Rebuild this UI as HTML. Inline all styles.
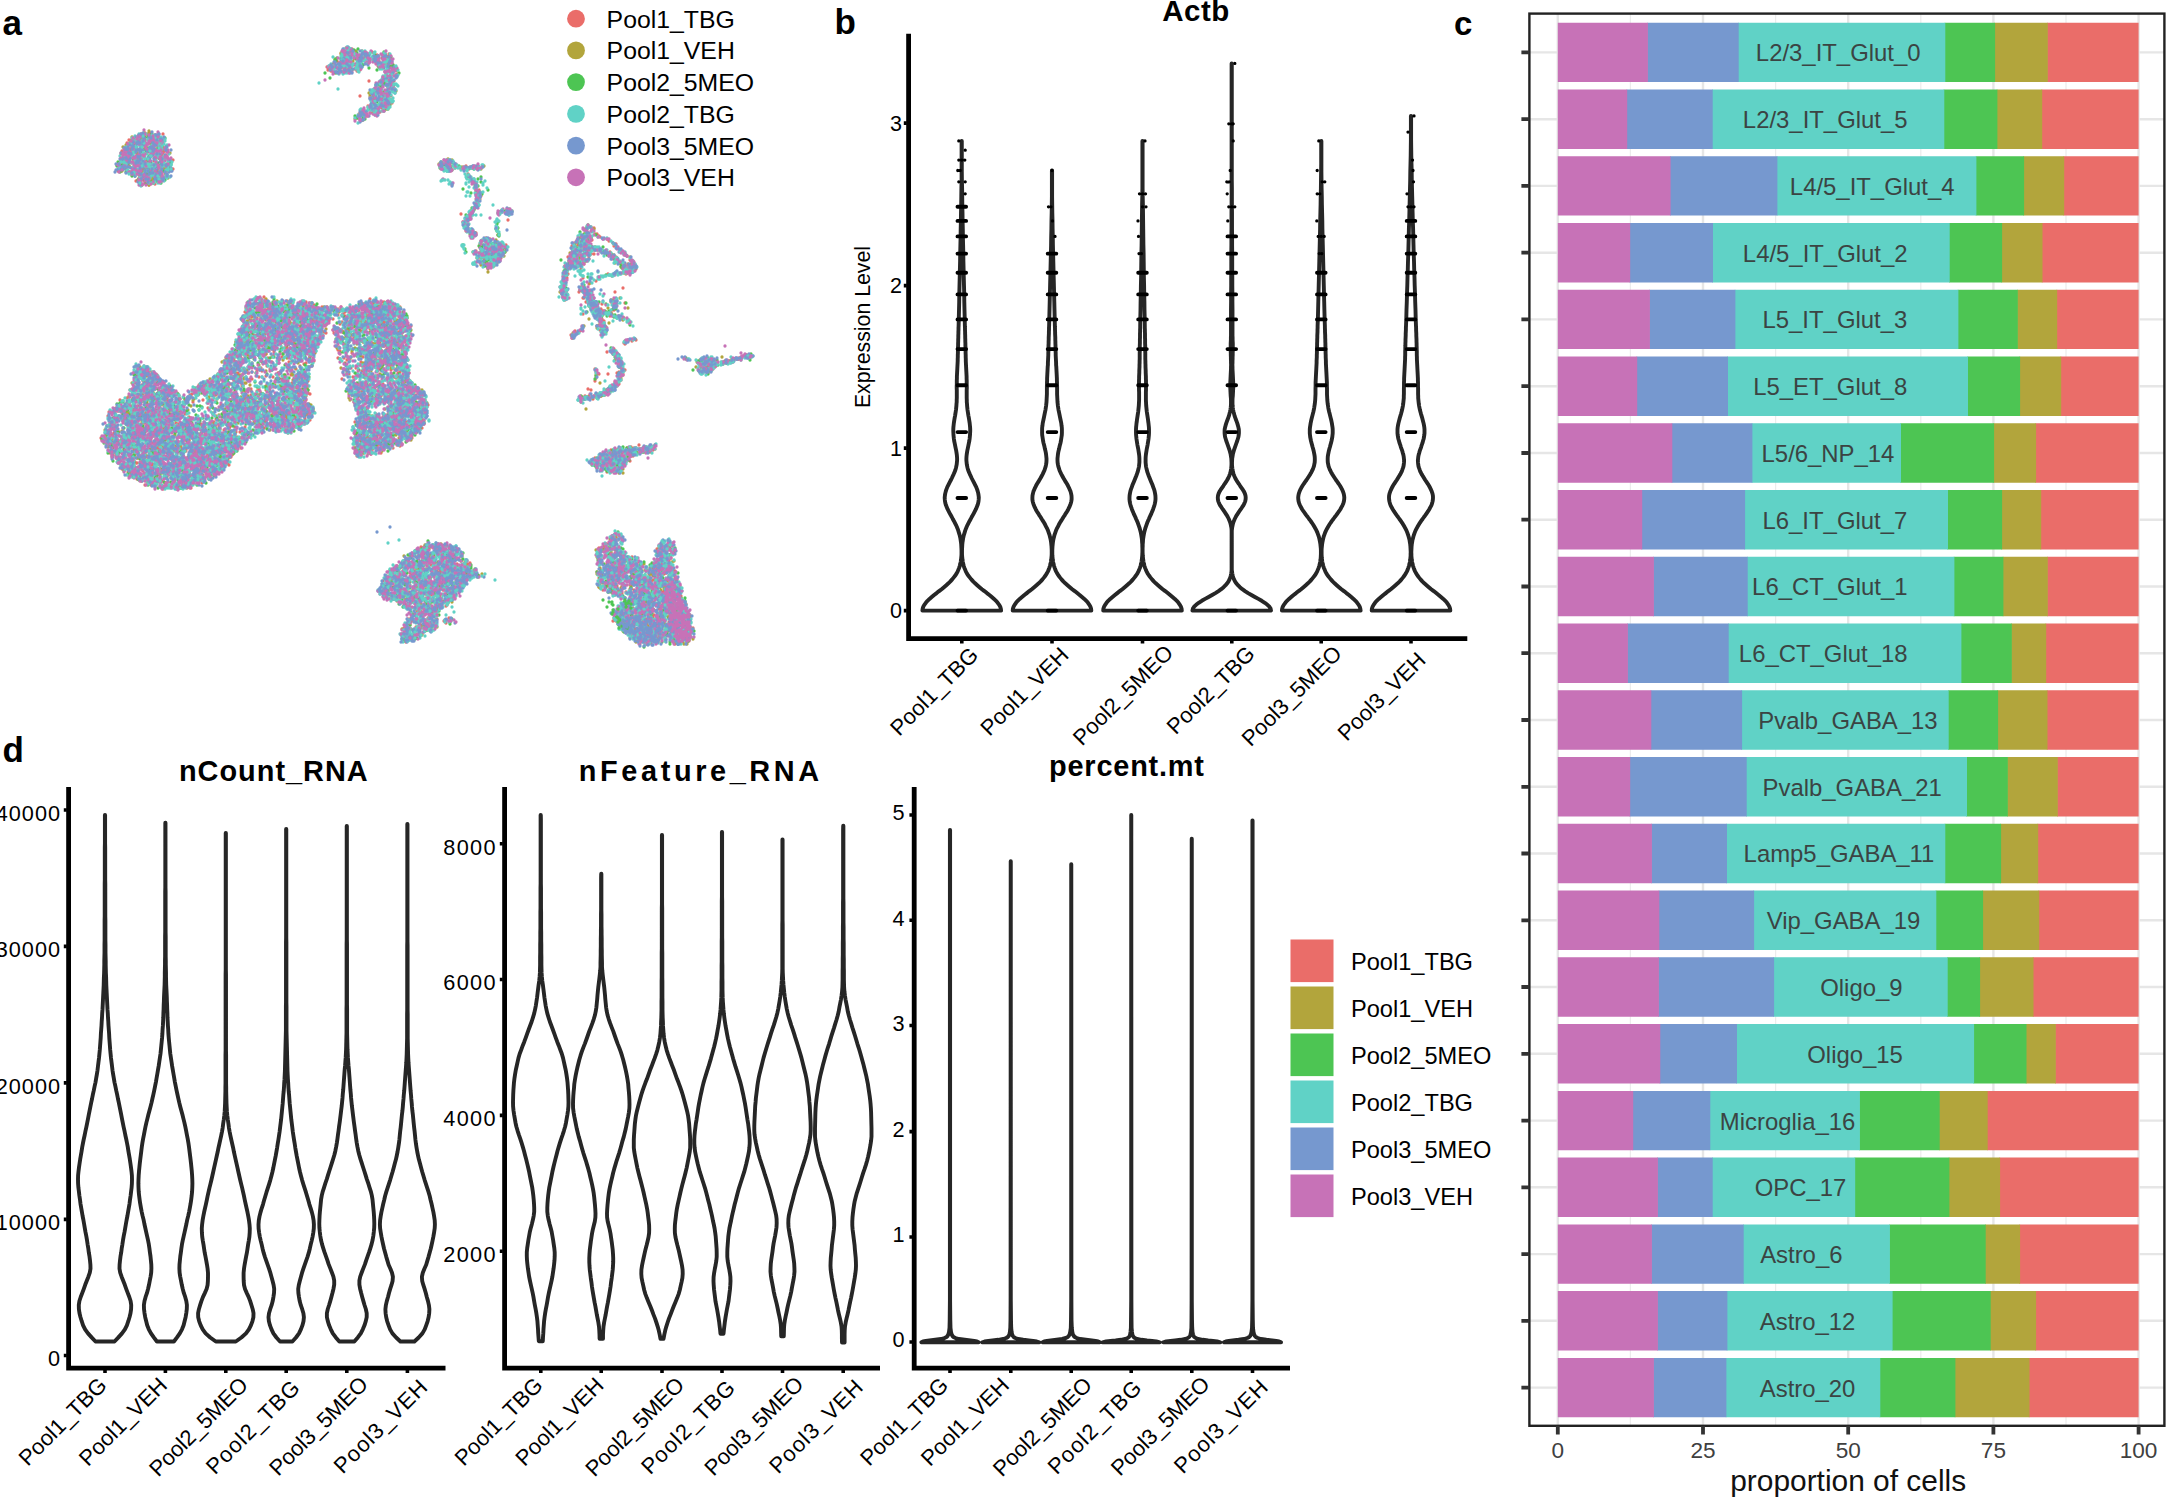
<!DOCTYPE html>
<html><head><meta charset="utf-8"><title>Figure</title>
<style>html,body{margin:0;padding:0;background:#fff}svg{display:block}text{font-family:"Liberation Sans",sans-serif}</style></head>
<body>
<svg width="2168" height="1498" viewBox="0 0 2168 1498">
<rect width="2168" height="1498" fill="#fff"/>
<g id="panel-a"><g fill="none" stroke-width="3.3" stroke-linecap="round">
<path d="M346 48h0m5 2h0m1-1h0m10 2h0m-21 3h0m3 0h0m1-2h0m6 1h0m0 3h0m5 1h0m3-1h0m6-4h0m3 5h0m4-5h0m2 1h0m2 4h0m1-2h0m1 1h0m7-2h0m1 2h0m2 1h0m1-1h0m0-2h0m-52 7h0m2 2h0m3-1h0m10 1h0m3-5h0m3 4h0m6-2h0m12 3h0m2-1h0m1-1h0m3-3h0m3 0h0m2 0h0m0 5h0m1-4h0m1-1h0m0 2h0m1 0h0m-63 7h0m1 1h0m5-4h0m8 4h0m7 0h0m0-3h0m3 4h0m0-3h0m4-1h0m23 1h0m1 1h0m1 1h0m1-1h0m1-1h0m0 0h0m6 1h0m2 0h0m3-2h0m-65 5h0m3 1h0m0 0h0m2 0h0m1 2h0m11-1h0m0 0h0m10-3h0m2 2h0m0 0h0m2-2h0m1 1h0m25 1h0m1 1h0m9-2h0m2 4h0m-28 7h0m14-3h0m0 1h0m7-3h0m2 4h0m2 1h0m2-6h0m-8 11h0m1 0h0m2-4h0m1 1h0m-16 7h0m3 3h0m1 0h0m0-2h0m1-1h0m3 2h0m4 0h0m2-4h0m-30 8h0m14 0h0m0-1h0m1 0h0m1-2h0m7 5h0m1-5h0m1 5h0m0-5h0m1 5h0m2-3h0m3 1h0m-20 3h0m1 2h0m0 0h0m1 0h0m1-2h0m6 5h0m3 1h0m1-3h0m0 1h0m1 0h0m0-3h0m6 0h0m1 3h0m-24 3h0m9 4h0m3-4h0m0 1h0m2 1h0m2 3h0m2-6h0m3 2h0m-30 7h0m4-2h0m1 4h0m3 0h0m3-3h0m3-1h0m7 0h0m-25 7h0m3-1h0m1-1h0m1 3h0m2 0h0m-221 14h0m1 0h0m1 0h0m2-1h0m3 1h0m2 0h0m0-1h0m5 2h0m8-1h0m-34 6h0m2 0h0m3-1h0m3 1h0m2-5h0m1 2h0m0 2h0m1-2h0m1 4h0m2 0h0m1-5h0m0 4h0m3-5h0m3 3h0m5 2h0m5-2h0m-34 5h0m5-2h0m3 2h0m1-1h0m10 3h0m0 2h0m3-4h0m11-1h0m2 4h0m-41 7h0m1-2h0m5-4h0m2 2h0m1 0h0m1 3h0m3 0h0m3-2h0m2 0h0m1-1h0m5-2h0m3 5h0m1-1h0m6 0h0m3 1h0m0-5h0m1 1h0m1-1h0m2 4h0m0-1h0m0 1h0m1 1h0m1-3h0m0 0h0m1 2h0m-44 3h0m3 0h0m0 3h0m2-4h0m1 4h0m4 0h0m6-3h0m1 5h0m1-5h0m5 1h0m5 3h0m0-1h0m1 0h0m0-1h0m4 2h0m3-2h0m1-1h0m1 3h0m3-3h0m1-2h0m3 2h0m-49 10h0m4-1h0m0 0h0m7-1h0m2-1h0m2 1h0m1-1h0m0 0h0m4 1h0m1-1h0m0 2h0m0-3h0m7 3h0m1-4h0m4 5h0m3 0h0m1-4h0m6-2h0m10 6h0m3-5h0m268 4h0m1 1h0m4 0h0m7-3h0m-335 9h0m1-5h0m0 4h0m2 1h0m0-3h0m5 1h0m3-3h0m13 3h0m1 1h0m1-1h0m5 2h0m1-6h0m1 4h0m2-4h0m4 2h0m0 4h0m1-1h0m2-3h0m3 3h0m1-2h0m2-1h0m2-2h0m2 1h0m3 3h0m267-3h0m5 4h0m1-2h0m1 2h0m0-1h0m3 0h0m0 2h0m5-6h0m0 2h0m0 1h0m5 0h0m6-2h0m3 3h0m3-2h0m5-1h0m-345 9h0m4-2h0m3 2h0m0-1h0m7-2h0m2 2h0m6-2h0m6 0h0m3-1h0m2 3h0m2-3h0m301 3h0m-332 7h0m0 0h0m2-1h0m1-2h0m4 2h0m2 3h0m8-3h0m1-2h0m1 1h0m1 1h0m1 0h0m1-1h0m5 1h0m310 0h0m0 3h0m1 0h0m-333 1h0m7 0h0m1 1h0m6-1h0m297 1h0m24 6h0m0-1h0m2 4h0m0 1h0m1-5h0m1 2h0m1 2h0m-3 7h0m0-1h0m0-2h0m1 2h0m1-1h0m1-3h0m-4 7h0m-5 9h0m0-2h0m1-1h0m0 1h0m2-2h0m23 5h0m2-1h0m6 1h0m0-1h0m1-2h0m2 2h0m3-1h0m-51 3h0m5 5h0m5-3h0m0 0h0m-8 6h0m1 1h0m1 2h0m3-5h0m40 0h0m-42 11h0m0-2h0m2-1h0m29 1h0m94-1h0m0-1h0m3 1h0m-124 4h0m6 1h0m0 2h0m0 0h0m22 0h0m83 2h0m1-1h0m4-5h0m2 2h0m3 4h0m6-3h0m2 2h0m1 1h0m-119 4h0m3-2h0m2 2h0m0-3h0m1 1h0m3 0h0m6 3h0m1 0h0m79 0h0m8-1h0m3 0h0m3 0h0m0-2h0m2 1h0m8-3h0m7 2h0m2 2h0m-129 6h0m0-3h0m10 4h0m7-3h0m0-1h0m1 1h0m1 0h0m1 3h0m0-4h0m6 1h0m66 1h0m6-1h0m1-2h0m4 6h0m4-3h0m3-1h0m2 2h0m1 2h0m5-1h0m16-2h0m2-2h0m-140 7h0m5-1h0m3 2h0m4 1h0m0-3h0m3 5h0m0-5h0m1 0h0m0 0h0m0 3h0m0-3h0m6 4h0m2-2h0m2 1h0m3-1h0m1-2h0m70 1h0m5 4h0m3-6h0m2 1h0m2 4h0m3-5h0m0 5h0m3-4h0m0 4h0m4-4h0m0 0h0m11 4h0m1-2h0m1 2h0m-134 4h0m1-1h0m1-1h0m0 0h0m0 1h0m4 0h0m0-1h0m1 4h0m0-2h0m1 0h0m2-1h0m0-1h0m1 3h0m2-3h0m3 4h0m1-3h0m3-2h0m3 4h0m1-1h0m67-1h0m2 0h0m1-2h0m13 0h0m1 5h0m0-5h0m3 4h0m1-3h0m0 3h0m23-4h0m4 2h0m11-1h0m3 4h0m-150 1h0m4 1h0m2 1h0m0-2h0m7 3h0m1 2h0m79-1h0m1-3h0m2 0h0m0 0h0m3 3h0m2-3h0m3 0h0m0 2h0m35-1h0m2 0h0m1-1h0m0 4h0m2 0h0m4-1h0m3 0h0m4 2h0m-147 1h0m0 1h0m78-1h0m1 2h0m0-3h0m13 4h0m1-3h0m43-1h0m3 2h0m2-1h0m0 3h0m1-2h0m0 1h0m1-3h0m0 1h0m1 2h0m4-1h0m-71 8h0m0-3h0m1 2h0m1 2h0m0-3h0m1-1h0m15 4h0m25-4h0m4 2h0m14-2h0m2-1h0m-65 11h0m1-4h0m0 3h0m25 1h0m7-3h0m-34 9h0m0-3h0m0 0h0m3 1h0m2 2h0m14-3h0m1 2h0m1-4h0m5 6h0m35-3h0m0 0h0m-359 9h0m299-3h0m1-1h0m0 0h0m1-2h0m1 4h0m1-1h0m12-2h0m6 1h0m2 3h0m1-3h0m1 1h0m26-2h0m-359 8h0m5-1h0m3 3h0m2-2h0m21 1h0m1 1h0m3 1h0m10 0h0m5-1h0m64-3h0m5 3h0m7 0h0m2 0h0m181-2h0m18-2h0m1 0h0m2 4h0m2-2h0m3 1h0m1 1h0m0-1h0m1 0h0m3 1h0m15 0h0m3 1h0m-368 5h0m13 0h0m2-1h0m0-1h0m1 0h0m3 1h0m1-1h0m2-3h0m1 5h0m4 0h0m7-5h0m1 2h0m1-2h0m0 5h0m5 1h0m2-2h0m2-4h0m0 0h0m3 5h0m5-4h0m4 2h0m1 2h0m2-4h0m7 3h0m1-2h0m2 3h0m1 0h0m5-1h0m11 0h0m8 0h0m18 0h0m1 0h0m2-1h0m5 3h0m5-4h0m2-1h0m4 2h0m3 2h0m2-2h0m8-2h0m1 1h0m1 4h0m5-1h0m0-1h0m2 0h0m189-4h0m2 5h0m0-4h0m1 4h0m1-1h0m0-4h0m2 3h0m1 2h0m5 1h0m1-5h0m12 4h0m0-4h0m11-1h0m-380 9h0m2 1h0m1 0h0m9-2h0m4 1h0m1 1h0m5-3h0m3 5h0m2-5h0m2 2h0m0 0h0m0-2h0m2 4h0m2-4h0m1-1h0m2 1h0m4 1h0m3 2h0m0 1h0m1-2h0m4 3h0m2-2h0m1-1h0m1 3h0m3-4h0m6-2h0m2 4h0m5-3h0m2 2h0m4 0h0m0 2h0m2-4h0m0 3h0m1-2h0m0 0h0m16 4h0m0-6h0m5 5h0m2-2h0m0 0h0m1-2h0m3 1h0m2 0h0m1 3h0m2-4h0m1 2h0m4-1h0m4 3h0m2 0h0m0-3h0m0 2h0m1 2h0m1-4h0m5 1h0m0 3h0m1-2h0m5-2h0m3 0h0m3 1h0m1-3h0m14 3h0m184 2h0m10-5h0m2 0h0m0 4h0m0 2h0m1-3h0m0 2h0m1-1h0m2 0h0m1 0h0m3-2h0m3 1h0m5 1h0m1-3h0m2 0h0m-370 6h0m5 3h0m2-4h0m1 2h0m2-1h0m6 0h0m1 2h0m1-2h0m1 4h0m3-1h0m0-1h0m3 0h0m1 0h0m1-1h0m4 2h0m4 1h0m0-4h0m1-1h0m2 5h0m3 0h0m2 0h0m1-5h0m1 2h0m8-1h0m2 1h0m3-1h0m2 2h0m1-2h0m0 2h0m1 0h0m2-3h0m3 3h0m2 1h0m1 2h0m3-4h0m1 1h0m1 3h0m1-5h0m5 3h0m1-1h0m0-1h0m7 2h0m12-3h0m0 3h0m7-1h0m1-2h0m2 1h0m3 1h0m4 0h0m0 3h0m2-5h0m3 0h0m1 3h0m1-4h0m10 4h0m4-1h0m2-1h0m3-2h0m2 3h0m1-3h0m1 2h0m6 4h0m1-4h0m1-1h0m0 1h0m1 3h0m2-1h0m0-2h0m2 1h0m0 1h0m1 0h0m1-1h0m0 0h0m188-3h0m1 1h0m5 1h0m1 2h0m0-4h0m8 1h0m12 3h0m-379 7h0m5-4h0m5 4h0m6-3h0m0 1h0m3 1h0m4 2h0m3-4h0m7-1h0m2 4h0m4 0h0m3-3h0m1 0h0m0 1h0m1 0h0m2 0h0m11 2h0m1-4h0m7-1h0m0 2h0m7-1h0m2 2h0m0-2h0m0 2h0m1-2h0m4 4h0m1 0h0m3-3h0m3-2h0m11 3h0m2-2h0m6 3h0m1-3h0m0 5h0m6-3h0m1 1h0m1-3h0m3 1h0m2 2h0m0 0h0m1 0h0m0 1h0m2-3h0m4 3h0m2-4h0m6 0h0m3 3h0m0 1h0m1-3h0m0 0h0m2 4h0m1-4h0m0-1h0m0 1h0m2-2h0m0 5h0m9-5h0m1 1h0m3 4h0m2 0h0m1-2h0m4-3h0m1 4h0m1 0h0m0 2h0m3-1h0m189-5h0m0 0h0m4 3h0m0 1h0m0-4h0m1 5h0m-364 6h0m6-3h0m0 0h0m2 2h0m11-2h0m2 0h0m3 0h0m1 0h0m2-1h0m0 1h0m3 3h0m3-3h0m2 1h0m9 1h0m3 0h0m3 0h0m1-2h0m1 2h0m0-2h0m4 3h0m1-2h0m0-1h0m8-1h0m0 2h0m3 1h0m1-4h0m0 6h0m10-5h0m2 3h0m2 1h0m2 1h0m7-3h0m9 1h0m1 1h0m1 0h0m4-3h0m1 0h0m1 3h0m7-4h0m3 0h0m1 3h0m3 0h0m2-3h0m4 1h0m10 3h0m1-3h0m1 0h0m1 3h0m9-1h0m2 0h0m3 1h0m2 0h0m1-1h0m1-1h0m1-1h0m1 2h0m172 0h0m5 0h0m2-1h0m18 0h0m2 2h0m0 0h0m1-4h0m-363 8h0m5-2h0m1-1h0m0 3h0m1-3h0m1 0h0m0 5h0m5-4h0m4 1h0m3-2h0m0 1h0m4 0h0m1 4h0m0-4h0m4 3h0m0-2h0m1 3h0m4 0h0m1-5h0m7 2h0m1 2h0m1-3h0m0 0h0m7-1h0m2 1h0m2 2h0m1-3h0m0 2h0m1 4h0m4-5h0m2 1h0m1 1h0m2 2h0m4-5h0m0 1h0m5 4h0m5-3h0m1 3h0m1-3h0m12-2h0m12 0h0m0 5h0m4-1h0m0-4h0m4 5h0m1-3h0m1-1h0m3 5h0m6 0h0m9-5h0m6 3h0m0 0h0m3 2h0m4-5h0m1 4h0m1-4h0m0 0h0m3 1h0m2-2h0m0 5h0m1 0h0m4 0h0m2 0h0m8-2h0m162-1h0m1 3h0m5-5h0m1 0h0m-342 10h0m0 0h0m0-1h0m2-2h0m2 1h0m3 1h0m1 2h0m1 1h0m1-3h0m0 1h0m0 1h0m1 1h0m4-1h0m0 0h0m7-4h0m5 4h0m4-3h0m0 3h0m2-4h0m0-1h0m12 2h0m1 1h0m0-2h0m5-1h0m3 3h0m3 1h0m1-1h0m6 1h0m1-3h0m3 2h0m2-2h0m0 1h0m2 0h0m1 0h0m3 2h0m1-3h0m0 3h0m3 1h0m1 0h0m1 0h0m28-1h0m0 0h0m1-1h0m13-2h0m4 2h0m6-2h0m2 4h0m5-2h0m3 1h0m4 2h0m2 0h0m0-4h0m0 3h0m3-2h0m3-2h0m8 0h0m2 3h0m3-2h0m0 1h0m4-1h0m215 2h0m1 1h0m7-3h0m4-1h0m-399 7h0m1-1h0m2 4h0m1-3h0m1 3h0m0-3h0m1 0h0m3 4h0m1-5h0m1 3h0m2-3h0m1 1h0m0 1h0m14-2h0m1 4h0m1-2h0m1 1h0m1-2h0m3 2h0m1 0h0m0-4h0m9 3h0m5-1h0m0 1h0m6 2h0m1 0h0m2-5h0m1 0h0m1 0h0m2 3h0m2 2h0m1-5h0m0 5h0m1-4h0m0 1h0m34 3h0m1-3h0m1 4h0m7-3h0m16 1h0m2-3h0m1 2h0m7-2h0m2 1h0m1 1h0m1-2h0m2 3h0m3-3h0m4 4h0m1-1h0m2-4h0m0 0h0m0 2h0m1 0h0m3 3h0m3 0h0m1-4h0m2 1h0m2-2h0m1 5h0m2-2h0m2 1h0m0 1h0m208-1h0m-383 7h0m3-3h0m1 1h0m2 0h0m1 1h0m2 2h0m1-6h0m1 2h0m0 1h0m1-2h0m6 3h0m5 2h0m6-4h0m3 2h0m1 1h0m2-2h0m6 3h0m2-5h0m14 1h0m7 0h0m1 1h0m12-1h0m1 0h0m3-1h0m3 0h0m37 1h0m6 1h0m5 3h0m2-6h0m4 1h0m0 0h0m7 1h0m2 0h0m2 0h0m1 3h0m2-2h0m3 2h0m3-2h0m1-3h0m5 6h0m0-5h0m10-1h0m202 1h0m5 0h0m1 1h0m5 3h0m0-2h0m129 1h0m-513 8h0m4-6h0m2 1h0m5-1h0m1 3h0m22-2h0m4 4h0m10-5h0m7 5h0m3-1h0m6-3h0m8 5h0m4-6h0m4 4h0m24-3h0m6 0h0m3 2h0m14 3h0m0-1h0m4 1h0m3 0h0m3-4h0m2 4h0m2-4h0m4 1h0m2 0h0m1 3h0m4-4h0m1-2h0m1 5h0m1-3h0m1 3h0m1-5h0m2 5h0m0-1h0m1 1h0m2-4h0m5 3h0m2-1h0m2 3h0m3-3h0m211-2h0m2 3h0m63-3h0m16 3h0m3-1h0m1 1h0m1 0h0m2-2h0m0 2h0m2-1h0m3 2h0m0 0h0m1-2h0m0 2h0m12-1h0m1 1h0m2 0h0m1-1h0m3-2h0m0 3h0m4-3h0m3-1h0m0 1h0m-596 10h0m3-1h0m1 1h0m79-3h0m7 2h0m1-2h0m0-3h0m2 2h0m1-2h0m0 4h0m4-3h0m0 0h0m10 3h0m1-4h0m9 5h0m6-2h0m3 3h0m5-3h0m3-3h0m18 6h0m4-3h0m4-2h0m5 3h0m3-1h0m33-3h0m6 5h0m5 0h0m6-2h0m0-1h0m3 0h0m1 0h0m2 2h0m2 0h0m1 0h0m3-3h0m5 5h0m1-6h0m2 5h0m8-3h0m1 0h0m2-1h0m9 0h0m0 3h0m1 2h0m1-5h0m0 4h0m2-2h0m189 3h0m23-5h0m4 2h0m0 1h0m1 2h0m80-2h0m2 0h0m1-1h0m0-2h0m4 0h0m2 2h0m2 1h0m2-1h0m1-2h0m9-1h0m-591 9h0m4 0h0m1 1h0m0 0h0m0 1h0m8-2h0m1-1h0m3 1h0m1 3h0m0 0h0m4 0h0m61-1h0m5-4h0m8 1h0m1-1h0m1 1h0m2 2h0m0 0h0m2-4h0m1 4h0m0 2h0m10-2h0m4-1h0m5-1h0m0-1h0m5 1h0m16 2h0m1 1h0m11-5h0m10 4h0m2-1h0m45-1h0m2 3h0m13-3h0m4 3h0m1-4h0m10 1h0m14-1h0m7 3h0m2-1h0m9 1h0m187-1h0m3 2h0m9 0h0m9-1h0m2-1h0m4 2h0m2-4h0m77-1h0m0 2h0m4-2h0m1 3h0m1 1h0m5-4h0m-576 10h0m3-2h0m3 4h0m2-5h0m0 5h0m1 0h0m2 0h0m1-1h0m2-1h0m62 0h0m6 2h0m3-4h0m2-1h0m1 5h0m5-3h0m9-1h0m5 2h0m6 0h0m2 0h0m7-2h0m7-1h0m7 1h0m6 1h0m3 1h0m3-1h0m1-1h0m5-2h0m6 4h0m0 1h0m2-2h0m2-3h0m1 1h0m6 4h0m34-1h0m11-2h0m4-2h0m6 1h0m3-1h0m3 2h0m7 3h0m1-2h0m10 0h0m7-1h0m2 1h0m9 0h0m1 3h0m2-3h0m0 0h0m187 3h0m1-3h0m24 2h0m0 0h0m1 0h0m2-5h0m-488 8h0m3 1h0m4 1h0m2 1h0m1 1h0m3-2h0m3-2h0m3 3h0m0-5h0m3 0h0m1 3h0m6-1h0m6 3h0m29-1h0m8 1h0m2-3h0m1 1h0m0 3h0m0-2h0m2 0h0m5 0h0m2-4h0m8 1h0m1 5h0m3-3h0m3-2h0m7 1h0m1-1h0m0 4h0m24 0h0m1-1h0m13 1h0m12-3h0m0 3h0m3-1h0m0 2h0m1 0h0m0-6h0m1 5h0m2-4h0m2 0h0m5 0h0m2-1h0m51 2h0m2 2h0m1 0h0m14 1h0m4-4h0m3 2h0m14-2h0m6 1h0m2 3h0m5 1h0m2-4h0m203 3h0m0-3h0m0-1h0m2 4h0m2-2h0m-489 6h0m4-2h0m2 1h0m2-2h0m12 3h0m0 1h0m1-4h0m1 1h0m0 3h0m1-2h0m9-1h0m1-1h0m1 4h0m6 2h0m0-2h0m7 2h0m19-4h0m2 4h0m2-5h0m1 0h0m3 2h0m5-2h0m3 2h0m2-2h0m4 1h0m1-1h0m4 4h0m1-4h0m8 5h0m3-4h0m10 2h0m6 0h0m0-2h0m6 2h0m2-3h0m0 1h0m16-2h0m6 1h0m3 2h0m0-2h0m1 0h0m3 4h0m2-4h0m7 4h0m2-3h0m2 4h0m1-4h0m3 0h0m3 1h0m40 1h0m4 1h0m1-5h0m2 1h0m3 0h0m3 1h0m1 2h0m4-3h0m3 0h0m3 1h0m10 3h0m3-3h0m2 2h0m10 1h0m2-4h0m8 3h0m1-3h0m4 2h0m0 3h0m3-5h0m4 1h0m3 3h0m166-3h0m3 1h0m15 0h0m0 2h0m2 0h0m2-2h0m1 0h0m3-3h0m-487 11h0m2-1h0m4 1h0m0-5h0m5 2h0m2-1h0m6-1h0m0 3h0m7 0h0m2 1h0m0 2h0m4-5h0m3 3h0m8-2h0m1 0h0m1 2h0m2-2h0m5 3h0m0-2h0m11 1h0m0-2h0m1 2h0m1-3h0m5 0h0m9-1h0m7 1h0m7 1h0m11 0h0m0-1h0m1 1h0m1 2h0m0-2h0m3 4h0m2-2h0m7 0h0m0-3h0m0 5h0m2-3h0m4-1h0m6-1h0m8 1h0m1 3h0m5-1h0m17-2h0m2 3h0m1-4h0m2 3h0m6-3h0m6 3h0m1-1h0m2-3h0m2 1h0m42 0h0m1 1h0m1 1h0m2-3h0m1 1h0m1 3h0m4-2h0m0 3h0m7 0h0m0-1h0m0-4h0m1 1h0m2 0h0m4 1h0m1 2h0m8-2h0m0 4h0m4-6h0m1 5h0m3-5h0m5 4h0m3-4h0m0 2h0m2 2h0m4-4h0m1 2h0m1 4h0m0-6h0m4 5h0m3-3h0m3 3h0m2-4h0m3 0h0m157 4h0m1 0h0m1 0h0m1 0h0m1 0h0m0-2h0m4 0h0m4 3h0m1-3h0m0 1h0m1-1h0m2-2h0m1 4h0m1-2h0m1 0h0m1 0h0m0-1h0m1-2h0m2 2h0m1 0h0m-485 5h0m14 4h0m4-2h0m9 1h0m4-3h0m4 3h0m4-3h0m1 0h0m4 5h0m4-4h0m6 2h0m4-1h0m6 1h0m1-3h0m8 2h0m10-2h0m5 3h0m2-3h0m6 2h0m13-3h0m0 6h0m1-1h0m3 0h0m2-2h0m1-2h0m2 3h0m0 2h0m2-5h0m2 3h0m1 0h0m0-1h0m2 2h0m1-5h0m1 4h0m4 1h0m2-1h0m2-3h0m1 2h0m5 2h0m1-5h0m10 3h0m1 2h0m4-3h0m1 3h0m2 1h0m1-1h0m3-4h0m6 1h0m7 2h0m3 1h0m1-2h0m4-1h0m1-1h0m0 5h0m48-3h0m3-1h0m1 3h0m5-4h0m3 3h0m4-2h0m2 3h0m0-3h0m7 0h0m1 1h0m3-1h0m1 1h0m3-2h0m2 2h0m0 1h0m6-3h0m1 5h0m4-4h0m2 4h0m1-2h0m1-1h0m2 2h0m1-2h0m1 0h0m2-2h0m6 4h0m1 0h0m1 0h0m0-1h0m7-3h0m2 5h0m-311 3h0m3 3h0m4-3h0m1 0h0m1 1h0m9 0h0m7-1h0m5 1h0m3-1h0m0 1h0m0-3h0m9 0h0m2 0h0m1 3h0m3-3h0m2 1h0m2-2h0m2 5h0m2-4h0m2 4h0m12 1h0m22-3h0m4-1h0m4 2h0m5-4h0m16 2h0m0 1h0m1-2h0m2 0h0m2 2h0m0 0h0m5 3h0m4-5h0m1 4h0m5-2h0m3-2h0m2 0h0m0 4h0m1-1h0m2 1h0m6-1h0m1-3h0m1 2h0m1-1h0m1 3h0m9-4h0m3-1h0m3 0h0m5 2h0m0-1h0m2 1h0m0 4h0m1-1h0m0-5h0m0 3h0m4-1h0m1 2h0m1 1h0m2 0h0m7-1h0m42-4h0m1 4h0m4-2h0m8 0h0m22-1h0m2 1h0m0 1h0m1-1h0m1 4h0m7-1h0m1 0h0m3-3h0m5 2h0m8-4h0m1 1h0m0 3h0m9-4h0m-320 11h0m1-4h0m9-1h0m1 0h0m3 1h0m1 2h0m0-2h0m0 5h0m1-2h0m1-4h0m0 4h0m5-2h0m3 0h0m1 3h0m2-3h0m3 4h0m2-3h0m0-2h0m3 2h0m2-2h0m2 1h0m3 1h0m0 2h0m1 0h0m9-1h0m2 0h0m0-2h0m8 1h0m4 1h0m2 1h0m0-4h0m2 2h0m2 3h0m4-3h0m31 2h0m8-4h0m0 5h0m1 0h0m7-4h0m1 2h0m0 1h0m8-1h0m5-1h0m1 0h0m0 1h0m2-3h0m1 0h0m0 1h0m0 0h0m1-2h0m2 6h0m2-3h0m2 1h0m7-3h0m3 0h0m2 3h0m3 0h0m0 2h0m1-3h0m0-1h0m2 2h0m1 1h0m2-4h0m1 2h0m3 2h0m1-4h0m0 3h0m3 1h0m2 0h0m5 0h0m1-3h0m2 4h0m1-4h0m4-1h0m2 0h0m2 4h0m2-2h0m1-1h0m3 4h0m1-4h0m0 1h0m2-2h0m46 0h0m3 3h0m20 2h0m1 0h0m4-3h0m4-1h0m0 3h0m2-1h0m1-3h0m0 0h0m4 0h0m1 0h0m0 3h0m1-3h0m2-1h0m6 1h0m3 3h0m0 1h0m2-4h0m2-1h0m2 2h0m3 2h0m0 1h0m2-1h0m-311 4h0m3 3h0m8-1h0m1-2h0m1-2h0m4 5h0m2-1h0m3-1h0m0-2h0m5 2h0m4 2h0m1 1h0m1 0h0m9 0h0m0-5h0m1 4h0m4-5h0m1 3h0m1-2h0m0 4h0m1 0h0m0-4h0m2 3h0m0 2h0m1-3h0m11 3h0m13-6h0m2 1h0m8 5h0m12-2h0m3 1h0m2-3h0m2 1h0m21-1h0m2 0h0m3-1h0m2 0h0m5 0h0m5 2h0m2-1h0m0 1h0m3 1h0m0-3h0m3 4h0m1-1h0m1 0h0m2-3h0m3 3h0m1-1h0m0 1h0m3-1h0m5 0h0m0 3h0m0-1h0m3-5h0m3 0h0m1 2h0m2 1h0m3 3h0m3-5h0m1 4h0m3-3h0m6 0h0m5 1h0m45 2h0m5 0h0m0-5h0m2 1h0m1 0h0m5 0h0m2 4h0m1-4h0m7-1h0m0 0h0m1 6h0m1 0h0m4-5h0m6 1h0m0 1h0m3 0h0m4 1h0m5-1h0m2-2h0m1 4h0m2 0h0m2-1h0m1 0h0m1-1h0m3-3h0m2 5h0m2-3h0m4 1h0m-311 8h0m1 0h0m2 0h0m0-2h0m1-1h0m8 3h0m6-2h0m2-2h0m1 0h0m1 4h0m3-2h0m5-2h0m0 5h0m1-1h0m4 0h0m3-2h0m5-2h0m1 2h0m0-2h0m1 3h0m4 2h0m2-3h0m2 2h0m0 1h0m1-1h0m9-2h0m2 1h0m2-3h0m4 0h0m0 3h0m0-3h0m1 0h0m0 5h0m1-2h0m1 0h0m0-2h0m1 4h0m15-5h0m2 1h0m10-1h0m0 2h0m2 0h0m1 2h0m3-2h0m11 1h0m2-2h0m3 2h0m10 0h0m15 0h0m4 1h0m5-3h0m7-1h0m5 4h0m5-4h0m2 5h0m2-5h0m5 3h0m9-4h0m55 3h0m3 3h0m1-3h0m0 3h0m0-5h0m1-1h0m4 0h0m2 5h0m1 0h0m1-2h0m4-2h0m3 0h0m3 1h0m4 1h0m2-2h0m0 2h0m1-1h0m5-1h0m3 2h0m1 2h0m3-2h0m2-3h0m5 5h0m1-1h0m4 0h0m3-2h0m4 2h0m2 1h0m2-4h0m-312 11h0m2-2h0m2-2h0m3 1h0m11 1h0m1 1h0m5 0h0m5-4h0m1 4h0m2-2h0m5 3h0m2-1h0m3-2h0m1 2h0m5-2h0m9 0h0m4-1h0m2 1h0m0-2h0m0 1h0m2 0h0m3 3h0m2-3h0m1 0h0m1 1h0m0 1h0m1-2h0m3 0h0m7 2h0m1-1h0m2 2h0m3 0h0m3-3h0m1 2h0m3-1h0m2 1h0m3-3h0m0 0h0m6 2h0m5 3h0m0-5h0m11 3h0m1-1h0m4 0h0m4 1h0m11-2h0m1 1h0m4-1h0m2 0h0m26 2h0m2-3h0m2 0h0m0 0h0m63 4h0m3-2h0m3 2h0m0 0h0m3-2h0m1-3h0m3 4h0m1-2h0m3 2h0m0-3h0m8 3h0m1-4h0m0 5h0m1-3h0m10 4h0m3-4h0m0 1h0m4-1h0m2 1h0m3 0h0m0-3h0m1 4h0m1-2h0m1 1h0m3 2h0m2-5h0m1 4h0m1-1h0m-313 6h0m1 1h0m0 1h0m2 0h0m0-2h0m1 0h0m1 0h0m2 2h0m4-1h0m3-1h0m7 1h0m1 0h0m1-4h0m5 6h0m5-1h0m3-5h0m1 5h0m3-4h0m3-1h0m2 6h0m0-1h0m2-1h0m2 0h0m1 0h0m4 2h0m1-2h0m3-4h0m1 1h0m5 3h0m1 1h0m0-2h0m8-2h0m0 0h0m11 4h0m4 0h0m1-3h0m5 2h0m3-1h0m6 1h0m0-3h0m3 1h0m4 0h0m3-2h0m4 3h0m3 1h0m2-4h0m0 1h0m2 1h0m2 3h0m1-1h0m2 2h0m1-1h0m0 1h0m2-5h0m2 2h0m1-1h0m0 2h0m1-2h0m5 0h0m114-1h0m1 0h0m1 5h0m2-3h0m2 1h0m3 0h0m0-4h0m1 2h0m3 0h0m1 0h0m0 1h0m2-3h0m3 2h0m1 3h0m1-3h0m0-2h0m0 0h0m4 2h0m9-1h0m10 3h0m1-3h0m0 4h0m0 0h0m3-3h0m2 2h0m1-1h0m3 0h0m1-1h0m1 1h0m0-2h0m-307 5h0m1 2h0m9 1h0m2 0h0m4 2h0m1-4h0m1 1h0m0-1h0m1 3h0m1-1h0m8-1h0m0 3h0m1-1h0m2 0h0m10-2h0m6 0h0m3 4h0m1-1h0m1-2h0m2 2h0m0-1h0m3-2h0m0 2h0m2-3h0m0 5h0m2-3h0m4-2h0m11 3h0m0 2h0m4-1h0m7 1h0m3-3h0m5 1h0m4-3h0m11 4h0m0 0h0m7-5h0m0 2h0m0 4h0m1-4h0m4 2h0m4-1h0m2-3h0m0 5h0m5-1h0m0-3h0m1 3h0m122-4h0m0 4h0m1-3h0m2 3h0m3-2h0m4 1h0m3 1h0m3 1h0m2-2h0m2 1h0m8-1h0m2-1h0m4 0h0m2 2h0m3 1h0m2-2h0m237 1h0m10 2h0m-538 3h0m1-3h0m6 3h0m1 2h0m1 0h0m4-2h0m0 0h0m10-1h0m0 1h0m2 1h0m9-2h0m3 2h0m0-1h0m4 0h0m1-2h0m1-1h0m1 5h0m1-1h0m1-3h0m2 0h0m4 0h0m1 0h0m2 4h0m1-5h0m1 1h0m0 2h0m1-1h0m1 0h0m0 2h0m4 0h0m4 1h0m4-3h0m2 3h0m2-3h0m0-1h0m0 3h0m5 1h0m0-1h0m4 1h0m1-2h0m2 2h0m1-3h0m1 3h0m10-5h0m1 4h0m0-4h0m1 4h0m1-1h0m0-1h0m0 1h0m2 1h0m2 0h0m3-3h0m1 2h0m0 1h0m1-4h0m0 4h0m2-4h0m2 5h0m0-2h0m7 2h0m1-3h0m7-1h0m114 0h0m8 3h0m0 1h0m1 1h0m2-4h0m2 1h0m0-1h0m2-1h0m1 2h0m2-1h0m8 4h0m12-5h0m218 2h0m2 1h0m3 1h0m2-3h0m2-1h0m0 2h0m2 0h0m0 2h0m5 0h0m2-1h0m1-3h0m1-1h0m1 2h0m2-1h0m6 4h0m3 0h0m5-4h0m1 0h0m2 0h0m2 2h0m1-1h0m1 0h0m-545 4h0m2 0h0m0 3h0m1-1h0m5-1h0m0 0h0m7 2h0m0 0h0m1 3h0m2-5h0m5 4h0m2-3h0m3 3h0m2-1h0m0 1h0m3-5h0m2 5h0m2-2h0m2 2h0m5-3h0m3 0h0m0 2h0m2-1h0m1-2h0m2 1h0m2 1h0m3-3h0m12 6h0m4-3h0m8 2h0m0-2h0m1 1h0m3-2h0m1 0h0m6 2h0m6-3h0m2 3h0m5-1h0m0-2h0m1 2h0m3-2h0m1 3h0m1-4h0m2 4h0m0 0h0m3 0h0m4 0h0m1 0h0m1-2h0m125 1h0m7-3h0m4 1h0m3 0h0m224 4h0m4 1h0m4-5h0m1 0h0m0 2h0m1 2h0m4-3h0m0 2h0m4-3h0m0 2h0m3 2h0m0 1h0m1-6h0m1 4h0m0 0h0m1-1h0m1 0h0m0-1h0m2 0h0m3-2h0m3 4h0m3-2h0m2 1h0m4-2h0m0-1h0m-517 10h0m15-1h0m1 1h0m1 0h0m5-3h0m3-1h0m6 6h0m1-2h0m3-4h0m1 3h0m0 2h0m4 1h0m0 0h0m2-3h0m2 1h0m5 1h0m1 1h0m4-4h0m7 1h0m0-1h0m10 3h0m1-3h0m2-1h0m3 3h0m4-2h0m6-1h0m4 2h0m1-1h0m1-1h0m5 4h0m2-1h0m1-1h0m2 1h0m4 0h0m1 1h0m0-5h0m0 2h0m362 1h0m2-2h0m0 1h0m4 2h0m4 1h0m3-4h0m0 5h0m0-5h0m3 3h0m0-1h0m1-1h0m2 3h0m1-2h0m1 1h0m0 1h0m1-4h0m6 1h0m2 2h0m3-1h0m1 2h0m2-2h0m4-1h0m-509 6h0m1 2h0m1 0h0m0 0h0m1-4h0m0 1h0m0 2h0m3 0h0m2 2h0m5-4h0m1 1h0m6-1h0m2 5h0m5 0h0m4-6h0m1 4h0m4-1h0m2 3h0m1-2h0m0-1h0m3 1h0m5-3h0m5 2h0m3 2h0m5-1h0m2 2h0m2-4h0m13 3h0m3-5h0m0 6h0m2-4h0m2 4h0m1-4h0m1 1h0m4-2h0m1 3h0m3-4h0m5 4h0m1 1h0m1-1h0m1 0h0m6-4h0m373 1h0m0 1h0m7 3h0m0-5h0m2 5h0m0-2h0m1-2h0m3 5h0m1-5h0m3 0h0m0 5h0m1-2h0m1 0h0m-493 3h0m2 0h0m2 1h0m4 4h0m0-2h0m1 0h0m2-2h0m8 4h0m2-6h0m0 4h0m1 0h0m2 1h0m3-2h0m2 1h0m10-2h0m6 1h0m0 0h0m1 1h0m10-2h0m4-1h0m0 3h0m1-2h0m5 0h0m1 1h0m3 3h0m1-1h0m0-4h0m5-1h0m2 1h0m6 2h0m395-2h0m4 0h0m-474 7h0m1 0h0m3 2h0m1 0h0m1-2h0m3-1h0m1 3h0m1 1h0m3-2h0m4 2h0m2-4h0m0 1h0m0 3h0m3 0h0m2-1h0m3 2h0m1-5h0m1 0h0m1 4h0m3-4h0m3 3h0m1-3h0m2 0h0m3 2h0m0-2h0m2 1h0m2 0h0m8 1h0m4-2h0m8 1h0m5-1h0m1-1h0m0 0h0m1 2h0m-66 6h0m6 0h0m5 0h0m5 2h0m0-2h0m1 3h0m1 1h0m0-2h0m3 0h0m7 0h0m1 0h0m3-1h0m1-2h0m1 2h0m4-1h0m3 1h0m1 2h0m3-3h0m1-1h0m0 2h0m0-2h0m0 4h0m6-4h0m5-1h0m414 53h0m0 1h0m1-3h0m5 3h0m-9 1h0m1 1h0m7-2h0m-200 11h0m0-1h0m3 0h0m7 0h0m5 0h0m2-3h0m4 4h0m2-2h0m5 1h0m150 1h0m5-2h0m3-2h0m0 3h0m0-3h0m3 0h0m1 2h0m3 3h0m3 0h0m40 0h0m3-4h0m2-1h0m7 2h0m0-1h0m4 0h0m-261 9h0m6-3h0m2-2h0m0 1h0m1 0h0m7 3h0m1 2h0m9 0h0m1-3h0m1 1h0m2-1h0m4 0h0m2-1h0m3 4h0m4 0h0m145-3h0m0-2h0m3 1h0m1-2h0m7 1h0m0 3h0m3-4h0m1 1h0m9 5h0m34-2h0m2-4h0m2 2h0m7 4h0m2-1h0m-257 7h0m1-5h0m17 1h0m3 1h0m6 2h0m0-4h0m2 4h0m0-1h0m4 1h0m2-3h0m0 3h0m1-1h0m2 2h0m9-5h0m137 2h0m2 2h0m1-3h0m10 2h0m2-3h0m5 5h0m4-5h0m8 4h0m2-3h0m24 4h0m1 0h0m5-2h0m0 0h0m3 0h0m2 0h0m1-3h0m2 3h0m1-4h0m0 3h0m-274 8h0m5-2h0m0 3h0m4-4h0m0-1h0m5 5h0m0-2h0m2-4h0m3 4h0m0 0h0m2-2h0m2 3h0m3 0h0m1-3h0m0-1h0m0 2h0m7 1h0m2 0h0m5 0h0m0-2h0m5 2h0m1 1h0m3-3h0m4 0h0m0 2h0m1-2h0m1-2h0m3 4h0m1-1h0m7 3h0m0-3h0m1-2h0m1-1h0m1 6h0m0-3h0m2 1h0m0-1h0m1-1h0m137 1h0m1-1h0m0 0h0m5 2h0m2-1h0m4-2h0m2 0h0m7 3h0m1-2h0m1-2h0m1 5h0m5-4h0m3 0h0m1 1h0m2 2h0m13 2h0m7-4h0m1 4h0m3-2h0m3-3h0m2 5h0m-280 6h0m1-3h0m1 2h0m1-2h0m1 1h0m4 1h0m4-1h0m1-4h0m1 5h0m1-3h0m1-1h0m8 3h0m2-2h0m1-2h0m1 2h0m0 4h0m1-1h0m1-3h0m4 1h0m0 2h0m2-2h0m5 0h0m3 1h0m0-1h0m2 1h0m1 1h0m1-4h0m0 4h0m1 0h0m0-3h0m1 2h0m0-1h0m3-1h0m3 0h0m1 0h0m1 3h0m1-4h0m3 3h0m0 1h0m1-1h0m1-1h0m3-1h0m1-1h0m1 1h0m5-1h0m3 3h0m1 2h0m1-2h0m3 0h0m2-1h0m122 2h0m3-3h0m7-2h0m0 3h0m1-2h0m0 0h0m4 2h0m0-2h0m2 0h0m1 4h0m1-4h0m1 0h0m17 2h0m11 0h0m5-2h0m2 1h0m2 2h0m1 0h0m3-3h0m0-1h0m2 4h0m1 0h0m2-3h0m1 5h0m2 0h0m4-6h0m2 1h0m1 3h0m0-3h0m0 2h0m2 1h0m-288 7h0m3-3h0m1 1h0m1 1h0m1 1h0m2-1h0m1 1h0m2-2h0m2-3h0m0 1h0m0 3h0m2-3h0m8-1h0m2 2h0m2 2h0m9 1h0m0 0h0m2-2h0m9 0h0m5-3h0m1 0h0m1 1h0m4 4h0m0-4h0m1-1h0m2 3h0m1 3h0m1-5h0m2 4h0m1-2h0m3 2h0m3-3h0m1 2h0m0-1h0m2-3h0m2 4h0m1-4h0m0 1h0m2 1h0m0-2h0m3 2h0m9 1h0m120 2h0m4-1h0m2 0h0m2 0h0m1 1h0m0-3h0m0-1h0m1 0h0m1 0h0m11 1h0m2 0h0m4 2h0m4 0h0m2-3h0m1-1h0m1 0h0m2 1h0m1 0h0m0-1h0m5 6h0m3-1h0m3-1h0m0-3h0m1 0h0m3 2h0m1-3h0m1 3h0m1 1h0m0-3h0m2 2h0m0 0h0m1-2h0m4 0h0m1 0h0m5 3h0m6-4h0m0 2h0m0 3h0m-292 3h0m3 2h0m0 0h0m3-2h0m3-2h0m8 4h0m1-2h0m8 3h0m7-2h0m2 2h0m0 0h0m1-5h0m7 6h0m1-3h0m3-2h0m2 4h0m1-1h0m9 1h0m1-3h0m5 0h0m3 2h0m2 1h0m1 0h0m3-4h0m143 3h0m0 1h0m0 1h0m6-3h0m2-1h0m2-1h0m5 1h0m1 3h0m2-3h0m2 1h0m12 3h0m3-4h0m0-2h0m9 3h0m4 1h0m2 1h0m1-2h0m2-2h0m4 0h0m0 1h0m3 1h0m1-2h0m2 4h0m1-3h0m1 2h0m2-2h0m1 0h0m1-2h0m1 5h0m1-2h0m1-1h0m2 4h0m1 0h0m2-5h0m-293 7h0m2 0h0m0 2h0m4-3h0m1 1h0m2 0h0m2-1h0m1 1h0m2 3h0m0 1h0m1-6h0m7 5h0m7 0h0m2-3h0m6 3h0m3-5h0m2 4h0m2 2h0m0 0h0m7-1h0m4-3h0m4 3h0m2-2h0m1 1h0m0 0h0m4 1h0m3-2h0m2 1h0m1-1h0m4 3h0m1-2h0m138-2h0m4 3h0m3-3h0m2-2h0m1 1h0m2 4h0m1-4h0m1-1h0m2 4h0m2-3h0m1 4h0m4-4h0m8 3h0m1 0h0m3 1h0m6-4h0m3 3h0m0 0h0m2-4h0m6 3h0m1 1h0m0 0h0m1 2h0m0-3h0m3-3h0m1 3h0m7 3h0m1-5h0m0 3h0m2-2h0m4 2h0m3 1h0m1-2h0m4-2h0m1 0h0m-296 11h0m2-1h0m4-1h0m2-1h0m0 2h0m4-4h0m1 0h0m1 4h0m1 0h0m4 0h0m3-2h0m0 1h0m3-3h0m4 5h0m3-2h0m3-1h0m0-1h0m3 1h0m7 1h0m2-3h0m0 3h0m0 0h0m3-3h0m0 1h0m3 3h0m8-2h0m1 1h0m1-1h0m1-1h0m0 3h0m0-5h0m2 5h0m0-4h0m2 3h0m160-4h0m1 3h0m1 1h0m1 0h0m3-3h0m4 1h0m4-1h0m5 3h0m5 1h0m2-5h0m4 0h0m12 2h0m0-1h0m1 2h0m0 3h0m3-5h0m1 0h0m1 2h0m1-2h0m2 1h0m1 3h0m0 0h0m1-3h0m1 0h0m0-2h0m0 1h0m5 5h0m0-1h0m0-1h0m1 0h0m7-3h0m2 4h0m-285 2h0m1 2h0m0 1h0m3-3h0m6 2h0m1-1h0m2-1h0m0 0h0m5-1h0m0 3h0m0 1h0m4-1h0m1 3h0m2-3h0m4-1h0m0 2h0m1-1h0m0-2h0m2 0h0m3 3h0m3 0h0m2 0h0m10-1h0m2 0h0m7-2h0m169 0h0m6 2h0m0 0h0m1 2h0m3-1h0m7-2h0m4 0h0m5-1h0m1 4h0m0-2h0m3 2h0m6-1h0m2-1h0m2-1h0m1 3h0m3-5h0m0 0h0m2 4h0m0-1h0m5-1h0m0 1h0m2-1h0m2 4h0m-275 2h0m1-1h0m4 0h0m7 0h0m8 1h0m4-1h0m7-1h0m0 5h0m1-1h0m3-3h0m3 0h0m4 2h0m1-1h0m177 2h0m1-1h0m2-1h0m4-2h0m2 5h0m0 0h0m10 0h0m1-1h0m3-2h0m0 1h0m3 2h0m0 0h0m5-4h0m3 2h0m0-1h0m1 2h0m2-2h0m3 2h0m1-3h0m4 3h0m1-1h0m0 2h0m2-3h0m1 0h0m3 3h0m0-3h0m2 3h0m8-4h0m-273 10h0m4-3h0m1 3h0m1-3h0m1 2h0m1-2h0m1 3h0m3-3h0m8 1h0m0 0h0m181 3h0m7-4h0m1 4h0m16-5h0m16 0h0m4 3h0m1-4h0m1 5h0m0 0h0m1-1h0m1-1h0m3-1h0m1 2h0m0-1h0m2 0h0m1-1h0m4 0h0m4-1h0m1 2h0m2 1h0m1-3h0m3-1h0m1 0h0m1 6h0m0-5h0m4 5h0m-282 4h0m3-1h0m2 2h0m3-1h0m2 1h0m4 0h0m4 1h0m2-3h0m8 1h0m1 0h0m7 2h0m5-3h0m164 3h0m1-3h0m1 0h0m1 3h0m4-4h0m0-2h0m12 1h0m3 1h0m0-1h0m2 2h0m2 2h0m0 1h0m3-2h0m0-4h0m4 4h0m4 0h0m1-2h0m0-1h0m2 2h0m1-3h0m3 4h0m2-3h0m4 1h0m1 2h0m6-2h0m2-2h0m3 3h0m2-1h0m0 0h0m1-1h0m10 3h0m0-4h0m0 3h0m-281 6h0m3 1h0m1-3h0m5 5h0m3-1h0m0-3h0m2 2h0m1 2h0m5 0h0m1-1h0m1-1h0m0-1h0m0-1h0m1 3h0m5-4h0m1 4h0m0-1h0m10-2h0m173 2h0m1-3h0m1 3h0m1 2h0m1-3h0m1-3h0m2 0h0m2 1h0m4 3h0m6-4h0m2 3h0m3-2h0m2 0h0m1 2h0m1-2h0m4 5h0m2-6h0m1 3h0m0 1h0m0 2h0m3-4h0m7-1h0m5 4h0m0-4h0m1 2h0m5 0h0m2-2h0m1 0h0m9 4h0m3 1h0m0-6h0m-286 7h0m0 0h0m2 1h0m1 2h0m3-1h0m1-1h0m3 2h0m6-2h0m3-1h0m1 0h0m8 2h0m190-1h0m9 1h0m3 1h0m1-2h0m1 2h0m0-2h0m1 1h0m6-2h0m2 2h0m5-2h0m11 0h0m4 2h0m3-2h0m0 3h0m0-3h0m3 3h0m0-1h0m0-3h0m2 6h0m2-5h0m2 1h0m1-1h0m1 4h0m2-1h0m3-1h0m2 0h0m1-3h0m1 6h0m0-6h0m0 4h0m1 1h0m4-4h0m-289 10h0m2-1h0m2-2h0m0-1h0m1 3h0m3 0h0m1 0h0m3 1h0m1-4h0m3 0h0m2 0h0m208 4h0m5-4h0m4 4h0m8-2h0m2 0h0m2 0h0m2 1h0m1 0h0m3 2h0m0-6h0m1 4h0m0-3h0m3 2h0m1 1h0m1-2h0m7 0h0m2 2h0m2 2h0m10 0h0m2-1h0m1-1h0m2 1h0m-285 2h0m1 0h0m1 2h0m231-1h0m1-1h0m1 0h0m2 0h0m0-1h0m5 5h0m1 0h0m4-1h0m24-1h0m0 2h0m4-2h0m8-1h0m2 0h0" stroke="#EA6D69"/>
<path d="M341 53h0m2 3h0m4-2h0m4-1h0m5-2h0m9 1h0m3 3h0m15-1h0m3 3h0m-51 2h0m6 0h0m5 2h0m1-2h0m6 2h0m1-3h0m2 1h0m2 2h0m1 0h0m5-1h0m0-2h0m4 0h0m11 4h0m10-2h0m1-3h0m-59 9h0m12 1h0m7-2h0m7 0h0m1 0h0m1 2h0m2-1h0m26-2h0m2 4h0m1-2h0m3 7h0m-8 3h0m2 3h0m-6 2h0m4 2h0m7-1h0m0 2h0m-23 9h0m1 0h0m11-5h0m2 4h0m13-1h0m-26 5h0m4 8h0m16-3h0m1-1h0m-22 8h0m13-2h0m4 3h0m2 0h0m-15 4h0m-10 7h0m-219 13h0m4 1h0m1-3h0m-17 6h0m24 2h0m5 1h0m-38 7h0m3-2h0m25-1h0m5-3h0m1 2h0m3-1h0m2 0h0m-37 6h0m19 1h0m1 0h0m6 2h0m11-1h0m1-3h0m2 3h0m-41 4h0m2 2h0m4-1h0m3-2h0m4 0h0m33 0h0m-49 8h0m40 4h0m278-1h0m3-1h0m6-4h0m4 1h0m-330 11h0m1-5h0m2 2h0m5-1h0m14 3h0m2-2h0m2 3h0m4-2h0m7-3h0m5-1h0m1 5h0m0-2h0m5 1h0m0 1h0m281-3h0m11 0h0m6 1h0m3-1h0m1 1h0m1 0h0m2-1h0m6 2h0m3-3h0m-355 6h0m6 4h0m5-1h0m2-3h0m8 4h0m1-3h0m0 3h0m1 0h0m6-2h0m3 1h0m309 2h0m-320 4h0m2-2h0m4 1h0m0 0h0m1 1h0m11-3h0m299-1h0m4 1h0m-322 7h0m327 2h0m2 12h0m-1 5h0m-5 6h0m2-2h0m36 3h0m-42 7h0m2-4h0m0 1h0m2-2h0m-5 6h0m0 2h0m-1 6h0m119 2h0m9 0h0m-123 4h0m113 1h0m11 0h0m-114 8h0m15-2h0m82 0h0m2 2h0m2-4h0m0 4h0m5-3h0m-107 8h0m13-3h0m3 1h0m1 2h0m1-1h0m77-2h0m6-1h0m4 1h0m10 3h0m22 0h0m-144 5h0m2 0h0m8 0h0m1 2h0m10-2h0m4 0h0m72 1h0m1 1h0m2-5h0m3 3h0m11-1h0m17 2h0m3 0h0m0 0h0m4 1h0m3 1h0m-133 3h0m23-2h0m70 0h0m2 4h0m2 0h0m1-4h0m1 1h0m0 1h0m37 3h0m0-1h0m13-3h0m3 4h0m-152 4h0m3-4h0m3 5h0m0-3h0m10 0h0m68 3h0m3 0h0m3-3h0m1-1h0m1 4h0m4-1h0m2 0h0m4-3h0m32 1h0m4-1h0m0 0h0m5 3h0m4-1h0m2 1h0m1 0h0m0-1h0m-143 8h0m78-3h0m55-2h0m3 0h0m0 6h0m4-4h0m2 0h0m0 0h0m1 2h0m3-1h0m0 0h0m-72 12h0m1 3h0m27-2h0m-29 4h0m3-1h0m0 4h0m2-1h0m17 0h0m3 1h0m-26 2h0m2 1h0m0 1h0m1 2h0m2-1h0m17-4h0m4 2h0m4 1h0m0 1h0m1 1h0m-329 5h0m4-2h0m9 4h0m2-2h0m13 0h0m22 2h0m61-1h0m14 0h0m2 1h0m175-6h0m1 0h0m46 3h0m2 0h0m7-2h0m-373 11h0m5-4h0m6-1h0m2 4h0m4-3h0m3 1h0m4-2h0m0 4h0m5-4h0m4 4h0m6-3h0m4 2h0m2 1h0m7-2h0m0 3h0m6 0h0m5-1h0m0-5h0m14 4h0m3 0h0m23 1h0m14-4h0m1 3h0m16-2h0m5-2h0m3 0h0m3 4h0m2 0h0m195-1h0m5 3h0m2-1h0m12 0h0m20 0h0m0 0h0m-369 5h0m2-3h0m6 3h0m6 1h0m13-3h0m4-1h0m8 4h0m5-1h0m3-3h0m1 3h0m6 2h0m15-6h0m6 3h0m3-2h0m2 2h0m11-2h0m1 4h0m5 0h0m16-4h0m10 2h0m0-1h0m10 2h0m0 2h0m8-1h0m198-3h0m1 3h0m13 0h0m-369 3h0m8 3h0m0-4h0m6 2h0m15 2h0m1-4h0m13 3h0m16 1h0m4-3h0m1 4h0m5-1h0m4 0h0m2-1h0m6 0h0m32-2h0m4 1h0m3-3h0m2 1h0m0 5h0m2-4h0m7 1h0m12 1h0m1 2h0m1-6h0m8 0h0m1 5h0m4-5h0m6 3h0m182 1h0m7-3h0m19 0h0m8 4h0m1-2h0m-377 3h0m1 3h0m0 2h0m9 0h0m10 0h0m1-2h0m2 0h0m2-1h0m4-1h0m0 5h0m14-5h0m2 2h0m1 0h0m17 1h0m14-4h0m2 4h0m28 2h0m0-4h0m2 2h0m3-2h0m1-1h0m6 1h0m1 3h0m17 0h0m2 0h0m4 0h0m5-4h0m7-1h0m0 3h0m182 2h0m15-1h0m2-4h0m2 6h0m3 0h0m3-4h0m-362 5h0m1 2h0m1-1h0m1 0h0m4 2h0m1-1h0m4 0h0m9 3h0m1-2h0m6-3h0m7 4h0m1-5h0m1 5h0m1-3h0m1 3h0m4-2h0m9 3h0m0-4h0m7 2h0m20-2h0m13 0h0m4 3h0m3-3h0m17 2h0m2-2h0m0 1h0m5 2h0m13-3h0m1 3h0m0-4h0m6 4h0m5-4h0m8 2h0m8 0h0m186-2h0m7-1h0m0 4h0m2 0h0m0 0h0m-362 3h0m1 0h0m3 5h0m6-2h0m15 1h0m2-3h0m10 4h0m0-1h0m5-4h0m8 5h0m7-4h0m1 3h0m9-4h0m28 4h0m4 0h0m3-1h0m6-2h0m5 2h0m2-3h0m10 4h0m4 1h0m5-2h0m5-3h0m3 0h0m15 2h0m1 0h0m1 2h0m2-1h0m167-1h0m1-3h0m-337 9h0m9 2h0m1-4h0m7 2h0m4 2h0m8 0h0m17-2h0m8 0h0m8-2h0m11 4h0m1-4h0m6 4h0m41 0h0m2-4h0m0 1h0m3-1h0m1 2h0m4-2h0m5 3h0m3 0h0m3-2h0m1 2h0m13 0h0m2-2h0m3 2h0m1 0h0m1-1h0m5-2h0m225 0h0m6-1h0m-398 8h0m5 0h0m3 0h0m3 2h0m5-2h0m2 0h0m4 3h0m8-3h0m14 3h0m4-2h0m9-3h0m5 4h0m38-1h0m8-3h0m10 3h0m17-2h0m5 2h0m3 0h0m9 1h0m-150 7h0m8-1h0m1-3h0m3 5h0m2-2h0m5 0h0m1 0h0m1 2h0m6-3h0m7 2h0m10-2h0m32-1h0m32-2h0m4 6h0m1-6h0m9 5h0m7 0h0m8 0h0m2 0h0m3 0h0m3-3h0m0-1h0m11 4h0m1-4h0m7 0h0m1 0h0m346 4h0m0 0h0m0 0h0m-528 6h0m2-1h0m2-3h0m1 2h0m1 1h0m6-1h0m0-2h0m2 4h0m4-2h0m1-2h0m1 2h0m1 2h0m2-2h0m38 0h0m4-2h0m11 5h0m11-4h0m41 0h0m13 4h0m21-4h0m5 0h0m1-1h0m3 3h0m6-4h0m1 5h0m1-4h0m214 2h0m2-3h0m2 3h0m0 1h0m67-3h0m11 4h0m3-2h0m13 2h0m9 1h0m0-6h0m2 5h0m2 0h0m1 0h0m3-1h0m4-2h0m4 0h0m-598 8h0m88 1h0m1-3h0m11 2h0m19-2h0m15 3h0m14 0h0m7 0h0m46 0h0m27-3h0m7 2h0m2-1h0m0-3h0m5 4h0m1-3h0m6 0h0m2 4h0m2 0h0m4 0h0m4-4h0m6 2h0m213-2h0m2 3h0m74 0h0m12-1h0m1 0h0m-575 7h0m2-1h0m2 1h0m0-3h0m11 4h0m7 1h0m74-2h0m1-4h0m4 3h0m5 3h0m3-1h0m4-4h0m9 3h0m10-2h0m13 2h0m2-2h0m9-1h0m2 4h0m0-1h0m1 2h0m5-1h0m50-5h0m10 6h0m6-6h0m2 3h0m5-1h0m9 3h0m1 1h0m11-1h0m204 1h0m1-1h0m23-1h0m2-1h0m88-1h0m-569 4h0m4 1h0m2 0h0m3 2h0m6-3h0m54 4h0m8-2h0m15 2h0m0-2h0m6 2h0m5-1h0m1 0h0m39-3h0m1 4h0m8 1h0m3 1h0m3-2h0m6 2h0m3-4h0m53-1h0m3 0h0m1 2h0m3-2h0m3 3h0m1-2h0m2 0h0m2-1h0m5 0h0m17 1h0m4 1h0m2-2h0m215 2h0m0-3h0m1 1h0m1 2h0m-489 5h0m13 0h0m59 2h0m3 0h0m9 1h0m2-3h0m9 2h0m1 2h0m1-3h0m14 2h0m2-3h0m1 0h0m4 2h0m16 2h0m2-1h0m7-1h0m5 1h0m4-3h0m8 4h0m14-6h0m2 5h0m57-2h0m4 2h0m2-2h0m18-1h0m14 0h0m2-1h0m6 4h0m189-3h0m16 2h0m2-2h0m-485 9h0m13-2h0m4-2h0m3 4h0m0 0h0m15-3h0m34 1h0m4 0h0m4-1h0m1 3h0m3 0h0m10 0h0m4-3h0m14 2h0m19 2h0m5-3h0m4 2h0m22-3h0m5-1h0m10 0h0m49-1h0m5 1h0m4 1h0m4-1h0m5 4h0m5-3h0m1 3h0m13 0h0m2 0h0m3-2h0m11-1h0m1 1h0m2-1h0m10 1h0m184 1h0m5-3h0m0 3h0m2-1h0m-484 6h0m6 2h0m3-1h0m5-3h0m4 2h0m7 3h0m0-5h0m3 0h0m6 2h0m1 2h0m3 0h0m2-3h0m0-1h0m25 5h0m5-5h0m10 3h0m3-3h0m4 1h0m7-1h0m0 5h0m3-6h0m3 2h0m5 3h0m1-5h0m0 3h0m6 1h0m7-1h0m11-1h0m10 4h0m10-2h0m6 1h0m8-3h0m3 3h0m7-3h0m1 2h0m1 1h0m44 0h0m0-4h0m12 2h0m3-1h0m6 1h0m2-2h0m9 2h0m5-1h0m1 2h0m3-1h0m8 3h0m1-5h0m16 2h0m0 3h0m167-2h0m10 1h0m5-2h0m4 0h0m0-2h0m-474 9h0m12-2h0m2 1h0m2-1h0m4 0h0m6-1h0m8 4h0m4-2h0m14 2h0m14-4h0m24-1h0m9 5h0m1-1h0m11 1h0m3-1h0m6-1h0m3 0h0m15 3h0m8 0h0m0-4h0m6 0h0m7 0h0m8-1h0m1 4h0m9-4h0m5 4h0m2 1h0m39-5h0m8 4h0m6-4h0m16 2h0m4-2h0m10 5h0m7-3h0m2 3h0m8-2h0m5 0h0m2 0h0m4-3h0m5 3h0m158-4h0m-458 7h0m4 3h0m0-3h0m0 2h0m3 2h0m0-3h0m2 1h0m10-1h0m1 3h0m3-3h0m16 4h0m0-6h0m2 2h0m1 1h0m19 2h0m3-4h0m34 3h0m5 0h0m2 1h0m1-4h0m0 3h0m9-2h0m8-1h0m8 2h0m4-2h0m22 5h0m12-2h0m8-2h0m2-2h0m0 6h0m51-1h0m5-2h0m0 1h0m23 0h0m10-2h0m4 4h0m8-6h0m1 4h0m178 0h0m-471 3h0m7-1h0m0 5h0m3-5h0m1 5h0m0-2h0m1-2h0m0 0h0m2 1h0m0 2h0m2-2h0m3 2h0m2-1h0m7 0h0m3 1h0m5-1h0m6 2h0m6-1h0m6-3h0m5 3h0m5-3h0m2 1h0m32 0h0m6 2h0m11-4h0m2 0h0m1 2h0m18-2h0m2 2h0m1 1h0m4-1h0m3 4h0m3-3h0m1 3h0m9-2h0m1-1h0m10 1h0m2 1h0m1 0h0m1-1h0m0 0h0m4-2h0m4-1h0m5 0h0m1 3h0m0-3h0m2 0h0m1-1h0m2 4h0m51-1h0m3-2h0m5 3h0m5 1h0m16-1h0m0 1h0m0 0h0m6-2h0m2 1h0m1 2h0m3 0h0m2-5h0m3 1h0m2 0h0m2 1h0m9-1h0m-305 7h0m2 2h0m12-4h0m5 1h0m2 4h0m2-2h0m6 0h0m2-2h0m21 3h0m47 0h0m16 1h0m7-1h0m3 1h0m16-1h0m5-5h0m1 6h0m2-3h0m1 3h0m3-5h0m9 1h0m2 1h0m0 3h0m1-3h0m0-1h0m5 2h0m5 2h0m0-4h0m75 2h0m6-2h0m1 3h0m5-5h0m0 4h0m0 2h0m5-4h0m3-1h0m4 2h0m3-2h0m4 0h0m2 2h0m3 2h0m1-1h0m3-3h0m9 3h0m2-1h0m1 1h0m8-1h0m1 1h0m-315 5h0m23-2h0m9 4h0m3 1h0m12-2h0m3-2h0m4 4h0m3-2h0m3-1h0m7 2h0m7 1h0m8-1h0m0 0h0m4 1h0m2-5h0m5 3h0m19-3h0m8 4h0m26-5h0m3 3h0m1-3h0m17 1h0m1 2h0m9 0h0m0-2h0m2 1h0m9 2h0m3 0h0m59-1h0m5 1h0m1-2h0m2 1h0m5-2h0m0 3h0m8 0h0m7-3h0m7 4h0m9 1h0m6-3h0m5-1h0m1 0h0m2-1h0m0 3h0m1-1h0m2 1h0m-315 3h0m1 5h0m4-5h0m0 4h0m12-3h0m6 4h0m4-6h0m2 3h0m1 2h0m11-5h0m5 1h0m8 4h0m1 0h0m4 1h0m2-4h0m2 4h0m2-6h0m5 3h0m31 1h0m0-1h0m4 0h0m3 0h0m1-2h0m6-1h0m8 5h0m0-2h0m7 1h0m15 0h0m20-3h0m7 0h0m82-1h0m7 2h0m10 2h0m17 2h0m5-5h0m0 1h0m2 3h0m-289 7h0m2-3h0m8 2h0m2 0h0m4 1h0m2-2h0m1-1h0m1-1h0m2 1h0m20-2h0m11 5h0m11-6h0m5 2h0m6 1h0m3 2h0m9 0h0m4-1h0m4-2h0m8 1h0m3 0h0m2-2h0m13 2h0m6 0h0m2 0h0m8-2h0m0 0h0m2 0h0m115 4h0m2-3h0m2 1h0m1-1h0m0 2h0m3 2h0m16-1h0m1-1h0m6-4h0m3 3h0m9-1h0m3 3h0m0-3h0m-303 8h0m0 2h0m3-3h0m3-2h0m2 5h0m25-2h0m16 0h0m0-2h0m5 2h0m8-3h0m4 0h0m1 0h0m1 4h0m3 0h0m15-3h0m4 0h0m9 2h0m4 0h0m0-4h0m2 0h0m0 0h0m3 4h0m0 1h0m6-3h0m1-2h0m4 5h0m6-5h0m4 1h0m2 4h0m116-4h0m4 5h0m3-4h0m4 3h0m1-3h0m4 2h0m16-2h0m2 2h0m266 0h0m-542 3h0m3 5h0m18-1h0m3 1h0m1-2h0m1-3h0m5 2h0m1 2h0m2-2h0m3-1h0m1 2h0m2 0h0m8 1h0m7-1h0m5-2h0m6-2h0m1 0h0m1 4h0m14-1h0m3 1h0m9 2h0m3-1h0m11-5h0m13 2h0m120-1h0m4 4h0m1-3h0m1-2h0m1 3h0m9 2h0m2-4h0m1-1h0m9 4h0m227 1h0m7-2h0m11-2h0m4 0h0m5 4h0m1 1h0m4-3h0m8-1h0m1 3h0m-534 4h0m6 2h0m15 0h0m5 0h0m2-1h0m1-3h0m0 3h0m1-1h0m11 2h0m0-4h0m4 5h0m8-1h0m14 0h0m5-1h0m5-4h0m5 4h0m5 2h0m0-5h0m5 2h0m10-1h0m2 0h0m0 0h0m1 3h0m2-4h0m1 2h0m3 2h0m6-4h0m124-1h0m4 3h0m2-3h0m238 3h0m3 0h0m3 3h0m16-2h0m2-1h0m1-2h0m5 2h0m-513 4h0m9 4h0m6-5h0m16 3h0m5-3h0m20 5h0m6-2h0m0 0h0m1-1h0m3 2h0m1-2h0m7 3h0m3-4h0m2 0h0m6 0h0m4 1h0m1-2h0m9 6h0m7-2h0m3-2h0m377 1h0m2-2h0m1 5h0m4-2h0m2-3h0m6-1h0m0 5h0m3 1h0m1-3h0m-495 3h0m1 3h0m1 3h0m7-3h0m5 1h0m4-2h0m5 2h0m19-4h0m5 4h0m10-3h0m10 3h0m1-1h0m16 0h0m4-2h0m4 1h0m3 0h0m378-2h0m1 1h0m9 4h0m8 0h0m1 0h0m3-1h0m-494 7h0m1-4h0m19 0h0m1 5h0m2-3h0m11-1h0m2 1h0m6-3h0m15 3h0m1 1h0m1-2h0m3 3h0m4-2h0m1-3h0m7 4h0m11 1h0m1-1h0m1-4h0m2 1h0m401 1h0m4 0h0m-466 9h0m0-1h0m9 2h0m5 0h0m17-3h0m0 1h0m9 0h0m-49 2h0m22 4h0m5-4h0m2 5h0m4-1h0m3-1h0m429 50h0m1 0h0m5-1h0m-9 4h0m1 3h0m6-3h0m-192 6h0m3 1h0m5 0h0m4 3h0m4-5h0m11 4h0m160 0h0m2-3h0m45 3h0m8-2h0m0 0h0m-243 6h0m5-3h0m5 6h0m9-1h0m3-1h0m0 0h0m1-2h0m1 2h0m148-3h0m8 1h0m7 1h0m9 0h0m54 0h0m-270 4h0m6 0h0m4-1h0m8 6h0m5-6h0m2 3h0m1-3h0m9 1h0m10 3h0m3 0h0m2 0h0m7 2h0m1-5h0m135 1h0m11-2h0m16 3h0m37 0h0m1-1h0m3-1h0m9 5h0m-272 2h0m1-1h0m8 1h0m6 1h0m7 1h0m4 1h0m7-3h0m4-1h0m18 4h0m0 1h0m8-3h0m1 1h0m135-2h0m12-1h0m2 2h0m2 2h0m3-3h0m0 3h0m1-2h0m1 0h0m1 1h0m3-4h0m18 3h0m12 1h0m1-1h0m6-2h0m1 1h0m3 1h0m5-2h0m-278 10h0m2-5h0m4 1h0m18 0h0m8 1h0m3 0h0m21 0h0m3-1h0m1 4h0m8-1h0m7-1h0m0 0h0m1-2h0m130 0h0m0 4h0m14-1h0m2-1h0m2 1h0m4-3h0m4 2h0m5 2h0m4-3h0m5 0h0m7 1h0m10-1h0m2 0h0m2 3h0m2 1h0m1-2h0m2 0h0m2 0h0m-271 6h0m1 1h0m6-3h0m9 3h0m5-3h0m12 3h0m0-2h0m19 2h0m3-3h0m30-1h0m115 0h0m5 2h0m0 0h0m0-2h0m11 5h0m2-3h0m6-1h0m0-1h0m9 4h0m1 0h0m4 0h0m15-4h0m2 0h0m5 3h0m12-1h0m1 2h0m-283 3h0m3 0h0m6 2h0m3-4h0m1 4h0m2-4h0m3 5h0m1-2h0m4 0h0m15-1h0m10 1h0m11 1h0m2 0h0m2-2h0m148 4h0m5-2h0m2 0h0m13-3h0m5 5h0m3-5h0m4 5h0m17-5h0m8 0h0m1 1h0m1 1h0m5 3h0m1 0h0m5-5h0m1 2h0m1-2h0m6 2h0m-294 4h0m2 2h0m5 2h0m7 0h0m0-3h0m17 3h0m4-3h0m3 3h0m6-1h0m0-4h0m5 2h0m0-1h0m7 1h0m0-2h0m2 2h0m1 1h0m1-1h0m11-2h0m146 2h0m1 1h0m15-2h0m6 2h0m10-1h0m12 2h0m2-2h0m15 0h0m1 3h0m2-4h0m1 2h0m5 2h0m2 1h0m0-6h0m-284 8h0m16-1h0m0 3h0m2-1h0m2 1h0m4-2h0m9 3h0m8-2h0m1-2h0m5 4h0m0-5h0m6 5h0m13 1h0m1-6h0m2 4h0m164-4h0m25 2h0m2-2h0m2 2h0m2 2h0m0 0h0m27 2h0m-281 2h0m8 1h0m8 2h0m16-4h0m1 5h0m1-3h0m8-3h0m4 4h0m4-2h0m1 4h0m4-4h0m0 3h0m173 0h0m0-4h0m5 4h0m2-2h0m1-2h0m0 4h0m7-2h0m4 1h0m2 1h0m4 1h0m15 0h0m9-3h0m3-1h0m4 1h0m0-2h0m-265 11h0m5-5h0m8 4h0m2-2h0m4 1h0m189 0h0m0 2h0m1-1h0m2-1h0m0 0h0m15-3h0m2-1h0m17 4h0m3-4h0m12 3h0m0 2h0m6 0h0m1-1h0m2-2h0m-63 8h0m4-2h0m13-1h0m0 3h0m1-1h0m1 0h0m1-2h0m5 3h0m0-1h0m1 2h0m1-3h0m21 4h0m1-4h0m5 3h0m0-2h0m4-2h0m-264 6h0m4 4h0m31-1h0m168 0h0m1-3h0m1 5h0m3-4h0m4 0h0m9-1h0m3 1h0m4 1h0m5 2h0m3-2h0m4 1h0m4 0h0m0 1h0m6-5h0m2 2h0m7 1h0m2-3h0m0 2h0m6 3h0m2-5h0m5 2h0m-281 10h0m13-1h0m1-1h0m1 1h0m3-3h0m2 2h0m3-1h0m5 3h0m183-6h0m3 4h0m1-3h0m0 4h0m4-5h0m1 5h0m5 0h0m13-2h0m1 2h0m5-3h0m4 1h0m8 0h0m0 1h0m1 1h0m5-2h0m1-3h0m10 1h0m1 4h0m1 0h0m5-3h0m-287 6h0m21-2h0m2 4h0m2-1h0m3-2h0m2-1h0m191 4h0m1-3h0m8 0h0m11 4h0m1-4h0m5 4h0m6-2h0m3-3h0m2 2h0m2-1h0m19 4h0m5-2h0m4-2h0m2 1h0m-283 10h0m13-4h0m208 0h0m5 3h0m0 0h0m26-5h0m2 2h0m2 0h0m8 2h0m2-3h0m4 2h0m5-3h0m0 3h0m1-1h0m8 4h0m-290 1h0m233 2h0m8-2h0m14 2h0m18 1h0m7-1h0m1 2h0m3-1h0m0 1h0m1-4h0" stroke="#B2A53C"/>
<path d="M343 50h0m7 1h0m4-1h0m4-1h0m-16 5h0m1 3h0m4-2h0m1-3h0m1 3h0m2-3h0m5 4h0m1-3h0m2 4h0m1-1h0m5-1h0m10 0h0m9-3h0m0 2h0m1 0h0m6 3h0m-56 3h0m1 1h0m1-3h0m4 0h0m1-1h0m5 2h0m1-2h0m8 1h0m13 0h0m1 2h0m4-1h0m17 1h0m-59 5h0m1 4h0m0-4h0m0 1h0m12 2h0m2-2h0m4 3h0m1-4h0m10-1h0m1 1h0m6 3h0m10-1h0m10-1h0m2 1h0m1 1h0m1-3h0m-68 8h0m8-3h0m3 3h0m1-1h0m9-1h0m2 0h0m4-1h0m25 0h0m11 0h0m3 5h0m5-5h0m1 0h0m2 3h0m-69 5h0m54 1h0m4-2h0m2 2h0m-14 6h0m1-1h0m1 1h0m3 1h0m1-2h0m2-2h0m1 2h0m2 2h0m3-1h0m4 0h0m-21 6h0m5-1h0m1 2h0m1-4h0m3 5h0m3-2h0m1 0h0m6-2h0m0-1h0m-20 9h0m0-3h0m2 5h0m1-6h0m4 0h0m3 0h0m-11 10h0m5-1h0m2 3h0m7-6h0m0 4h0m1 0h0m2-2h0m-25 9h0m6-1h0m8 2h0m2-5h0m4 2h0m0 2h0m2-4h0m4-1h0m-35 11h0m0 0h0m9 0h0m-7 2h0m6 0h0m0-1h0m1 1h0m1 1h0m-214 16h0m1-1h0m-19 5h0m4 1h0m3-1h0m3-2h0m2 1h0m3-1h0m2 2h0m1 1h0m5-2h0m2-1h0m2 2h0m5-1h0m-35 5h0m0 0h0m2 4h0m0-4h0m2 1h0m12 0h0m5-2h0m5-1h0m2 2h0m1-1h0m1 1h0m-32 8h0m3 0h0m0 2h0m2-5h0m0 0h0m3 2h0m5 2h0m5-1h0m2-3h0m6 3h0m1-2h0m3-1h0m-34 5h0m9 4h0m0 2h0m9-1h0m6 1h0m1-3h0m7 1h0m1-3h0m2 4h0m-41 4h0m6 0h0m0-2h0m2 3h0m3-2h0m0 2h0m1-1h0m18 0h0m1-2h0m1 2h0m1 1h0m7 0h0m4-3h0m5 4h0m3-4h0m0 2h0m1 2h0m270-2h0m1 2h0m10-2h0m1 1h0m-336 3h0m2 4h0m3 0h0m0-1h0m0-4h0m27 1h0m1 3h0m4 1h0m7-5h0m7 3h0m2 0h0m270-2h0m0 2h0m4-3h0m0 5h0m1 0h0m3 0h0m2-5h0m0 3h0m2 2h0m7-4h0m6 3h0m4-1h0m1 0h0m3-1h0m1 2h0m1-1h0m-355 4h0m6 0h0m4 0h0m2 4h0m13 1h0m1-3h0m2 3h0m1-5h0m3 3h0m1-3h0m3 2h0m4 1h0m0-2h0m2 3h0m1-5h0m-25 9h0m3-2h0m2 0h0m2 3h0m0 0h0m4 1h0m1 0h0m1 0h0m2 1h0m2-4h0m0-1h0m1 0h0m1 3h0m2-2h0m2 4h0m2-3h0m2 0h0m0-2h0m2-1h0m300 1h0m11 1h0m3-2h0m0 5h0m-339 3h0m4-1h0m329 0h0m0 1h0m3 1h0m-15 3h0m8 4h0m6-2h0m5 3h0m6-4h0m-10 9h0m-6 9h0m2 2h0m26 2h0m2-1h0m3 0h0m4-2h0m-43 6h0m5 0h0m-5 8h0m0-2h0m31 3h0m0-3h0m1 1h0m90 3h0m-124 1h0m6 5h0m26-2h0m1 2h0m0-4h0m1 1h0m89 1h0m0-2h0m-117 7h0m2-2h0m2 1h0m1 0h0m23 2h0m1 0h0m0 1h0m0-2h0m81-2h0m5 2h0m11 1h0m-18 4h0m1 4h0m0-5h0m5 4h0m1-2h0m1 3h0m2-3h0m1-3h0m2 0h0m0 1h0m22 5h0m-150 2h0m16 1h0m3 1h0m1-2h0m4 3h0m4-5h0m1 3h0m1-2h0m1 1h0m1 2h0m3-3h0m5 5h0m3-1h0m0 0h0m70-1h0m3 1h0m1-4h0m3 4h0m0-3h0m0-1h0m8 2h0m12 1h0m-138 2h0m1 3h0m14 1h0m8-1h0m7 2h0m5-4h0m2 2h0m0 1h0m1-1h0m2 0h0m68-1h0m0 0h0m4 0h0m7 0h0m2-2h0m17 2h0m8 3h0m11-3h0m4 4h0m-138 5h0m3-1h0m0 1h0m1-4h0m1 2h0m3-2h0m1 0h0m64 4h0m10-1h0m6-4h0m1 5h0m0-3h0m6-2h0m2 6h0m21-6h0m7 2h0m0 2h0m1 1h0m2-2h0m8-3h0m-145 7h0m0 0h0m2 1h0m0-1h0m2 4h0m1 0h0m1-4h0m4 1h0m78 4h0m0-3h0m1-3h0m12 1h0m1 2h0m1-1h0m37 0h0m1 3h0m-133 2h0m76 3h0m1-1h0m2 1h0m13 0h0m42-3h0m4-1h0m4 1h0m1 3h0m4-2h0m-47 8h0m18-2h0m-41 9h0m19 1h0m-22 5h0m0-3h0m4 1h0m14 2h0m1-1h0m3-2h0m0 0h0m1 3h0m1 1h0m1 0h0m-25 1h0m1 0h0m1 3h0m2-1h0m21 3h0m1-3h0m0-2h0m2 3h0m1-1h0m-343 8h0m10-4h0m15 4h0m1-3h0m19 3h0m272-3h0m2-1h0m22 2h0m1 2h0m2 0h0m2 0h0m5 0h0m-350 6h0m6 0h0m3-4h0m5 3h0m2-3h0m4 3h0m2 0h0m2-1h0m0-2h0m0 3h0m2-2h0m3 1h0m4 2h0m2 0h0m1-1h0m3-2h0m1 1h0m2 2h0m4 1h0m9-1h0m12-2h0m1-2h0m8 4h0m1 1h0m9-1h0m24-4h0m0 2h0m1-2h0m2 0h0m1 4h0m9-2h0m3 2h0m2-1h0m4-1h0m1 2h0m1 1h0m1-3h0m1-2h0m0-1h0m1 4h0m3 2h0m11-1h0m191 0h0m0-3h0m2 0h0m1 3h0m2-4h0m10 0h0m7 5h0m3 0h0m10-6h0m-376 6h0m6 4h0m3-1h0m0 0h0m3-2h0m2 3h0m12-1h0m1-2h0m4 0h0m2 2h0m3-3h0m3 1h0m1 5h0m3-2h0m4 1h0m6-2h0m0-1h0m15 3h0m16-4h0m7 0h0m10 1h0m0 1h0m13 2h0m1-5h0m1 2h0m2 1h0m3 1h0m0-3h0m5 1h0m5 2h0m1-3h0m3 5h0m0-4h0m8 1h0m5 0h0m2 2h0m3-2h0m0 3h0m3-1h0m181-2h0m8 2h0m1-4h0m4 2h0m3 2h0m2-3h0m2 2h0m2-2h0m6 4h0m-373 5h0m0-2h0m12 2h0m12 0h0m15 1h0m4-3h0m1 1h0m3 2h0m1-4h0m3-1h0m3 1h0m10 4h0m1-4h0m0 2h0m3 1h0m13-4h0m5-1h0m2 0h0m14 2h0m7 3h0m0-3h0m6-1h0m2 2h0m1-2h0m1 0h0m9 0h0m4 3h0m0 2h0m3-1h0m7-2h0m10-3h0m10 1h0m1 4h0m2-4h0m193 2h0m1-1h0m1-1h0m5 0h0m6 0h0m1 1h0m3 1h0m2-2h0m9 4h0m-373 6h0m0-2h0m0 3h0m2-1h0m1 0h0m11-2h0m13 2h0m4-1h0m14-3h0m2 4h0m0-1h0m2 2h0m6 0h0m1-5h0m8-1h0m2 4h0m3-1h0m0-2h0m1-1h0m12 2h0m9 0h0m9-1h0m0 4h0m1 0h0m1 0h0m6-1h0m3 1h0m4-3h0m2 0h0m7 0h0m2-1h0m1 3h0m2 1h0m4 0h0m0-2h0m8-1h0m4 2h0m4 0h0m1 1h0m1-2h0m191 2h0m33-1h0m-384 4h0m1 3h0m2-2h0m1-2h0m2 2h0m7 3h0m15-5h0m0 4h0m2-1h0m3-4h0m3 0h0m2 1h0m1-1h0m2 3h0m1 3h0m1-1h0m4-2h0m0 3h0m2-5h0m0-1h0m6 1h0m0 1h0m10 2h0m3 1h0m34 0h0m1-4h0m2-1h0m8 3h0m11 3h0m3-4h0m8 0h0m3-1h0m1 5h0m3-4h0m1-2h0m5 0h0m2 0h0m5 5h0m2 0h0m7-1h0m172-2h0m20 2h0m0-3h0m1 2h0m3 2h0m-366 3h0m1 0h0m2 4h0m6-4h0m1 1h0m2-3h0m3 3h0m0 0h0m4 3h0m2-1h0m1-3h0m10 2h0m5-3h0m4 2h0m1-3h0m8 4h0m3 1h0m1-4h0m3 0h0m3 2h0m15 3h0m3-1h0m18-4h0m7 5h0m1-6h0m2 2h0m8-1h0m2 0h0m7 2h0m1-1h0m8 2h0m4 0h0m5 2h0m1-4h0m1 3h0m2-2h0m2 2h0m2-4h0m3 3h0m5-1h0m12 2h0m0-4h0m164 4h0m1-2h0m-339 9h0m13-3h0m1 1h0m2-2h0m13-1h0m1 0h0m1 1h0m1 3h0m3-2h0m11 0h0m0 1h0m1-3h0m4 4h0m3 0h0m7 0h0m2-3h0m1 3h0m2 0h0m0-1h0m2-1h0m2 2h0m3-5h0m4 5h0m1 0h0m0-2h0m6-2h0m1-1h0m16 0h0m1 1h0m3 2h0m2 0h0m1 1h0m6-1h0m12-1h0m5-1h0m2 4h0m16 0h0m1-4h0m6 2h0m3 2h0m1 1h0m3-1h0m1-4h0m226 1h0m-390 9h0m2 1h0m8-4h0m1 0h0m4 3h0m2 0h0m3-4h0m4 3h0m10-1h0m1 0h0m11 1h0m6-4h0m10 2h0m1-2h0m2 4h0m1-3h0m2 1h0m0 1h0m0 3h0m10-4h0m1-1h0m31 5h0m8-2h0m4 0h0m1 1h0m5-2h0m2 1h0m11 1h0m5 0h0m3-4h0m3 5h0m3-4h0m0 2h0m3 0h0m2 2h0m2-1h0m2-2h0m4-2h0m0 0h0m208 2h0m1 1h0m-377 6h0m7-3h0m1 0h0m10 2h0m10 0h0m11 3h0m6-5h0m3 2h0m6-2h0m11 0h0m5 2h0m5 2h0m30-3h0m3-1h0m14 4h0m2 0h0m9-2h0m2 0h0m2 1h0m1 1h0m1-3h0m7 4h0m4-2h0m7-3h0m1 4h0m4-3h0m2 2h0m3-1h0m0 3h0m1-2h0m210-1h0m2-3h0m130 4h0m6-1h0m-524 8h0m1-3h0m3 2h0m1 0h0m16-3h0m1 0h0m0 0h0m5 1h0m4 4h0m2-5h0m2 4h0m8-4h0m30 3h0m5-4h0m5 2h0m30 0h0m26 4h0m1-6h0m2 4h0m6-3h0m1 2h0m2 1h0m2-4h0m1 5h0m5-1h0m1-2h0m3 0h0m1 0h0m0 4h0m1-5h0m3 1h0m0-1h0m3 4h0m1 0h0m1-1h0m4-2h0m1 0h0m0-1h0m210-1h0m1 0h0m3 2h0m67 0h0m12 2h0m3 0h0m1 2h0m5-5h0m1 0h0m3 4h0m2 0h0m4-2h0m9 1h0m8-2h0m16-1h0m0 2h0m-614 6h0m2 1h0m6 2h0m3-2h0m78-4h0m4 2h0m8 0h0m3-1h0m13 2h0m32-1h0m20 0h0m2 2h0m5-2h0m0 0h0m33-1h0m3 4h0m21-1h0m3-3h0m1 1h0m6 1h0m4-1h0m5 1h0m1-2h0m8 1h0m1 0h0m3 4h0m2-1h0m1-4h0m1 0h0m214 3h0m2 1h0m80-1h0m9-4h0m1 4h0m7-2h0m5-1h0m4-1h0m-590 9h0m6 0h0m10 2h0m2 0h0m69-3h0m1-1h0m2 3h0m5-3h0m7-1h0m28 5h0m5-4h0m8 3h0m5 2h0m14-2h0m5-1h0m0-2h0m43 3h0m8 0h0m2 1h0m2-4h0m5 4h0m0 0h0m5 1h0m12-5h0m2-1h0m1 5h0m2-1h0m8 0h0m0 0h0m2-3h0m3 4h0m4-3h0m216 2h0m3-1h0m0 1h0m1-3h0m70 0h0m6 1h0m2-1h0m1 2h0m6 2h0m3-3h0m-577 4h0m1 0h0m2 1h0m1 4h0m2-4h0m1 2h0m8 2h0m2 0h0m3-2h0m0 1h0m0 1h0m3-4h0m2 5h0m58-5h0m2 1h0m1 2h0m8 0h0m6-2h0m3 4h0m0-5h0m3 1h0m36 2h0m3 0h0m5-1h0m5 0h0m15 3h0m5-4h0m50-1h0m1 0h0m8 1h0m14-1h0m9 4h0m12 0h0m192-1h0m1-3h0m23 5h0m-472 2h0m1-1h0m0 4h0m3-3h0m0-1h0m1 0h0m5 1h0m3-1h0m10 4h0m33 0h0m8-2h0m14 2h0m0-3h0m0 2h0m2-3h0m1 0h0m9 4h0m18-4h0m2 5h0m8 0h0m8-3h0m4-3h0m5 5h0m4 0h0m1-5h0m1 2h0m0 4h0m1-3h0m8 2h0m9-4h0m51 1h0m10 0h0m0 1h0m6-1h0m0 1h0m4 2h0m3-1h0m19-3h0m3 0h0m5 4h0m3-5h0m1 5h0m4-1h0m-278 3h0m0-1h0m2 3h0m5-2h0m4 4h0m3-2h0m4-1h0m3 4h0m0-4h0m1 2h0m7-2h0m5 3h0m0-3h0m24-1h0m15-1h0m5 4h0m7-2h0m1 1h0m1-2h0m4 0h0m5 0h0m2 3h0m9-1h0m0-1h0m0 0h0m5 0h0m8-2h0m10 2h0m3 3h0m14 0h0m1-5h0m2 4h0m3 2h0m13-4h0m2 2h0m0 2h0m3-3h0m38 1h0m9-3h0m24 4h0m3-3h0m2 2h0m0-1h0m15 1h0m3 0h0m1 0h0m5 0h0m6 1h0m1-2h0m4 3h0m186 0h0m3-4h0m1-1h0m-470 11h0m7-1h0m3-1h0m0-4h0m0 6h0m6-1h0m2-4h0m0 4h0m1-1h0m1-3h0m3 1h0m4-1h0m1 3h0m0-2h0m2-1h0m4 2h0m5-2h0m2 5h0m4-1h0m18-5h0m9 2h0m12 1h0m1 0h0m1-1h0m2-1h0m7 3h0m15 1h0m3 1h0m3-4h0m8-1h0m9 3h0m1 0h0m22-4h0m8 1h0m49 1h0m7 0h0m0-2h0m1 2h0m0-2h0m1 3h0m9-1h0m2 1h0m3 2h0m1-3h0m12 2h0m2 2h0m0-6h0m5 5h0m4-3h0m2 3h0m4 0h0m3 0h0m13-3h0m2 0h0m158 1h0m2 3h0m4-2h0m10 1h0m1-3h0m5 0h0m3-1h0m2-1h0m-491 11h0m3-1h0m3-1h0m0-1h0m5 1h0m4-2h0m4 0h0m9 3h0m2-4h0m0 5h0m7-2h0m4 0h0m2 1h0m2 1h0m3-5h0m1 0h0m8 6h0m3-5h0m2 2h0m30-2h0m8 3h0m14-2h0m0-1h0m3 0h0m12 2h0m12 0h0m10 1h0m7-3h0m1-1h0m7 1h0m0 0h0m6-1h0m0 2h0m1 2h0m1 0h0m5 1h0m2-3h0m1-2h0m4 6h0m6 0h0m45-5h0m10 3h0m2-3h0m4 3h0m1-3h0m9 0h0m8-1h0m0 1h0m7 4h0m1-2h0m3 0h0m2 3h0m15-3h0m165 0h0m2-3h0m-468 10h0m6-2h0m2 1h0m2 0h0m1 2h0m2 0h0m4-2h0m4 1h0m2-3h0m4 2h0m1 2h0m3-2h0m4 0h0m1-2h0m4 4h0m2 0h0m12-3h0m0 1h0m3 2h0m1-1h0m1-1h0m13 3h0m2-6h0m8 1h0m2 4h0m1-4h0m2 1h0m11 1h0m6 2h0m8-3h0m6 3h0m3-4h0m1-1h0m5 5h0m3 0h0m1-2h0m3 0h0m0 1h0m15-1h0m2 3h0m3-5h0m7 3h0m2-1h0m2-1h0m0 2h0m0-2h0m6-1h0m12 4h0m2 0h0m6 1h0m2-5h0m4 2h0m1 1h0m47-1h0m1 2h0m6 0h0m23-3h0m8 2h0m9 0h0m2-2h0m9 0h0m2 2h0m2-3h0m2 4h0m-307 7h0m6-3h0m2 0h0m5 1h0m9 1h0m3 0h0m6-4h0m2 0h0m7 3h0m2-1h0m7 0h0m3 0h0m5 0h0m22 1h0m26 2h0m0-3h0m5-3h0m9 2h0m0 2h0m1 0h0m1 1h0m0 0h0m6-4h0m4 2h0m0-2h0m2 5h0m1-4h0m2 2h0m3 2h0m1-1h0m7-4h0m1-1h0m0 5h0m7 0h0m3-5h0m6 3h0m1 3h0m2-5h0m8 4h0m0 1h0m2-2h0m10 0h0m2-3h0m5 5h0m54-6h0m0 1h0m2 4h0m2-1h0m9 0h0m10 0h0m6-1h0m8-2h0m4 3h0m0-3h0m6 0h0m1 1h0m4 0h0m2 1h0m6 2h0m0-4h0m-313 10h0m1-4h0m0 2h0m2-2h0m0-1h0m2 2h0m4-1h0m2 0h0m3 2h0m1-1h0m11 0h0m1 0h0m1-2h0m10 1h0m2 4h0m2 0h0m3-2h0m8 2h0m6 1h0m2-4h0m2 1h0m4-2h0m6 2h0m4 2h0m0-3h0m2 3h0m9-3h0m0 2h0m3-3h0m9 0h0m5 0h0m3 3h0m8 0h0m15-2h0m21 4h0m10-2h0m3-1h0m3-2h0m10 0h0m7 4h0m3 0h0m68 0h0m1-2h0m3 3h0m9-1h0m0-2h0m3 3h0m2-3h0m8 1h0m5 1h0m0 0h0m13-1h0m1-2h0m6 2h0m-312 5h0m6 2h0m1-4h0m0 3h0m10 1h0m2-4h0m1 0h0m3 3h0m1-2h0m7 3h0m5-2h0m2 3h0m6-6h0m4 5h0m3-2h0m2-3h0m3 1h0m4 3h0m1-2h0m4 3h0m6-2h0m7 2h0m7-5h0m2 6h0m2-3h0m3-1h0m0-1h0m5 2h0m1 2h0m2-4h0m2 5h0m1-5h0m3 3h0m2 1h0m0-3h0m8-1h0m4 1h0m6 1h0m13-2h0m15 1h0m1 1h0m5 2h0m3-4h0m4 4h0m0-3h0m2 3h0m1-2h0m12 0h0m9-2h0m1 2h0m57-1h0m3 2h0m0-1h0m7-2h0m7 0h0m3 0h0m2 2h0m0 3h0m2-4h0m5-2h0m2 6h0m11-2h0m2 2h0m0-3h0m0-2h0m2 0h0m9 0h0m0 4h0m0 1h0m1-1h0m7-1h0m1 1h0m4-5h0m-317 10h0m1 2h0m10-3h0m17 2h0m0-4h0m8 1h0m2 1h0m7-1h0m6 3h0m6-2h0m2 0h0m9 1h0m13-1h0m3 2h0m0-3h0m2 2h0m4-3h0m4 3h0m6 1h0m6-4h0m4 0h0m1 1h0m11 1h0m2-1h0m14 2h0m3 2h0m5-5h0m14-1h0m19 1h0m2 2h0m6-1h0m63 0h0m0 2h0m4 0h0m4-3h0m20 5h0m2-6h0m9 3h0m1-1h0m2 3h0m6-2h0m3-2h0m4 4h0m3 1h0m1-3h0m1 0h0m0-1h0m-315 8h0m4-1h0m2 1h0m9 2h0m5-4h0m1 1h0m2 0h0m2 2h0m1-3h0m2 0h0m8 2h0m2-2h0m0 3h0m1-4h0m2 2h0m1 0h0m11-2h0m1 0h0m7 5h0m1-1h0m3-4h0m2 4h0m0-3h0m0 0h0m4 0h0m8 0h0m1 1h0m11-2h0m1 4h0m2-4h0m2 2h0m3-3h0m7 2h0m10-1h0m3 1h0m2 2h0m3-1h0m7 1h0m1 0h0m4-1h0m8 1h0m4-3h0m3-1h0m103 1h0m6 5h0m15-2h0m5 1h0m10-3h0m1-2h0m0 2h0m0-1h0m3 5h0m10-6h0m0 4h0m2-1h0m-304 5h0m3 3h0m1-2h0m2 1h0m0-4h0m2 4h0m4-4h0m3 1h0m3 3h0m9-1h0m3 1h0m2 2h0m0-6h0m6 6h0m5-2h0m9 0h0m7-4h0m5 4h0m2 1h0m3-1h0m0 1h0m7-2h0m7-3h0m0 0h0m8 3h0m9-2h0m2 1h0m0-1h0m3 1h0m1 3h0m1-3h0m8 2h0m2-3h0m0 3h0m1-3h0m1 1h0m1 3h0m3-2h0m2 3h0m3-5h0m7-1h0m7 1h0m108 2h0m4 1h0m1 0h0m6 0h0m0 0h0m7 0h0m0-4h0m2 0h0m2 4h0m4-3h0m1 1h0m3 4h0m1-1h0m3-3h0m0 2h0m1-1h0m0-2h0m5 0h0m1 1h0m11-1h0m1-1h0m239 6h0m-538 6h0m5-6h0m1 5h0m4-1h0m0-1h0m2 2h0m4-4h0m0 2h0m4-1h0m1-1h0m4-1h0m4 5h0m0-3h0m5-1h0m1 3h0m1 1h0m5-2h0m4 1h0m0 2h0m3-1h0m2-1h0m6 0h0m1 0h0m3 0h0m2 1h0m10-1h0m7-4h0m4 3h0m0 2h0m2 0h0m2-4h0m5 4h0m2 0h0m6 0h0m8-3h0m6-2h0m3 1h0m0 2h0m5 0h0m2 1h0m3-1h0m2 1h0m119-3h0m2 2h0m4-1h0m2 2h0m1-3h0m22-1h0m1 4h0m221 1h0m4-2h0m1 0h0m0 0h0m0 2h0m8 0h0m1-4h0m0-1h0m4 5h0m0-4h0m9 4h0m4-3h0m2 2h0m1 1h0m0-4h0m2 4h0m1-2h0m1 2h0m1-2h0m2 1h0m3-4h0m-535 7h0m6 1h0m5 0h0m2 2h0m0-2h0m2 1h0m1-1h0m0 2h0m15-1h0m3-1h0m6 0h0m1-2h0m9 6h0m5-3h0m2 1h0m6-3h0m2 2h0m11 2h0m3-3h0m1 3h0m0-1h0m3-2h0m16-2h0m3 4h0m1-2h0m4 1h0m2 3h0m6-6h0m1 0h0m125 1h0m1 0h0m237 4h0m7 0h0m5-3h0m1 0h0m0 1h0m2 2h0m2-5h0m2 2h0m2-1h0m3 3h0m7-1h0m4-3h0m-519 8h0m6-1h0m3 5h0m12-3h0m6-3h0m0 4h0m2 0h0m1 1h0m5-4h0m2 1h0m5 3h0m3 0h0m2-4h0m10 4h0m2-1h0m1-1h0m8 2h0m2-3h0m2 2h0m3-3h0m5 3h0m1 0h0m2-3h0m0 2h0m5-2h0m0 0h0m0 3h0m1 1h0m0 0h0m20-2h0m2 3h0m1-1h0m0-1h0m366-1h0m2 0h0m6 0h0m1 0h0m0 2h0m1 1h0m2-1h0m0 0h0m11-1h0m1-2h0m2 4h0m1-5h0m1 3h0m7-4h0m3 1h0m-495 11h0m1-2h0m4 1h0m5-4h0m2 3h0m2-4h0m2 5h0m5-3h0m1 2h0m2 1h0m5-1h0m11 2h0m1-6h0m7 5h0m10-5h0m9 3h0m1 1h0m2-2h0m1 4h0m0-2h0m1 0h0m1-2h0m3 3h0m1-4h0m1 5h0m3-1h0m2-5h0m1 0h0m1 5h0m373-5h0m2 0h0m1 0h0m1 2h0m1 1h0m8 1h0m1-3h0m0 1h0m1 4h0m1-4h0m5 1h0m2 2h0m1-2h0m2 1h0m4-1h0m-498 3h0m4 3h0m5 3h0m4-5h0m1 3h0m2-1h0m0 3h0m6 0h0m2-2h0m7 1h0m2-2h0m1 1h0m2 0h0m1-2h0m6 1h0m0 2h0m2-3h0m3 1h0m5-1h0m2 1h0m2 1h0m2-3h0m1 3h0m1 1h0m1-4h0m0-1h0m3 1h0m6 0h0m12 4h0m3-4h0m0 3h0m1-1h0m3 1h0m404-4h0m-480 8h0m1 1h0m15-1h0m1 4h0m4-3h0m5 2h0m7 0h0m1-5h0m6 3h0m1 1h0m3 0h0m1-4h0m5 2h0m4 2h0m0 0h0m1 0h0m1-4h0m4 4h0m8 2h0m3-4h0m1-1h0m-62 7h0m4-2h0m2 1h0m2 0h0m2 4h0m8-1h0m0 0h0m3-1h0m5-2h0m3 5h0m1-1h0m2 0h0m1 0h0m2 0h0m0-3h0m5-1h0m0 3h0m1-3h0m1 1h0m3-1h0m4 1h0m416 52h0m5-5h0m1 3h0m-191 6h0m183-2h0m2-2h0m-188 10h0m1 2h0m2-2h0m5-2h0m6 0h0m5 1h0m158 2h0m5-2h0m2 2h0m4-2h0m5 1h0m3 1h0m2 1h0m47-1h0m1-4h0m4 4h0m-267 7h0m7-4h0m2 0h0m2 3h0m2-2h0m0-1h0m1-2h0m2 4h0m3-3h0m0 2h0m6 3h0m2-5h0m1-1h0m2 3h0m5 1h0m3 1h0m1 0h0m2 1h0m5 0h0m1 0h0m8-2h0m137-3h0m9 4h0m1-5h0m5 5h0m2-1h0m0-1h0m4 2h0m2 0h0m34-2h0m0 1h0m2 0h0m2-2h0m8 4h0m4-6h0m1 3h0m-268 8h0m5-2h0m3 3h0m3 0h0m1-4h0m0 1h0m5-2h0m0 4h0m0-3h0m0 2h0m1-3h0m2 4h0m0-1h0m1 1h0m7 1h0m1-2h0m5-2h0m8 4h0m1-2h0m4 2h0m0-2h0m1-2h0m3 2h0m5 1h0m1-1h0m135 1h0m3 1h0m14-4h0m3 3h0m4-2h0m4 0h0m2-1h0m4 2h0m30-4h0m1 1h0m-263 10h0m5-3h0m3 0h0m3 0h0m1 1h0m1 2h0m2-2h0m1 0h0m8 0h0m3-3h0m11 1h0m8 4h0m10 0h0m14 0h0m1-1h0m0 1h0m133-2h0m4 2h0m0-1h0m2-4h0m3 1h0m3 0h0m8 3h0m3 1h0m3-2h0m10 1h0m4-3h0m6 3h0m2-2h0m2 1h0m4-2h0m9 1h0m-277 7h0m4 3h0m2-5h0m1 3h0m1-2h0m8 3h0m1 1h0m7-1h0m1-5h0m5 3h0m0-2h0m6 4h0m12-4h0m5 0h0m6 1h0m3 2h0m9-2h0m3 3h0m2 0h0m1-2h0m4-2h0m2 5h0m2-4h0m122 3h0m4-1h0m5-2h0m0-1h0m6 3h0m1 2h0m5 0h0m1-6h0m0 0h0m2 3h0m0-1h0m0 1h0m1 3h0m2-5h0m0 2h0m1 1h0m1-3h0m0 3h0m1 1h0m1-1h0m3 0h0m0-3h0m4 2h0m3 0h0m2 1h0m2 0h0m11 1h0m0-5h0m1 5h0m8 0h0m3-3h0m5 1h0m1 1h0m7 2h0m-293 5h0m1-2h0m6 0h0m2 1h0m0-1h0m4 2h0m7-4h0m8 2h0m3-2h0m0 4h0m2 0h0m3-1h0m3-2h0m3 3h0m4-3h0m0 2h0m7 2h0m1-2h0m1-2h0m1 3h0m4-2h0m6-1h0m3 2h0m0-3h0m7 3h0m0-2h0m8 1h0m1-2h0m2 3h0m3-4h0m3 4h0m0-2h0m122 3h0m1 0h0m4-2h0m9 1h0m1 1h0m2-2h0m0 0h0m1-2h0m4 0h0m2 1h0m6 2h0m1 0h0m1-2h0m1 0h0m1 3h0m2-3h0m3 0h0m1 0h0m5 0h0m9 0h0m1 1h0m2-1h0m4-1h0m1 3h0m1 1h0m11-3h0m-282 7h0m5 0h0m7-1h0m1 4h0m1-2h0m9-2h0m0 1h0m3 0h0m2 0h0m5 2h0m5-3h0m9 4h0m8 0h0m1-2h0m1 1h0m3 1h0m0-1h0m2-1h0m5 1h0m6-4h0m135 3h0m0-1h0m6-1h0m5 1h0m0-2h0m1 1h0m7-1h0m11-1h0m7 5h0m2-1h0m3 2h0m2-4h0m0 0h0m1 1h0m5-2h0m6 5h0m6-3h0m14-2h0m-293 5h0m1 1h0m1 3h0m2-3h0m1 0h0m1-1h0m4 3h0m7 2h0m10-2h0m11 1h0m2 0h0m0-3h0m1 5h0m1-1h0m4-2h0m1 2h0m1-5h0m1 3h0m0-1h0m4 3h0m8-4h0m4 3h0m5-1h0m2 0h0m1-1h0m5 0h0m145-1h0m0 1h0m4 2h0m2-1h0m1-2h0m1 3h0m1-3h0m2 2h0m13 3h0m1-3h0m10-1h0m2 1h0m2 0h0m2 0h0m7-2h0m11 3h0m8 0h0m1 2h0m2-1h0m1-3h0m-291 9h0m2-1h0m0-1h0m0-2h0m5 2h0m3 1h0m4 0h0m1 0h0m13 2h0m1-5h0m5 3h0m6-1h0m5-2h0m0-1h0m3 3h0m3 0h0m0-2h0m9 3h0m1-1h0m8 0h0m153-2h0m1 0h0m2 0h0m2 1h0m10 3h0m8-2h0m1 1h0m7-1h0m1 3h0m1-4h0m3 0h0m1 2h0m1-1h0m1-2h0m3 3h0m2 0h0m0-3h0m0-1h0m1 5h0m0 1h0m3 0h0m11-2h0m9 1h0m0-3h0m3-2h0m-286 8h0m4 1h0m5 0h0m2-3h0m3 2h0m2 0h0m7 2h0m2-2h0m0 3h0m8 0h0m6 0h0m2-2h0m3-1h0m9 2h0m1-1h0m2 1h0m3-1h0m171-3h0m1 5h0m3 0h0m3 0h0m2-2h0m0-2h0m1 1h0m11-1h0m2 0h0m1 2h0m1-1h0m0 0h0m1 2h0m14-2h0m3-1h0m2 4h0m1-1h0m5 0h0m7-3h0m2 3h0m2-3h0m0 3h0m-286 3h0m4 3h0m5 0h0m0-2h0m2 2h0m13 1h0m3-3h0m1 1h0m4 2h0m0 0h0m2 0h0m1 0h0m3 0h0m185 0h0m4 1h0m1-3h0m2 0h0m2-2h0m9 1h0m3 4h0m3-2h0m1 2h0m1-6h0m4 3h0m1 3h0m6-6h0m0 3h0m2 0h0m4-1h0m1 0h0m5 0h0m2-2h0m2 4h0m5-1h0m-269 6h0m0 2h0m20 0h0m1-3h0m4-1h0m1 1h0m2 0h0m0 4h0m177-3h0m1 0h0m1-2h0m9 3h0m1-3h0m3 5h0m1 0h0m11-2h0m7 0h0m1 2h0m1-2h0m1-3h0m10 0h0m2 4h0m11-4h0m0 0h0m2 3h0m1-2h0m6 2h0m-272 2h0m20 1h0m19 3h0m163-3h0m1 0h0m2 3h0m4-1h0m2-3h0m12 3h0m1-2h0m6 2h0m1-2h0m5 2h0m2 0h0m9-2h0m1 4h0m0-5h0m2 1h0m0 3h0m6-1h0m5-1h0m3 1h0m1 2h0m0-3h0m2 1h0m9 0h0m-279 7h0m15-4h0m0 4h0m3 0h0m3 1h0m0 0h0m0 1h0m3-3h0m16 0h0m0-2h0m168 2h0m1 1h0m12-2h0m6 1h0m19 0h0m1 0h0m1 0h0m7 2h0m8-2h0m4 3h0m0-5h0m6-1h0m2 0h0m0 0h0m3 1h0m0 2h0m-275 6h0m4-1h0m10 1h0m4-3h0m4 0h0m189 5h0m7-1h0m4 2h0m0 0h0m3 0h0m13-4h0m2 2h0m1-3h0m7 3h0m6 1h0m5-4h0m2 4h0m1 0h0m0-1h0m0 1h0m4-3h0m2 1h0m13 1h0m-292 3h0m0 1h0m0 4h0m2 0h0m6-2h0m1 1h0m2-4h0m4 4h0m215-4h0m1 3h0m15-3h0m6 3h0m2 2h0m1-2h0m8-3h0m3 1h0m7-1h0m0 2h0m1-1h0m4 1h0m0 2h0m3 0h0m1-5h0m3 4h0m1-2h0m2 0h0m-285 6h0m5-2h0m5 0h0m229 2h0m2 2h0m16-1h0m8 0h0m0 2h0m3-5h0m2 0h0m1 1h0m2 4h0m10-3h0m1-1h0m-45 7h0" stroke="#4DC553"/>
<path d="M344 49h0m4-1h0m1 0h0m2 2h0m11 1h0m-20 2h0m1-1h0m1 4h0m1 0h0m1 0h0m2-3h0m2 1h0m6 2h0m6 0h0m3-5h0m5 3h0m2 3h0m1-1h0m2-4h0m4 4h0m5-3h0m6 1h0m-45 4h0m4 5h0m8-2h0m5-2h0m0 2h0m1-4h0m1 3h0m0 1h0m1-1h0m2-1h0m6 1h0m2 1h0m2 1h0m9-3h0m1 2h0m2-2h0m2 4h0m-60 1h0m2 5h0m0-2h0m2-2h0m5-2h0m3 3h0m1 1h0m2-3h0m0 1h0m3 3h0m7 1h0m4-5h0m2 3h0m22-3h0m1 0h0m1 2h0m10 2h0m-65 1h0m8 5h0m4-3h0m0 0h0m2 0h0m0 2h0m2-1h0m0-1h0m3 0h0m0-2h0m36 2h0m3 0h0m0 0h0m2 1h0m0 2h0m1-2h0m2-1h0m0-2h0m1 1h0m1-1h0m2 1h0m-16 9h0m4-3h0m2 4h0m1-2h0m2 3h0m6-4h0m-78 6h0m58 3h0m3-5h0m9 5h0m0-2h0m4 1h0m0 0h0m5 1h0m-60 3h0m34 4h0m2-1h0m1-2h0m4 2h0m3-2h0m9-1h0m0-1h0m-21 10h0m1-5h0m1 5h0m3-2h0m8-2h0m1 1h0m0 2h0m1 2h0m1-3h0m1 0h0m1-3h0m1 6h0m1-5h0m1 1h0m2 3h0m-21 5h0m7 2h0m0-6h0m1 4h0m3-2h0m0 2h0m1-3h0m2 4h0m1-1h0m2-2h0m3 1h0m-32 8h0m8-3h0m3 0h0m1 3h0m4-1h0m5-3h0m3 2h0m0 0h0m1-2h0m2 2h0m1 1h0m1-2h0m-31 8h0m7-1h0m10 1h0m2-1h0m-22 4h0m5 1h0m-221 15h0m7 0h0m6 1h0m-20 3h0m3-2h0m3 4h0m0-3h0m1 1h0m3-2h0m2 3h0m4 0h0m1 0h0m0 1h0m3-2h0m1-2h0m0 0h0m6 5h0m0-4h0m2 4h0m0-4h0m1 2h0m3 0h0m-39 8h0m6-5h0m2-1h0m2 1h0m0 5h0m1-5h0m3 4h0m1-4h0m4 0h0m2 2h0m6-2h0m0-1h0m1 0h0m3 0h0m2 5h0m0-4h0m4 0h0m3 4h0m1-1h0m-32 3h0m14 1h0m2-2h0m0 5h0m1 1h0m1-4h0m6 2h0m2-1h0m1-1h0m-42 7h0m6-2h0m2 1h0m2-2h0m1 4h0m2-1h0m0-2h0m7 2h0m2 1h0m2-4h0m0 2h0m1 2h0m0 2h0m2-5h0m3 2h0m2 0h0m0-2h0m1 0h0m3 0h0m0 1h0m2 2h0m1-3h0m1 0h0m3 3h0m1 1h0m1 0h0m2-1h0m2-3h0m-44 8h0m0-2h0m1 0h0m5 3h0m3 0h0m1-3h0m0 5h0m1-6h0m0 2h0m2 3h0m1 0h0m2-1h0m2 1h0m0-1h0m4 2h0m3 0h0m3-1h0m3-1h0m0-3h0m7 2h0m5-1h0m0-1h0m3 5h0m1-3h0m268 2h0m1 1h0m3-2h0m2-3h0m0 0h0m1 0h0m2 4h0m0-4h0m4 1h0m3 4h0m-337 0h0m1 3h0m1 0h0m0 1h0m2 0h0m4 1h0m1 0h0m5-2h0m0-1h0m6 3h0m1-4h0m0 3h0m0 1h0m5-5h0m0 6h0m1-4h0m5-2h0m0 2h0m2 1h0m2 2h0m5-2h0m1-1h0m0 3h0m0-1h0m2-4h0m2 1h0m2 0h0m1 3h0m0-2h0m272 0h0m2 2h0m2 2h0m3-5h0m2 5h0m0-5h0m6 2h0m3 0h0m2-1h0m0 0h0m4 0h0m1 1h0m0 1h0m2 1h0m2-2h0m2 0h0m2-2h0m5 2h0m0-2h0m0 2h0m2 1h0m3-4h0m-355 7h0m7 4h0m2-4h0m0 2h0m3 2h0m3-2h0m8 2h0m3 0h0m1 0h0m5-5h0m0 3h0m6 1h0m4 2h0m277-6h0m18 3h0m6 3h0m-332 5h0m16-1h0m1-4h0m5 1h0m3 0h0m0 3h0m278-1h0m8 2h0m16-5h0m3 5h0m2-4h0m1 2h0m2 0h0m1 2h0m2 0h0m-337 3h0m1 1h0m8-3h0m300 1h0m3 0h0m22 4h0m0-5h0m3 2h0m0 1h0m6-1h0m-16 7h0m9 2h0m1 1h0m2-1h0m1-1h0m0-1h0m0 1h0m0 2h0m3-3h0m-17 4h0m4 0h0m9 3h0m0-2h0m-3 8h0m2 1h0m15-1h0m-21 6h0m1-3h0m27 4h0m2-2h0m4 2h0m4-1h0m0 0h0m-42 6h0m1-1h0m0 1h0m1-4h0m0 2h0m0 2h0m3-2h0m3 0h0m5 0h0m16 4h0m11-5h0m0 0h0m-42 9h0m0 0h0m29-1h0m1 0h0m1-2h0m2 1h0m-28 8h0m2 1h0m23-1h0m1-2h0m0 4h0m0-3h0m0-1h0m90-1h0m1 1h0m0 1h0m2-1h0m1 0h0m-124 5h0m5 0h0m1-1h0m0 4h0m1-1h0m25-2h0m79 4h0m2-2h0m5 1h0m1-4h0m12 6h0m-118 6h0m1-2h0m2 0h0m2-2h0m0 2h0m1 2h0m0-4h0m1 3h0m0-3h0m2 4h0m14 0h0m76-2h0m3-4h0m4 2h0m0 3h0m4-3h0m14 0h0m3-1h0m-145 7h0m1 0h0m1 4h0m0-4h0m16-2h0m7 1h0m0-1h0m5 3h0m1-1h0m1 3h0m0-2h0m3 0h0m2 0h0m0-1h0m0 1h0m2-3h0m79 6h0m0-5h0m1 1h0m2 2h0m0-3h0m3-1h0m2 3h0m1 2h0m4 1h0m24-2h0m-152 6h0m8-1h0m3 1h0m6 1h0m2-2h0m0-3h0m0 2h0m1 3h0m1 0h0m2-3h0m1 0h0m0-1h0m3 0h0m4 2h0m3 1h0m0 1h0m1-1h0m4-1h0m68-3h0m1 1h0m2 2h0m1-2h0m2 3h0m2 2h0m2-5h0m7-1h0m1 5h0m0-1h0m1-2h0m1-1h0m1-1h0m0 0h0m3 1h0m5 2h0m1-2h0m0 0h0m4 1h0m1-1h0m0 2h0m14-2h0m-144 6h0m10 0h0m0 3h0m8 1h0m0-3h0m1 3h0m0 0h0m1-5h0m6 1h0m70 4h0m1-4h0m3 0h0m0 1h0m1 3h0m4 1h0m3-1h0m1 0h0m7 1h0m11-5h0m11 1h0m2 1h0m3 3h0m10-3h0m3 3h0m-160 2h0m2 1h0m17 2h0m0-1h0m1 2h0m0-6h0m1 1h0m2 1h0m69 0h0m9 3h0m1 0h0m3 1h0m3-1h0m1-4h0m1 0h0m5-1h0m32 1h0m11 5h0m2-2h0m2-1h0m-71 3h0m1 5h0m2 0h0m1-4h0m0-1h0m2 2h0m4 0h0m4 2h0m2 0h0m2-4h0m16 5h0m18 0h0m2 1h0m5-1h0m0 0h0m0 1h0m5-4h0m0-2h0m0 3h0m1-2h0m1 2h0m1-2h0m1 4h0m1-3h0m0-1h0m4-1h0m-74 9h0m0 0h0m0-1h0m17-1h0m3 2h0m5-2h0m2 5h0m0-2h0m2 1h0m0-4h0m6 5h0m1-2h0m1 2h0m1-3h0m2 0h0m0 0h0m0 1h0m2-1h0m1 0h0m3-1h0m2 0h0m1 1h0m0-1h0m1 1h0m0-2h0m5-1h0m1 0h0m1 1h0m3-1h0m-62 9h0m2 1h0m1-4h0m2 6h0m17-1h0m1-2h0m8 1h0m2-3h0m-33 11h0m2-2h0m0-1h0m2-3h0m2 5h0m15-1h0m1-3h0m-21 8h0m2 1h0m0-3h0m1 2h0m0-1h0m0 3h0m0 1h0m1-3h0m2 1h0m15-3h0m3 2h0m4-1h0m0 2h0m1-1h0m0 2h0m9-2h0m-346 5h0m1 4h0m1-6h0m3 3h0m1 2h0m1-3h0m4 3h0m2 0h0m0 0h0m1 0h0m1 0h0m5-5h0m2 5h0m6-1h0m7 1h0m2-3h0m2 2h0m1-1h0m6 3h0m66-1h0m10-4h0m15 3h0m172-3h0m1 2h0m1-2h0m22 1h0m4 1h0m1 2h0m1-2h0m1 1h0m3 1h0m14-1h0m1 1h0m1 0h0m-367 5h0m2 1h0m3-1h0m0-3h0m1 2h0m2-3h0m0 2h0m4 0h0m1 0h0m0 2h0m2-3h0m4 1h0m0 2h0m1-1h0m1-1h0m3 0h0m4 4h0m2 0h0m14-3h0m2 1h0m1-4h0m2 6h0m1-1h0m0-1h0m5 1h0m4 0h0m1-3h0m0 3h0m6-1h0m19 2h0m16 0h0m0-1h0m0 0h0m3-3h0m5 2h0m0 2h0m1-2h0m0-1h0m4 1h0m5-3h0m1 5h0m2-1h0m2 0h0m7-4h0m2-1h0m5 3h0m2-1h0m1 1h0m5 1h0m0-3h0m5 2h0m2 2h0m1 0h0m185-1h0m5-3h0m4 4h0m1-3h0m1-2h0m0 3h0m0 3h0m1-6h0m1 4h0m0 2h0m14-4h0m3 0h0m1 0h0m1-1h0m3-1h0m-374 7h0m4 1h0m1 0h0m2 1h0m1 2h0m8-1h0m0 1h0m2 0h0m1-2h0m3 1h0m9-3h0m2 4h0m2-4h0m1 4h0m0-3h0m2-2h0m0 0h0m3 0h0m6 1h0m7-1h0m0 6h0m0-4h0m1 0h0m2 2h0m1 0h0m1 0h0m1-2h0m0 3h0m2 0h0m1-2h0m2 0h0m2-3h0m1 1h0m2-1h0m4 4h0m4-2h0m5 0h0m1 0h0m0 3h0m4 0h0m1 0h0m1-2h0m2-1h0m0-1h0m3 1h0m2 0h0m3-1h0m3 1h0m2 0h0m1 3h0m1-3h0m0 0h0m1 0h0m0 1h0m1-1h0m1 3h0m1 1h0m3-2h0m1 1h0m6-5h0m6 0h0m1 3h0m7 2h0m0-1h0m3 0h0m2 0h0m3 0h0m2-1h0m4 1h0m1-3h0m0 2h0m1 2h0m1-2h0m0-1h0m3 3h0m0 1h0m180-1h0m2-3h0m9-2h0m0 3h0m1 2h0m2-3h0m0 1h0m1 3h0m1 0h0m0-1h0m1 1h0m1-5h0m2 2h0m4 2h0m2-1h0m1 2h0m1-2h0m2-3h0m-368 7h0m2-1h0m2 0h0m1 2h0m7-3h0m0 3h0m8 1h0m9 0h0m5 1h0m1-3h0m7-2h0m0 3h0m12 1h0m1-2h0m0 2h0m0 2h0m2-2h0m1-2h0m4 1h0m7-2h0m1 0h0m0-1h0m2 3h0m0 1h0m5 1h0m3 0h0m4-4h0m1 1h0m3 1h0m8 0h0m11-1h0m2 0h0m3 3h0m0 1h0m2-5h0m1 3h0m5-3h0m1 4h0m0-1h0m7 0h0m0 1h0m5-2h0m5-1h0m1 2h0m5 1h0m1-1h0m1-3h0m1 2h0m1 1h0m1-4h0m3 2h0m4-1h0m3 5h0m195-4h0m2 1h0m0-1h0m0 2h0m0-3h0m1 4h0m1-5h0m0 1h0m1-1h0m11 6h0m3-4h0m1 1h0m1-1h0m2 2h0m4 0h0m5 1h0m-384 2h0m0 4h0m1 1h0m0-1h0m4-4h0m3 3h0m8 0h0m0 0h0m5 2h0m1 0h0m0-1h0m2-4h0m4 1h0m3 3h0m1 0h0m1 1h0m0-4h0m1 1h0m6 1h0m0-2h0m1-2h0m1 1h0m1 4h0m4-1h0m2-3h0m2 1h0m0 0h0m14-1h0m2 5h0m4-3h0m0 3h0m4-3h0m4 1h0m1-3h0m19 1h0m3 2h0m4-1h0m1 2h0m1-5h0m2 0h0m3 2h0m2 0h0m1 4h0m8-1h0m0-1h0m1 1h0m0 0h0m3 0h0m1 0h0m1 1h0m2-4h0m2 0h0m2-1h0m10 1h0m0-1h0m3 2h0m4 1h0m3-2h0m0 2h0m0-4h0m1 2h0m2 0h0m195-2h0m1 5h0m1 0h0m2-2h0m0 2h0m24-4h0m3 1h0m1-1h0m2 4h0m-393 7h0m1-2h0m1-4h0m0 5h0m5-2h0m2 0h0m2 0h0m1 0h0m3-1h0m1 3h0m6 1h0m1-3h0m5-1h0m2-1h0m4 4h0m7-1h0m0 1h0m3-1h0m3 1h0m0-3h0m4-1h0m3 2h0m0 1h0m2 1h0m1-1h0m2-2h0m4-1h0m1 3h0m1-2h0m1 4h0m0-2h0m1-1h0m6-1h0m1 4h0m2-6h0m0 4h0m1-3h0m2 4h0m16-3h0m1-1h0m0 5h0m1 0h0m2-2h0m2-1h0m2-2h0m2 0h0m2 4h0m9-2h0m1-2h0m0 3h0m10-4h0m3 0h0m1 1h0m11 1h0m2 2h0m3-1h0m9 2h0m5-2h0m1-1h0m3 2h0m2-2h0m2 1h0m0-2h0m0 3h0m1-2h0m169 4h0m4-6h0m20 0h0m0 3h0m-365 4h0m3 3h0m1 1h0m3-2h0m0 1h0m1-3h0m1 5h0m12-3h0m3 0h0m0 1h0m5-4h0m2 0h0m0 5h0m6 0h0m0-4h0m4 5h0m3-5h0m0 1h0m1 0h0m0 4h0m1-1h0m2 1h0m3-6h0m0 4h0m2-3h0m2 4h0m4-2h0m6 0h0m1 2h0m7-1h0m0-2h0m3 1h0m0 3h0m22-6h0m1 6h0m10-4h0m1 1h0m7 3h0m1-1h0m1-2h0m1 1h0m2-3h0m4 4h0m6 0h0m0 1h0m1-6h0m0 3h0m1 2h0m0-2h0m3-2h0m1 1h0m2 0h0m4 0h0m5 2h0m1 0h0m4-2h0m3-1h0m1 1h0m1 2h0m9-1h0m0 2h0m2-4h0m166 0h0m0 1h0m60 3h0m-398 2h0m3 2h0m1 1h0m3 0h0m3 1h0m8-1h0m1-2h0m1 4h0m1-5h0m2 2h0m2 3h0m0-4h0m10-1h0m1 5h0m0-6h0m1 4h0m0-2h0m2 0h0m5 2h0m5 1h0m9-4h0m4 3h0m3-1h0m1-2h0m0 4h0m0 0h0m1-1h0m2-2h0m0 1h0m5 0h0m3 2h0m3 0h0m23-3h0m2 0h0m0-1h0m5-1h0m0 0h0m1 0h0m7 5h0m0-1h0m5-1h0m1 3h0m2-6h0m3 1h0m5 3h0m5-2h0m3 2h0m0-1h0m0-1h0m3-1h0m2 2h0m2-2h0m2 0h0m8 4h0m7 0h0m1-4h0m1 0h0m3 4h0m0-3h0m3 0h0m214 1h0m9-2h0m1-1h0m-397 7h0m5 2h0m0 2h0m1-4h0m2 3h0m2-2h0m2 0h0m1-2h0m4 5h0m1-2h0m1-2h0m5 4h0m4 0h0m1-4h0m0 1h0m2 4h0m7-4h0m1 0h0m2 2h0m3-3h0m1 4h0m10-1h0m2-2h0m1 2h0m1 1h0m6-5h0m2 1h0m0 4h0m1-1h0m1 0h0m6-3h0m0 2h0m1-2h0m3 5h0m0-3h0m29 3h0m2-2h0m1-2h0m2 2h0m10-2h0m2 1h0m3 0h0m1 1h0m1-4h0m0 2h0m4-1h0m1 0h0m2 1h0m1-1h0m2 1h0m2 4h0m1-2h0m0-2h0m1 4h0m0-6h0m8 5h0m1 0h0m0 0h0m1 0h0m1 1h0m0-1h0m1-5h0m3 2h0m1 2h0m1 2h0m8-1h0m1-1h0m1 1h0m-178 2h0m1 3h0m1-1h0m1 1h0m0-3h0m5 2h0m2-1h0m5 2h0m3-3h0m5 0h0m6 0h0m1 3h0m33 0h0m2-2h0m2-2h0m0 3h0m7 1h0m2-3h0m2 1h0m3 0h0m2 2h0m33-1h0m1-2h0m12-1h0m2 2h0m1-1h0m5-1h0m0 4h0m1-2h0m0 2h0m3 1h0m5 1h0m2-3h0m1 2h0m1-3h0m2 3h0m1 0h0m1-3h0m0 1h0m3 0h0m1 1h0m10 1h0m0 1h0m4-5h0m211-1h0m3 6h0m1-1h0m0-3h0m0 1h0m2 2h0m0-1h0m92 2h0m20 0h0m16-1h0m4 0h0m1 1h0m0 0h0m1-1h0m-529 6h0m0 0h0m5-4h0m0 5h0m3-5h0m1-1h0m0 1h0m5 0h0m1 2h0m3 1h0m3-1h0m1-1h0m1 2h0m20-1h0m3 2h0m3-5h0m11 1h0m11 1h0m0 3h0m9-4h0m6 4h0m0-2h0m4-3h0m36 4h0m9-2h0m7-1h0m0 2h0m4-3h0m0 1h0m1 3h0m3 1h0m0-4h0m7-1h0m1 4h0m2-4h0m5 5h0m2-1h0m1 1h0m1-2h0m2 1h0m5 0h0m2 0h0m0-3h0m3 4h0m1-3h0m213 2h0m2-2h0m67 0h0m16 1h0m0 1h0m3-1h0m1-1h0m1 0h0m1 4h0m1-4h0m1 3h0m0-5h0m11 5h0m8 1h0m1-2h0m1 0h0m4-2h0m4 1h0m5-3h0m2 0h0m1 1h0m2-1h0m-615 7h0m1 5h0m5-1h0m6-1h0m2 2h0m75-3h0m2 1h0m1 1h0m1-2h0m0 2h0m5-1h0m1 0h0m1-3h0m5 3h0m3 1h0m5-3h0m2 0h0m1-2h0m8 5h0m5-5h0m2 1h0m7 1h0m2 0h0m2-2h0m4 5h0m2 0h0m5 0h0m12 1h0m1-1h0m4 0h0m2-1h0m5-4h0m45 5h0m2-3h0m1 0h0m2 0h0m4 2h0m5 0h0m2-3h0m1 0h0m0 1h0m13 3h0m12-2h0m1 0h0m2-2h0m3 0h0m0 4h0m4-2h0m211-1h0m1 3h0m2-4h0m74 4h0m3-5h0m0 3h0m2 3h0m1-2h0m0-4h0m0 6h0m2-5h0m3-1h0m0 6h0m1-4h0m1 2h0m2-2h0m0 1h0m1 1h0m1-3h0m0 0h0m2 1h0m1-1h0m5-1h0m0 1h0m5 0h0m-592 8h0m1 0h0m1-2h0m0 3h0m1 0h0m1-3h0m3 2h0m0 0h0m3-2h0m4 0h0m4 3h0m66-3h0m4 4h0m1-3h0m1 0h0m1-1h0m5 2h0m11-1h0m2-2h0m11 4h0m15 2h0m19-4h0m8 0h0m4 1h0m0-1h0m3 1h0m0 1h0m1 0h0m2 2h0m1-1h0m36-4h0m1 5h0m7-4h0m5 3h0m7-3h0m18 0h0m5 3h0m11-5h0m3 1h0m3 2h0m1-2h0m0 1h0m2 1h0m188-2h0m24 4h0m0-1h0m2 0h0m0-2h0m79-1h0m7-1h0m4 1h0m0-1h0m-577 12h0m0-1h0m0-2h0m1 2h0m7-5h0m1 0h0m0 4h0m3 1h0m1 0h0m1 0h0m1 1h0m4-4h0m1 0h0m0 1h0m0-2h0m1 1h0m0 2h0m2 0h0m0-3h0m1 2h0m0 2h0m54-2h0m2-2h0m0 5h0m4-6h0m0 5h0m0-3h0m0 1h0m1-1h0m3 1h0m3 0h0m5 0h0m3 0h0m2-1h0m6-1h0m4 3h0m9 2h0m27-5h0m3 2h0m0 1h0m1-1h0m10-2h0m0-1h0m1 1h0m1 3h0m1-4h0m3 5h0m1-4h0m1 0h0m2 1h0m1 0h0m49 1h0m4 1h0m0 1h0m5-3h0m1 4h0m0-4h0m2 2h0m0 2h0m3-3h0m4-2h0m1 3h0m2-3h0m6 1h0m7-1h0m2 5h0m3-4h0m1 4h0m2-2h0m9-3h0m0 3h0m210-1h0m2-3h0m86 0h0m-573 8h0m1 3h0m4-4h0m4 4h0m5-4h0m0-1h0m0 0h0m1 4h0m1 1h0m1 0h0m1-2h0m0 1h0m2-3h0m0-1h0m0 0h0m1 1h0m1 3h0m4-2h0m2 1h0m0-3h0m3 5h0m0-4h0m4 4h0m1-2h0m4 2h0m27-2h0m5 3h0m0-5h0m2 1h0m2 3h0m7-4h0m0 5h0m3-2h0m3-1h0m4 0h0m1 2h0m12-5h0m3 0h0m13 5h0m6-2h0m2 3h0m1-6h0m4 3h0m1 2h0m2 1h0m6-5h0m1 4h0m4-2h0m0-1h0m1-1h0m1 2h0m0 1h0m1-2h0m1 3h0m3-1h0m1-1h0m4 3h0m1-2h0m1-3h0m3 0h0m2 1h0m1-2h0m1 3h0m2-2h0m1-1h0m0 3h0m3 2h0m39 1h0m3-4h0m1-2h0m3 5h0m5 0h0m3-4h0m2 4h0m2-4h0m3 3h0m1-1h0m1 1h0m1-1h0m5-3h0m3 1h0m1 4h0m3 0h0m4 1h0m6-5h0m4 4h0m4 1h0m6 0h0m1-4h0m1-1h0m1 1h0m0 1h0m199 2h0m3-2h0m3 2h0m-487 4h0m2 2h0m1 1h0m5-5h0m3 0h0m0 2h0m5 0h0m1-3h0m4 3h0m0 2h0m9 0h0m1-4h0m0 4h0m1-4h0m1-1h0m2 0h0m0 2h0m8 1h0m1 3h0m20-5h0m4 2h0m3-3h0m4 1h0m1 4h0m0-2h0m2 2h0m1 0h0m1 1h0m2-4h0m3 1h0m4 1h0m0 2h0m2-3h0m1 1h0m7-2h0m0 4h0m3-4h0m5 0h0m20 3h0m2-5h0m9 3h0m14 1h0m5-1h0m1-2h0m1 4h0m4-3h0m1-1h0m5-1h0m1 3h0m2 2h0m4-1h0m45 2h0m0-3h0m0 1h0m2-3h0m0 1h0m4 3h0m5-3h0m3 1h0m3-2h0m1 4h0m1-4h0m1 0h0m0 3h0m0 2h0m0-2h0m3-3h0m1 2h0m4 3h0m2-2h0m0-2h0m3 1h0m1 0h0m5 2h0m0-1h0m3 2h0m0-5h0m5 5h0m4-4h0m2 3h0m1-1h0m8 1h0m7-1h0m190 2h0m0-4h0m3 2h0m-483 4h0m7 3h0m4-1h0m8 1h0m2-1h0m1-4h0m4 4h0m1 0h0m4 1h0m3-3h0m1 4h0m14-3h0m16-2h0m1-1h0m11 2h0m18 2h0m1-3h0m0 4h0m2 0h0m2-3h0m1-2h0m1 1h0m2 0h0m1-1h0m1 4h0m1-1h0m0 3h0m1-1h0m2 0h0m0 0h0m2 1h0m12-3h0m0 0h0m1 3h0m3-3h0m9-1h0m4 3h0m0-4h0m4 4h0m2-2h0m2 0h0m2-1h0m2 4h0m2-5h0m2 3h0m0-1h0m1-1h0m7 0h0m2 1h0m0 2h0m1 1h0m1-1h0m4-3h0m2-1h0m1 1h0m0-1h0m44-1h0m15 1h0m1 5h0m4-1h0m1-3h0m3-1h0m3 4h0m0-3h0m1 0h0m2 3h0m5-1h0m0-4h0m1 1h0m1 1h0m4 0h0m2 1h0m2 2h0m12 1h0m2-3h0m1-3h0m0 4h0m1-2h0m0-2h0m1 0h0m8 4h0m2 0h0m1-1h0m1-3h0m2 4h0m154 1h0m0 0h0m10 0h0m3-1h0m3-2h0m0-1h0m1 3h0m1 2h0m0-4h0m1 1h0m3-3h0m1 1h0m1 1h0m-478 10h0m1-1h0m2-4h0m2 2h0m2 0h0m0 3h0m1-4h0m0-1h0m1 3h0m7-2h0m1-2h0m2 6h0m5-1h0m7-2h0m0-2h0m3 0h0m5 2h0m4 2h0m1 1h0m1-5h0m0 4h0m6-1h0m3-1h0m3 3h0m2-1h0m22-1h0m4-3h0m4 2h0m13 1h0m4 1h0m1 0h0m1 1h0m1-3h0m6-1h0m2 3h0m3-1h0m1-3h0m2 1h0m1 1h0m0 2h0m1-3h0m0 2h0m0 1h0m3-2h0m0 1h0m5 2h0m3-6h0m0 0h0m1 6h0m4-3h0m7 3h0m0-4h0m3 4h0m3-3h0m1 1h0m7-2h0m3 4h0m2-6h0m5 5h0m0 1h0m1-4h0m3 1h0m2 1h0m1-4h0m52 0h0m0 5h0m2 0h0m2-2h0m11 2h0m9-3h0m3 3h0m0-2h0m5 1h0m1-2h0m5 1h0m0 1h0m3-2h0m4 2h0m4 0h0m1 0h0m5 0h0m1 1h0m1-1h0m6-1h0m2 1h0m1-1h0m2-2h0m1 2h0m152-2h0m1 0h0m0 0h0m-464 9h0m4 1h0m1-2h0m4 2h0m5-5h0m2 4h0m2-2h0m6 3h0m1-3h0m3 2h0m3 1h0m2-2h0m2 2h0m8-3h0m0 1h0m1-3h0m4 6h0m1 0h0m1-1h0m1-5h0m1 3h0m10-2h0m3 3h0m0-2h0m19 3h0m11-2h0m5 2h0m6-1h0m5-3h0m2 3h0m1-2h0m6 3h0m1-3h0m2 3h0m2-1h0m6-4h0m0 5h0m9-5h0m2 4h0m0-1h0m5-3h0m11 4h0m11 0h0m3-3h0m1 4h0m1-4h0m1 5h0m0-2h0m10-3h0m0 0h0m5 5h0m2-5h0m53 1h0m5 1h0m0 3h0m22-3h0m2 0h0m2-3h0m1 6h0m1-4h0m3 1h0m2 1h0m3-4h0m2 4h0m2 1h0m2-4h0m0 0h0m2 5h0m0-4h0m1 1h0m3-2h0m1 3h0m0-3h0m0-1h0m3 2h0m0 1h0m4 2h0m1-4h0m0 2h0m2 1h0m1 0h0m-314 2h0m3 1h0m1 2h0m0 1h0m4-4h0m6 4h0m0 1h0m3 0h0m4-1h0m2-2h0m1 0h0m1 2h0m5-1h0m0-3h0m0 1h0m2 1h0m4-2h0m1 2h0m0 1h0m1 0h0m1-2h0m5 2h0m1 0h0m3-1h0m3 0h0m1-1h0m0 4h0m0-1h0m1-1h0m7 3h0m1-1h0m4 0h0m3 1h0m8-3h0m2-1h0m5-2h0m4 5h0m13-4h0m15 2h0m2 2h0m5-2h0m5-1h0m1 1h0m1 1h0m3 2h0m1-1h0m0-1h0m1 1h0m1-3h0m5 2h0m2-4h0m1 5h0m0-5h0m2 4h0m0-3h0m1-1h0m0 5h0m2-1h0m1 0h0m0-3h0m3-1h0m3 4h0m1 0h0m2-2h0m0 3h0m5-4h0m4 4h0m0 0h0m1 1h0m9-4h0m1 4h0m1-3h0m1 0h0m3-1h0m4 3h0m2-4h0m1 4h0m0 0h0m1-3h0m4-2h0m6 2h0m3 0h0m45 2h0m1-4h0m2 4h0m2 0h0m19 1h0m5-3h0m2 0h0m0 2h0m4-1h0m0 2h0m3-3h0m9 0h0m1 3h0m5-1h0m1 1h0m0-1h0m2-2h0m2 1h0m2 0h0m2-2h0m0 0h0m4 0h0m0 5h0m0-1h0m1-5h0m0 2h0m-319 5h0m0 1h0m0-1h0m14 2h0m0-3h0m2 0h0m0 5h0m1-1h0m4-1h0m1-2h0m1 5h0m3-3h0m3-1h0m7-1h0m3 4h0m2 1h0m4-5h0m3 2h0m1 1h0m2 1h0m2-5h0m4 4h0m4 0h0m3-3h0m2 0h0m2 1h0m8 2h0m1-3h0m2 4h0m1 0h0m0-4h0m1 2h0m5 0h0m8-2h0m2 4h0m3-3h0m2-1h0m1 3h0m14 1h0m1-3h0m2-1h0m1 1h0m5 0h0m5 0h0m6 0h0m2 2h0m3-1h0m0 0h0m1-2h0m6 3h0m3-3h0m1 1h0m3 4h0m3-6h0m3 2h0m2 2h0m0-2h0m2 0h0m2 3h0m0-4h0m1 0h0m0 5h0m1-5h0m2 4h0m0-4h0m2 1h0m1 1h0m3 0h0m4-2h0m4 5h0m5-5h0m4 5h0m6-2h0m50-3h0m2-1h0m3 2h0m0 2h0m5-2h0m3-2h0m3 3h0m0-3h0m0 3h0m0-1h0m6 3h0m4-2h0m3-2h0m0 2h0m1-2h0m1-1h0m0 4h0m4-1h0m2 0h0m4 3h0m1-3h0m8-3h0m0 0h0m6 3h0m3-1h0m0 2h0m3-3h0m0 3h0m1-3h0m1 5h0m7-2h0m-320 4h0m1 3h0m2-2h0m1 0h0m2-3h0m1 3h0m5-1h0m7 1h0m1-2h0m1 2h0m3 0h0m0 1h0m2-3h0m0 4h0m1-4h0m3 0h0m0 3h0m11 2h0m2-1h0m1-3h0m2 2h0m0-3h0m1 4h0m6-4h0m1 2h0m2-3h0m1 6h0m1-6h0m1 6h0m1-3h0m4-3h0m4 2h0m1 4h0m4-3h0m0 1h0m7-3h0m0 3h0m3 1h0m1-2h0m2 0h0m3 0h0m8-2h0m2 0h0m1 3h0m3-2h0m9 1h0m5-2h0m0 5h0m21-6h0m4 2h0m4 2h0m2-3h0m0 1h0m7-1h0m8 2h0m5-1h0m1 2h0m1-1h0m2-2h0m1 3h0m4-3h0m4 5h0m2-5h0m0 3h0m4 0h0m0-1h0m0-1h0m1 2h0m4-3h0m0 2h0m6-3h0m55 5h0m6-4h0m2 1h0m0-1h0m2 3h0m2 0h0m1-3h0m2 4h0m5 0h0m0-3h0m2 2h0m4-1h0m0-2h0m3 0h0m0 2h0m1 3h0m2-4h0m5 2h0m1-3h0m1-1h0m1 3h0m0-1h0m2 3h0m2 0h0m4 0h0m3-1h0m2-2h0m3 4h0m1-4h0m2 0h0m-314 8h0m3-1h0m0-2h0m6-1h0m2 5h0m6-1h0m6-3h0m1 1h0m0 2h0m2-4h0m1 1h0m1-1h0m2 2h0m1 1h0m1 2h0m2-1h0m1-1h0m0-1h0m3-1h0m1 0h0m2 0h0m1 4h0m1-2h0m1 2h0m1-4h0m2 5h0m2 0h0m1 0h0m1-3h0m2 1h0m1 1h0m1 1h0m2-1h0m0 0h0m2 0h0m1-3h0m2 0h0m1-1h0m2 2h0m2-2h0m5 3h0m3-2h0m0-1h0m3 2h0m1 1h0m1-2h0m3-1h0m1 4h0m1-4h0m2 0h0m0 1h0m1 3h0m1-4h0m5 4h0m0 0h0m5-2h0m1-1h0m1 1h0m1 3h0m0-2h0m3 2h0m1-4h0m7 2h0m0-3h0m14 3h0m1 1h0m10-4h0m11 1h0m6 0h0m14-1h0m0 2h0m5-1h0m3-1h0m1 2h0m3 1h0m3 0h0m1-3h0m62-1h0m4 1h0m1 5h0m0 0h0m6-5h0m1 1h0m0 3h0m2-1h0m5-3h0m1 4h0m0-3h0m1 2h0m0 0h0m2 0h0m2-4h0m1 4h0m3 0h0m0-2h0m3 3h0m0-3h0m0 3h0m0 0h0m1-4h0m2 2h0m1-2h0m3 3h0m4 0h0m8-1h0m5 0h0m4-2h0m1 1h0m0 2h0m-312 4h0m1 0h0m0 4h0m4-3h0m1 1h0m1-1h0m4 0h0m1 2h0m7 1h0m0-3h0m0 2h0m3-1h0m4-1h0m0 0h0m3 0h0m5-3h0m1 4h0m3 0h0m0-3h0m2 4h0m0-2h0m0-1h0m1 3h0m0 0h0m2-4h0m1 5h0m1-4h0m0 0h0m0 4h0m1-5h0m0 0h0m1 5h0m2-5h0m5 5h0m0-5h0m2 4h0m1-2h0m0-1h0m2 2h0m1-2h0m2 1h0m3-3h0m1 2h0m2 0h0m0 0h0m1 3h0m0-3h0m1 1h0m4-1h0m0 3h0m1-4h0m3 1h0m2 0h0m2 1h0m0 0h0m7 0h0m1 0h0m5-3h0m2 6h0m1-1h0m0-3h0m0 4h0m0 0h0m1-2h0m2-3h0m3-1h0m1 4h0m6-2h0m2-2h0m6 5h0m2 0h0m2-4h0m2 3h0m1-4h0m1 1h0m4 1h0m3 1h0m1 3h0m1-4h0m7 0h0m0 2h0m3-2h0m2-2h0m0 3h0m1-3h0m3 2h0m99 4h0m1-2h0m0-1h0m0-1h0m0 0h0m6 0h0m1 2h0m1-3h0m7 1h0m1 3h0m0-5h0m2 6h0m0-4h0m11-2h0m0 3h0m1 2h0m2-3h0m0 2h0m4 2h0m1-1h0m6 1h0m3-6h0m1 5h0m2-2h0m0 0h0m5 0h0m-304 4h0m2 3h0m3-3h0m4 3h0m11 1h0m2-2h0m0-2h0m1 5h0m0-4h0m2 2h0m2-2h0m1-1h0m5 2h0m1 3h0m0-2h0m7-2h0m1 3h0m1 0h0m2-4h0m1 4h0m5-1h0m1 0h0m5-1h0m2 1h0m1-2h0m2 2h0m1-1h0m3-2h0m2 5h0m4-5h0m1 3h0m2-3h0m1 2h0m2-2h0m1 5h0m3-1h0m2-1h0m0-2h0m1 3h0m1-3h0m3-1h0m1 2h0m0-1h0m2-2h0m0 5h0m1-3h0m0-2h0m3 6h0m1-5h0m1 1h0m2-1h0m1 4h0m0-5h0m1 4h0m1-4h0m3 4h0m2-4h0m1 5h0m1-1h0m1 2h0m2-6h0m1 2h0m2 4h0m2-2h0m6-4h0m0 5h0m4-2h0m3 2h0m2-4h0m4 2h0m112-3h0m0 1h0m0 0h0m1 1h0m8-1h0m0 3h0m3 2h0m1-5h0m3 0h0m9-1h0m10 6h0m1-5h0m2 5h0m1-2h0m2-4h0m2 3h0m2 1h0m245 2h0m12-3h0m-548 7h0m4 0h0m0 2h0m2-2h0m4-1h0m4 2h0m5-2h0m1 3h0m5-6h0m2 5h0m2 1h0m2 0h0m3-2h0m2-2h0m0 2h0m3-1h0m7 0h0m7 1h0m6-4h0m0 3h0m1-1h0m3 1h0m1 2h0m1 1h0m3-4h0m2 1h0m1-2h0m3 4h0m10-4h0m1 3h0m6-4h0m1 2h0m1-2h0m2 1h0m3 4h0m9-2h0m7 0h0m0-3h0m0 3h0m0 0h0m4-2h0m2-1h0m1 4h0m0 0h0m1 2h0m2-2h0m4 0h0m1-3h0m121 5h0m1-1h0m3-2h0m2-1h0m2-1h0m2-1h0m2 2h0m4 4h0m11-5h0m229 1h0m0 2h0m3 0h0m2-1h0m2 1h0m0-3h0m3 3h0m3 1h0m3-3h0m1 0h0m2 4h0m1-4h0m1 3h0m1 1h0m0-4h0m3 0h0m1 4h0m2-1h0m1-2h0m1 1h0m2-1h0m4-1h0m1 1h0m1 3h0m3-4h0m-543 8h0m6-2h0m14 4h0m1-1h0m0-1h0m1 1h0m6-2h0m2 1h0m3-2h0m6 3h0m2-2h0m1 1h0m2-2h0m1 1h0m3-1h0m0 2h0m3 0h0m0-3h0m2 3h0m6 0h0m1-3h0m0 3h0m2 2h0m3-5h0m2 3h0m3 2h0m0 0h0m2 0h0m5 0h0m7 0h0m3-4h0m0 2h0m2-2h0m0-1h0m3 0h0m6 4h0m1-1h0m0-2h0m1 4h0m6-4h0m6 1h0m133-1h0m7 2h0m1-4h0m4 0h0m7 1h0m220 5h0m3-4h0m1 2h0m1 0h0m7-2h0m2 2h0m1 0h0m3-2h0m1-2h0m0 5h0m2-1h0m0-3h0m2 3h0m0-3h0m1 1h0m1 4h0m0-3h0m1 2h0m3-5h0m10 0h0m2 2h0m-519 8h0m3-3h0m5-1h0m2 2h0m1 2h0m1-3h0m2 1h0m2 0h0m11-1h0m1 1h0m2-1h0m1 1h0m0 3h0m9-3h0m1 3h0m2-2h0m5-3h0m3 4h0m8-3h0m1 1h0m1 2h0m1-3h0m4 3h0m0 2h0m1-5h0m2 0h0m3 4h0m6-3h0m0 4h0m2-5h0m1 4h0m1 0h0m0-1h0m0 1h0m0-1h0m1 1h0m0-3h0m1-1h0m1 0h0m2 1h0m0 0h0m0-2h0m0 0h0m1 4h0m9-2h0m2 3h0m3-3h0m1-1h0m1 2h0m2-1h0m1 3h0m0 0h0m1 1h0m0-4h0m1 1h0m3 0h0m363 0h0m1-2h0m2 1h0m2-1h0m0 4h0m2-3h0m0-1h0m2 2h0m0-1h0m2 1h0m2 2h0m0-3h0m3 2h0m1-1h0m1 2h0m1 1h0m1-4h0m3 2h0m2-3h0m5 1h0m0-1h0m2 1h0m0 2h0m1-4h0m0 5h0m-501 6h0m1-1h0m0 0h0m1-1h0m4 2h0m0-2h0m2 3h0m6-3h0m4-1h0m0 2h0m1-3h0m2 3h0m2-2h0m2 0h0m7 1h0m2 0h0m0 0h0m1 3h0m1-6h0m2 6h0m1-2h0m1 1h0m1 0h0m2-2h0m0-1h0m0 4h0m2-4h0m0 1h0m4-2h0m2 0h0m0 4h0m2-3h0m4 1h0m4 2h0m2 0h0m8 1h0m0-2h0m1-1h0m5-2h0m3-1h0m5 1h0m2 3h0m1-2h0m1-1h0m1-1h0m4 2h0m374-2h0m4 4h0m0-2h0m1 1h0m1-3h0m3 0h0m1 2h0m3-1h0m1 3h0m4-2h0m1 3h0m0-1h0m0-3h0m1 5h0m3-3h0m0 3h0m0-2h0m2-1h0m2-2h0m1 2h0m2-2h0m-492 11h0m4 0h0m1-5h0m1 1h0m0-2h0m0 2h0m1 2h0m5 0h0m2-2h0m1 3h0m2-1h0m1-1h0m1 2h0m1-5h0m1 2h0m0 2h0m0-4h0m1 3h0m1 1h0m0-1h0m5-1h0m3-1h0m4 4h0m0-2h0m0-1h0m1-1h0m0 3h0m2-2h0m2 2h0m1 2h0m0-5h0m0 1h0m3 2h0m5-1h0m3 0h0m1-2h0m3 0h0m3 2h0m9 2h0m1-4h0m1 3h0m3 2h0m4-5h0m1 0h0m1 1h0m3 1h0m1 0h0m2-2h0m0-1h0m1 2h0m3-2h0m382 5h0m8-3h0m1-2h0m-472 8h0m0-1h0m4 2h0m3 1h0m1-4h0m0 3h0m3 0h0m1 2h0m0-3h0m8 1h0m1-1h0m4-1h0m7 0h0m2 5h0m0-4h0m3 4h0m0-4h0m1-2h0m3 5h0m2-3h0m3 1h0m1 0h0m2 0h0m0 3h0m4-3h0m1 3h0m0 0h0m1-2h0m0-1h0m2-1h0m1 3h0m2 0h0m1-5h0m0 3h0m0-2h0m3 1h0m-55 5h0m5 0h0m1-1h0m1 2h0m2-1h0m5 1h0m3 4h0m1-1h0m0 0h0m2-2h0m4 2h0m0-4h0m3 1h0m1-2h0m2 0h0m2 5h0m3 1h0m1-5h0m2 4h0m11-4h0m-22 5h0m1 0h0m439 42h0m-1 4h0m4-2h0m3 1h0m-222 6h0m211-3h0m1 0h0m1 0h0m1 5h0m0 1h0m1-2h0m1 2h0m50-2h0m-241 7h0m3 0h0m6-3h0m3-1h0m0-1h0m6 4h0m5-1h0m4 3h0m2-2h0m1 0h0m153-1h0m5 0h0m1-3h0m0 5h0m0-1h0m0 2h0m1-3h0m1-2h0m4 2h0m0 1h0m44-1h0m1 0h0m0 0h0m2 0h0m2 2h0m0-4h0m-253 9h0m0-2h0m5 1h0m0 1h0m1-1h0m1 1h0m5-2h0m6 2h0m3-1h0m0 0h0m3 0h0m3-2h0m0 2h0m0-2h0m3 3h0m3 0h0m7-3h0m1 2h0m2 1h0m1-3h0m0 4h0m3-1h0m139-2h0m4 0h0m3 0h0m3-1h0m8 4h0m5 0h0m2-1h0m30 2h0m3-5h0m2 0h0m3 0h0m0 4h0m8-2h0m0-1h0m-269 10h0m4-2h0m7-4h0m8 1h0m2 3h0m3-2h0m2 3h0m0 1h0m3-5h0m2 4h0m1 0h0m2-5h0m2 2h0m1-1h0m0 4h0m1-4h0m1 2h0m1-2h0m2 0h0m2 2h0m1 1h0m2-3h0m5 4h0m11 0h0m1 1h0m131-4h0m0-2h0m1 1h0m0 2h0m2-1h0m1-1h0m6 5h0m1-4h0m2 1h0m2-1h0m3 4h0m0-4h0m2 3h0m3 0h0m2-1h0m2-3h0m4 1h0m34-2h0m2 5h0m1-5h0m1 4h0m4-4h0m-270 9h0m2 1h0m0-1h0m1 2h0m1 0h0m1-3h0m4 1h0m1-1h0m0 1h0m2 1h0m4 2h0m3-5h0m2 1h0m2-1h0m2 0h0m1 4h0m1-1h0m0 1h0m1 1h0m5-3h0m1 2h0m1 0h0m3-1h0m2-3h0m2 1h0m1 2h0m1-1h0m0-2h0m1 0h0m7 1h0m0 3h0m9-2h0m1 0h0m1 0h0m0 0h0m1 2h0m0-1h0m1-3h0m135 0h0m0 2h0m1-2h0m9 4h0m0-5h0m2 4h0m4-1h0m0-2h0m1 3h0m1 0h0m0 1h0m1-3h0m2 2h0m1-2h0m0 0h0m1-1h0m1 4h0m9-1h0m3-4h0m2 6h0m0 0h0m7 0h0m1 0h0m10-2h0m0 1h0m6-4h0m0 0h0m1 2h0m0 0h0m1 1h0m1-1h0m1-2h0m2 3h0m0 0h0m-279 4h0m2 3h0m3-2h0m4 0h0m0-1h0m6-1h0m7 4h0m1-1h0m4 0h0m2 0h0m1-4h0m2 5h0m2-2h0m1 0h0m1 0h0m2 2h0m2-3h0m0 0h0m1 1h0m0 0h0m2 3h0m0-3h0m1-2h0m6 0h0m2 1h0m0-1h0m1 4h0m0-2h0m0 3h0m1-4h0m0 3h0m5-3h0m3-1h0m1-1h0m6 4h0m8-3h0m1-1h0m0 0h0m0 1h0m0 1h0m1 3h0m0 0h0m1 0h0m2-1h0m1 1h0m135-4h0m3 4h0m1-1h0m2-2h0m0 1h0m2 1h0m3 2h0m1-5h0m0 4h0m2-5h0m4 2h0m2 2h0m2-3h0m0 1h0m3 2h0m1-1h0m0-1h0m0 2h0m1 0h0m1 2h0m2-5h0m8 4h0m1-1h0m4-1h0m5 2h0m1 1h0m7-2h0m1-1h0m1-2h0m1-1h0m0 3h0m0 0h0m1 0h0m4 1h0m-285 5h0m3 0h0m2 0h0m0-2h0m2 1h0m4-1h0m1 1h0m5-1h0m6 5h0m10-3h0m0 1h0m0 1h0m1-2h0m4 0h0m0 3h0m1-5h0m1 3h0m2-1h0m1-1h0m0 4h0m1-3h0m3 1h0m9-2h0m1 1h0m2 2h0m1-3h0m1 1h0m0 2h0m1-5h0m6 2h0m0 2h0m0-1h0m1 1h0m0-2h0m1-2h0m3 5h0m5-2h0m5-3h0m3 2h0m2-2h0m10 1h0m113 1h0m0 0h0m0-1h0m3 3h0m0 2h0m4-3h0m1-2h0m2 3h0m7-1h0m2-2h0m6 3h0m2-3h0m1 2h0m9 1h0m3-4h0m1 2h0m1 1h0m1 1h0m1-2h0m2 2h0m0 2h0m4-2h0m7-3h0m2 4h0m1-2h0m1-2h0m2 0h0m1 1h0m4 3h0m2 0h0m1 0h0m0 0h0m0-2h0m3 0h0m2-2h0m0-1h0m1 1h0m-293 10h0m3-1h0m1 0h0m0-2h0m0 2h0m3 0h0m1 1h0m4-2h0m2 3h0m0-5h0m1 4h0m4-1h0m0 1h0m3-5h0m2 0h0m7 3h0m12 2h0m1-2h0m3 1h0m1-2h0m4 3h0m3-5h0m0 2h0m0 2h0m3-1h0m0 0h0m5 3h0m5-2h0m3 1h0m3-4h0m2 5h0m4-3h0m3-2h0m1 2h0m132-1h0m1 4h0m1-2h0m0-4h0m2 2h0m1-2h0m6 1h0m3 4h0m4-4h0m5 0h0m5-1h0m5 3h0m3 2h0m5-2h0m1-2h0m0 1h0m6 1h0m8 3h0m1-3h0m6-2h0m3 1h0m4 3h0m4 0h0m3-1h0m-297 7h0m5-1h0m1 2h0m0-1h0m5-3h0m1-1h0m0 3h0m0-2h0m6 1h0m1-1h0m1 1h0m1 3h0m4-2h0m1 2h0m2-1h0m2-4h0m0 3h0m0-4h0m5 2h0m1 0h0m1 0h0m0-2h0m7 5h0m0 0h0m6-2h0m2-1h0m4 2h0m3 1h0m1-2h0m2 2h0m4-1h0m1 1h0m2-3h0m0-1h0m1-1h0m3 4h0m1 1h0m5 1h0m144-2h0m0-2h0m12 0h0m0 1h0m24 0h0m0 0h0m1 0h0m0-1h0m2 2h0m0-3h0m3 2h0m1 1h0m1-3h0m0-1h0m1 5h0m1-2h0m2 1h0m3-3h0m0 2h0m1 1h0m1-3h0m0 0h0m1 3h0m1-1h0m0-1h0m2 1h0m0 2h0m4-4h0m3 3h0m1 1h0m4 0h0m2-1h0m3-2h0m-295 5h0m3 4h0m0 0h0m1 0h0m3-4h0m0 1h0m1 1h0m2 0h0m1 0h0m5 3h0m2-4h0m2 3h0m0-3h0m1 2h0m1-1h0m2 0h0m1 0h0m2-2h0m5 1h0m2 0h0m3 1h0m2 0h0m0 1h0m1-4h0m2 0h0m1 1h0m0 1h0m1-1h0m2 0h0m0 2h0m2 1h0m2-2h0m0 4h0m7-3h0m1-3h0m1 2h0m4 1h0m0 1h0m5-4h0m0 6h0m2-2h0m2-1h0m0-2h0m0 0h0m0 1h0m3 1h0m1 2h0m6-5h0m151 5h0m0-1h0m2 0h0m0-2h0m2 1h0m4-2h0m0 0h0m10 2h0m0-2h0m5 2h0m1-2h0m1 1h0m3 3h0m0-2h0m5 2h0m0-4h0m1 2h0m1 1h0m1 2h0m3-3h0m1 2h0m0-4h0m1 1h0m5-1h0m6 3h0m0 1h0m1-5h0m8 1h0m1 5h0m6-4h0m-294 4h0m7 2h0m2 1h0m0 0h0m2 0h0m2 2h0m1-1h0m1 1h0m3-1h0m5-1h0m1-2h0m4 4h0m1-3h0m3 3h0m7-1h0m2 1h0m9-3h0m0-1h0m1 1h0m1 3h0m0-3h0m3-1h0m4 4h0m1-2h0m2 0h0m2-2h0m2 1h0m170-1h0m6 4h0m9-1h0m0-2h0m1 4h0m7-5h0m2 1h0m1 2h0m8-2h0m5-1h0m0 2h0m1 1h0m2-4h0m0 1h0m1 0h0m1 5h0m2-6h0m1 5h0m1 0h0m1-2h0m1 1h0m4-4h0m2 0h0m2 2h0m-280 4h0m5 5h0m3-1h0m2 2h0m3-1h0m3 1h0m5-2h0m1 0h0m2 1h0m0-2h0m1 3h0m1-1h0m5 0h0m0-1h0m1 2h0m0 0h0m2-6h0m0 0h0m0 2h0m5 2h0m0 1h0m1-2h0m2 1h0m1-4h0m174 3h0m1 0h0m3-2h0m0 2h0m0 3h0m3-3h0m3 3h0m2-4h0m0-1h0m2 5h0m1-5h0m2 0h0m1 4h0m1-1h0m0-3h0m3 3h0m0-3h0m1 5h0m3-2h0m2-2h0m0 3h0m1 0h0m8-5h0m2 0h0m0 2h0m2 0h0m1 0h0m7 3h0m0-2h0m5 0h0m1 0h0m2 2h0m1-4h0m0 4h0m4-3h0m1 3h0m0-1h0m1 2h0m1-1h0m-276 1h0m4 4h0m7 0h0m7 0h0m2-1h0m1-1h0m2 4h0m3-6h0m1 5h0m1-1h0m4-3h0m15 2h0m161 2h0m2 1h0m3-3h0m6-2h0m2 4h0m1-5h0m6 0h0m0 1h0m3 2h0m2 0h0m1 0h0m2 0h0m2 0h0m1 1h0m2-1h0m1 0h0m7-1h0m2 3h0m1 0h0m1-2h0m4 1h0m2-2h0m0 4h0m3-2h0m2-2h0m0-2h0m2 1h0m1 2h0m5 2h0m0-4h0m1 2h0m0 3h0m1-5h0m0 1h0m3 1h0m2-2h0m0 3h0m3 1h0m-277 2h0m3 4h0m0-1h0m5-1h0m1 1h0m2-3h0m0 0h0m1 3h0m2 1h0m4-3h0m3-1h0m3 0h0m1 0h0m177 2h0m1 2h0m4-4h0m0 4h0m1-1h0m0 0h0m3-2h0m2-1h0m3 2h0m1 0h0m3 3h0m3-4h0m4 0h0m0 0h0m0 0h0m2 0h0m3-1h0m0 2h0m1-2h0m6 1h0m1 2h0m1 1h0m2-1h0m1 0h0m1-3h0m6 3h0m2 0h0m0-3h0m11 3h0m3 2h0m1-5h0m5 3h0m6 0h0m-286 4h0m11 0h0m11 3h0m2-4h0m0 1h0m4 3h0m1-2h0m1-2h0m0 4h0m2 0h0m0-2h0m8-2h0m4 0h0m168-1h0m11 4h0m0-4h0m0 5h0m2-3h0m1 2h0m1-2h0m1 1h0m1-2h0m0 0h0m5 0h0m3 4h0m2-4h0m0 2h0m0-1h0m0 3h0m2 1h0m5-3h0m1 0h0m0-1h0m0 0h0m1-1h0m0 3h0m1 2h0m0-2h0m1 1h0m2 1h0m3-3h0m0-1h0m2 0h0m0 3h0m2 0h0m3-2h0m1 2h0m3 1h0m1-3h0m0 1h0m1 0h0m1-4h0m3 1h0m0 0h0m6-1h0m0 6h0m4-3h0m-277 6h0m5-1h0m1 2h0m3-1h0m0 3h0m1-1h0m8-2h0m2 1h0m0-3h0m2 2h0m191-1h0m5 0h0m4-1h0m1 3h0m4 0h0m2 1h0m2-2h0m2 1h0m4-3h0m0 5h0m3-4h0m1 2h0m2 1h0m1-4h0m0 3h0m4 1h0m1 0h0m2-5h0m0 1h0m0 0h0m4 3h0m6 0h0m1-3h0m3 3h0m0 0h0m3 1h0m1-3h0m1 2h0m2-2h0m1 4h0m2-2h0m0-2h0m4 3h0m0-4h0m2 1h0m1 4h0m-287 3h0m1 1h0m3-3h0m1 1h0m8 0h0m1-1h0m1 4h0m5-2h0m203-1h0m3 1h0m2 3h0m2-2h0m2-3h0m2 5h0m1-2h0m1 0h0m4-3h0m0 3h0m4 0h0m1 1h0m5-2h0m0 0h0m6 0h0m1 3h0m0-6h0m8 5h0m2 0h0m1-4h0m0 2h0m2-1h0m6 3h0m1-5h0m0 5h0m5-2h0m2-3h0m-287 6h0m1 3h0m0 0h0m5-3h0m2 1h0m2-1h0m227 0h0m2 0h0m2 0h0m2 4h0m1-4h0m4 1h0m0 1h0m2-2h0m4 0h0m2 4h0m20-1h0m0-3h0m1 3h0m1 1h0m1 1h0m5-3h0m-41 4h0" stroke="#60D2C6"/>
<path d="M343 49h0m5-2h0m3 2h0m-6 6h0m1 1h0m3-4h0m1 5h0m3-4h0m4 2h0m3 0h0m2-1h0m4 2h0m1-2h0m1 0h0m17 1h0m-44 6h0m0-1h0m17 2h0m18-2h0m1 0h0m1 0h0m5-3h0m-42 10h0m15 1h0m5-2h0m17-2h0m1 2h0m2 1h0m7 1h0m6-1h0m-60 4h0m54 1h0m4 1h0m-9 7h0m0 1h0m2-3h0m2-1h0m9 1h0m-6 8h0m-20 4h0m5-2h0m-2 5h0m-1 8h0m10 0h0m-15 10h0m11-5h0m1 6h0m-237 23h0m10-3h0m3 3h0m-19 2h0m7 3h0m1-2h0m13-1h0m7 0h0m-31 8h0m8-4h0m13 3h0m-30 4h0m1 0h0m12 1h0m4 1h0m6 1h0m19-4h0m0 1h0m5 2h0m-47 4h0m2-1h0m0 4h0m2 2h0m1-1h0m1 0h0m1-4h0m9 3h0m1 0h0m12-2h0m7-1h0m5 1h0m-46 9h0m6-1h0m3-2h0m9 4h0m9-1h0m14-2h0m1-1h0m0-1h0m1 3h0m4 2h0m4 0h0m277-2h0m-328 6h0m1 0h0m9-2h0m8 3h0m11-1h0m2-4h0m6 0h0m2 3h0m1-1h0m2 4h0m10-3h0m278 0h0m2 2h0m27-4h0m-343 8h0m0 2h0m12 0h0m11-3h0m9 2h0m2-3h0m300 4h0m-329 2h0m8 2h0m16-2h0m308 2h0m2 1h0m0 1h0m0-3h0m-333 5h0m336 13h0m-3 6h0m3 2h0m1-2h0m29 5h0m0 3h0m1 0h0m1 1h0m1-1h0m1 0h0m0 0h0m0 2h0m1-1h0m-47 6h0m5 1h0m0-4h0m41-1h0m1 0h0m-46 15h0m119 1h0m-111 5h0m1-1h0m9 4h0m11 3h0m3 1h0m84 1h0m2-6h0m20 1h0m-117 8h0m7-1h0m2 3h0m5-3h0m5 2h0m1 0h0m94 2h0m20 0h0m-134 4h0m5-2h0m3 1h0m7 1h0m70-1h0m2 0h0m14 1h0m1 2h0m6-5h0m12 3h0m12-1h0m1-2h0m3 2h0m-131 7h0m8 2h0m73 0h0m3-1h0m6-4h0m27 0h0m9 3h0m5 1h0m-136 5h0m1 1h0m78 1h0m1-1h0m5-5h0m5 3h0m1-2h0m40 0h0m5 0h0m2 1h0m9 1h0m-69 8h0m3-3h0m8-1h0m53 4h0m2 1h0m0-4h0m1 1h0m1 2h0m3-4h0m-73 11h0m1 4h0m18 1h0m-16 7h0m2-2h0m26 0h0m-31 5h0m1-1h0m-309 9h0m1 1h0m16-6h0m87 5h0m9 1h0m5-2h0m3 0h0m213 2h0m3-4h0m2-1h0m2 4h0m20 1h0m-366 3h0m0-1h0m5-1h0m7 3h0m20 0h0m10 1h0m5-1h0m10-1h0m1 2h0m1-2h0m2 0h0m17 2h0m28-2h0m6-1h0m5 2h0m19 2h0m4-1h0m5-4h0m2 5h0m192-4h0m2 1h0m1-2h0m3 3h0m19-1h0m-367 8h0m3-3h0m3 1h0m4-3h0m8 3h0m3-1h0m1 1h0m2 2h0m18 1h0m2 0h0m7-6h0m7 5h0m3-4h0m9 3h0m7-3h0m11 3h0m1-1h0m23 3h0m8-5h0m8 5h0m4-5h0m10 2h0m9-2h0m1 5h0m198-1h0m1-2h0m0-1h0m2 3h0m-357 2h0m12 1h0m6-1h0m14 1h0m5-1h0m4 1h0m1 1h0m1-2h0m2 4h0m22-4h0m6 0h0m8 2h0m1-3h0m31 2h0m12 0h0m6 2h0m5-1h0m5 0h0m0-1h0m0 2h0m8-2h0m1-1h0m2-1h0m6 4h0m197-3h0m1-1h0m18 2h0m-363 4h0m11 5h0m10-1h0m2-3h0m1 0h0m75 2h0m5 3h0m3-1h0m10-2h0m3-1h0m20 4h0m2-4h0m1 1h0m9 0h0m5 1h0m-162 4h0m7 2h0m2 0h0m4 0h0m10 0h0m5-1h0m1 1h0m10 0h0m9-3h0m5 2h0m5 2h0m1-4h0m6 0h0m3 2h0m2-1h0m6 2h0m13 0h0m13-2h0m12 3h0m4 0h0m9-4h0m4 1h0m17 0h0m5 3h0m8-3h0m194 1h0m2 0h0m-362 3h0m1 4h0m20 0h0m7 2h0m0-4h0m0 4h0m1-5h0m0 0h0m7 2h0m7 0h0m1-1h0m9 0h0m3 0h0m4 0h0m3 1h0m13-1h0m1 3h0m27-2h0m1-1h0m1 3h0m17-3h0m12 2h0m7-1h0m9-3h0m2 1h0m5 3h0m7 1h0m167-4h0m59 5h0m-397 3h0m9 3h0m0-2h0m4 2h0m10-2h0m1-3h0m52 0h0m6 0h0m39 4h0m24 1h0m13-4h0m-155 6h0m2 1h0m9 1h0m6-4h0m7 0h0m3 6h0m30-6h0m11 4h0m1-1h0m3 0h0m2 1h0m31-1h0m1-1h0m1-1h0m18 4h0m9-1h0m3 0h0m5-3h0m6 1h0m1 2h0m0-1h0m8-2h0m5 0h0m209 4h0m-368 1h0m14 4h0m27-3h0m2 3h0m20-4h0m4 0h0m2 1h0m43 2h0m16 0h0m7 2h0m1-2h0m7-3h0m6 5h0m12-5h0m1 2h0m207 1h0m4 1h0m129 0h0m-519 7h0m3-3h0m8-2h0m2 0h0m1 6h0m4-4h0m9-2h0m8 2h0m11 4h0m7-4h0m31 2h0m55 1h0m5-4h0m0 4h0m9 0h0m5-4h0m0 3h0m9 1h0m1-4h0m3 4h0m9-2h0m212-2h0m3 4h0m63-5h0m5 3h0m11 0h0m25 2h0m1 0h0m1-1h0m3 1h0m6-3h0m5-1h0m-600 11h0m3-2h0m83-2h0m2 3h0m9 1h0m4-6h0m28 3h0m16 1h0m1-2h0m1 4h0m57-3h0m19 0h0m0-2h0m6 0h0m4 3h0m3-1h0m2-1h0m7 3h0m3-4h0m11 5h0m218-2h0m3-2h0m83-1h0m10-1h0m-584 11h0m4-2h0m20 2h0m70-3h0m11 4h0m8-6h0m1 4h0m4-4h0m3 3h0m20-2h0m9 3h0m13-1h0m10 1h0m45-1h0m16-1h0m1 2h0m0-3h0m5-1h0m32 1h0m3 3h0m216-2h0m78 2h0m2 0h0m1-1h0m8 0h0m0-2h0m-577 8h0m2-1h0m4-1h0m5 0h0m12 3h0m6 2h0m78-2h0m5-2h0m21-2h0m96 2h0m8 3h0m2-2h0m1-1h0m11 3h0m3-2h0m2 1h0m15-1h0m192-1h0m-458 5h0m4 3h0m1-2h0m5 2h0m3-2h0m6 1h0m1-1h0m7-2h0m1 6h0m39-4h0m7 2h0m4-1h0m9 1h0m7 1h0m1-2h0m26-1h0m10 1h0m16 1h0m1-3h0m3 5h0m8-2h0m4-1h0m0 0h0m64 1h0m9 1h0m24-2h0m6 2h0m208 1h0m1-1h0m2-1h0m-483 5h0m1 0h0m5 0h0m4 0h0m12-1h0m17-2h0m22 4h0m2 1h0m4-1h0m1-4h0m0 1h0m2 3h0m9 1h0m5-4h0m62 1h0m11-1h0m6 3h0m3-1h0m0 1h0m2 1h0m64-2h0m2 0h0m0-2h0m4 4h0m9-3h0m7 0h0m10-1h0m3 1h0m8-2h0m2 6h0m2-5h0m1 3h0m8 1h0m194-2h0m-463 8h0m3-1h0m2-3h0m1 5h0m8-4h0m1 0h0m1 1h0m7-2h0m13 3h0m2-1h0m3 2h0m12-3h0m17 3h0m39-4h0m23 3h0m6-2h0m4 3h0m3 0h0m5-2h0m50-1h0m9 2h0m2 2h0m16-1h0m0 0h0m7 0h0m5-3h0m2 1h0m20-2h0m7 3h0m4-3h0m155 3h0m5 1h0m0 1h0m16-6h0m-473 8h0m2 2h0m4-3h0m0 1h0m6-1h0m2 0h0m13 4h0m3-1h0m2 0h0m13-3h0m7 2h0m7-1h0m8 4h0m33-5h0m16 0h0m6 2h0m16 0h0m6 0h0m1 2h0m4-4h0m9 0h0m13 0h0m2 3h0m55 1h0m4-1h0m4-2h0m2 1h0m13-1h0m2 0h0m2-1h0m5 1h0m3-2h0m9 4h0m5-4h0m5 1h0m5 4h0m7-5h0m2 3h0m-304 5h0m3 0h0m2-1h0m1 2h0m15 1h0m4-4h0m14 6h0m2-3h0m8-3h0m3 0h0m16 3h0m36-2h0m13 3h0m1-4h0m0 4h0m6 1h0m13-4h0m9 2h0m4-2h0m2 0h0m2 1h0m19 2h0m19-2h0m2 4h0m42-5h0m7 0h0m26 5h0m5-2h0m3 1h0m8-3h0m1 1h0m9 2h0m2-2h0m10-2h0m-314 7h0m1-1h0m2 5h0m4-1h0m5-3h0m29 1h0m1-2h0m6-1h0m0 3h0m7 1h0m5-1h0m2-2h0m9 4h0m23 0h0m0-1h0m7-1h0m2-2h0m14 4h0m0-2h0m2-1h0m5 1h0m6 3h0m12-1h0m10-1h0m13 1h0m12 0h0m14-1h0m2-1h0m63 2h0m22-4h0m9 2h0m1-3h0m12 4h0m2 1h0m1-3h0m1-1h0m0 3h0m0 0h0m6 1h0m0-3h0m2 2h0m3 1h0m-318 5h0m6-2h0m1-2h0m7 4h0m11-3h0m1 1h0m6 0h0m2 1h0m1 2h0m3-5h0m17 3h0m3 1h0m32 1h0m9-5h0m28 0h0m6 2h0m18-1h0m0 1h0m5 0h0m5 4h0m2-1h0m4 0h0m2 0h0m5-3h0m0 0h0m5 1h0m4 1h0m7-1h0m61-1h0m18 1h0m6 1h0m4-3h0m0 3h0m10-1h0m22 2h0m-307 6h0m33 1h0m1-4h0m9 2h0m4-2h0m6 4h0m0-4h0m5-2h0m4 5h0m3 0h0m4-5h0m7 1h0m1 3h0m5 0h0m20-2h0m6-1h0m2-1h0m14 4h0m35-1h0m2 0h0m3 1h0m76 0h0m6 1h0m4-1h0m3 0h0m4 1h0m3-4h0m18 4h0m1 0h0m11 0h0m-296 5h0m0-1h0m11-3h0m4 4h0m5 2h0m4-4h0m4 4h0m6-2h0m17 0h0m7-3h0m2-1h0m2 5h0m3-3h0m3 0h0m11 2h0m1 1h0m3-3h0m1-1h0m5 2h0m1 1h0m14 0h0m19 1h0m14-5h0m2 1h0m5 4h0m6-4h0m6 0h0m11 0h0m0-1h0m5 2h0m7 0h0m0 1h0m15-2h0m52 0h0m6 5h0m39-3h0m1 2h0m5-5h0m6 6h0m4-3h0m1 0h0m5-2h0m-311 7h0m14 3h0m3-4h0m6-1h0m4 6h0m2-3h0m1-1h0m6 2h0m1 1h0m4-1h0m14-3h0m5 5h0m3-4h0m16 3h0m5-1h0m13-2h0m4-1h0m2 4h0m2 0h0m7-1h0m5 0h0m4-1h0m6 2h0m1 0h0m116-1h0m11 1h0m3-5h0m3 4h0m19-3h0m1 1h0m10 3h0m1 0h0m0-3h0m9-1h0m-281 8h0m1-1h0m7 2h0m1-1h0m0-2h0m2 2h0m8 0h0m7 2h0m1-2h0m10 2h0m8-3h0m9 0h0m1 1h0m14-3h0m8 3h0m17 1h0m8 1h0m7-4h0m0 4h0m124-3h0m2 2h0m1-1h0m15-3h0m4 5h0m8-1h0m5-2h0m247 3h0m5 1h0m2-2h0m-534 8h0m8-1h0m3 0h0m20-5h0m4 3h0m11 0h0m6 3h0m14-4h0m19-1h0m1 2h0m2 1h0m4-2h0m7 2h0m2-1h0m3 1h0m8 2h0m147-2h0m229 1h0m1-1h0m12-1h0m1 3h0m16-4h0m7 0h0m1 1h0m-530 7h0m5 0h0m6-3h0m0-1h0m6 3h0m0-1h0m1 4h0m5-1h0m6-1h0m1-3h0m2 3h0m18 1h0m1-5h0m19 1h0m6 4h0m2-1h0m1-2h0m2 3h0m12 0h0m3 1h0m5-4h0m14 1h0m133-1h0m247 2h0m3-4h0m5 4h0m0 1h0m11-4h0m2 0h0m4-1h0m-515 9h0m6 0h0m5 1h0m15-2h0m11 3h0m6 0h0m7-5h0m5 4h0m4 0h0m13-2h0m2-1h0m1 3h0m20-3h0m3 4h0m3-4h0m0 2h0m4-3h0m1 4h0m0-1h0m374-1h0m5 3h0m16-1h0m1-2h0m3 1h0m3-1h0m1-1h0m-502 6h0m7 1h0m4 1h0m7-2h0m4 3h0m0 2h0m0-3h0m7-1h0m3 4h0m1-2h0m12-3h0m0 0h0m9 4h0m6-1h0m1-1h0m8 0h0m2-2h0m2 3h0m399-3h0m24 5h0m-490 4h0m1-1h0m2 1h0m4-2h0m2 1h0m13-3h0m3 3h0m17-2h0m12 4h0m1 0h0m2 0h0m11 1h0m3-3h0m9-2h0m-72 7h0m3 2h0m6-1h0m9-1h0m2 0h0m2 0h0m5-1h0m14 5h0m0-1h0m2 0h0m0-5h0m6 0h0m21 2h0m1-2h0m6 0h0m-52 10h0m4 0h0m7 1h0m4-4h0m4 3h0m2-1h0m4-1h0m10 0h0m3 1h0m175 46h0m238 2h0m-2 5h0m6 0h0m6 1h0m38 0h0m6 2h0m1 1h0m-238 2h0m5 1h0m1 2h0m3 0h0m3 0h0m3-3h0m213 3h0m2-2h0m4-1h0m6-1h0m-260 9h0m9 1h0m10-1h0m19 0h0m7-1h0m142 1h0m18 0h0m40-1h0m10-1h0m9 0h0m-263 5h0m22 5h0m1-2h0m11-2h0m9 3h0m145-5h0m11 4h0m12-4h0m3 4h0m0-2h0m1 3h0m32-1h0m0-4h0m9 3h0m-242 4h0m6 0h0m1 5h0m8-1h0m1-4h0m9 2h0m2 2h0m1-5h0m144 4h0m2-2h0m5 3h0m12-5h0m13 4h0m5-1h0m22-3h0m0 3h0m3 2h0m4-2h0m-271 4h0m1 3h0m3-1h0m3-3h0m30 4h0m1-2h0m2 4h0m2-2h0m4-2h0m8-1h0m8 3h0m6 0h0m0-1h0m1 2h0m1-2h0m0 2h0m1-4h0m2 3h0m132-2h0m4 2h0m1-3h0m2 0h0m8 5h0m8-1h0m6-2h0m3 0h0m0 0h0m9 0h0m1 0h0m0-1h0m11 3h0m6 0h0m9-3h0m6 0h0m0-1h0m1 0h0m-289 7h0m1 2h0m1 1h0m6 0h0m2-5h0m3 6h0m1-3h0m13 0h0m8 1h0m1-4h0m1 2h0m21 4h0m10-3h0m1-1h0m4 3h0m3-3h0m7 0h0m3-1h0m5 0h0m127 3h0m8 0h0m6-3h0m0 2h0m1 1h0m7 0h0m13 1h0m32 0h0m0-4h0m1-1h0m-289 11h0m11-5h0m4 1h0m6 4h0m6-1h0m15 0h0m6-1h0m15 1h0m2-3h0m10 4h0m3-2h0m5 2h0m143-3h0m0 2h0m3-2h0m1 4h0m2-5h0m9 3h0m4-2h0m3 0h0m0 1h0m8-1h0m1-2h0m19 2h0m4 0h0m7 4h0m-291 6h0m1-1h0m4-5h0m3 2h0m1 3h0m8-2h0m0 2h0m1 0h0m14-3h0m13 2h0m8 1h0m1-4h0m1 0h0m13 2h0m10 0h0m2 1h0m2-3h0m145 2h0m4 2h0m9-1h0m7-4h0m6 4h0m10 0h0m0-1h0m1 1h0m7-2h0m8 2h0m0-2h0m1 0h0m8 2h0m-281 3h0m6 1h0m5-1h0m1 5h0m9-5h0m8 0h0m15 0h0m4 0h0m6 2h0m11 1h0m1 0h0m0-1h0m3 2h0m177-3h0m1 0h0m0 3h0m7 1h0m20 0h0m6-1h0m1-5h0m2 4h0m10-2h0m-294 4h0m8 2h0m12 4h0m11-1h0m1-5h0m6 3h0m11-2h0m0 2h0m18 0h0m1 0h0m181-2h0m0-1h0m1 2h0m7 0h0m1 2h0m6 1h0m1-1h0m19-2h0m-264 7h0m3 1h0m1-4h0m3 0h0m10 5h0m7-2h0m5 2h0m7 0h0m2 0h0m181-1h0m6-2h0m22 2h0m1 0h0m1-3h0m5 3h0m1-1h0m4-1h0m14 2h0m-267 3h0m5 3h0m208 1h0m8-1h0m17 0h0m20-2h0m3 2h0m9-3h0m-273 9h0m1 1h0m4-2h0m35 2h0m171 1h0m0 0h0m2-3h0m11 0h0m8 2h0m1-4h0m2 1h0m20 0h0m14 3h0m1-4h0m-267 6h0m17 3h0m4 1h0m6-4h0m186 3h0m9-1h0m5-3h0m3 0h0m3 5h0m2-3h0m9 0h0m9 3h0m6-1h0m1 2h0m3-5h0m1 3h0m1 1h0m4 0h0m1 0h0m5-4h0m1 1h0m-276 6h0m5 2h0m5 1h0m5-3h0m195-1h0m3 2h0m3 0h0m2-2h0m5 3h0m14-2h0m7 1h0m3 1h0m5-2h0m7 1h0m3-1h0m-271 6h0m1 2h0m1-3h0m8 5h0m4-3h0m215-1h0m10-1h0m6 5h0m4-3h0m3-1h0m4-1h0m10 2h0m5 1h0m3-1h0m1 1h0m7-2h0m-38 6h0m0-1h0m13 2h0m20 2h0m2-2h0m7-1h0" stroke="#7698CF"/>
<path d="M343 51h0m3 2h0m13 2h0m6-3h0m13 4h0m-40 2h0m4-1h0m0 0h0m5 1h0m7 0h0m13 4h0m3-3h0m8 1h0m7 3h0m-57 4h0m12-4h0m5 4h0m2-4h0m1 3h0m5-1h0m14-2h0m9 1h0m5 3h0m13 2h0m-61 2h0m0 3h0m8-3h0m47-1h0m-5 11h0m13-5h0m-17 6h0m3 2h0m7 5h0m-19 9h0m2 1h0m7-4h0m2 7h0m1 1h0m4 1h0m-10 5h0m3-3h0m10-1h0m-28 6h0m1 1h0m4 3h0m11-1h0m0 2h0m-218 18h0m-11 6h0m3-1h0m-16 2h0m22 4h0m5-1h0m-27 8h0m21-2h0m12 2h0m-39 3h0m10 2h0m29 1h0m-47 4h0m7 0h0m10 2h0m12 0h0m5-4h0m10-1h0m281 5h0m0-2h0m-326 4h0m327 0h0m2 3h0m0-1h0m23-1h0m5 0h0m-348 5h0m3 0h0m26 4h0m4-2h0m6 2h0m-29 4h0m16-3h0m5 2h0m0 2h0m-18 4h0m334 3h0m0-2h0m2 22h0m25 1h0m7 0h0m-11 6h0m-36 7h0m120 6h0m0 1h0m1 1h0m10 1h0m-12 6h0m12-2h0m-123 3h0m2 0h0m13 4h0m96-5h0m0 0h0m1 3h0m3 0h0m1 2h0m2 0h0m2-2h0m12-1h0m-117 6h0m89 2h0m5 1h0m-87 6h0m0-1h0m1-3h0m4 5h0m2 0h0m71-1h0m9-2h0m20-1h0m0 0h0m9 3h0m-129 1h0m20 6h0m70-4h0m12 1h0m2-1h0m30-1h0m13 0h0m-136 10h0m74 0h0m13-1h0m42-3h0m11 5h0m-5 5h0m5-3h0m-66 22h0m15-2h0m1 0h0m-19 5h0m2 2h0m1-1h0m1-3h0m-301 9h0m1 1h0m17-1h0m19 0h0m75 1h0m11-1h0m-141 4h0m10 2h0m5-1h0m0-3h0m20 5h0m27-2h0m24 2h0m8-1h0m9 0h0m22-2h0m2 2h0m6 1h0m2-1h0m211-2h0m3 1h0m21 0h0m-366 7h0m12 0h0m9 0h0m26 2h0m17-3h0m10-3h0m33 1h0m4 3h0m3 0h0m2-3h0m24 3h0m207-1h0m-333 5h0m5-1h0m8 3h0m27-3h0m10 1h0m3 3h0m1 0h0m27-2h0m15 1h0m2-1h0m10 0h0m1-2h0m2 4h0m7-4h0m12-1h0m202 4h0m21-3h0m-370 10h0m0-1h0m17-1h0m5 2h0m12-2h0m14 2h0m2-1h0m6-1h0m12-1h0m8-2h0m24 4h0m25-3h0m7 1h0m13 1h0m4 2h0m207-3h0m26-1h0m-385 6h0m18 1h0m6-1h0m0 0h0m2 3h0m6 1h0m24-3h0m2-2h0m3 5h0m4-1h0m6 0h0m6-3h0m16 4h0m3-2h0m25-1h0m8-1h0m3 0h0m12 4h0m5-3h0m9-2h0m171 5h0m-306 3h0m7 2h0m5-2h0m5 2h0m5-1h0m10 1h0m5 1h0m5-4h0m4 4h0m44-5h0m23 6h0m5-5h0m7 5h0m8-1h0m3 1h0m168-1h0m60 1h0m-377 1h0m3 4h0m2-4h0m6 3h0m1 1h0m10-1h0m9 0h0m13-1h0m11 3h0m8-3h0m66-1h0m21-1h0m223 0h0m-372 7h0m8 2h0m11-3h0m12 4h0m6 1h0m10-1h0m2-1h0m2 2h0m9-3h0m28 0h0m17 0h0m2 1h0m8 2h0m20-6h0m16 1h0m2 1h0m-167 4h0m9 3h0m10-2h0m3 4h0m16-2h0m5-3h0m22 3h0m4 1h0m28-2h0m51 0h0m351 0h0m-501 8h0m1-3h0m37 3h0m1 2h0m116-3h0m222-1h0m2 2h0m68-1h0m16-2h0m3 0h0m16 4h0m5-1h0m-583 5h0m81-1h0m1 2h0m3 1h0m47 1h0m12-3h0m1 0h0m21 1h0m62 1h0m1-3h0m0 0h0m6 0h0m8 2h0m1 2h0m11-1h0m223-5h0m0 5h0m85-4h0m5 5h0m3-2h0m-577 7h0m84-2h0m0-1h0m10 0h0m33 1h0m-117 3h0m8 6h0m78-1h0m2-1h0m12 1h0m46-2h0m7-1h0m6-1h0m37-1h0m10 5h0m1-3h0m21 4h0m2-3h0m19-3h0m12 5h0m-104 4h0m44 1h0m4-3h0m5 3h0m17 1h0m10 0h0m26 0h0m201-1h0m6 0h0m-471 4h0m1 1h0m14 3h0m8-1h0m42-5h0m3 4h0m4-2h0m12 1h0m59-3h0m15 5h0m54-3h0m12 1h0m10 1h0m13 0h0m14-3h0m8 3h0m3 0h0m-289 6h0m5 1h0m14-1h0m20-2h0m7 0h0m11 3h0m27-2h0m8-2h0m6 1h0m6-2h0m2 3h0m10 0h0m12 1h0m33 1h0m1-4h0m10-1h0m57 0h0m55 5h0m173 0h0m15-4h0m6 0h0m-449 10h0m53-4h0m19 5h0m6-4h0m5 1h0m19 3h0m8-4h0m13 3h0m7-2h0m70-2h0m5 4h0m26 0h0m5 1h0m9-2h0m3 1h0m19 0h0m156-5h0m-455 10h0m20-4h0m5 1h0m7 4h0m75-3h0m14 3h0m8-3h0m18 2h0m5 1h0m21-1h0m0-2h0m2 4h0m3-5h0m4 4h0m59-2h0m16 1h0m9-1h0m5 0h0m1-1h0m3 0h0m-275 8h0m5-3h0m16 5h0m4-3h0m11 3h0m4-5h0m2 4h0m3 0h0m70-4h0m8 2h0m6-1h0m8 0h0m12-1h0m0 3h0m12 0h0m5-3h0m7 4h0m1-2h0m62-2h0m26 1h0m5 3h0m8-4h0m-267 7h0m2 2h0m17-1h0m4-2h0m6 3h0m7-1h0m8-2h0m43 2h0m3 2h0m1-3h0m56 3h0m1-4h0m3 3h0m10 1h0m2 0h0m62 1h0m8-4h0m12 1h0m19-1h0m3 3h0m1-2h0m-293 3h0m5 3h0m31 0h0m2-2h0m12 1h0m8 2h0m0 0h0m36 2h0m14-5h0m19 4h0m21-1h0m1 1h0m2-1h0m5-1h0m7 1h0m4 1h0m16-2h0m0-2h0m7 0h0m60 1h0m46-1h0m-292 6h0m14 3h0m0-4h0m15 1h0m4 1h0m16 0h0m11-1h0m7 2h0m21 1h0m11-3h0m9 3h0m20-2h0m130 0h0m1 1h0m1 0h0m8 3h0m34-2h0m-314 3h0m11 0h0m15 4h0m5-3h0m1 0h0m3 4h0m19-4h0m23 0h0m27 3h0m22-4h0m16 2h0m114-2h0m12 4h0m5-2h0m2 1h0m0 1h0m14-2h0m0 1h0m-277 5h0m2 2h0m6-5h0m29 0h0m5 2h0m37 1h0m2 1h0m3-2h0m14 0h0m9-1h0m4 2h0m20-3h0m138 0h0m7 1h0m2 4h0m15-5h0m-291 10h0m26-3h0m3 1h0m1 2h0m9-2h0m6 3h0m7 0h0m41 0h0m27-4h0m121-1h0m5 0h0m3 3h0m244 2h0m9 0h0m5 0h0m6-5h0m16 0h0m6 3h0m-535 5h0m1 3h0m4 1h0m2-1h0m0-1h0m6-2h0m13 0h0m9 1h0m10-1h0m5 2h0m0-1h0m17 0h0m6-1h0m33-2h0m379 1h0m4 1h0m2 3h0m5-1h0m-482 6h0m1-3h0m22 0h0m9 1h0m1 4h0m2-1h0m7-4h0m1 4h0m11-2h0m10 1h0m17-3h0m4-1h0m2 4h0m1-4h0m9 1h0m369 2h0m0 1h0m0-2h0m28 3h0m1-3h0m-497 7h0m11 2h0m3-2h0m15 1h0m8-3h0m3 3h0m6 1h0m6-4h0m5 1h0m14-1h0m3 5h0m412-2h0m-484 7h0m16-2h0m16-2h0m16 1h0m1 0h0m8 2h0m1-2h0m0 1h0m1-1h0m28 1h0m-83 4h0m14 1h0m5 3h0m3-2h0m12 2h0m5-5h0m11 5h0m-18 1h0m0 2h0m3 1h0m449 54h0m-194 8h0m9-1h0m12 0h0m169-1h0m45 0h0m8 1h0m-249 5h0m6 0h0m4-1h0m9-1h0m15 3h0m1 0h0m167-3h0m5 2h0m46-1h0m-264 8h0m12 0h0m2-3h0m3 0h0m8 5h0m22-4h0m154 2h0m2-3h0m4 3h0m6 1h0m3-5h0m15 3h0m26 0h0m-268 8h0m9-4h0m3 1h0m1-2h0m5 5h0m6 0h0m5-2h0m29 0h0m153-2h0m1 1h0m13 2h0m7 2h0m2-5h0m4 0h0m-219 11h0m20-1h0m13-1h0m154 1h0m19-4h0m7 3h0m12-2h0m27 3h0m1-4h0m0 3h0m-275 7h0m1-5h0m4 6h0m2-4h0m10 1h0m7-2h0m7 5h0m28-2h0m5-4h0m6 5h0m5 1h0m4-6h0m147 4h0m39 1h0m-238 5h0m4-3h0m1 3h0m1-1h0m3 3h0m6-5h0m4 4h0m1-1h0m17-4h0m148 4h0m10-4h0m5 1h0m5 1h0m2 4h0m7 0h0m1-4h0m12 4h0m1-4h0m3 2h0m10-1h0m4 1h0m5-3h0m1 5h0m-287 4h0m15 2h0m6-2h0m13 1h0m2-4h0m27 1h0m13-1h0m1 1h0m155 0h0m23 2h0m4-2h0m9-1h0m15-1h0m-287 9h0m8 0h0m12-2h0m7 1h0m15 0h0m2 1h0m4 1h0m21-3h0m3 4h0m170-5h0m25 1h0m8 1h0m11 0h0m2 1h0m1 0h0m2 2h0m-284 4h0m22-2h0m2 3h0m18 2h0m17-2h0m4-3h0m191 0h0m-233 6h0m10 2h0m14 2h0m4 0h0m0-3h0m212 0h0m18 0h0m15-2h0m-67 12h0m12-6h0m2 2h0m12 2h0m2-1h0m5-1h0m14 1h0m18-2h0m0-1h0m-262 9h0m202-2h0m1 2h0m12 0h0m2-1h0m23-2h0m14 0h0m-245 10h0m211-2h0m16 3h0m14-1h0m5 0h0m6 1h0m-276 4h0m3 1h0m20-3h0m220 3h0m8-1h0m3 1h0m2 1h0m1-1h0m25 1h0m-264 2h0m216 4h0m14-5h0m14 3h0m16 1h0m1-4h0m6 2h0m-43 7h0m7-3h0m3 1h0m19 1h0" stroke="#C772B7"/>
<path d="M347 47h0m3 2h0m-7 5h0m5-3h0m37 2h0m-43 6h0m1 3h0m1-1h0m6-3h0m14 2h0m5-3h0m8 1h0m2 1h0m-40 7h0m10-1h0m1-2h0m0 1h0m6 0h0m5 0h0m23 3h0m3-1h0m-44 8h0m16-2h0m28 3h0m4-3h0m-15 13h0m4-1h0m7 1h0m6 1h0m3-2h0m-24 6h0m17 2h0m7-2h0m-11 8h0m-9 7h0m11-5h0m1 0h0m5 1h0m-22 9h0m8 0h0m4-4h0m0 1h0m-19 5h0m-6 11h0m-225 15h0m5-1h0m14-1h0m0 1h0m2-1h0m6 5h0m-32 5h0m27-1h0m4 0h0m0-1h0m5 0h0m-37 5h0m28 1h0m-6 9h0m-15 4h0m2 0h0m3 0h0m3-2h0m1 3h0m4 0h0m303-4h0m-313 9h0m24-3h0m286 5h0m6-5h0m8 4h0m13-1h0m8-2h0m0-2h0m-346 9h0m8 3h0m3-6h0m2 6h0m3-5h0m14 4h0m303-1h0m-329 2h0m9 6h0m1-5h0m4 5h0m4 0h0m1-3h0m286 0h0m38 3h0m-31 0h0m28 11h0m-4 7h0m1 2h0m2 2h0m-6 6h0m29 1h0m6-1h0m-43 8h0m6-1h0m29-4h0m-37 9h0m2 0h0m2-4h0m2 5h0m27 2h0m-24 6h0m111 4h0m9 0h0m-101 6h0m8 1h0m3-1h0m109-1h0m-115 4h0m8 0h0m70 2h0m1 0h0m12-1h0m10 1h0m21 1h0m-129 4h0m2-2h0m11 2h0m80 2h0m7-4h0m9 0h0m7 2h0m-117 6h0m0-1h0m10 1h0m1 0h0m71 3h0m7-3h0m5 2h0m6 0h0m27 1h0m1-1h0m-143 4h0m2 0h0m0 0h0m96 0h0m5-2h0m56 4h0m3-2h0m-152 3h0m82 5h0m9-4h0m5 3h0m5-1h0m43-2h0m1 1h0m-61 6h0m14 0h0m10-1h0m18 1h0m6-2h0m3 2h0m3-1h0m-59 9h0m1 5h0m0 4h0m4 2h0m-193 6h0m1 1h0m189-2h0m0 1h0m24 0h0m1 2h0m2-3h0m-344 7h0m22 0h0m2 2h0m4 0h0m1-1h0m1 0h0m4-2h0m10 3h0m10 0h0m30-2h0m15 3h0m35-2h0m12 1h0m188 1h0m0-1h0m10-1h0m5-2h0m1 2h0m16-3h0m-362 8h0m2 2h0m6-5h0m3 1h0m6 3h0m5 1h0m9-4h0m0 0h0m32 0h0m6 1h0m6 4h0m3-4h0m1 2h0m5 0h0m9-3h0m11 2h0m4 2h0m13-3h0m14 1h0m5-2h0m2 0h0m6 0h0m192-1h0m6 1h0m25 4h0m-365 7h0m4-5h0m2 4h0m12-3h0m1 0h0m7 0h0m0 1h0m4 0h0m7 2h0m1-3h0m16 1h0m5-3h0m5 5h0m1-3h0m1 2h0m31-4h0m4 3h0m16 1h0m12 1h0m210-3h0m1 2h0m20-2h0m-369 10h0m22-2h0m3 0h0m5-4h0m1 4h0m14-1h0m15-2h0m32 0h0m8 2h0m10-2h0m14 5h0m1-1h0m16 0h0m11-4h0m1 0h0m4 2h0m187 0h0m10 0h0m2-1h0m-354 6h0m6 2h0m2 1h0m15-4h0m24 5h0m4 0h0m3-1h0m4-3h0m1 1h0m12 2h0m13-4h0m23 0h0m2-1h0m9 0h0m10 3h0m9 0h0m15 1h0m200-2h0m-364 5h0m14 4h0m12-2h0m6-1h0m2 4h0m5-5h0m5 1h0m2 2h0m5 0h0m5-3h0m1 1h0m4 0h0m7 0h0m1 3h0m1 0h0m12-5h0m18 5h0m35-3h0m0 4h0m6-4h0m17 1h0m1 3h0m4-4h0m6 1h0m-162 4h0m20 4h0m13 0h0m27 0h0m2-1h0m5-4h0m4 2h0m30 1h0m2-2h0m14 1h0m19-1h0m12 4h0m7-2h0m7-3h0m-174 10h0m6-3h0m11 2h0m5-1h0m0 0h0m15-2h0m20 3h0m14-1h0m40-1h0m3-1h0m55 3h0m1 1h0m209 0h0m-377 8h0m4-3h0m4 0h0m47-1h0m3 1h0m23-3h0m30 1h0m20 3h0m18-1h0m-156 7h0m1 1h0m1-5h0m2 4h0m8-2h0m2 1h0m18-3h0m0 4h0m6-3h0m25 1h0m8 1h0m71-3h0m6 4h0m14-3h0m5 3h0m8-3h0m295 5h0m11-1h0m32-4h0m-604 10h0m89-3h0m1 1h0m2-1h0m11 0h0m108 2h0m5-1h0m18 3h0m22-1h0m5 0h0m221-4h0m0-1h0m4 4h0m83-3h0m6 2h0m-578 4h0m20 2h0m64 2h0m0 0h0m26-5h0m103 5h0m18-1h0m34-4h0m197 0h0m0 4h0m28-2h0m78-1h0m-564 9h0m6-1h0m1 1h0m10 1h0m71 0h0m12-3h0m8 0h0m32 1h0m30-1h0m53 0h0m44-1h0m2 0h0m210 5h0m-479 1h0m70 5h0m10-2h0m16-2h0m36 1h0m2 2h0m2 0h0m7-4h0m8 2h0m17-3h0m47 4h0m7-3h0m18 1h0m11-1h0m11 4h0m3-4h0m7-1h0m1 4h0m4 2h0m-268 5h0m0-2h0m5-2h0m10 4h0m3-5h0m27 4h0m9-1h0m3-3h0m15 5h0m8 1h0m20-3h0m2 0h0m30-2h0m2 4h0m66-3h0m4 3h0m15-3h0m1 0h0m9 2h0m4 0h0m7 2h0m13-2h0m7 1h0m16 0h0m181-3h0m4 1h0m6 0h0m-452 4h0m5-1h0m0 1h0m6 2h0m10 1h0m7 0h0m17 1h0m12-1h0m3-2h0m5 2h0m6-1h0m62-3h0m0 5h0m65-5h0m6 4h0m11-2h0m18 1h0m10-1h0m1 0h0m2 3h0m18-2h0m161 1h0m9-3h0m3 2h0m2-3h0m-480 11h0m34-2h0m5 3h0m16-5h0m3 4h0m47-4h0m8 5h0m14-6h0m8 4h0m17 2h0m3-6h0m2 4h0m6 1h0m4-2h0m3-2h0m5 3h0m73-2h0m4 2h0m2-2h0m3 2h0m18-2h0m183-2h0m-430 10h0m4 1h0m2 1h0m10-4h0m13 3h0m52 0h0m6-3h0m11-1h0m7 3h0m8 0h0m3-1h0m2-1h0m9-1h0m12-1h0m8 0h0m6 1h0m9 3h0m2-1h0m0-1h0m43 3h0m38-3h0m11 2h0m-289 6h0m22-1h0m11 1h0m6-3h0m23 2h0m41 2h0m0 0h0m15-3h0m1 1h0m4 1h0m0-2h0m4 1h0m0-1h0m26 0h0m11-2h0m16 1h0m15 3h0m50-2h0m9-1h0m7 5h0m31-2h0m1 0h0m11 2h0m-310 3h0m11-1h0m5 4h0m2-3h0m1-2h0m3 0h0m6 1h0m5-1h0m10 1h0m8 0h0m2 2h0m9-2h0m20 0h0m28 3h0m7-3h0m4 0h0m5 1h0m11-3h0m3 5h0m1-4h0m16 0h0m6 2h0m9-2h0m8 1h0m2-1h0m1 0h0m10 3h0m2 1h0m4-4h0m59 2h0m4-2h0m5 3h0m34 0h0m2 2h0m4-1h0m12-2h0m-323 8h0m22-1h0m2 1h0m28-3h0m9-1h0m1 3h0m17-3h0m14 5h0m1 0h0m9-2h0m14-2h0m11-2h0m7 1h0m66-1h0m46 4h0m35 2h0m6-1h0m2 0h0m6-3h0m8-2h0m8 1h0m-293 9h0m26-3h0m4 0h0m1 4h0m1-4h0m4-1h0m16 1h0m6 2h0m18-2h0m18 3h0m5 0h0m11 2h0m16-3h0m7-1h0m0 2h0m94-3h0m13 4h0m29-3h0m15 2h0m-300 3h0m23 3h0m3-4h0m1 2h0m12 0h0m1-2h0m3 2h0m4 0h0m49 3h0m9 0h0m4-3h0m15 1h0m9 0h0m129 1h0m10 1h0m12-2h0m13 1h0m-291 5h0m4 1h0m1-3h0m9 2h0m6 3h0m5-1h0m13 0h0m25-1h0m10 1h0m11-1h0m3-3h0m2 1h0m6-1h0m12-1h0m4 2h0m14 1h0m115-1h0m4 3h0m26-3h0m1 4h0m1-6h0m12 1h0m248 5h0m-534 5h0m8-1h0m8 0h0m6-4h0m1 1h0m0 4h0m8-4h0m1 2h0m12 1h0m3-4h0m1 1h0m15 4h0m8 0h0m1-1h0m15-1h0m5-2h0m11 1h0m17 1h0m148 0h0m228 1h0m1 2h0m8-3h0m8 0h0m4-3h0m4 5h0m1-4h0m4 1h0m3 0h0m9-2h0m-529 12h0m8-1h0m12 1h0m0-2h0m0-1h0m7 3h0m0-5h0m12 3h0m18 1h0m3-3h0m10 1h0m2 0h0m17 1h0m5 0h0m7-2h0m136 2h0m2 0h0m241-1h0m1-2h0m8 5h0m8-3h0m6 0h0m-508 6h0m4 3h0m2-1h0m0 0h0m19 1h0m13-3h0m18 0h0m7-1h0m33-2h0m395 2h0m18 1h0m-494 7h0m4 1h0m7-2h0m13 0h0m12 3h0m10-4h0m15 1h0m10 1h0m2-2h0m409-1h0m-472 9h0m28-2h0m9 3h0m10-2h0m7-1h0m406-2h0m-443 10h0m19 2h0m12-1h0m10-3h0m9-1h0m-54 9h0m19 0h0m2 0h0m12-1h0m430 49h0m-7 7h0m3-4h0m3 2h0m51 1h0m-280 2h0m50 1h0m0 5h0m7-2h0m11-1h0m149-3h0m8 1h0m49 5h0m-245 4h0m3-3h0m2 0h0m15 0h0m0 5h0m6-4h0m2-2h0m5 5h0m147-2h0m10 1h0m16 1h0m50-5h0m-254 8h0m4 2h0m3-3h0m23 1h0m18 3h0m131-3h0m15 3h0m10-3h0m2 2h0m36-1h0m2-2h0m1 0h0m9-1h0m-244 8h0m4 3h0m8-5h0m7 2h0m2 4h0m1-2h0m18 2h0m130-2h0m16 1h0m0 1h0m8-4h0m8 3h0m1-2h0m3-3h0m1 2h0m5 0h0m10 3h0m2 0h0m3-3h0m4-1h0m0 3h0m10-1h0m1-1h0m-281 9h0m44 0h0m19 0h0m3-4h0m0 0h0m7 3h0m144 0h0m10 2h0m8-6h0m3 1h0m13 4h0m5-3h0m14 3h0m11-3h0m-281 7h0m4 2h0m24-1h0m11 1h0m1-2h0m17-2h0m5 0h0m20 4h0m131 0h0m3-2h0m4-2h0m12 0h0m14 2h0m4-2h0m-243 6h0m6 2h0m4-2h0m3 5h0m4-6h0m9 1h0m2 3h0m5-2h0m25 2h0m9 1h0m3-4h0m156-1h0m6 1h0m10 3h0m7-3h0m1 4h0m19-1h0m5-1h0m1-3h0m6 6h0m-282 3h0m6-1h0m18 0h0m11 1h0m16 1h0m3 0h0m151-2h0m22-2h0m0 3h0m14-2h0m19 4h0m17 0h0m-288 6h0m10-1h0m6-3h0m5 0h0m2 4h0m5-2h0m0-3h0m3 2h0m6 3h0m1 0h0m14-1h0m0 1h0m8-1h0m8 0h0m163-3h0m3 1h0m17 0h0m1-2h0m18 2h0m9 3h0m3 1h0m-277 1h0m9 3h0m18 0h0m4-4h0m6 1h0m4 2h0m3 1h0m1-1h0m1 2h0m12 0h0m3-2h0m169-3h0m1 6h0m22-4h0m4 0h0m13 2h0m3-4h0m2 2h0m16 3h0m2-2h0m-267 5h0m7 0h0m24 0h0m173 3h0m6 1h0m6-5h0m1 1h0m15 0h0m8 0h0m16 3h0m-252 6h0m4 0h0m11-3h0m180 2h0m1 1h0m9-5h0m8 1h0m1 2h0m2-2h0m30 2h0m14-1h0m-260 6h0m0 2h0m1 2h0m6-1h0m9 0h0m181-1h0m4 2h0m13-4h0m4 2h0m21 1h0m-251 7h0m7-6h0m19 4h0m2-4h0m182 2h0m9-1h0m3 0h0m7 2h0m4-2h0m17-1h0m32 1h0m-267 6h0m208 1h0m2 2h0m22-1h0m6 3h0m5-2h0m2-3h0m-263 5h0m16 2h0m217 1h0m5 2h0m12-3h0m10-2h0m14 5h0m4-1h0m4-2h0m-281 4h0m3 1h0m233 2h0m6-2h0m1 4h0m27-3h0" stroke="#60D2C6"/>
<path d="M344 53h0m1 3h0m3 0h0m1-3h0m5 1h0m2 0h0m9 0h0m16 0h0m1 1h0m-37 6h0m4 0h0m17 2h0m4-1h0m6 0h0m2-3h0m1-1h0m12 2h0m1 1h0m-63 5h0m4 1h0m1-2h0m3 3h0m13-1h0m5-3h0m25-1h0m1 4h0m0-1h0m8-2h0m2 4h0m-58 1h0m0 2h0m56 0h0m1 1h0m5-1h0m-70 9h0m71-5h0m0 1h0m-20 7h0m5-2h0m6 3h0m4 1h0m1-3h0m-14 8h0m1-2h0m1 3h0m1-2h0m7-1h0m6 0h0m-19 6h0m5 2h0m3 0h0m2-3h0m2 3h0m-16 9h0m1 0h0m16-4h0m-14 4h0m-14 10h0m10-2h0m3 1h0m-229 16h0m1 4h0m13-2h0m-25 6h0m7-1h0m4 2h0m8 1h0m1-4h0m2 3h0m0 0h0m-27 5h0m4-2h0m2 1h0m6-2h0m2 4h0m2-1h0m1 2h0m0-4h0m2 2h0m1 0h0m6-3h0m0 6h0m0-1h0m6-5h0m3 0h0m6 4h0m-45 5h0m2 1h0m3 1h0m3-1h0m0-4h0m23 3h0m0 0h0m1 0h0m3 1h0m1-1h0m0-3h0m5 1h0m2 4h0m-26 6h0m2-2h0m11-3h0m7 4h0m-42 7h0m3-5h0m4 1h0m5 2h0m8 0h0m0-2h0m9 3h0m13-4h0m286 3h0m0-2h0m3 3h0m-331 7h0m13 1h0m1-1h0m2 0h0m2-5h0m3 1h0m11 4h0m8-3h0m7-1h0m275 1h0m0 2h0m1-1h0m5-1h0m1 2h0m3 2h0m5-5h0m7 3h0m2-1h0m12 0h0m-345 4h0m5 2h0m1-1h0m2 2h0m5-1h0m12 0h0m2 0h0m310 2h0m-328 7h0m0-2h0m1-2h0m1-1h0m2 0h0m4 0h0m0 2h0m8-3h0m5 4h0m281-2h0m28 2h0m2 2h0m-20 0h0m19 1h0m4 10h0m2-3h0m2 4h0m-4 11h0m1-3h0m24 8h0m1 1h0m5 0h0m0-3h0m4 4h0m-42 2h0m40-1h0m77 16h0m2-5h0m4 4h0m-121 4h0m1 3h0m1-3h0m2 3h0m112-4h0m2 2h0m-100 5h0m4 0h0m84 1h0m0 2h0m21-5h0m5 2h0m-122 5h0m6 1h0m3 3h0m1 0h0m2-2h0m7-2h0m0 4h0m1 0h0m72-5h0m11 4h0m4-2h0m1 0h0m4 3h0m-104 3h0m1 1h0m1 1h0m6-2h0m5-1h0m0-1h0m71 1h0m3 0h0m2 5h0m6-5h0m2 1h0m11-1h0m9 0h0m3 5h0m-131 6h0m5-5h0m14 5h0m76-5h0m2 0h0m2 0h0m5 1h0m30-1h0m0 3h0m-42 5h0m1 0h0m0 2h0m7-3h0m6 1h0m0 0h0m39 3h0m1-3h0m7-3h0m2 9h0m-68 8h0m49-4h0m16 1h0m-70 12h0m2-1h0m21 4h0m0-3h0m5 4h0m-25 6h0m2-2h0m20-1h0m19 0h0m-354 6h0m8-2h0m2-1h0m31 4h0m11 2h0m79-2h0m184-2h0m23 4h0m2-2h0m2 1h0m1-4h0m-346 5h0m1 5h0m11 0h0m0-4h0m2 3h0m31-1h0m10-2h0m1 0h0m2 0h0m4-1h0m10 5h0m34-1h0m8 1h0m35-2h0m196-2h0m1-1h0m0 3h0m4 0h0m1-2h0m16 0h0m-366 8h0m0 0h0m2 1h0m12-3h0m1 4h0m8-5h0m15 6h0m7-3h0m1-1h0m2-1h0m2 1h0m1 0h0m9 3h0m13-5h0m5 1h0m1 4h0m1-4h0m1 2h0m10-2h0m11-1h0m7 2h0m6 3h0m1-4h0m1-1h0m11 5h0m0 0h0m15 1h0m2-2h0m0-4h0m4 1h0m7 4h0m192-2h0m7 1h0m1-2h0m-356 6h0m3 4h0m12 0h0m11 0h0m0-5h0m4-1h0m13 1h0m10 0h0m4 5h0m14-5h0m2-1h0m5 3h0m16-3h0m14 5h0m5-2h0m8-2h0m14-1h0m6 6h0m11-4h0m212-1h0m11 1h0m-367 5h0m17 4h0m5-2h0m4 0h0m7 0h0m20 2h0m9 0h0m1-4h0m3 0h0m3 4h0m27-2h0m7 3h0m5-1h0m3-4h0m10 0h0m1 3h0m1-3h0m11 4h0m8-2h0m1 0h0m3-1h0m2 2h0m193 1h0m-354 6h0m6-4h0m2 4h0m15-1h0m17-1h0m9 0h0m7 2h0m1-2h0m1 1h0m2-3h0m1 2h0m5 0h0m4-3h0m7 3h0m16 1h0m1 0h0m25-3h0m25 5h0m16-3h0m180 1h0m24-3h0m-368 9h0m8-3h0m8 2h0m2 0h0m3 1h0m9 0h0m2 1h0m1-2h0m0 1h0m6 0h0m6 0h0m9 2h0m0-4h0m16 2h0m9 0h0m2-1h0m3 0h0m15 0h0m26 3h0m38-6h0m9 1h0m1 2h0m-173 8h0m0-2h0m25 2h0m4-1h0m6-4h0m1 1h0m5 1h0m1 2h0m6-2h0m1 0h0m3 0h0m13 1h0m3 0h0m1 0h0m6 2h0m7-5h0m14 3h0m3 2h0m5 0h0m20-3h0m2 2h0m2 0h0m11 0h0m0-2h0m2 4h0m10-5h0m1 5h0m1 0h0m3-5h0m15 3h0m196 2h0m22-5h0m-396 9h0m8-2h0m3 0h0m5 2h0m5-4h0m48 0h0m3 2h0m5-1h0m3 0h0m23 0h0m2 0h0m29 5h0m2-5h0m1-1h0m18 2h0m2-1h0m2 2h0m13 1h0m209-1h0m-383 7h0m10 0h0m13-2h0m1 3h0m1-2h0m6-1h0m13 1h0m5 3h0m16 0h0m11-6h0m4 5h0m30-2h0m13 0h0m3 1h0m1-1h0m17 1h0m6 1h0m366 0h0m-516 6h0m14 0h0m20 1h0m2 0h0m12-5h0m1 5h0m19-4h0m3 2h0m0-2h0m6 1h0m7 0h0m26 2h0m9-5h0m24 4h0m4-1h0m16-2h0m1 4h0m8-3h0m2 2h0m212 2h0m1-6h0m67 2h0m22 4h0m0 0h0m9-3h0m12 0h0m1 2h0m5 0h0m5-3h0m-594 9h0m79 1h0m6-1h0m12-5h0m45 1h0m3 3h0m5-3h0m63 2h0m3-1h0m6 4h0m2-3h0m3 2h0m1-1h0m1-4h0m9 1h0m24 2h0m294-2h0m1 1h0m2 3h0m2 1h0m1 0h0m3-5h0m13 0h0m-589 9h0m10 2h0m12 0h0m69-3h0m0 1h0m6 0h0m13 1h0m0-4h0m33 4h0m29-2h0m38 1h0m3-3h0m1 4h0m18-5h0m3 6h0m3-1h0m7-3h0m31 2h0m214-2h0m75-1h0m1 0h0m4 3h0m-569 7h0m7-5h0m12 6h0m78-6h0m1 3h0m1-1h0m2 0h0m0 1h0m2 3h0m3-2h0m22-2h0m34 3h0m4-3h0m1-2h0m4 3h0m1-2h0m51 0h0m31 1h0m-255 8h0m14-2h0m4 3h0m9-3h0m1 1h0m0-3h0m3 4h0m0 1h0m40-2h0m0 2h0m4-4h0m5 0h0m10 4h0m0-4h0m1-1h0m5 3h0m7-3h0m37 6h0m14-1h0m6 1h0m14-1h0m54-3h0m9 2h0m4-4h0m15 2h0m3 3h0m16-2h0m209-2h0m1 0h0m-486 7h0m3 1h0m13-2h0m2-1h0m9 4h0m2 1h0m0-1h0m0-4h0m1 0h0m4 6h0m5-4h0m17 2h0m10 0h0m3-1h0m2 2h0m10-5h0m2 2h0m2 0h0m3-1h0m4 4h0m6 0h0m30-1h0m34 0h0m7-1h0m4 0h0m51-1h0m12-1h0m0 1h0m5-1h0m1 1h0m0 1h0m1-1h0m9-2h0m0 2h0m6 2h0m20 0h0m8 1h0m-284 3h0m2-1h0m7 5h0m12-1h0m18-4h0m1 1h0m20-2h0m4 2h0m6-1h0m9-1h0m4 1h0m15 5h0m10-6h0m10 5h0m3-4h0m9 4h0m26-4h0m9 2h0m1-1h0m6 4h0m49-5h0m11 3h0m1-1h0m6 2h0m8-5h0m17 1h0m5 0h0m2 4h0m1-2h0m3-2h0m6 2h0m5-1h0m160 1h0m14 0h0m12-2h0m-477 9h0m11 1h0m68-1h0m5-3h0m8 3h0m8-3h0m8 3h0m2 0h0m58-3h0m54-1h0m6 0h0m19 3h0m9 0h0m6 0h0m8 0h0m0 2h0m9 0h0m5-3h0m8-1h0m159-1h0m-467 9h0m1 3h0m3 0h0m1-1h0m2-2h0m4 0h0m1 2h0m7 0h0m4-2h0m4-2h0m1 3h0m8 2h0m3-1h0m3 0h0m1-3h0m8 4h0m1-4h0m1 3h0m3-3h0m0-1h0m0 0h0m4 4h0m4-2h0m1-1h0m3 4h0m52-5h0m5 3h0m7-1h0m6-2h0m1 2h0m1 1h0m18-1h0m16-2h0m2 0h0m1 1h0m14 3h0m5 1h0m50-2h0m8-2h0m37 4h0m2-4h0m3 3h0m1 1h0m2-1h0m1-2h0m1-2h0m9 0h0m-312 7h0m1 0h0m12 3h0m8 0h0m6-2h0m2 0h0m12 3h0m6-3h0m2-1h0m6-1h0m0 5h0m8 0h0m50-5h0m9 4h0m3-3h0m9 0h0m2 1h0m5 1h0m2-1h0m8 1h0m13-4h0m9 0h0m2 2h0m24 0h0m48 1h0m18 0h0m16-3h0m10 2h0m4 0h0m3-1h0m11 0h0m-315 11h0m18 0h0m0 0h0m7-2h0m15 1h0m1-4h0m24 4h0m3-3h0m13 1h0m3 0h0m1 0h0m1-2h0m1 1h0m12 3h0m43-3h0m6-1h0m1 0h0m7 1h0m13 4h0m15 0h0m8-1h0m9 0h0m52 0h0m2-2h0m14 1h0m1 2h0m1-3h0m1 0h0m3 1h0m2-2h0m4 2h0m5-4h0m1 3h0m3 0h0m3-1h0m6 1h0m11-2h0m1 4h0m0-2h0m1-2h0m2 3h0m2 1h0m1 0h0m-308 1h0m3 4h0m10-3h0m10 0h0m1 2h0m8 2h0m27-4h0m8 0h0m7 4h0m5-3h0m1 4h0m22-5h0m44 3h0m10-3h0m4 3h0m3 2h0m0-1h0m7 1h0m1-2h0m3 0h0m2-2h0m3 4h0m5-5h0m61 3h0m7-1h0m4 3h0m0-3h0m7 0h0m5 2h0m7-1h0m3 1h0m6-2h0m2-2h0m1 4h0m0-1h0m3-4h0m3 4h0m2 0h0m6-2h0m0 0h0m2 3h0m0-1h0m-310 4h0m2-1h0m0 0h0m14 2h0m14 3h0m0-3h0m5-1h0m3 3h0m12-3h0m8 1h0m3 0h0m4-1h0m4 0h0m6 3h0m1-5h0m6 6h0m2-3h0m10-2h0m4 5h0m1-4h0m6 3h0m1 1h0m1-2h0m0 0h0m1-3h0m2 2h0m19-2h0m10 4h0m5-3h0m23-1h0m5 1h0m7 0h0m5-2h0m73 2h0m14 2h0m2 1h0m1-1h0m4-4h0m5 6h0m1-2h0m4-3h0m7 3h0m1-2h0m-281 6h0m2 1h0m2-1h0m1-1h0m8 5h0m5-5h0m9 3h0m2-4h0m3 0h0m1 0h0m7 4h0m7-2h0m4 3h0m9-3h0m1 4h0m2-5h0m2 0h0m6 2h0m2-1h0m5 1h0m4 1h0m2-2h0m7 4h0m1-2h0m3 1h0m2-1h0m12-3h0m1 1h0m15 2h0m2-2h0m114 2h0m4 0h0m12-4h0m4 5h0m3 0h0m8 0h0m0-1h0m-287 7h0m8-1h0m4-1h0m3 3h0m3-6h0m2 5h0m2-2h0m8-2h0m15 5h0m18-5h0m2 1h0m6-1h0m8 2h0m1-1h0m14-2h0m1 3h0m3 0h0m13 2h0m4-3h0m4 4h0m5-1h0m3-4h0m5 3h0m0 0h0m131-3h0m2 4h0m8-2h0m6-2h0m11 2h0m4-1h0m1 1h0m-294 6h0m1 1h0m3-3h0m1 3h0m12-1h0m6-2h0m5 2h0m2 0h0m3 0h0m5 2h0m2-3h0m1 2h0m5-3h0m11 4h0m10-4h0m2 1h0m17 0h0m3 2h0m3-4h0m3 2h0m4 0h0m5 2h0m5 0h0m1 0h0m6-3h0m6 0h0m3 4h0m5-3h0m4-1h0m113 5h0m0-2h0m5 1h0m11 0h0m1 0h0m16-5h0m215 5h0m26-2h0m0 2h0m12 0h0m6 0h0m3-1h0m3-4h0m-537 11h0m2-4h0m8 3h0m4 1h0m1-4h0m9 2h0m8 1h0m6 0h0m14 0h0m4-3h0m5 0h0m10 5h0m15-4h0m4 3h0m3-5h0m6 6h0m0-1h0m385 0h0m3-3h0m3-1h0m8 0h0m0 1h0m8 3h0m2-2h0m5 3h0m2-3h0m17 2h0m-523 7h0m4-1h0m0-5h0m11 3h0m2 1h0m8 0h0m0 1h0m1-1h0m22-2h0m15 3h0m10-3h0m0 0h0m2 3h0m3-2h0m4-2h0m2 2h0m10-2h0m0 4h0m4-4h0m374 1h0m6-1h0m5-1h0m1 3h0m1 2h0m3 1h0m8-3h0m1 0h0m3-1h0m-500 5h0m10 3h0m8-3h0m3 2h0m1-3h0m10 5h0m10-1h0m4-1h0m3 1h0m0-2h0m7-1h0m5 1h0m0 1h0m11-2h0m1 4h0m4-2h0m6 2h0m393 0h0m0-1h0m1 1h0m1-5h0m9 3h0m0 2h0m7-3h0m-483 10h0m0-2h0m5-1h0m6-1h0m22 2h0m20-2h0m6-1h0m2 4h0m9-2h0m1 1h0m2 0h0m8-3h0m397 1h0m2 0h0m-468 6h0m5 0h0m4 0h0m3 1h0m1 2h0m18-4h0m9 2h0m6 1h0m6-1h0m3 1h0m-43 2h0m11 5h0m1-4h0m6 1h0m4 0h0m5 2h0m4-1h0m-29 3h0m16 0h0m0 1h0m434 46h0m3-2h0m6 3h0m-5 3h0m6-1h0m1 2h0m51 1h0m-243 4h0m6 2h0m1 0h0m12-3h0m148 4h0m3-1h0m5-4h0m3 5h0m1-5h0m62 2h0m-260 7h0m7-2h0m0 4h0m0-2h0m3-1h0m4 1h0m2 1h0m14-4h0m8 4h0m1-5h0m6 2h0m5 3h0m138-3h0m7-2h0m9 6h0m2 0h0m5 0h0m36-3h0m4-1h0m3 1h0m9-2h0m-263 6h0m0 0h0m18 3h0m5-1h0m7 0h0m3 0h0m4-1h0m150 2h0m60 1h0m9-2h0m-271 8h0m5-3h0m9 4h0m4-1h0m11-3h0m13-1h0m7 2h0m6 1h0m1-3h0m1 1h0m2 2h0m142-3h0m4 0h0m17 5h0m13-3h0m0 0h0m2 1h0m3-1h0m2-3h0m4 6h0m12 0h0m1-1h0m-264 3h0m3 1h0m8 1h0m4-1h0m2-3h0m1 5h0m3-3h0m8 3h0m11 0h0m2-4h0m9 5h0m5-4h0m3 0h0m8 0h0m8 0h0m8 3h0m130-2h0m4-1h0m2 1h0m7 0h0m2 2h0m1-3h0m7 3h0m2-3h0m0 0h0m2 0h0m22 0h0m0 1h0m7-1h0m7 1h0m2-2h0m1 1h0m-276 8h0m0-2h0m3 2h0m1 0h0m5-4h0m2 3h0m8 3h0m5-4h0m10 3h0m7-4h0m3 1h0m32 0h0m139 1h0m4 1h0m0-2h0m6 1h0m12 0h0m5 0h0m3 0h0m15 2h0m13 1h0m0-1h0m5-5h0m1 1h0m3 4h0m-290 3h0m36 4h0m3-4h0m0 1h0m3 1h0m4-1h0m11-1h0m2-1h0m13 1h0m3-1h0m139 2h0m8-2h0m14 4h0m8-3h0m13 3h0m15 0h0m11-2h0m2-1h0m-281 7h0m0 1h0m13 0h0m3-4h0m9 5h0m4-2h0m4-3h0m13 1h0m2 4h0m3-4h0m11 3h0m4 1h0m1-1h0m2-3h0m2-1h0m153 2h0m8 1h0m22 2h0m3-5h0m3 2h0m2 2h0m1-3h0m5 1h0m0-1h0m13 1h0m3 0h0m-297 4h0m5 6h0m1-1h0m9-3h0m2-1h0m16 1h0m5 3h0m1-2h0m4-2h0m2 1h0m1 0h0m5 1h0m18-2h0m173 3h0m15 1h0m3-5h0m4 0h0m6 1h0m0-1h0m7 2h0m8 1h0m-279 5h0m19-2h0m3 4h0m3-3h0m11 2h0m1 2h0m2-3h0m206 3h0m1 0h0m7-3h0m19-1h0m9 4h0m1-1h0m1 1h0m10 1h0m1 0h0m-271 4h0m12-2h0m1 2h0m5-1h0m2 1h0m190 2h0m2-2h0m0 0h0m6 0h0m1-2h0m1 0h0m13 3h0m2-3h0m4 0h0m3 3h0m17-1h0m5 0h0m2-2h0m11 1h0m-258 8h0m3 0h0m7-1h0m193 1h0m3-2h0m11-2h0m1 3h0m22-2h0m3 2h0m11 1h0m10-4h0m-280 10h0m1-5h0m4 0h0m14 4h0m17 1h0m8 0h0m180 0h0m8-2h0m3 3h0m9 0h0m2-5h0m1 1h0m19 3h0m3 0h0m2-1h0m6-4h0m-277 8h0m9-1h0m0 3h0m12-3h0m190 2h0m3 3h0m6-4h0m0-1h0m1 4h0m1-4h0m2 2h0m6 3h0m1-4h0m3-1h0m2 3h0m11-2h0m2 3h0m10-2h0m14 0h0m-278 4h0m18 4h0m197-4h0m20 5h0m1-5h0m4 2h0m1 3h0m9-3h0m28-2h0m0-1h0m-269 6h0m1 1h0m0 2h0m1-1h0m3-1h0m212 1h0m6 1h0m29 3h0m11-1h0m17-1h0m-288 4h0m12-2h0m223 2h0m6 3h0m9 0h0m16-3h0m2 3h0m8-3h0" stroke="#C772B7"/>
<path d="M346 52h0m3 5h0m4-3h0m0 1h0m13 1h0m3-1h0m5 1h0m-40 6h0m10-4h0m15 1h0m9-1h0m1 3h0m5-2h0m1-2h0m1 3h0m16 2h0m-54 6h0m2-3h0m2-2h0m4 3h0m2 1h0m3-1h0m9-1h0m22 3h0m2 0h0m4 0h0m1-5h0m-48 9h0m9 1h0m35-1h0m8 1h0m-8 4h0m1 1h0m8 2h0m-11 6h0m6-2h0m-12 8h0m12-5h0m6 6h0m-19 2h0m0 3h0m6-2h0m6 0h0m1-2h0m-14 8h0m1-1h0m2-2h0m7 1h0m3 2h0m0 1h0m1 0h0m-26 7h0m9-2h0m1 2h0m2-2h0m1-2h0m2 3h0m4-3h0m-16 8h0m10-1h0m2-2h0m0 4h0m-19 2h0m1 5h0m1-1h0m0-1h0m-217 18h0m5-1h0m3 1h0m-24 9h0m28-2h0m-30 6h0m1-1h0m6-2h0m1 4h0m1-5h0m3 3h0m9 0h0m3 2h0m4-3h0m-34 10h0m3-2h0m7 2h0m4-2h0m3 0h0m4-2h0m-25 9h0m7-3h0m2 4h0m4-3h0m9 0h0m11 3h0m305-2h0m-338 7h0m2-1h0m3-2h0m10 1h0m10 2h0m14-3h0m1 3h0m11-5h0m274 1h0m2 3h0m6-4h0m0 5h0m0 1h0m1-3h0m22-1h0m4 0h0m-344 7h0m7-2h0m14 0h0m1 1h0m0-2h0m7 1h0m11-1h0m-34 11h0m3-3h0m7 0h0m9-1h0m1 2h0m5 0h0m315 18h0m2-1h0m-3 9h0m0-1h0m3-4h0m-7 11h0m1-4h0m32 5h0m1 0h0m1-1h0m2 0h0m-43 6h0m41-4h0m1 0h0m-44 8h0m2 8h0m40 0h0m83-3h0m-120 5h0m6 3h0m113-2h0m-102 5h0m1 0h0m1 3h0m1 0h0m1-1h0m91 0h0m-97 6h0m2 3h0m5-1h0m2 0h0m5 0h0m0-2h0m1 3h0m74-3h0m6 0h0m3-2h0m6 4h0m4-1h0m1 2h0m19-6h0m-138 8h0m8 1h0m3 3h0m3-2h0m1-2h0m8-1h0m0 5h0m5-2h0m4-3h0m66 3h0m1 1h0m10 0h0m18-1h0m3 0h0m0 0h0m18 0h0m-145 4h0m1-1h0m4 1h0m17 1h0m74-2h0m1-1h0m1 0h0m6 1h0m1 1h0m27-2h0m1 4h0m3-4h0m-130 10h0m6 0h0m5-3h0m0 1h0m77 2h0m7-1h0m45 2h0m0 1h0m1-1h0m0 0h0m7 1h0m4-1h0m-71 5h0m62-1h0m-64 3h0m28 5h0m-10 12h0m6 1h0m-25 2h0m1-1h0m1 5h0m19-6h0m4 6h0m2-2h0m1-3h0m0 3h0m-338 5h0m8 3h0m8-2h0m14-1h0m7 3h0m2-2h0m79 1h0m4-1h0m2-1h0m189-1h0m23 1h0m2-1h0m0 2h0m2 0h0m4 1h0m20-4h0m1 3h0m-367 3h0m17 2h0m9-2h0m0 5h0m3 0h0m3-3h0m8 1h0m12-3h0m1 5h0m45 0h0m24-1h0m5 0h0m1 0h0m11 1h0m2-2h0m6-2h0m0 4h0m192-4h0m3 3h0m0-4h0m0 1h0m0-1h0m2 2h0m2-1h0m1 0h0m19 1h0m-366 6h0m4 3h0m19-5h0m2 4h0m4-2h0m3-2h0m4 3h0m10-1h0m14-3h0m6 1h0m6 4h0m7-3h0m1 0h0m20 0h0m2 0h0m2 4h0m12-3h0m11 1h0m3-2h0m3 4h0m6-3h0m3-1h0m4 2h0m2-2h0m0-2h0m6 5h0m187-4h0m4 4h0m16 0h0m-370 5h0m24-1h0m9 0h0m6-2h0m13 0h0m4 4h0m4-5h0m1 4h0m2-1h0m3-1h0m8 0h0m7 0h0m2 4h0m11-6h0m7 1h0m9-1h0m6 1h0m13-1h0m5 3h0m5 1h0m1 0h0m0-2h0m3 1h0m6-2h0m1 2h0m3 1h0m5 2h0m6-3h0m194 2h0m2 0h0m18-4h0m1 4h0m-365 6h0m1-3h0m10 1h0m3-1h0m2 1h0m10 1h0m4 0h0m10-4h0m1 0h0m49 6h0m10-5h0m1 1h0m4 3h0m0-2h0m3 3h0m3-2h0m7 1h0m8-5h0m2 5h0m2-1h0m3-2h0m3 3h0m7 0h0m7-3h0m-141 9h0m10-2h0m13-2h0m1 4h0m1 0h0m4-2h0m5 2h0m10-2h0m3-2h0m4 0h0m4 3h0m1-3h0m18 0h0m34 3h0m8 2h0m1 0h0m1-3h0m10-3h0m2 3h0m5-2h0m2 3h0m1 0h0m176 0h0m4-4h0m20 4h0m5-1h0m-362 8h0m9-1h0m19 0h0m2-3h0m3 3h0m15 0h0m11-3h0m3 2h0m6 0h0m9-1h0m24 0h0m18 4h0m13-3h0m1 3h0m3-6h0m13 0h0m4 1h0m1 0h0m176 2h0m2-2h0m-336 10h0m0-3h0m1 2h0m10 2h0m7-1h0m2 0h0m7-2h0m14-1h0m7 3h0m5-4h0m58 0h0m5 0h0m9 5h0m20-2h0m8-3h0m5-1h0m3 1h0m1 1h0m225 1h0m-388 7h0m6-3h0m8 1h0m9 4h0m15-6h0m16 2h0m1 2h0m4 0h0m0 0h0m3 0h0m2 1h0m4 1h0m40-1h0m0-5h0m17 3h0m2 1h0m2-1h0m3-3h0m6 0h0m9 6h0m14-4h0m-160 4h0m4 4h0m8 1h0m2-2h0m1 0h0m2 1h0m2-3h0m33 4h0m70-5h0m3 6h0m4-1h0m0-3h0m1-1h0m20 4h0m1-5h0m6 1h0m1 4h0m7-4h0m207 0h0m94 4h0m39 1h0m3-3h0m3 2h0m1 0h0m-528 5h0m11 1h0m1 0h0m69-4h0m0 1h0m43 3h0m6-1h0m16-2h0m1 3h0m16-4h0m6 0h0m2 1h0m8-1h0m0 0h0m2-1h0m210 0h0m1 0h0m61 2h0m28 3h0m8-3h0m0 4h0m2 0h0m6 0h0m-584 3h0m9 2h0m77-2h0m0 2h0m5-1h0m1-3h0m4 5h0m3-6h0m1 6h0m0-1h0m0 1h0m2-6h0m8 4h0m7 1h0m19-1h0m17 1h0m10 1h0m11-3h0m38 2h0m14-1h0m9-4h0m5 3h0m8-2h0m13-1h0m8 2h0m1 3h0m295-4h0m2 0h0m2 4h0m-569 5h0m1 0h0m1-4h0m3 3h0m1-2h0m1 0h0m0 3h0m90 2h0m10-3h0m53 2h0m8 1h0m3-5h0m35-1h0m38 2h0m321 1h0m1-1h0m2 0h0m1-1h0m-565 9h0m5 2h0m2-3h0m1-1h0m3 3h0m6-1h0m1 1h0m0-1h0m57 2h0m8-1h0m24 1h0m47-4h0m7-1h0m41 4h0m6 1h0m19-2h0m24-3h0m227 0h0m-481 7h0m0 1h0m1 2h0m3 0h0m6-3h0m20 4h0m32-4h0m3 0h0m25 0h0m9 4h0m33-6h0m14 2h0m2 2h0m18-1h0m49-1h0m12 2h0m2 2h0m5-5h0m11 4h0m4-1h0m7 0h0m12-4h0m203 6h0m5-3h0m-464 5h0m1 2h0m11-4h0m5 6h0m6-2h0m44-2h0m17-1h0m36 4h0m10-3h0m15 3h0m3-2h0m4 3h0m49-2h0m12 1h0m26-4h0m5 2h0m18 2h0m1-5h0m190 5h0m0 1h0m0 0h0m2-1h0m2-3h0m1 2h0m3-2h0m3-1h0m-483 7h0m6-1h0m5 3h0m4-2h0m1 2h0m20-2h0m8 3h0m1 1h0m14-2h0m28 0h0m17-3h0m1 0h0m7 2h0m0-2h0m2 0h0m2 4h0m16-3h0m6-2h0m2 6h0m2-2h0m8 2h0m7-4h0m3 0h0m13 3h0m52-2h0m5-2h0m2 0h0m1 5h0m0-1h0m5-3h0m6 3h0m7-4h0m4 3h0m11-1h0m1-2h0m1 3h0m10-1h0m1 3h0m0-6h0m8 1h0m3 0h0m162 4h0m14-2h0m-464 6h0m12-2h0m11 4h0m2 1h0m3-2h0m10-4h0m1 5h0m2-2h0m11 0h0m1 1h0m2-4h0m10 2h0m24 4h0m8-1h0m4-4h0m23 3h0m7-3h0m8 3h0m5 0h0m3 2h0m5-4h0m4 2h0m68-1h0m21-3h0m5 4h0m4-1h0m9-3h0m1 2h0m1 4h0m1-5h0m2 4h0m1-4h0m20 0h0m-309 10h0m49-1h0m7-2h0m1 3h0m13-5h0m31 4h0m3 1h0m7 1h0m4-2h0m1-2h0m9 0h0m2 0h0m16-1h0m24 4h0m6 0h0m2-5h0m14 6h0m1-1h0m5-3h0m49-1h0m1 3h0m37 1h0m3-2h0m9-1h0m4-2h0m2 6h0m4-5h0m8 5h0m-302 5h0m8 1h0m15-2h0m1 0h0m16 1h0m17-1h0m1 2h0m65-1h0m1-2h0m7-1h0m24 0h0m3-1h0m2 3h0m2-3h0m2 2h0m1 2h0m1 0h0m6-5h0m5 5h0m1-4h0m2 4h0m8 0h0m49 1h0m42-3h0m4-1h0m7 3h0m12-3h0m1-2h0m0 5h0m0-3h0m-317 7h0m1 1h0m36 0h0m2-2h0m47 4h0m3-4h0m7 0h0m28-1h0m7-1h0m12 2h0m6-1h0m5-1h0m12 5h0m8-5h0m0 6h0m3-2h0m9-1h0m5 0h0m7 2h0m48-3h0m1 3h0m7-1h0m2-1h0m1-2h0m10 1h0m4 4h0m6-4h0m3 0h0m3 3h0m1-2h0m1-2h0m5 3h0m2 1h0m2-1h0m18-4h0m-315 9h0m4-2h0m15 0h0m3-1h0m2 4h0m5-1h0m1-3h0m1 4h0m8 1h0m0 0h0m4-4h0m1 3h0m9 1h0m16-1h0m5-2h0m4-1h0m3 4h0m1-1h0m6 0h0m1 0h0m9-4h0m7 3h0m28 3h0m17-4h0m19 3h0m9-4h0m14 5h0m67-3h0m1 1h0m1-4h0m2 4h0m2-2h0m2 1h0m3-1h0m2 4h0m17-3h0m2-1h0m1 1h0m8 0h0m0 0h0m5 0h0m3-2h0m-309 6h0m3 4h0m9 0h0m7 0h0m3 0h0m7-1h0m21-3h0m2 0h0m9 3h0m12-1h0m2 0h0m2 1h0m5-2h0m22 0h0m21 1h0m45-1h0m84 1h0m11 0h0m16-1h0m10 2h0m15-3h0m3 1h0m1-2h0m-312 11h0m16-4h0m3 4h0m17-4h0m17 3h0m0-3h0m5 4h0m1-3h0m1 2h0m4 0h0m1 0h0m0 0h0m3 0h0m7-4h0m3 5h0m4-1h0m1 0h0m4-2h0m1 0h0m1 0h0m1 0h0m16-2h0m3 1h0m4 3h0m0-3h0m4 2h0m11 2h0m11-2h0m131-2h0m14 4h0m4 0h0m10-5h0m8 2h0m0 0h0m1 1h0m1-3h0m-303 8h0m2-1h0m0-1h0m7 3h0m6 0h0m17 1h0m9-3h0m11-1h0m4 2h0m5 1h0m1 0h0m17 2h0m0 1h0m36-4h0m3 2h0m8-1h0m1-1h0m6-1h0m1 1h0m119 2h0m2-2h0m5 2h0m5 0h0m2-2h0m1 0h0m0-1h0m2 1h0m19 0h0m257 2h0m-544 5h0m1 3h0m0-2h0m4-3h0m11-1h0m2 0h0m7 4h0m0 0h0m2 2h0m8-3h0m9-2h0m9 2h0m8-3h0m5 5h0m8-4h0m3 0h0m3 0h0m7 2h0m2 3h0m0-1h0m7 0h0m1-4h0m2-1h0m1 3h0m3 2h0m10-1h0m1 1h0m5 1h0m129-1h0m6-5h0m3 3h0m5-3h0m15 0h0m231 0h0m11 6h0m6-5h0m1 1h0m8-1h0m2 2h0m-535 4h0m0 5h0m5-1h0m8-3h0m4-1h0m10 3h0m11-3h0m7 4h0m0-1h0m2-3h0m10 2h0m2 3h0m4-1h0m8-2h0m6-3h0m1 2h0m4 2h0m3 0h0m1 0h0m6-3h0m1 4h0m13 1h0m392-1h0m6-4h0m24 0h0m-516 9h0m4-3h0m0 1h0m4 0h0m8 4h0m7 0h0m23-1h0m12-1h0m2-1h0m3 2h0m12 0h0m9 1h0m3-1h0m4 0h0m2-1h0m3-2h0m7 0h0m363 2h0m3-4h0m10 5h0m15-3h0m4-1h0m2 3h0m-501 4h0m18 0h0m4-1h0m0 3h0m2 1h0m1-4h0m15 1h0m0 3h0m3-4h0m0 3h0m6-1h0m0 0h0m2 2h0m3-3h0m3 4h0m7-6h0m9 3h0m8-3h0m0 6h0m1 0h0m10-6h0m0 5h0m386-4h0m1 1h0m9 1h0m4 1h0m6-2h0m0 1h0m2-1h0m-489 4h0m13 3h0m5 1h0m5-4h0m5 1h0m3 2h0m8-1h0m0 2h0m10-1h0m2 0h0m1 2h0m3-1h0m9-2h0m1-2h0m0 5h0m421-3h0m-453 6h0m1 1h0m6-2h0m4-1h0m6 3h0m0 0h0m17 0h0m0-2h0m12 0h0m-61 6h0m8 3h0m23-1h0m2 0h0m1-2h0m3 2h0m430 53h0m3 3h0m1-3h0m-197 6h0m4 1h0m5 2h0m3-2h0m5 0h0m7 3h0m156 0h0m7-4h0m2 0h0m6-2h0m44 5h0m9-3h0m1 4h0m-265 5h0m5-1h0m8-1h0m11-1h0m3-1h0m3 2h0m0 1h0m7-2h0m5 1h0m149 0h0m0-2h0m9-1h0m5 0h0m2 3h0m50 2h0m8 0h0m-270 3h0m11 0h0m1 1h0m2-2h0m16 3h0m16-1h0m5 0h0m0-3h0m161 0h0m3 1h0m4 3h0m11-2h0m32-1h0m-265 9h0m0 0h0m1-3h0m1 1h0m3 3h0m2 0h0m5-3h0m0-2h0m9 1h0m17 2h0m0-1h0m4 1h0m17 3h0m150-4h0m12-1h0m1 1h0m5 3h0m3-4h0m5 3h0m4-3h0m5 5h0m8 0h0m1-3h0m0 2h0m12-1h0m4 2h0m1-1h0m-276 2h0m11 0h0m17 1h0m1 2h0m23 1h0m4-1h0m1 1h0m10 1h0m7-1h0m134-4h0m6 2h0m4 2h0m7 0h0m13-2h0m16-1h0m3 2h0m4 0h0m1-3h0m2 1h0m8 0h0m2 0h0m-280 9h0m4-1h0m10-2h0m4 3h0m20-2h0m0 0h0m10 1h0m11 1h0m4 0h0m0-3h0m1 3h0m8-2h0m2-2h0m3 3h0m3-4h0m14 4h0m117-4h0m2 0h0m2 2h0m0 0h0m9 4h0m2-2h0m3 0h0m0 2h0m6-5h0m4 4h0m5 1h0m3 0h0m13-1h0m4-3h0m7 2h0m0 2h0m7 0h0m1-1h0m1-2h0m4-1h0m-292 6h0m6-1h0m3 3h0m6-3h0m3 0h0m0 2h0m2-2h0m4 2h0m13 2h0m3 0h0m15-2h0m6 0h0m3-1h0m10 2h0m10 0h0m1-3h0m130 4h0m19-4h0m4 3h0m9-3h0m0-1h0m1 3h0m3 2h0m2-4h0m28 2h0m1-1h0m0 3h0m0-3h0m-285 9h0m7-2h0m4-1h0m9 0h0m25-1h0m17 3h0m5 1h0m2 0h0m3-2h0m7-1h0m6-1h0m134-1h0m23 5h0m41-4h0m8 1h0m8 3h0m-294 5h0m2-3h0m8 4h0m19-2h0m9 2h0m4-5h0m1 0h0m28 0h0m5 0h0m158 5h0m4 0h0m14-1h0m5-2h0m19-1h0m6 1h0m-250 9h0m4-4h0m1 3h0m7-3h0m4 2h0m1 1h0m4-1h0m3 0h0m3 2h0m192-5h0m3 2h0m16-1h0m4 2h0m4 1h0m0-3h0m13 2h0m2-1h0m-277 5h0m22 3h0m9 0h0m11-2h0m180-1h0m2 0h0m1 2h0m5-1h0m12 0h0m0 2h0m2 0h0m0-2h0m5-1h0m1-1h0m2 2h0m1 0h0m3 1h0m1-2h0m4 3h0m8-2h0m5 3h0m0 0h0m3-1h0m10 1h0m-273 3h0m13-1h0m3 4h0m1-3h0m3 0h0m3 1h0m174 1h0m3-3h0m3 4h0m5-3h0m4-1h0m0-1h0m1 4h0m2-3h0m9 4h0m8-2h0m5 1h0m6-3h0m10 2h0m0-3h0m4 5h0m7 0h0m11 1h0m-277 4h0m1-3h0m3 0h0m14 2h0m4-1h0m11 3h0m6-2h0m169-1h0m8 3h0m11 0h0m6-5h0m6 3h0m18 1h0m11-4h0m-264 7h0m2 0h0m6 0h0m196 3h0m6-4h0m9 3h0m1 0h0m14-1h0m7 4h0m9-2h0m17-2h0m7 3h0m-281 6h0m4-1h0m6 1h0m5 0h0m7 0h0m194-3h0m6 2h0m17-2h0m0 3h0m11-1h0m10-3h0m1 2h0m0-3h0m22 5h0m-287 4h0m6-1h0m1 2h0m8-1h0m215 3h0m1-2h0m11-4h0m3 1h0m0 2h0m12-1h0m1 1h0m7-2h0m4 0h0m9 2h0m2-1h0m6 2h0m-290 5h0m6 0h0m5-1h0m0-1h0m2 1h0m229 1h0m6 1h0m17-1h0m13-1h0m6-2h0" stroke="#7698CF"/>
<path d="M347 49h0m-5 6h0m12-1h0m20-1h0m-30 9h0m2 1h0m5-4h0m0 1h0m32 2h0m2 0h0m-51 4h0m9-1h0m1 1h0m3-1h0m1 2h0m4-1h0m6 0h0m2 0h0m8-3h0m14 6h0m-35 4h0m4-2h0m36 2h0m0-4h0m0 6h0m5 0h0m-4 6h0m6 3h0m3 1h0m-11 6h0m7 1h0m2-3h0m-19 5h0m4 1h0m-9 6h0m9 0h0m11-1h0m-23 8h0m0 2h0m3-3h0m3 4h0m8 0h0m8-4h0m-248 34h0m14-3h0m3-1h0m-28 7h0m6 3h0m4-4h0m2-1h0m9 3h0m-28 10h0m1 0h0m18 2h0m7 0h0m8-1h0m-24 6h0m8 3h0m8-1h0m15-4h0m4 1h0m-49 7h0m28 3h0m1-5h0m2 2h0m12-2h0m5 4h0m277-2h0m1 2h0m1 1h0m25-3h0m-343 6h0m5-2h0m18 2h0m2-3h0m0 3h0m13 1h0m-8 4h0m8-1h0m281 2h0m19-1h0m3 1h0m15 1h0m-325 2h0m309 4h0m-1 5h0m11 7h0m0-3h0m0 9h0m-10 7h0m3-1h0m30-1h0m0 2h0m10-1h0m-14 2h0m-34 12h0m1 0h0m2-3h0m15 18h0m5 0h0m1 1h0m96 0h0m-122 5h0m1 1h0m23-2h0m2 0h0m5-1h0m0 0h0m4 4h0m6-1h0m83-3h0m9 3h0m19-3h0m-124 10h0m0-1h0m6 2h0m3-3h0m74-2h0m12 2h0m1 2h0m25-1h0m9-1h0m5 0h0m-148 6h0m4 2h0m6-3h0m8-1h0m3 2h0m73 0h0m1 1h0m3 0h0m-100 3h0m15 1h0m5-1h0m72 4h0m8-3h0m1-2h0m38 2h0m9 0h0m4 4h0m5 0h0m-66 8h0m17 1h0m15 1h0m15-2h0m-51 10h0m2 2h0m0-1h0m3 4h0m-8 7h0m6-4h0m2 2h0m20 1h0m16 0h0m-324 6h0m25-1h0m8 2h0m254-4h0m22 3h0m6 0h0m27-4h0m-345 8h0m0 0h0m38 1h0m19 1h0m32-4h0m4 2h0m19 0h0m3 2h0m7-3h0m195 3h0m3-4h0m20 3h0m-349 8h0m2-4h0m20 2h0m2-2h0m10 3h0m4-5h0m5 6h0m12-5h0m9 4h0m1-4h0m16 5h0m28-4h0m7 0h0m7-1h0m0 5h0m7-1h0m1-2h0m188 1h0m11-1h0m-348 4h0m27 2h0m4-2h0m14 2h0m24-1h0m1 2h0m3 2h0m6-6h0m1 3h0m19 0h0m8 0h0m9-3h0m10 1h0m8-1h0m12 4h0m6-3h0m1 4h0m5-2h0m193 0h0m1-2h0m13 0h0m3 2h0m-373 5h0m1 0h0m1 1h0m6 0h0m6-2h0m2 2h0m27-3h0m1 0h0m5 5h0m4-5h0m1 2h0m22 2h0m1 0h0m22 0h0m6 1h0m4-3h0m0-1h0m4 2h0m2-1h0m2 2h0m2-1h0m13 3h0m3-4h0m-116 9h0m21-1h0m1 0h0m4-4h0m6 1h0m3 2h0m9 0h0m33 0h0m24 0h0m16 0h0m2-3h0m15 0h0m8 2h0m-165 5h0m4 1h0m7 1h0m4 1h0m15-3h0m6 2h0m13 2h0m8-4h0m1 0h0m3 1h0m9 4h0m3-3h0m5 0h0m5-1h0m24-2h0m2 2h0m24-1h0m3-1h0m13 2h0m15 3h0m4-1h0m198-3h0m-357 6h0m2-1h0m1 4h0m20 2h0m5-3h0m1-3h0m33 5h0m4-1h0m3-1h0m18-2h0m5 3h0m23-2h0m24 4h0m16-5h0m-168 6h0m6 4h0m4-2h0m1-2h0m3 0h0m4 1h0m15 4h0m15-3h0m11 1h0m15 1h0m3 0h0m48 1h0m1-3h0m3-1h0m11-1h0m18 0h0m2 1h0m9 3h0m207-1h0m-367 6h0m11-4h0m42 5h0m13-2h0m33-3h0m14 5h0m20-4h0m1 3h0m8-1h0m3-3h0m6 3h0m0 0h0m9 0h0m211-3h0m0 3h0m-389 7h0m50 0h0m14 2h0m1-6h0m8 0h0m2 3h0m40 1h0m39 2h0m8-3h0m11-1h0m219 0h0m70 0h0m13-1h0m12 5h0m7-1h0m12-2h0m12-2h0m-601 8h0m104 1h0m23 1h0m0 0h0m36 0h0m51-4h0m18 4h0m8 1h0m9-2h0m8 1h0m2-1h0m2-2h0m204 2h0m97-3h0m8 4h0m7-3h0m-583 8h0m2-1h0m13 0h0m72 0h0m2-3h0m8 2h0m56-1h0m11 2h0m7 2h0m61-1h0m13-3h0m4 4h0m13 1h0m302-1h0m1-1h0m-564 3h0m2 2h0m9 2h0m2-5h0m55 6h0m4 0h0m6-2h0m68-1h0m2 0h0m22 1h0m41-2h0m36 3h0m5-1h0m1 0h0m4-3h0m4-1h0m1 1h0m0 1h0m6-1h0m213 4h0m0-2h0m1 2h0m-476 5h0m59-3h0m4 3h0m184-1h0m-250 3h0m18 6h0m14-2h0m19-4h0m17 1h0m2-1h0m8 2h0m19-1h0m2 2h0m26-1h0m3-2h0m91 1h0m3 0h0m8 2h0m0 1h0m3 0h0m6 0h0m2-1h0m9 2h0m12-2h0m7-1h0m2 3h0m2-4h0m0-1h0m189 4h0m9-3h0m-488 10h0m10-5h0m2 4h0m1 2h0m3-6h0m0 4h0m16 0h0m6 2h0m4-4h0m38 0h0m15-1h0m13 3h0m10-2h0m33-1h0m11 1h0m3 1h0m1-1h0m1 1h0m89 3h0m5-4h0m24-1h0m1 3h0m172 2h0m7 0h0m7-1h0m3-5h0m-478 8h0m1 0h0m11 2h0m4-1h0m23 1h0m12 1h0m11 1h0m33-6h0m17 1h0m17 5h0m35-3h0m5 0h0m1-1h0m2 3h0m2-1h0m5-2h0m69-2h0m2 0h0m2 2h0m0-2h0m5 2h0m1 3h0m23 1h0m1-1h0m7-1h0m0 1h0m172-1h0m-463 3h0m38-1h0m7 1h0m2 2h0m14 0h0m1 1h0m0-4h0m20 3h0m29 0h0m4 1h0m13 1h0m28-2h0m0 3h0m14-4h0m5 1h0m0 0h0m69 0h0m28 2h0m7-4h0m2 0h0m0 1h0m2-2h0m4 3h0m16-1h0m1 0h0m-267 10h0m3-2h0m3 1h0m3-3h0m10 0h0m53 3h0m9 0h0m3 0h0m1-2h0m1-2h0m15 3h0m6-2h0m25 4h0m11-5h0m1 2h0m72 2h0m2-3h0m16 0h0m4-2h0m18 4h0m1-1h0m4 1h0m3-4h0m-310 8h0m20 0h0m3 0h0m1 3h0m8 0h0m6 1h0m5-6h0m7 1h0m13 0h0m3 2h0m1-1h0m0 1h0m7 1h0m13 0h0m31-3h0m11 0h0m2 3h0m15 1h0m19-1h0m4 1h0m11-2h0m77-1h0m9 1h0m1 0h0m1-1h0m4 0h0m5 1h0m4-2h0m6 4h0m3 0h0m1 1h0m6 0h0m1-3h0m5-2h0m5 0h0m-310 7h0m1 1h0m1 0h0m26-2h0m14 2h0m6 2h0m15-5h0m12 5h0m15-1h0m4 1h0m28-5h0m5 1h0m13 4h0m1-1h0m18-1h0m13-1h0m5 4h0m19-5h0m73 2h0m6 1h0m5-2h0m1 1h0m1 0h0m6 3h0m-280 5h0m17-5h0m17 1h0m30 4h0m7-3h0m10-2h0m19 2h0m3 3h0m14-3h0m124-1h0m4 2h0m4 2h0m8-5h0m13 5h0m16-1h0m1-2h0m9-1h0m7 0h0m-315 8h0m4 3h0m1-4h0m1 1h0m6 0h0m12-2h0m7 3h0m37 0h0m22 1h0m11-3h0m2-2h0m7 1h0m11 2h0m1-1h0m1-1h0m1 0h0m2 2h0m131-1h0m6 3h0m7-2h0m16 1h0m-268 2h0m7 6h0m12-4h0m19 0h0m7-2h0m1 5h0m18-1h0m16-2h0m8 1h0m5 0h0m5-2h0m6 3h0m12-4h0m2 0h0m112 3h0m3 0h0m6 0h0m4 0h0m4-1h0m21-2h0m-263 6h0m38 3h0m4 2h0m1 0h0m8-3h0m19-1h0m2 4h0m17-4h0m2 2h0m139-2h0m13 4h0m2-4h0m9 1h0m238 0h0m6 1h0m9 0h0m8 0h0m8-1h0m-525 7h0m25-2h0m9 3h0m3-3h0m7 2h0m6-1h0m7-2h0m6 2h0m6 3h0m3 0h0m7 1h0m0-1h0m4-5h0m17 4h0m1 1h0m3-3h0m377 2h0m10 1h0m-497 6h0m4-5h0m3 5h0m7 0h0m12 0h0m6-3h0m5 3h0m0-4h0m4 5h0m8-1h0m21-1h0m1-3h0m3 5h0m0-2h0m0-1h0m1 2h0m12 1h0m1-2h0m379-3h0m7 2h0m27 0h0m2 0h0m-491 9h0m2-5h0m4 2h0m30-2h0m8 3h0m5-1h0m10 2h0m1 0h0m11-5h0m12 1h0m3 3h0m391-3h0m2 2h0m2-2h0m8 5h0m-494 4h0m21-1h0m3-1h0m14-1h0m3 2h0m5 3h0m10-1h0m4-4h0m2 0h0m0 0h0m6 2h0m23-3h0m391 0h0m2 0h0m-467 6h0m1 3h0m4 3h0m12-6h0m43 5h0m-44 3h0m9 0h0m1 3h0m8-4h0m443 51h0m0 7h0m41-1h0m10 2h0m-229 4h0m13-1h0m157-2h0m5 3h0m4-3h0m-202 9h0m1-2h0m12 2h0m1 0h0m4-4h0m2 5h0m1-1h0m16 2h0m140-1h0m9-1h0m14-2h0m47-1h0m-253 10h0m22-2h0m169-1h0m5 0h0m17 3h0m4-2h0m5 1h0m32-4h0m2 3h0m-266 5h0m2 0h0m14 0h0m22-1h0m3 0h0m8 4h0m175-1h0m2 1h0m26-3h0m10 2h0m4 0h0m-266 4h0m33-1h0m5 1h0m4 3h0m1-2h0m7 3h0m5-3h0m5-2h0m5 3h0m142-3h0m15 2h0m2-2h0m8-1h0m2 2h0m-254 9h0m14-4h0m3 3h0m19-1h0m2 0h0m1 2h0m0-4h0m3-1h0m0 2h0m16 0h0m8-1h0m21 4h0m3-1h0m8-1h0m123 2h0m19-4h0m22 5h0m11-4h0m1-2h0m5 0h0m7 2h0m-282 9h0m13 0h0m16-5h0m3 5h0m17-4h0m12 4h0m1-3h0m12 1h0m8-2h0m141 2h0m9 0h0m13 0h0m4 1h0m0 1h0m19-4h0m5 3h0m12-3h0m6 2h0m-271 5h0m6 3h0m6 0h0m3-5h0m1 4h0m3 1h0m3-1h0m20 0h0m13-2h0m145 3h0m7 0h0m14 1h0m8 0h0m1-3h0m3 1h0m1-2h0m18-1h0m13 0h0m7 1h0m0 3h0m2 1h0m-302 0h0m0 3h0m5 2h0m8 0h0m14 0h0m6-4h0m8 4h0m1-1h0m2-3h0m10 4h0m14-4h0m167 0h0m0-1h0m17 6h0m17-1h0m14 0h0m8 1h0m-249 1h0m3 1h0m0 0h0m5 3h0m2-3h0m16 3h0m177-4h0m6 3h0m29-1h0m8-3h0m17 5h0m-281 5h0m5-1h0m0 1h0m5-4h0m3 4h0m204 1h0m2-3h0m9-1h0m7 2h0m10-1h0m2 0h0m3-1h0m20 3h0m-239 6h0m2-1h0m9 3h0m172-1h0m9 0h0m10 0h0m2-4h0m9 3h0m30 0h0m3-1h0m2-1h0m-266 5h0m15 4h0m13 0h0m6 1h0m173-3h0m1 1h0m3-2h0m15 2h0m23 1h0m10-5h0m4 1h0m-245 5h0m187 4h0m2-1h0m4 0h0m3-2h0m6 2h0m1 0h0m1 2h0m2-1h0m4 1h0m27-2h0m5 1h0m12-3h0m2 0h0m-287 8h0m6-2h0m15 3h0m9-1h0m185-1h0m2 0h0m2 1h0m19-1h0m17 0h0m0 0h0m1 0h0m5 1h0m18-2h0m0 1h0m1-1h0m-284 6h0m4 2h0m3-2h0m5 0h0m3 4h0m6-3h0m209-1h0m0 3h0m7-2h0m7 1h0m19-1h0m20 2h0m-275 4h0m271-1h0m4 0h0" stroke="#60D2C6"/>
<path d="M342 51h0m2 0h0m7-1h0m-6 1h0m1 4h0m25-4h0m20 5h0m-56 7h0m8 0h0m8-1h0m7-2h0m11 2h0m1-3h0m3 3h0m5-1h0m5-1h0m8 0h0m2-1h0m-60 7h0m0 1h0m2-1h0m2 2h0m4-5h0m38 2h0m2-1h0m2 3h0m14 1h0m-58 5h0m5-4h0m5 4h0m1-1h0m2 0h0m5-3h0m28 3h0m1 0h0m2-1h0m-5 6h0m4-1h0m2 4h0m1-4h0m-7 11h0m6-1h0m-15 3h0m2-2h0m2 3h0m1 2h0m1-1h0m-7 4h0m7 4h0m8-2h0m-15 4h0m1 1h0m-4 4h0m5 5h0m3-2h0m-19 7h0m0 1h0m5-5h0m2 3h0m17-4h0m-28 10h0m5-1h0m5-3h0m-208 18h0m-19 1h0m0 1h0m1 4h0m12-2h0m7-2h0m-10 7h0m14-2h0m-36 10h0m10-4h0m10 0h0m1 1h0m5 1h0m9 0h0m4 0h0m-44 8h0m2 0h0m7-3h0m3 3h0m2 0h0m1-2h0m8 0h0m0-2h0m1 0h0m6 0h0m5 4h0m4-1h0m2-4h0m3 4h0m-32 5h0m12 0h0m20-1h0m278 3h0m1-4h0m4 5h0m1-1h0m7 0h0m0 1h0m-338 0h0m5 4h0m10 0h0m8 2h0m5-5h0m12-1h0m1 3h0m282-2h0m6-1h0m5 5h0m12-2h0m18-1h0m-350 7h0m23-3h0m5 2h0m1-1h0m-22 8h0m9 2h0m5 0h0m6 0h0m1 0h0m3-5h0m-24 8h0m7 0h0m330 4h0m0 10h0m-1 9h0m1-1h0m33 3h0m2 1h0m-41 8h0m0-2h0m1-3h0m-4 6h0m1 1h0m-3 4h0m2 6h0m3 5h0m4-3h0m108 3h0m5-5h0m0 6h0m6-6h0m-111 10h0m96-3h0m6 0h0m2 0h0m1 3h0m22-2h0m-129 9h0m10 1h0m12-3h0m3 1h0m81 2h0m5-5h0m26 4h0m1-1h0m-144 7h0m8-1h0m7 1h0m7-3h0m77 3h0m0-2h0m3-2h0m9 4h0m25 0h0m7-5h0m4 4h0m-130 5h0m6 1h0m3 1h0m70-5h0m1 2h0m3 2h0m13 2h0m1-6h0m23 1h0m6 4h0m15 0h0m-145 4h0m2 3h0m2 0h0m96-6h0m37 5h0m4-1h0m1 1h0m3 1h0m2-5h0m0 1h0m0 0h0m1 3h0m-144 2h0m130 5h0m2-4h0m2-2h0m1 6h0m1-4h0m1 1h0m0-1h0m2 0h0m1 1h0m0 0h0m2-3h0m0 4h0m-70 6h0m52-2h0m-34 5h0m6 2h0m-24 6h0m17 2h0m8-3h0m-24 4h0m1 5h0m23 0h0m2-4h0m2 0h0m1 3h0m-335 3h0m4 2h0m13 2h0m103 0h0m9 0h0m182-4h0m21 1h0m0 3h0m24-4h0m2 4h0m-370 4h0m21-2h0m3 2h0m22 2h0m6-5h0m15 4h0m2 1h0m3 0h0m9-1h0m33 1h0m1-4h0m2 4h0m0-3h0m3-1h0m5-1h0m2 5h0m12-1h0m4-2h0m204 3h0m1-4h0m1 2h0m11-1h0m8 2h0m-366 2h0m12 1h0m2 0h0m2 2h0m1-2h0m0 1h0m2 3h0m6 0h0m7-2h0m2-2h0m4 3h0m17-1h0m19-2h0m6 2h0m1-1h0m20 1h0m6 0h0m12-3h0m1 0h0m1 2h0m6-1h0m3 4h0m12-3h0m208 1h0m1-1h0m-353 5h0m4 0h0m7 3h0m3-4h0m6 2h0m1 3h0m2-1h0m6 1h0m10-2h0m4 2h0m5-3h0m6 1h0m15 3h0m6-3h0m6 2h0m3-1h0m21-1h0m0-1h0m0 2h0m2-2h0m17-1h0m0 1h0m1-1h0m5 3h0m1 1h0m0-2h0m1-3h0m4 1h0m9 5h0m2-5h0m6 0h0m0 5h0m3-4h0m1 1h0m197-1h0m-355 10h0m7 0h0m13-3h0m2 2h0m16-3h0m1 4h0m4-1h0m1-4h0m5 1h0m12-1h0m5 1h0m1-1h0m0 1h0m10-1h0m1-1h0m1 4h0m10 1h0m13-5h0m4 3h0m5 0h0m1 1h0m13-3h0m2 0h0m7 3h0m15-1h0m5 2h0m3-3h0m6 0h0m2 4h0m192-5h0m27 1h0m-383 9h0m9-2h0m3-1h0m2-1h0m6 2h0m4 1h0m12 1h0m3-5h0m4 1h0m2 0h0m1 4h0m17-4h0m4 4h0m3-2h0m17 0h0m6 1h0m1-1h0m14 1h0m18 1h0m6-1h0m3-2h0m1 1h0m1-2h0m0 4h0m0 0h0m1-2h0m1 0h0m0 0h0m2 2h0m3-1h0m12-3h0m3 3h0m-141 7h0m21-1h0m1-2h0m8-2h0m2 2h0m5 1h0m7-2h0m1 3h0m0 2h0m29-2h0m3 2h0m7-5h0m0 1h0m8-1h0m0-1h0m24 5h0m3-4h0m4 3h0m24 2h0m193-5h0m-362 6h0m6 1h0m0-1h0m13-1h0m2 4h0m12 0h0m5 1h0m4-2h0m5 2h0m1-4h0m8 5h0m3 0h0m18-1h0m33-5h0m2 2h0m3 1h0m3-2h0m11 2h0m8-1h0m13 1h0m3 2h0m9-2h0m222-1h0m-389 7h0m1-3h0m1 3h0m20 0h0m3-2h0m15 2h0m9-3h0m8 1h0m8 2h0m5-3h0m2 6h0m53-2h0m6 0h0m14 2h0m2-5h0m0-1h0m6 4h0m223 1h0m112-4h0m-499 11h0m3-1h0m2-1h0m20 0h0m14-2h0m23 0h0m2 2h0m7-2h0m1 1h0m2-2h0m46 1h0m18 1h0m16-1h0m2-1h0m0 0h0m4 4h0m2-5h0m6 3h0m4-2h0m218 4h0m1-3h0m126 3h0m2-2h0m6 2h0m-610 6h0m84 1h0m4-2h0m1 2h0m2-5h0m1 1h0m1 3h0m2 0h0m7-2h0m12-2h0m16 4h0m18-4h0m6-1h0m13 3h0m40-2h0m5 3h0m27-1h0m1 2h0m5-2h0m14-3h0m1 1h0m1 5h0m296 0h0m6-4h0m7 0h0m13 3h0m17-5h0m0 3h0m9-3h0m-602 12h0m73 0h0m5-2h0m2 1h0m12-2h0m12 2h0m11-4h0m80 5h0m1-5h0m20 3h0m1-1h0m13 2h0m0-4h0m6 5h0m5-4h0m11 1h0m7 1h0m212-3h0m1 1h0m0-1h0m80 2h0m4 2h0m2 1h0m3-4h0m6 1h0m-572 4h0m6 5h0m0-2h0m5-1h0m66-1h0m12 2h0m17 0h0m8 0h0m2-4h0m15 0h0m5 4h0m13-3h0m66 1h0m9-2h0m9 3h0m10-1h0m11-1h0m6 4h0m218-1h0m1-4h0m85 3h0m-569 5h0m4-2h0m14 2h0m52 4h0m10-4h0m20 3h0m2 1h0m8 0h0m8-5h0m26 4h0m6 1h0m9-2h0m69-4h0m16 4h0m5 0h0m16 0h0m-269 8h0m2-5h0m10 4h0m2-2h0m6 2h0m4-1h0m4-1h0m50-3h0m7 3h0m1 2h0m18-3h0m5 2h0m32-3h0m23 5h0m53 0h0m5-3h0m21 1h0m2-2h0m0-1h0m4 4h0m5-4h0m6 1h0m221-2h0m-478 9h0m6-1h0m1 4h0m3-4h0m9-1h0m12 5h0m27-3h0m2 2h0m2-5h0m5 3h0m3 2h0m15 1h0m14-1h0m12-3h0m0 3h0m1-3h0m21 0h0m17 2h0m5-4h0m0 1h0m0 3h0m67 1h0m9 0h0m3-3h0m8 0h0m2 3h0m7-2h0m0 2h0m8-5h0m5 2h0m2 1h0m4 0h0m0-2h0m2 4h0m1-5h0m1 2h0m6-1h0m4 5h0m190-4h0m-482 5h0m15 3h0m19-2h0m4 1h0m2-2h0m6-1h0m9 2h0m21-1h0m16 1h0m48 0h0m1 3h0m7 1h0m6-5h0m4 3h0m12-2h0m2-1h0m48 2h0m27 3h0m1-4h0m3 1h0m1-1h0m7 2h0m2 0h0m5-2h0m3 0h0m2 0h0m1-1h0m12 5h0m5-1h0m166 0h0m6-4h0m0 4h0m14-5h0m1 0h0m0 0h0m3 2h0m1-1h0m-473 8h0m5 0h0m0 2h0m24-4h0m3 5h0m1-5h0m2 1h0m65-1h0m4 2h0m3 2h0m1 0h0m4-4h0m0 2h0m6-1h0m5 4h0m13-2h0m6-2h0m15 2h0m10 1h0m4 0h0m47-2h0m13-2h0m13 3h0m2-2h0m8 3h0m1-4h0m6 5h0m4 0h0m2-5h0m1 0h0m1-1h0m2 4h0m2 0h0m4-2h0m1-1h0m2 4h0m8-2h0m156-2h0m0-1h0m1 0h0m-462 10h0m2-4h0m1 5h0m2-2h0m5 0h0m1-2h0m1 3h0m10-1h0m8-1h0m1-2h0m21 4h0m1 0h0m5 1h0m42-3h0m8 0h0m1 1h0m10 0h0m21-2h0m13 5h0m1-5h0m7 1h0m2 3h0m0-2h0m2 1h0m9 1h0m12-2h0m4-1h0m51 0h0m3-1h0m0 0h0m4 5h0m8-5h0m1 1h0m12 0h0m12 2h0m8-1h0m0-1h0m19 0h0m-306 5h0m26 5h0m10-6h0m10 3h0m15-1h0m2-1h0m19 4h0m5 0h0m5-1h0m11-2h0m1 0h0m3 3h0m4-3h0m9 3h0m9-1h0m4 1h0m20-2h0m8 3h0m7-5h0m5 0h0m10 0h0m5 3h0m70 1h0m4-2h0m14 2h0m3-1h0m6-2h0m2-1h0m0 3h0m4 1h0m0-3h0m1 2h0m-299 3h0m1 3h0m1-3h0m22 3h0m1-1h0m8 0h0m4 1h0m5-1h0m11-2h0m13 4h0m13-4h0m35 1h0m3-1h0m0 0h0m2 2h0m2-2h0m11 2h0m4 2h0m10-4h0m7 2h0m17-1h0m2 2h0m7-2h0m73 1h0m2-1h0m9 3h0m0-3h0m0 3h0m4 0h0m1 0h0m12 0h0m1-5h0m6 3h0m4-3h0m14 1h0m-308 10h0m22 0h0m4-3h0m2 2h0m2 1h0m12-5h0m1 2h0m3 4h0m4-1h0m7 0h0m11-1h0m15 2h0m8-4h0m2-1h0m1 3h0m15 1h0m8-2h0m1-2h0m32 3h0m11-1h0m2-1h0m9-1h0m2 0h0m3 2h0m6 0h0m10-2h0m59 0h0m2 5h0m9-4h0m12 3h0m8-3h0m2-1h0m5-1h0m3 3h0m11 2h0m-304 2h0m17 1h0m10 1h0m1-2h0m0 3h0m4 2h0m6-1h0m2-1h0m5-1h0m3 1h0m6-3h0m21 2h0m4 2h0m6-4h0m10 4h0m4 1h0m1-1h0m0-1h0m13 0h0m1-4h0m4 0h0m49 2h0m8-1h0m5 2h0m64-1h0m21 1h0m11 1h0m7-2h0m17 3h0m8-5h0m-312 11h0m3-4h0m6-1h0m2 5h0m1-4h0m4 5h0m9-3h0m11 0h0m2-3h0m7 2h0m4 2h0m8-1h0m13 0h0m2-1h0m13-1h0m1 0h0m22 1h0m16 2h0m1-1h0m10 0h0m114-1h0m5 2h0m12 0h0m12 2h0m11-1h0m11 0h0m-300 3h0m8 4h0m7-3h0m6 1h0m2-4h0m15 5h0m6-2h0m8 0h0m13 1h0m16-2h0m12 1h0m0-1h0m1-1h0m38 4h0m1-4h0m5-1h0m122 5h0m0-1h0m3-1h0m11 3h0m1-1h0m2-3h0m14 1h0m-282 9h0m0-4h0m1-2h0m20 5h0m7-4h0m11-1h0m11 2h0m11 2h0m1-3h0m12 3h0m3-4h0m3 2h0m1 2h0m2-3h0m16 4h0m140 1h0m1-3h0m6-2h0m0 4h0m16-3h0m4 0h0m0-2h0m2 2h0m0-1h0m222 2h0m15-1h0m15-1h0m4 1h0m3 2h0m0 0h0m9-2h0m1-1h0m-541 9h0m8 0h0m2-3h0m7 1h0m13 1h0m1 1h0m13-4h0m1 1h0m7 2h0m28-1h0m2 0h0m1-1h0m1 2h0m2 1h0m4 2h0m5-3h0m16 2h0m8-3h0m136 1h0m3-3h0m1 1h0m8-1h0m226 4h0m2 2h0m4 0h0m4-2h0m4-1h0m3 2h0m24-5h0m-528 10h0m5-4h0m2 5h0m2 0h0m6-5h0m0 1h0m10 3h0m2 0h0m11-3h0m11 4h0m1-3h0m6 3h0m1-4h0m1 2h0m1-3h0m2 4h0m0-3h0m4 2h0m4-2h0m2 4h0m3-2h0m1-2h0m11 3h0m5 1h0m2-1h0m5-3h0m1 2h0m379 3h0m2-1h0m2-3h0m3-1h0m6-1h0m1 3h0m2-2h0m12 3h0m-493 3h0m2 5h0m3 0h0m6-1h0m7-3h0m2 1h0m1 1h0m10 2h0m3-1h0m13-4h0m2-1h0m10 1h0m16 3h0m3-4h0m2 1h0m392 0h0m22 0h0m-501 6h0m8 0h0m3 2h0m1-1h0m20 0h0m2-2h0m10 3h0m5-3h0m19 5h0m3-2h0m4 2h0m3 0h0m1 1h0m3-4h0m3 1h0m8-2h0m2 2h0m0-1h0m3-1h0m-93 6h0m12 2h0m4-3h0m11 4h0m17 0h0m2-1h0m9 0h0m3-2h0m7 5h0m4-6h0m4 2h0m-56 6h0m9 3h0m5-2h0m4 0h0m2-1h0m5 2h0m19 1h0m-35 1h0m457 47h0m4-2h0m-188 9h0m181-1h0m4-3h0m60 4h0m-255 5h0m11-2h0m4 2h0m7-4h0m2 1h0m1 2h0m3-2h0m1-2h0m2 5h0m154-4h0m12 4h0m44-3h0m2 2h0m7-4h0m-252 8h0m1 0h0m0-1h0m1 0h0m3 5h0m8-5h0m9-1h0m1 2h0m2 0h0m11 0h0m1 0h0m5-2h0m138 6h0m1 0h0m7-3h0m4-2h0m4-1h0m49 4h0m0-4h0m5 1h0m3 0h0m1-1h0m3 4h0m2-3h0m-267 9h0m11-3h0m3 1h0m6-1h0m0 4h0m14-1h0m0-4h0m7 3h0m3-2h0m7 2h0m8 3h0m132-2h0m6-3h0m3 5h0m1 0h0m5-5h0m7 2h0m3 3h0m0-3h0m6 2h0m27-1h0m3 0h0m1-2h0m3 1h0m4 2h0m3-2h0m-272 4h0m13 0h0m1 4h0m3-2h0m3 2h0m0-1h0m10-2h0m2-1h0m3 1h0m5 1h0m2-1h0m5 4h0m1-5h0m150 2h0m15 1h0m2 2h0m1-4h0m5 0h0m3 2h0m8 1h0m11 0h0m12-3h0m2-1h0m6 3h0m2 1h0m8 1h0m5 0h0m-289 5h0m7-5h0m13 1h0m0 0h0m5 1h0m22-1h0m3 0h0m8-1h0m18 6h0m11-3h0m141 1h0m7-3h0m13 4h0m10-1h0m11-1h0m3 0h0m3 3h0m2-1h0m2-2h0m3 1h0m-280 7h0m9-1h0m2-3h0m10 4h0m5-5h0m1 4h0m13 0h0m4 0h0m1-2h0m9 3h0m15-4h0m11 0h0m128-1h0m1 1h0m9-1h0m6 4h0m4-1h0m36-2h0m4 1h0m2-1h0m17 5h0m-280 0h0m2 6h0m9-5h0m7 3h0m4 1h0m7-3h0m6 3h0m8-5h0m0 2h0m1 1h0m3 0h0m5-1h0m7-1h0m4-1h0m2 4h0m148 1h0m5-1h0m4-3h0m0 3h0m3 1h0m12-2h0m5 0h0m1 3h0m30 0h0m2 0h0m2-1h0m1-5h0m-291 8h0m26-1h0m4 2h0m9-2h0m8 2h0m3 2h0m1-4h0m1 2h0m1-2h0m4 2h0m9 1h0m5-2h0m149-1h0m6 1h0m13 1h0m2-2h0m12 2h0m19-1h0m13-1h0m11 5h0m0-6h0m-298 8h0m3 1h0m14 2h0m1-4h0m12 3h0m19-2h0m2 1h0m12 0h0m1 2h0m13-3h0m1 3h0m153-3h0m1-1h0m16 5h0m6-6h0m4 1h0m0 1h0m0 1h0m19 1h0m1 1h0m1-3h0m5 1h0m1-2h0m6 2h0m2-1h0m7-2h0m-288 8h0m11 2h0m1-1h0m6-2h0m1 2h0m4-3h0m2 4h0m12-1h0m9-2h0m1 3h0m192-1h0m5 2h0m6 0h0m11-2h0m8 3h0m3-3h0m1-2h0m1 5h0m0-5h0m6 4h0m9-1h0m-276 4h0m5 2h0m3-3h0m0 3h0m21 1h0m5-3h0m198 2h0m3-1h0m7-1h0m4 4h0m3-4h0m7-2h0m1 1h0m0 1h0m2 3h0m11-4h0m0 2h0m1 2h0m4-1h0m2 0h0m1 1h0m-266 6h0m2-1h0m11 1h0m2-3h0m196-1h0m5 0h0m0 2h0m7-3h0m2 2h0m4 3h0m3-3h0m0 1h0m1-2h0m1 1h0m0 0h0m8-1h0m0 4h0m0-1h0m15 0h0m6-4h0m6 3h0m1-1h0m-273 8h0m7-2h0m2 3h0m5-3h0m7-2h0m189 2h0m11 2h0m11 0h0m2 1h0m1 0h0m22-1h0m2 1h0m8-4h0m1 4h0m2-3h0m2 2h0m1-2h0m-285 8h0m2 1h0m14 0h0m6-2h0m2 2h0m3-1h0m2-1h0m187-1h0m3 2h0m1 0h0m3-3h0m6 2h0m13-1h0m5 1h0m1 1h0m19-2h0m-265 8h0m3-3h0m15 0h0m2 1h0m9 0h0m191 1h0m0 2h0m0 1h0m3-3h0m4 3h0m5-2h0m1-2h0m27 3h0m9 0h0m15-4h0m-286 8h0m231-1h0m5 2h0m7-1h0m1 0h0m5-3h0m12 6h0m0-6h0m12 0h0m0 1h0m1 4h0m4-1h0m2 1h0m-45 2h0m1 4h0m5-5h0m3 3h0m8 1h0m31-2h0" stroke="#C772B7"/>
<path d="M348 53h0m15 0h0m-28 9h0m8-4h0m1 0h0m4 2h0m13 1h0m14 0h0m1-4h0m8 1h0m6 3h0m-57 7h0m2 0h0m1-3h0m29-1h0m3 1h0m-32 7h0m2 1h0m1-3h0m0-1h0m1 1h0m4 2h0m2-1h0m39 7h0m7 2h0m-15 4h0m13-2h0m-3 8h0m2 3h0m1-1h0m-18 2h0m7 3h0m-9 2h0m1 5h0m1 1h0m3 0h0m11-3h0m1-3h0m-3 7h0m-24 6h0m1 4h0m5-4h0m3 4h0m0 0h0m-226 17h0m-4 2h0m4 1h0m14 4h0m4-1h0m1 1h0m-29 2h0m4 0h0m2 2h0m4 1h0m0-2h0m7 4h0m-24 2h0m10 0h0m4 1h0m0-1h0m1-1h0m2 2h0m7-1h0m3 2h0m-32 2h0m2 6h0m5-1h0m10-2h0m10 2h0m2 0h0m12 1h0m-43 5h0m2-4h0m6 4h0m14 0h0m2-3h0m8 0h0m11 3h0m8-4h0m278 2h0m4 0h0m-331 7h0m2-3h0m1 3h0m3-2h0m8 1h0m8-1h0m2 3h0m7-1h0m19 2h0m269-6h0m28 3h0m5-2h0m2 0h0m3 4h0m0-4h0m-335 10h0m2-1h0m0-2h0m6 0h0m2 0h0m3 2h0m15 1h0m299 1h0m-322 5h0m14-4h0m1 0h0m309 2h0m-332 4h0m312 2h0m23 1h0m3 8h0m0 0h0m-2 1h0m4 1h0m-3 10h0m25 4h0m5 0h0m0 2h0m0 0h0m2-1h0m0 0h0m1 1h0m-38 0h0m37 2h0m-46 10h0m3 4h0m2 2h0m4-2h0m24-1h0m91 5h0m-92 9h0m81 0h0m2-3h0m24-1h0m-121 11h0m4-1h0m9 0h0m6-3h0m71 3h0m15 1h0m-110 5h0m23-4h0m75 2h0m1 1h0m2-3h0m2 0h0m2 1h0m4-2h0m1 4h0m19 0h0m14-4h0m7 6h0m-145 0h0m9 3h0m1 1h0m8 0h0m70 1h0m0-1h0m1 2h0m3-6h0m13 5h0m3-1h0m22-3h0m1 2h0m-135 8h0m19-5h0m71 3h0m0 2h0m3 0h0m48-2h0m6 2h0m5-2h0m4-1h0m0 2h0m-67 8h0m32-2h0m19 0h0m14-2h0m1 3h0m1-2h0m-67 5h0m-3 5h0m0 0h0m1 5h0m26-4h0m-26 6h0m21 1h0m-22 4h0m3 3h0m18-2h0m2 0h0m1 1h0m-338 8h0m16 0h0m2 0h0m19-1h0m4 0h0m14 1h0m259-4h0m1-1h0m3 2h0m17-2h0m6 5h0m3-4h0m1 5h0m9-2h0m12 0h0m-362 6h0m6-3h0m34 2h0m4 0h0m1-2h0m1 1h0m19 4h0m3 0h0m4-2h0m6 0h0m5 2h0m19-1h0m11-5h0m9 4h0m8 0h0m6-3h0m200 1h0m1 0h0m4 0h0m20 2h0m-364 3h0m3 4h0m0-3h0m18 1h0m2-1h0m3 1h0m1 3h0m16-4h0m2-1h0m0 4h0m1 1h0m11-1h0m3-3h0m2 1h0m3 2h0m1-5h0m1 2h0m4 3h0m6-2h0m10 3h0m1-4h0m31 1h0m3 0h0m9-2h0m3 5h0m3-5h0m1 0h0m11-1h0m5 1h0m190 4h0m2 0h0m2-2h0m0 1h0m2-1h0m4 1h0m14-2h0m-374 8h0m1-1h0m16 1h0m3-3h0m1 0h0m16 2h0m6-1h0m11 1h0m4 3h0m1-4h0m1 1h0m7 1h0m40 2h0m1-3h0m7-2h0m0 0h0m0 2h0m9 1h0m0 2h0m5 0h0m1-6h0m1 0h0m5 0h0m1 5h0m2-1h0m2-2h0m15 3h0m195-2h0m1-1h0m1-2h0m3 5h0m0 1h0m0-6h0m-357 11h0m1-4h0m10 4h0m5 1h0m3-1h0m4-2h0m7 3h0m2-1h0m4-3h0m1 3h0m6-2h0m1 0h0m17-2h0m2 4h0m3-1h0m8-1h0m0 1h0m4 1h0m6-4h0m8 5h0m4-5h0m6 1h0m10 0h0m4 3h0m9-2h0m9-1h0m10 0h0m13 4h0m7-1h0m190 0h0m3 0h0m1 0h0m-361 5h0m2 2h0m22-5h0m0 1h0m3 1h0m20 3h0m3 0h0m0-4h0m3-2h0m2 5h0m8 0h0m3-5h0m1 1h0m4 0h0m7 2h0m19-2h0m9 3h0m1 2h0m10-5h0m18 2h0m9 2h0m3-4h0m5 4h0m2-3h0m1 3h0m5 1h0m7-2h0m176-3h0m24 2h0m-360 4h0m5 4h0m11-3h0m10 2h0m2 0h0m3 0h0m1-3h0m11 1h0m2-1h0m0 4h0m6 0h0m0 0h0m12 0h0m5-3h0m2 4h0m37-4h0m6 4h0m13-1h0m26 0h0m175-2h0m0 2h0m0-2h0m-335 3h0m9 3h0m5 2h0m14-4h0m2 2h0m3 1h0m11-3h0m12 0h0m4 0h0m1 1h0m12 4h0m2-1h0m4-3h0m25-2h0m26 3h0m-129 5h0m3-1h0m5-1h0m1 4h0m6-4h0m17 2h0m3-1h0m0 4h0m14 0h0m2-2h0m15 2h0m1-4h0m2 4h0m3-4h0m3 3h0m0-2h0m2-1h0m19 0h0m15 0h0m9 5h0m5-5h0m5 5h0m7-2h0m15 2h0m4-1h0m11-2h0m203 3h0m-378 1h0m22 0h0m34 4h0m1-3h0m12 1h0m0 2h0m4-3h0m0-1h0m5-1h0m3 2h0m1 2h0m32 1h0m12-2h0m3 0h0m24-3h0m1 5h0m7-2h0m4-1h0m3 3h0m6-2h0m206-3h0m6 5h0m1-1h0m127 2h0m1-1h0m-517 2h0m1 4h0m0-1h0m0-2h0m14 0h0m10 1h0m9 2h0m32 0h0m1 0h0m4-2h0m8 2h0m52-3h0m7 0h0m1 3h0m19-2h0m8-3h0m3 5h0m3-2h0m2 1h0m3-3h0m213 4h0m0-3h0m1 4h0m84-1h0m7 0h0m22-1h0m14-3h0m-612 8h0m3-1h0m85 4h0m3-3h0m2 1h0m7-2h0m1 1h0m52-1h0m4 2h0m16 0h0m71-1h0m19 1h0m219-1h0m93 2h0m15-5h0m-589 9h0m10 1h0m2 2h0m3-1h0m73 0h0m2-3h0m3 0h0m16 1h0m53 1h0m5 1h0m57-1h0m6-4h0m5 0h0m13 4h0m20-1h0m1 3h0m2-1h0m187-4h0m24 3h0m80-2h0m3 1h0m4 0h0m1 0h0m1 0h0m-564 4h0m12 3h0m1-1h0m4 2h0m53-3h0m3 2h0m15-1h0m7 3h0m18-5h0m7 3h0m13-1h0m1 1h0m19 0h0m10 1h0m1-3h0m80-2h0m3 2h0m10 0h0m5 1h0m2-2h0m214-1h0m-485 9h0m11 0h0m16 1h0m39-3h0m15 0h0m4 3h0m10-1h0m4-2h0m2 4h0m2-4h0m27 1h0m4 3h0m29 0h0m1-3h0m1 0h0m0-2h0m2 2h0m3 0h0m43 2h0m4 1h0m1 1h0m2 0h0m22 0h0m20-4h0m3 2h0m3 0h0m205 2h0m-475 2h0m4 1h0m8-1h0m6 1h0m7 3h0m4-1h0m9-1h0m0 1h0m25-5h0m14 2h0m4-1h0m2 2h0m7 0h0m27 2h0m21-1h0m9 0h0m4-1h0m2 1h0m4 1h0m58-3h0m10-1h0m3 1h0m9 4h0m11-1h0m0-3h0m11 3h0m6-1h0m9 0h0m5-2h0m3-1h0m1 0h0m6 4h0m188-2h0m0-2h0m3 2h0m-474 5h0m5 2h0m3-4h0m2 4h0m2-3h0m6 3h0m11-1h0m18 1h0m24-1h0m11 1h0m9-2h0m2 4h0m31-3h0m14-2h0m16 4h0m8 0h0m59-1h0m19 2h0m4 0h0m0-2h0m6 2h0m0-2h0m1-2h0m2 2h0m1-4h0m23 4h0m167 2h0m1-1h0m13-1h0m-466 3h0m7 3h0m5-1h0m2-3h0m4 4h0m11 0h0m1-4h0m2 0h0m2 4h0m11 0h0m44-3h0m4 3h0m19 2h0m0-1h0m9-4h0m6 2h0m1 0h0m41 0h0m6 2h0m52-2h0m9-2h0m1 4h0m8 1h0m8-4h0m2-2h0m4 0h0m4 1h0m2 4h0m6-3h0m3 2h0m12-1h0m4 3h0m165-6h0m2 1h0m-474 9h0m1-4h0m6 2h0m4 0h0m8-1h0m1 3h0m5-1h0m2 3h0m4-2h0m6-1h0m19-1h0m2 4h0m8-5h0m41 3h0m9-4h0m3 6h0m1-5h0m12 3h0m6-2h0m10 3h0m6-4h0m0 1h0m4 2h0m10-2h0m2 0h0m2 4h0m13-3h0m3 2h0m52-4h0m0 2h0m2 2h0m11-4h0m19 3h0m4-4h0m4 2h0m3-2h0m8 5h0m3-2h0m5 0h0m3 0h0m5 2h0m3-1h0m-317 5h0m0 2h0m6-2h0m4 2h0m5-4h0m18 1h0m3 2h0m5 2h0m0 0h0m5-4h0m19 3h0m2-3h0m18-2h0m31 4h0m3-1h0m7 0h0m8 1h0m2-3h0m11 2h0m0-1h0m5 4h0m6-3h0m8-1h0m33 4h0m56-1h0m2-2h0m0-2h0m11 4h0m6-3h0m2 2h0m5-4h0m10 5h0m6 0h0m0-3h0m3 3h0m10-5h0m-310 8h0m5 1h0m5 1h0m8-1h0m2 2h0m3 0h0m2-5h0m1 5h0m3-3h0m2-1h0m29 1h0m0 2h0m5-2h0m2 0h0m20 0h0m36 1h0m7 1h0m4 2h0m3-4h0m17 2h0m4-4h0m30 4h0m6 1h0m1-5h0m1 4h0m54-3h0m1 3h0m13-3h0m19-1h0m0 6h0m10-6h0m9 3h0m1-2h0m14-1h0m-310 10h0m2-2h0m5 3h0m18-3h0m14-2h0m1 1h0m9 0h0m1 5h0m0-1h0m15-1h0m6 0h0m17-2h0m5-1h0m10 4h0m8-3h0m4-1h0m11 4h0m11-4h0m9 3h0m5-2h0m0 0h0m4 2h0m9-1h0m3-2h0m6 2h0m0-2h0m10 5h0m63-4h0m9 2h0m2-3h0m1 4h0m1 0h0m7-2h0m3 1h0m0 2h0m1-2h0m8 0h0m10-3h0m-299 9h0m1-3h0m3 2h0m0 0h0m6-1h0m9 1h0m4-2h0m1 1h0m4 2h0m11 1h0m0-3h0m5-2h0m2 3h0m0 2h0m6-3h0m7 1h0m7 0h0m33-1h0m6 3h0m1 1h0m8-1h0m3 1h0m4-3h0m6-1h0m11 3h0m3-3h0m2 2h0m7 0h0m5-2h0m4 1h0m99 0h0m1-1h0m5 0h0m5-2h0m6 3h0m15-2h0m4 0h0m2 2h0m1-1h0m3 2h0m5 1h0m1-2h0m4-3h0m5 4h0m-312 8h0m1-2h0m7-2h0m9-1h0m0 3h0m9-1h0m1-3h0m1 3h0m3 2h0m9-1h0m2-4h0m9 6h0m7-4h0m7 0h0m22 1h0m0 0h0m3 1h0m7 0h0m4-1h0m2-1h0m0 0h0m1 2h0m10-1h0m2 2h0m1-5h0m9 2h0m1 1h0m12 2h0m109-2h0m2 1h0m0 1h0m5 0h0m7-1h0m4-4h0m2 2h0m25 1h0m8-1h0m1 2h0m-304 7h0m0 1h0m18-4h0m14-1h0m11 3h0m0 0h0m9-1h0m4-2h0m15 2h0m13 2h0m39-3h0m2 3h0m6-3h0m1 3h0m6-5h0m112 0h0m2 5h0m1-2h0m7 2h0m0-3h0m5 1h0m1 0h0m1 0h0m13 1h0m3-4h0m9 4h0m-286 6h0m8-3h0m12 3h0m8-2h0m6 1h0m6-3h0m12 5h0m1-5h0m4 1h0m5 1h0m2 0h0m5 4h0m9-1h0m2-1h0m7 1h0m3 0h0m5-4h0m13 3h0m2-3h0m9 3h0m147-1h0m1-2h0m246 3h0m1-1h0m7 0h0m1-1h0m5 1h0m2 1h0m6-3h0m1 1h0m-531 4h0m32 4h0m5 1h0m0 1h0m1-2h0m1 0h0m12-3h0m0-1h0m1 1h0m14 3h0m0-3h0m6 1h0m0 2h0m10 1h0m11-3h0m2-1h0m145 0h0m1 2h0m242-2h0m3 5h0m17-3h0m1 3h0m0-1h0m12-3h0m-511 10h0m7-5h0m1 2h0m0 3h0m17-1h0m12-2h0m2 0h0m10 3h0m12-4h0m0 1h0m14-1h0m2 1h0m5-3h0m22 3h0m371 1h0m10 1h0m6-4h0m5 3h0m0-2h0m2 4h0m1 0h0m-501 3h0m4-1h0m3-1h0m1 3h0m11-2h0m2-1h0m2 0h0m3 0h0m2 2h0m1 3h0m5-4h0m2 3h0m8-2h0m4 0h0m2 1h0m8 1h0m13-3h0m3 3h0m7-5h0m1 1h0m3 0h0m5 4h0m2-2h0m1-1h0m1 2h0m0-1h0m1 2h0m0-1h0m6-1h0m2 1h0m1-3h0m1 1h0m375 4h0m3-2h0m8 2h0m9-4h0m-491 4h0m7 3h0m2-3h0m10 5h0m4-5h0m0 2h0m11-1h0m1 0h0m3 0h0m9 1h0m1 2h0m8-1h0m8 0h0m22-1h0m1 1h0m0 0h0m-70 4h0m5 3h0m7 0h0m13-3h0m2 2h0m6 1h0m7 1h0m0-3h0m6 0h0m4-1h0m0-1h0m2 5h0m-7 1h0m422 53h0m0 2h0m10-1h0m38 6h0m3-1h0m6-1h0m-241 2h0m7 2h0m1 1h0m1 1h0m1-1h0m17 1h0m160-3h0m45 4h0m1 1h0m3-2h0m1-1h0m-250 5h0m7 0h0m4 2h0m11 1h0m6-3h0m3 0h0m12-2h0m2 3h0m156-3h0m3 1h0m46 3h0m1 0h0m-257 5h0m9-2h0m6 2h0m3 0h0m0-3h0m0 5h0m1-1h0m14-2h0m7 0h0m6 2h0m5-3h0m1 0h0m4 4h0m133-4h0m1 5h0m15-4h0m0-1h0m6 3h0m14 1h0m23-4h0m3 3h0m1-1h0m1 0h0m0 1h0m4 0h0m-266 5h0m1-1h0m0 0h0m2-2h0m5 3h0m9 1h0m1-1h0m1-2h0m1 2h0m2 2h0m15-2h0m2-1h0m8 2h0m153-3h0m2 3h0m5 0h0m2 2h0m14-4h0m7 0h0m28 1h0m2 2h0m-250 4h0m9 2h0m7-2h0m2-2h0m15-1h0m4 2h0m5 2h0m0 0h0m8-3h0m6 0h0m2 2h0m1 2h0m6 0h0m0-3h0m1 4h0m127-3h0m5 1h0m4-3h0m1 3h0m2-1h0m0-2h0m40 3h0m3-2h0m4-2h0m5 1h0m2 3h0m-269 2h0m2 2h0m2 0h0m4 4h0m5-3h0m3-3h0m2 1h0m13 0h0m3 0h0m0 0h0m4-1h0m0 1h0m3 2h0m3-3h0m6 2h0m13 1h0m0 3h0m3-2h0m6-2h0m126-2h0m1 0h0m9 1h0m0 1h0m8 1h0m10 0h0m33 3h0m7-6h0m11 4h0m-279 3h0m1 2h0m7 2h0m2-3h0m18 2h0m19-4h0m5 2h0m6-1h0m7 2h0m1-2h0m1-1h0m1 5h0m150-4h0m1-1h0m14 4h0m1-1h0m6-1h0m3-1h0m3 2h0m7 2h0m5 0h0m8-3h0m8 0h0m1 2h0m3-1h0m-297 7h0m4-2h0m1 2h0m9-1h0m1 2h0m12-3h0m8-1h0m5 4h0m4-5h0m12 1h0m12-1h0m0 4h0m12 0h0m3-1h0m177 1h0m1 1h0m27-3h0m1 0h0m9 4h0m0-2h0m2 0h0m-300 2h0m2 2h0m4-2h0m6 5h0m8 0h0m0-2h0m11-2h0m2-1h0m11 2h0m13-1h0m8 4h0m3 1h0m2-3h0m6 0h0m160 0h0m18 2h0m15-3h0m9 0h0m11 0h0m10-1h0m-292 6h0m23-1h0m29 1h0m170 0h0m18 4h0m2-3h0m7 1h0m9-1h0m9 4h0m11-6h0m5 6h0m7-5h0m8 4h0m-266 4h0m7 1h0m9 1h0m2-5h0m4 3h0m192-2h0m5-1h0m1 3h0m2-2h0m0 4h0m3-2h0m1 2h0m4-4h0m1 4h0m3-3h0m6-2h0m5 4h0m1 2h0m5-5h0m15 3h0m-262 6h0m3-4h0m2 2h0m2-2h0m186 3h0m5 1h0m6 0h0m3-2h0m3 2h0m24 0h0m4 1h0m0-3h0m20 3h0m-268 5h0m8-3h0m11 0h0m19 3h0m171-2h0m1-2h0m13 2h0m0 3h0m2-2h0m19 2h0m4 0h0m14-2h0m15 3h0m-283 2h0m7-1h0m5 1h0m6 1h0m2 3h0m2-2h0m3-3h0m1 3h0m3 1h0m19-3h0m172 1h0m1 1h0m17 0h0m11 1h0m14-4h0m2 3h0m10 0h0m3 0h0m3 1h0m-274 3h0m6 1h0m11 1h0m193-3h0m25 4h0m0-3h0m5 1h0m9 3h0m21-1h0m2-3h0m5 1h0m-284 6h0m3 1h0m230 2h0m3-5h0m10 1h0m18-2h0m6 2h0m17-1h0m-286 6h0m245 5h0m8-1h0m17 0h0m1 0h0m4-4h0m3 4h0m0 0h0" stroke="#7698CF"/>
<path d="M333 57h0m8-1h0m1 0h0m4 0h0m24-3h0m-27 7h0m5-2h0m10 4h0m28 0h0m-57 4h0m4 0h0m1 3h0m19-5h0m3 4h0m1-3h0m22 0h0m1 4h0m16-3h0m-38 5h0m1-2h0m39 6h0m-15 1h0m2 0h0m7 2h0m-6 3h0m2 5h0m0 0h0m-16 6h0m1-2h0m19 1h0m-11 6h0m8 1h0m6-5h0m-20 8h0m4 4h0m5-3h0m9-1h0m-32 8h0m11-3h0m4 5h0m8 0h0m-20 5h0m11-3h0m-239 27h0m7-4h0m5 4h0m17 1h0m-36 3h0m1 0h0m14-1h0m17-1h0m1 4h0m-29 5h0m3-4h0m6 0h0m8 4h0m9-3h0m-25 5h0m9 0h0m5 6h0m3-3h0m-30 6h0m3 0h0m2 2h0m10-1h0m12 1h0m8-3h0m8 2h0m7 2h0m283-2h0m-312 3h0m13 0h0m11 4h0m5-1h0m286-4h0m10 4h0m0 2h0m12-4h0m-321 9h0m10 0h0m300-1h0m-328 8h0m11 0h0m290-2h0m2-1h0m23 3h0m8-4h0m-8 5h0m21 4h0m-12 5h0m1-4h0m2 7h0m-1 6h0m-7 9h0m2 0h0m-5 5h0m42-1h0m-12 5h0m-33 8h0m2-2h0m4 4h0m29 5h0m90 1h0m1 0h0m2-4h0m-120 5h0m14 2h0m99-1h0m5-1h0m-101 9h0m19 1h0m66-2h0m5 3h0m3-4h0m7 2h0m1 0h0m9 1h0m-120 6h0m2-4h0m1 2h0m18 2h0m92-2h0m32 3h0m-143 3h0m2 0h0m3 1h0m4-1h0m1 3h0m2-3h0m3 1h0m78-2h0m11 0h0m5-1h0m-117 9h0m9-1h0m11 1h0m2 1h0m83 0h0m38-3h0m-36 10h0m2-1h0m42 0h0m2-1h0m0-1h0m0 4h0m0-2h0m1-1h0m3 0h0m0-3h0m3 2h0m0 3h0m-67 3h0m9 1h0m35-1h0m0 0h0m4 0h0m4-1h0m-53 9h0m-5 4h0m1 2h0m1-3h0m4 4h0m15-2h0m-17 8h0m23 0h0m2-1h0m2-2h0m-336 6h0m9 2h0m18 1h0m21-1h0m82 2h0m8 0h0m171-4h0m1 0h0m2-1h0m26 0h0m10 4h0m14-3h0m-368 9h0m21-4h0m11 1h0m0 2h0m4-1h0m73 1h0m12 1h0m0-2h0m5-1h0m12 2h0m4-3h0m5 3h0m193-1h0m2-3h0m2 1h0m15 1h0m-359 9h0m2-1h0m2-2h0m26-1h0m1 4h0m11 1h0m9-3h0m9 1h0m13 0h0m3-3h0m18-1h0m4 2h0m21 1h0m6 0h0m4 0h0m21 2h0m196-1h0m1-1h0m1-3h0m9 4h0m3 0h0m-365 4h0m2-1h0m13-1h0m8 3h0m7-1h0m3 2h0m2 0h0m9-4h0m33 2h0m3 1h0m18-3h0m7 1h0m11 3h0m5-1h0m10-1h0m6 4h0m5-4h0m4 0h0m1 0h0m14 1h0m195-2h0m27 4h0m-370 2h0m6 3h0m21-1h0m0 1h0m24-3h0m1-1h0m8 5h0m9-4h0m23 1h0m10 2h0m4-4h0m6 0h0m235 5h0m0-3h0m24-2h0m-385 6h0m2 3h0m2-1h0m7 3h0m2-1h0m13-1h0m9-2h0m2 1h0m5 4h0m4-3h0m16-1h0m9 1h0m5 0h0m1-2h0m31 4h0m3-1h0m9 1h0m2-4h0m15 2h0m3 0h0m7-1h0m13 1h0m195-1h0m3 3h0m3-4h0m1 4h0m-358 6h0m6-1h0m19 1h0m43-3h0m7 2h0m27-2h0m6 0h0m13 3h0m11-2h0m2 0h0m2 2h0m8 0h0m2-1h0m16-3h0m193 3h0m-366 6h0m8-3h0m18 3h0m5 1h0m5-3h0m37 1h0m4 0h0m8 0h0m44-1h0m0 2h0m5-3h0m19 3h0m12-4h0m7 5h0m217-2h0m-380 8h0m10-2h0m0-3h0m45 1h0m18 1h0m21 1h0m6 1h0m11 1h0m21-5h0m29 2h0m-174 6h0m5 2h0m2-3h0m6 0h0m0 3h0m5-1h0m0 0h0m6 0h0m6-2h0m1 0h0m13 2h0m9 3h0m6-5h0m1 1h0m11 0h0m61 0h0m2 0h0m26-1h0m222 2h0m4 2h0m130 0h0m-518 2h0m19 3h0m91-2h0m38 2h0m11 0h0m19-1h0m206 1h0m7-3h0m75 2h0m37 2h0m-589 5h0m81 0h0m4 0h0m5-3h0m16 0h0m9 4h0m9-2h0m82 0h0m21 1h0m17 1h0m10-5h0m2 3h0m3 2h0m296-3h0m15 0h0m2-1h0m14-1h0m-580 12h0m70-1h0m1-1h0m6-2h0m15-1h0m35 5h0m86-6h0m6 6h0m8-4h0m32-1h0m214 2h0m78 2h0m-565 6h0m3-3h0m4 3h0m73-1h0m13-2h0m2 0h0m5 2h0m26-2h0m33-1h0m61 2h0m6-2h0m38 5h0m3-2h0m-262 8h0m74-1h0m9-2h0m3-1h0m7 2h0m9 1h0m14 0h0m27-4h0m11-1h0m52 2h0m2-2h0m14 3h0m0-1h0m8-1h0m12-1h0m6 1h0m23 1h0m193-2h0m5 5h0m9-4h0m-481 9h0m6 1h0m6-4h0m9 5h0m4-5h0m13 5h0m21-5h0m2 4h0m9-3h0m3 0h0m1 2h0m1 1h0m1-2h0m1 0h0m10 1h0m46-4h0m20 5h0m64 0h0m11-2h0m4-2h0m0 3h0m3-1h0m2 2h0m5-2h0m20 2h0m-246 2h0m4 3h0m5-2h0m9 1h0m1-3h0m6 2h0m17 1h0m0 2h0m2-3h0m13 0h0m3 3h0m10-3h0m2 4h0m2-5h0m1 0h0m24 0h0m3 4h0m6-1h0m1-3h0m4 3h0m10 1h0m12-5h0m65 0h0m1 4h0m26-3h0m15 2h0m7 2h0m2 0h0m180-1h0m1 1h0m0 1h0m18-4h0m-475 7h0m17-2h0m4 1h0m27 1h0m6 0h0m25-1h0m19 2h0m16 1h0m4 0h0m12-5h0m1 6h0m1-1h0m6-2h0m24 1h0m0 0h0m64-2h0m9 2h0m16-2h0m10 3h0m6 1h0m7-1h0m3 0h0m172-4h0m-468 10h0m9-4h0m6 3h0m4-1h0m2 1h0m29 0h0m13-2h0m1 3h0m6-3h0m63 0h0m13 2h0m37 1h0m64-3h0m15 0h0m36-2h0m10 5h0m9-3h0m-311 8h0m15-3h0m5-1h0m16 1h0m4 3h0m1-3h0m5 1h0m5 1h0m13 0h0m25-2h0m8 2h0m2 2h0m17-2h0m3 1h0m1 2h0m12-2h0m3-4h0m5 5h0m5 0h0m7-1h0m8 2h0m21-2h0m1 0h0m2-1h0m3 0h0m57-3h0m0 0h0m8 0h0m1 1h0m1 4h0m14-2h0m6-1h0m1 1h0m33 2h0m-312 4h0m2 2h0m6-5h0m8 5h0m17-1h0m6-2h0m2 3h0m0-2h0m9-2h0m54 5h0m12-3h0m29-1h0m1-1h0m3 4h0m0-1h0m31-3h0m3 4h0m6-1h0m6 0h0m3-3h0m63 4h0m5-3h0m4 0h0m7 3h0m2-3h0m8-1h0m6 1h0m6 1h0m1 0h0m8-1h0m-288 6h0m23 3h0m3 0h0m1-3h0m15 1h0m7 2h0m15-2h0m19 2h0m35 1h0m36-5h0m1-1h0m1 0h0m2 6h0m13-5h0m79 1h0m3-2h0m2 2h0m3-2h0m30 3h0m-315 6h0m19 3h0m8-3h0m38-1h0m1-1h0m8 1h0m2 0h0m4 3h0m1-1h0m13-4h0m11 3h0m1-3h0m1 6h0m13-1h0m17 0h0m2 0h0m2-3h0m13-1h0m0 2h0m15-2h0m9-1h0m77 3h0m2 0h0m11-2h0m4 0h0m3 2h0m0-2h0m27-1h0m0 5h0m-283 3h0m2 1h0m15 2h0m7-2h0m37-1h0m1 0h0m3 0h0m6-1h0m0 5h0m2-2h0m7 1h0m15-2h0m15-1h0m0 4h0m0 0h0m120-1h0m11-4h0m23 3h0m15-2h0m3 1h0m-296 4h0m14 4h0m10-2h0m37 0h0m3-1h0m19 4h0m6-2h0m13-3h0m2 0h0m9 4h0m6 0h0m14-4h0m115 1h0m13-1h0m12 3h0m1-2h0m268 4h0m-535 5h0m3-2h0m19-1h0m10 2h0m20-4h0m38 5h0m3-2h0m4-2h0m15 1h0m138-2h0m5 6h0m3-5h0m247 1h0m14-1h0m-519 6h0m24 2h0m0 0h0m18 3h0m5-1h0m27-4h0m33 4h0m1-2h0m136-1h0m242 3h0m3-3h0m2 2h0m2 0h0m5 1h0m7 1h0m-496 5h0m4 0h0m31-2h0m5-3h0m12 3h0m13 1h0m4 0h0m5-1h0m7 2h0m5 0h0m7 0h0m4-5h0m368 1h0m10 2h0m2 0h0m3-2h0m8 1h0m2 1h0m4 3h0m-472 2h0m7-1h0m17 3h0m11-2h0m28 3h0m12-1h0m385-3h0m6 0h0m1 1h0m1 2h0m2 2h0m-484 6h0m12-3h0m18 2h0m6-3h0m28 3h0m411-5h0m5 0h0m-471 8h0m7-2h0m1 3h0m1-1h0m5 0h0m3 2h0m20-2h0m12-1h0m6 1h0m0 3h0m3-5h0m2 4h0m-48 3h0m13 4h0m20-4h0m5 1h0m421 51h0m-2 1h0m51 5h0m6-3h0m-242 6h0m179 0h0m53 1h0m5-3h0m6 2h0m-255 6h0m10-1h0m13 3h0m9-2h0m6 2h0m144 1h0m23-3h0m3 2h0m0-1h0m44-3h0m-233 11h0m174-3h0m3 2h0m15 0h0m11-1h0m27 2h0m1-4h0m9 4h0m-281 5h0m7 1h0m3-5h0m13 3h0m0 3h0m8-3h0m25-1h0m16 4h0m1-6h0m158 4h0m4-2h0m3-1h0m10 2h0m14-3h0m9 5h0m3 0h0m6-1h0m-283 8h0m5 0h0m10-3h0m1 1h0m6-1h0m9 0h0m34-3h0m3 1h0m1 3h0m1 0h0m16 0h0m126 0h0m10 2h0m60 0h0m-271 0h0m18 1h0m18 3h0m8-1h0m15 0h0m10 2h0m2-5h0m140 2h0m4 4h0m6-1h0m6 0h0m8 1h0m1-5h0m3-1h0m5 2h0m3 2h0m12 2h0m-271 2h0m0 3h0m1-5h0m7 3h0m13-2h0m6 4h0m2 1h0m1-4h0m2 1h0m27 2h0m12-5h0m1 4h0m1 2h0m33-5h0m119 2h0m28 0h0m15 1h0m8 0h0m5-2h0m-287 5h0m5 1h0m30 2h0m0 0h0m3 2h0m1-1h0m5-5h0m2 1h0m6-1h0m9 3h0m1 2h0m12 0h0m7-4h0m139 0h0m7 0h0m31 2h0m5-3h0m13 1h0m19-1h0m4 3h0m-285 4h0m3 5h0m3 0h0m0-4h0m5 3h0m4 0h0m1-3h0m15 2h0m10 1h0m11 0h0m2 0h0m3-2h0m1-3h0m171 2h0m2 1h0m17 2h0m8 0h0m4-1h0m2-2h0m2 4h0m8-5h0m7 0h0m-285 9h0m3-2h0m6 2h0m17 1h0m6-2h0m7 0h0m16-2h0m0 0h0m176-1h0m13 5h0m0-1h0m3 0h0m7-2h0m6 1h0m10-2h0m-252 6h0m1-1h0m9 2h0m6 3h0m1-1h0m2-1h0m3 0h0m17-3h0m4 4h0m192 2h0m21-4h0m3 2h0m0-2h0m14-2h0m4 2h0m-266 5h0m10 1h0m190-1h0m8 0h0m1 3h0m18 1h0m1-3h0m28 4h0m-267 5h0m10 1h0m10-4h0m193 1h0m55 1h0m3-4h0m-271 7h0m8 5h0m12-2h0m4-3h0m207 3h0m42 0h0m9-2h0m-281 9h0m5 0h0m2-3h0m2-2h0m13 4h0m200-3h0m5 4h0m8-2h0m7-1h0m2 2h0m12-2h0m8-2h0m-271 9h0m4-1h0m223-2h0m3 3h0m3 3h0m18-5h0m1 0h0m2 2h0m4-2h0m0 1h0m4 3h0m7-3h0m0 1h0m3-2h0m1 4h0m-26 4h0m15-1h0" stroke="#60D2C6"/>
<path d="M347 48h0m-2 7h0m7-2h0m0 2h0m6 1h0m9-3h0m19-2h0m-39 9h0m0 1h0m10-3h0m5 0h0m1 0h0m5 0h0m15 1h0m2 0h0m-55 8h0m1 1h0m1 0h0m1-1h0m12-4h0m4 6h0m0 0h0m1-2h0m11 2h0m8-6h0m11 4h0m3-2h0m9-2h0m-48 9h0m1-2h0m1 0h0m46 0h0m-9 7h0m11-1h0m-9 14h0m-10 8h0m6-4h0m1-1h0m5 1h0m1 2h0m-7 3h0m4 4h0m-22 7h0m1-1h0m0-1h0m6-1h0m10 0h0m4 4h0m2-4h0m-22 6h0m2 2h0m1-1h0m1 2h0m7-1h0m3-2h0m-17 7h0m-212 15h0m-12 4h0m3-3h0m11 3h0m2-1h0m5-2h0m3 5h0m-33 3h0m3-3h0m8 3h0m10-3h0m1 1h0m3 4h0m2-2h0m1-1h0m1 0h0m-28 6h0m1 3h0m3-3h0m24 3h0m11-2h0m-45 3h0m0 2h0m1-1h0m2 1h0m2 2h0m11-3h0m4 1h0m12 2h0m5 2h0m7-3h0m1 3h0m0 0h0m3-1h0m-37 6h0m5-3h0m11 0h0m6 1h0m6 0h0m6 2h0m273-1h0m3-3h0m2 4h0m32 0h0m-356 6h0m3-4h0m9-1h0m1 1h0m1 0h0m0 4h0m1-4h0m2 5h0m0-5h0m1 3h0m299-4h0m3 4h0m7-3h0m1 0h0m14 1h0m9 1h0m1-2h0m3 3h0m1-1h0m3 0h0m-362 4h0m25 3h0m17-2h0m1 3h0m-17 5h0m2-4h0m326 5h0m-330 2h0m8 0h0m325 3h0m0-3h0m0 6h0m0 5h0m3-3h0m-2 8h0m0-2h0m1 0h0m0 1h0m-2 6h0m0-1h0m-4 9h0m1-2h0m25 0h0m0 1h0m11 1h0m-38 6h0m0-6h0m19 5h0m8-4h0m7-1h0m-37 7h0m0 5h0m-2 5h0m2-5h0m5 6h0m-2 1h0m5 2h0m113 3h0m1-1h0m1-5h0m-110 10h0m5 0h0m105-2h0m16 0h0m-121 9h0m2-4h0m11 3h0m0-3h0m87 2h0m-110 6h0m3 1h0m14-1h0m4-2h0m4 0h0m86 4h0m2-4h0m9 4h0m11-1h0m14-2h0m1 4h0m1-2h0m-143 2h0m1 0h0m11 5h0m4-1h0m1 0h0m4-4h0m66 6h0m2 0h0m6-2h0m4-4h0m1 4h0m1 0h0m26-3h0m4 1h0m14-1h0m-150 6h0m3 1h0m9 1h0m2 0h0m81-1h0m6 0h0m5 0h0m49 2h0m0-3h0m-144 6h0m77 5h0m5-5h0m56 4h0m2 0h0m0 1h0m2-2h0m5 0h0m-36 6h0m-35 4h0m2 1h0m1-2h0m-6 11h0m1-1h0m2-4h0m21 5h0m5-1h0m-27 7h0m22-2h0m0-4h0m5 4h0m0 2h0m-334 4h0m1-2h0m8 2h0m9 1h0m10 1h0m16-1h0m90 0h0m175-4h0m29 0h0m-344 11h0m0-6h0m10 2h0m9 4h0m1-5h0m5 0h0m1 0h0m17 2h0m11-2h0m2 4h0m7-1h0m4 1h0m18-1h0m17 2h0m4 0h0m1-1h0m5-5h0m1 5h0m2-2h0m13 3h0m2-2h0m1-3h0m8 3h0m0 1h0m1 0h0m0-1h0m3-3h0m2 4h0m0 1h0m186-4h0m11-1h0m5 2h0m28 2h0m-368 2h0m2 0h0m4 3h0m7 1h0m3-4h0m0 3h0m2-3h0m7-1h0m13 3h0m4-1h0m4 3h0m4 0h0m9-1h0m9 2h0m25-3h0m2-3h0m2 2h0m8-1h0m0 4h0m5-3h0m2 1h0m7-3h0m12 6h0m4-2h0m8-1h0m0 0h0m4 0h0m-161 9h0m0-1h0m11 1h0m6-1h0m8-1h0m3-3h0m1 4h0m12-1h0m8 0h0m9 0h0m0-2h0m3-1h0m7 5h0m1-6h0m11 6h0m24-4h0m9 0h0m2 4h0m5-4h0m7-2h0m1 3h0m6-2h0m2 2h0m10 1h0m11-3h0m6 4h0m0 0h0m1 1h0m193-2h0m1 0h0m0 0h0m26-1h0m-381 7h0m10-1h0m6-2h0m6 5h0m0 0h0m16 0h0m1-2h0m12 0h0m5-2h0m3 4h0m3-2h0m10 1h0m1-1h0m0 0h0m8-1h0m2-1h0m20 2h0m8-2h0m11 4h0m5-5h0m4 0h0m23 3h0m7-1h0m175 2h0m18-1h0m0-3h0m2 4h0m1 0h0m-364 4h0m2-1h0m14-2h0m12 3h0m3-2h0m8 5h0m1-1h0m0-4h0m4 4h0m3-2h0m0 1h0m17 0h0m7 0h0m1-4h0m9 5h0m21 0h0m11-4h0m4 2h0m9 2h0m3 1h0m7-2h0m5-4h0m5 3h0m1-2h0m0 1h0m6-1h0m0 3h0m9-1h0m7-2h0m172 2h0m-327 8h0m8-1h0m6 2h0m1-5h0m8 2h0m1 0h0m11 0h0m2 1h0m16-3h0m3 2h0m11 1h0m3-1h0m12-2h0m3 0h0m2 3h0m33-3h0m9 1h0m1 0h0m8-1h0m1 4h0m14-2h0m195-1h0m-361 5h0m16 3h0m2-3h0m4 0h0m6 0h0m9 1h0m15 2h0m15 0h0m1 0h0m0-3h0m5 2h0m5 2h0m18-3h0m18 2h0m3 0h0m21 0h0m11-1h0m9 2h0m0 1h0m1-5h0m3 4h0m0 0h0m3-4h0m221 0h0m1 0h0m-383 8h0m15-2h0m10 5h0m5-2h0m0-2h0m16 1h0m5-2h0m6-1h0m3 0h0m0 3h0m5 3h0m4-2h0m57-2h0m31 0h0m5-2h0m-178 10h0m5-1h0m0 0h0m3-2h0m1 4h0m9-2h0m17 1h0m37-2h0m14-1h0m33 4h0m7 0h0m18 1h0m1-1h0m8-4h0m9-1h0m4 1h0m5 1h0m4 4h0m2-5h0m1 2h0m206-2h0m130 4h0m8 1h0m-521 1h0m14 4h0m7-5h0m11 4h0m5 0h0m13-1h0m23 1h0m10 0h0m1-3h0m36 1h0m21 3h0m5-5h0m6 4h0m1 2h0m2-2h0m1 1h0m20-5h0m214 2h0m93 0h0m6 3h0m15-4h0m3 0h0m6-1h0m-515 11h0m8-3h0m3-2h0m3 2h0m8 2h0m8 2h0m1-4h0m86 4h0m3-5h0m9 2h0m12-1h0m2-1h0m3 0h0m13-1h0m7 2h0m0 0h0m3-2h0m3 1h0m2 1h0m218-1h0m81 0h0m6-1h0m-568 6h0m4 6h0m5-4h0m9 3h0m64-2h0m11 0h0m29-2h0m10 1h0m9 3h0m8-3h0m1 3h0m3-3h0m73-1h0m0 3h0m5-2h0m4 3h0m18-1h0m0 0h0m4-3h0m202 0h0m1 3h0m24 2h0m89-6h0m-561 6h0m2 3h0m4-2h0m2 1h0m64 3h0m5-3h0m14-1h0m10 1h0m34 0h0m0 4h0m11-5h0m7 1h0m55-1h0m12 1h0m0 0h0m2 0h0m0 3h0m0-2h0m1 1h0m5-4h0m29 6h0m210-5h0m3 1h0m3-2h0m-474 10h0m6-1h0m1 1h0m6-3h0m2 1h0m2 3h0m32 1h0m12-1h0m0-3h0m4 3h0m14-2h0m22-3h0m11 2h0m9 4h0m5-6h0m8 0h0m20 5h0m2-1h0m56 1h0m2 1h0m2-4h0m1-1h0m0 3h0m13-2h0m3 2h0m8-2h0m1 2h0m12-3h0m213 1h0m-480 7h0m8 1h0m0-3h0m15 0h0m3 4h0m2-2h0m1 2h0m2-3h0m2 4h0m0-2h0m6 1h0m1-1h0m16-1h0m3 1h0m4-1h0m3-2h0m12 5h0m13-4h0m0 2h0m20 0h0m20 1h0m8 1h0m8-5h0m2-1h0m12 0h0m8 2h0m2 4h0m44-5h0m13 0h0m4 2h0m10 1h0m8 0h0m6-3h0m13-1h0m8 4h0m0 0h0m1-1h0m2-2h0m0-1h0m2 6h0m190-3h0m-471 7h0m1 0h0m7 0h0m0 2h0m2-5h0m1 3h0m1-2h0m3 0h0m15 2h0m5-4h0m61 3h0m1 1h0m3-1h0m23 3h0m19-1h0m84-3h0m4 3h0m27 0h0m5-5h0m12 0h0m5 5h0m6 1h0m1-4h0m158 3h0m12-1h0m12-4h0m-464 7h0m15 3h0m1-3h0m12 2h0m7 0h0m4-3h0m31 6h0m29-2h0m14-1h0m11 2h0m2-1h0m10 2h0m1-1h0m7-1h0m20-1h0m60 2h0m2-4h0m8 4h0m2-1h0m1-2h0m7 2h0m1-2h0m5 3h0m7-1h0m11-3h0m10 5h0m2-2h0m1 0h0m1 1h0m1-4h0m157 2h0m-466 7h0m9 2h0m11-1h0m2-4h0m1 4h0m2 0h0m4-1h0m5-4h0m1 1h0m2 5h0m5-6h0m2 3h0m17-1h0m8 0h0m25 3h0m36-1h0m5 0h0m1-1h0m7 1h0m6 0h0m5-1h0m7 2h0m15-4h0m1 3h0m5-1h0m0 2h0m6-3h0m5 2h0m0-2h0m51 1h0m41 0h0m24 1h0m-314 3h0m2 3h0m14 0h0m12 0h0m2 0h0m8-3h0m5 2h0m1 1h0m2-3h0m3 3h0m3 2h0m6-5h0m4 3h0m5 1h0m3-2h0m22 0h0m18 3h0m20-4h0m7 3h0m1-2h0m6 2h0m0 0h0m16-5h0m5 2h0m1 0h0m13 0h0m4-2h0m3 1h0m3 2h0m0 0h0m2-1h0m0-1h0m1 3h0m56-3h0m20 4h0m8 0h0m10-5h0m7 3h0m22-2h0m-313 10h0m5 0h0m1-3h0m5 2h0m2-3h0m7 3h0m13-3h0m5 2h0m10 0h0m8 1h0m12-2h0m1-1h0m6 3h0m11-2h0m14 2h0m23 1h0m4-4h0m3 3h0m4-3h0m0 4h0m0-4h0m2 4h0m3-4h0m4 3h0m12-3h0m97-1h0m0 1h0m5 0h0m2 1h0m9-1h0m3 0h0m5 1h0m4-2h0m6 5h0m13-5h0m5 6h0m4-1h0m2 1h0m2-3h0m-312 5h0m16 0h0m4-1h0m5 3h0m2 1h0m3 1h0m6-1h0m5-4h0m4 4h0m9-4h0m3 1h0m9 1h0m5 1h0m4-2h0m4-2h0m1 2h0m6 4h0m12-6h0m19 2h0m27 2h0m3-2h0m4-1h0m7 0h0m5 1h0m7 1h0m3-2h0m6 4h0m11-5h0m56 1h0m1 0h0m0 3h0m3 1h0m1-3h0m2 0h0m12-2h0m1 3h0m1 2h0m4 1h0m7 0h0m5-5h0m1 5h0m3-4h0m3 2h0m5-2h0m0 0h0m12-1h0m3 0h0m2 0h0m-313 9h0m3-4h0m19 4h0m4-3h0m1 1h0m4 1h0m6 3h0m5-2h0m2-3h0m7 2h0m10 1h0m15-1h0m19 3h0m39 0h0m17-2h0m11-3h0m81 3h0m10 2h0m10-5h0m1-1h0m8 2h0m5 3h0m3-5h0m5 2h0m2 1h0m1-2h0m6 5h0m13-5h0m-316 11h0m2-5h0m1 2h0m28 3h0m2-4h0m5-1h0m3 2h0m4 0h0m3 0h0m7 1h0m1 1h0m9-3h0m11 4h0m6-1h0m0-3h0m16-2h0m2 4h0m10-1h0m3 0h0m1 0h0m2 1h0m3 2h0m2 0h0m0-3h0m128 0h0m6 2h0m4-3h0m3 4h0m6-2h0m5-1h0m2 2h0m3-2h0m11-1h0m2 3h0m1 0h0m6-3h0m9 3h0m2-4h0m-307 6h0m6 2h0m7-1h0m26 4h0m6-1h0m5-2h0m0-1h0m35-1h0m2 3h0m6 0h0m3-2h0m14 3h0m5 0h0m16 0h0m10-2h0m112 0h0m0-2h0m0 2h0m9 0h0m18 1h0m9-3h0m9 3h0m254 1h0m-544 6h0m17-3h0m15 3h0m1-3h0m15 1h0m33 2h0m25 0h0m0-1h0m3 2h0m4-3h0m1 0h0m2 2h0m125-4h0m4 4h0m4-5h0m7 5h0m10-4h0m2 3h0m4-1h0m231-2h0m5 3h0m8 2h0m2-2h0m10 1h0m3-4h0m0 2h0m11-2h0m-542 7h0m5 3h0m6-1h0m2 1h0m15-2h0m3-1h0m12-2h0m6 6h0m9-5h0m0 3h0m14 0h0m2 1h0m5 0h0m1-2h0m4-2h0m1 2h0m2 3h0m1 0h0m0-1h0m4-1h0m1 0h0m22-1h0m3-1h0m0-1h0m131 1h0m239 2h0m0 0h0m9 1h0m1-5h0m3 3h0m9-1h0m6-1h0m2 3h0m0-2h0m-511 8h0m2-2h0m3 1h0m8-2h0m27 1h0m1 3h0m3-2h0m1 1h0m15-1h0m1 0h0m6 2h0m8-4h0m6 4h0m1-3h0m9-2h0m4 3h0m7 2h0m0-1h0m4-1h0m1 1h0m366 1h0m3-4h0m8 2h0m3 2h0m5 1h0m3-1h0m9-1h0m-500 4h0m1 0h0m4-1h0m10 1h0m7-1h0m12 4h0m16-2h0m7 2h0m8-3h0m3 2h0m1-4h0m1 3h0m2-2h0m2-1h0m5 3h0m1 2h0m0-3h0m10 3h0m9-4h0m375 2h0m4 2h0m6-4h0m0-1h0m5 0h0m0 6h0m2-1h0m1-2h0m7 0h0m-488 3h0m1 2h0m2 1h0m3-1h0m1 2h0m3-2h0m9 0h0m6 1h0m1 3h0m9-5h0m15 0h0m3 0h0m12 0h0m7 5h0m8-3h0m1 1h0m2-3h0m394-1h0m-471 10h0m5 0h0m5 1h0m2 1h0m12-4h0m10 3h0m5 1h0m0-1h0m2 0h0m0-2h0m5 3h0m7 0h0m4 0h0m8-4h0m5-2h0m-34 10h0m23-4h0m414 54h0m6-2h0m-12 3h0m4 2h0m0 1h0m1-2h0m10 1h0m-205 9h0m21-5h0m5 5h0m2 0h0m0 0h0m157-2h0m4-1h0m1 2h0m12-1h0m0 0h0m43 0h0m-240 6h0m1-1h0m0 2h0m14-4h0m1 4h0m8-5h0m4 4h0m3 1h0m4-5h0m149 2h0m5 3h0m1 1h0m3-2h0m5 0h0m38-2h0m1 3h0m-253 5h0m17-1h0m6 2h0m0-1h0m4-2h0m12 1h0m12 0h0m147 0h0m1-3h0m1 1h0m48 3h0m8-3h0m-258 7h0m2 3h0m8-2h0m7-2h0m3 1h0m3 3h0m3-3h0m1-2h0m0 1h0m11-1h0m6 6h0m0-5h0m2-1h0m9 4h0m2-4h0m1 4h0m8 0h0m149-1h0m5 2h0m9 0h0m23-4h0m13 4h0m-282 6h0m5-2h0m31-1h0m14-2h0m1 1h0m7 2h0m10-2h0m4 5h0m6-6h0m11 3h0m131 0h0m3-1h0m9 4h0m4-3h0m2 3h0m24-2h0m6 2h0m4-2h0m3-2h0m1 0h0m5 0h0m2 1h0m6 2h0m-288 5h0m12-3h0m4 0h0m9 0h0m7 0h0m21 4h0m14-5h0m24 4h0m121-3h0m10 2h0m2 0h0m11 1h0m0-2h0m11 2h0m5 2h0m0-3h0m5 2h0m1 0h0m14-4h0m17 3h0m-289 4h0m2 2h0m4 1h0m12-4h0m2 1h0m9 4h0m3-5h0m2 4h0m6-1h0m4-2h0m9 0h0m19 0h0m2 2h0m6-3h0m134 0h0m1 0h0m4 3h0m7-1h0m1 2h0m2-4h0m11 2h0m2-1h0m1 3h0m6-1h0m10-3h0m3 4h0m1-3h0m5 2h0m5-3h0m6-1h0m3 1h0m3 2h0m8 2h0m-289 5h0m1 1h0m9-1h0m12-1h0m0-1h0m8-1h0m2 2h0m13 2h0m8 0h0m4 0h0m157 0h0m36 0h0m1-1h0m14 2h0m9-6h0m2 4h0m6-4h0m3 3h0m-293 5h0m3 4h0m0-6h0m9 2h0m5 3h0m6-5h0m0 1h0m15 1h0m8 0h0m12 1h0m13 1h0m0 2h0m162-4h0m18-1h0m11-1h0m20 2h0m2-1h0m7 0h0m1 3h0m-286 4h0m10 3h0m0 0h0m1-5h0m1 5h0m3 1h0m1-2h0m5 2h0m2-6h0m16 1h0m13 1h0m7 1h0m7-1h0m166 0h0m11 3h0m41-5h0m2 1h0m3 1h0m-269 7h0m15-2h0m8 2h0m7 0h0m190 2h0m0 0h0m13-4h0m2 2h0m17 0h0m1 0h0m14-2h0m6 5h0m-273 4h0m10-4h0m4 3h0m1-3h0m5 6h0m7-4h0m179 3h0m3-3h0m6 2h0m3-3h0m9 3h0m0-3h0m4 3h0m8-3h0m0 0h0m7 1h0m6-2h0m6 2h0m10 3h0m1-1h0m-271 2h0m18 0h0m5 1h0m21 5h0m163-6h0m4 3h0m1 2h0m9-3h0m0-1h0m2 3h0m2-2h0m16-2h0m9 1h0m1 3h0m0-1h0m1 3h0m3-2h0m2 1h0m13-5h0m-271 11h0m15-5h0m4 2h0m2 1h0m1 0h0m1 2h0m5-4h0m2 4h0m13-5h0m7 1h0m166 1h0m0 3h0m2 0h0m9-4h0m1 0h0m5-1h0m1 2h0m2 1h0m9 1h0m7 1h0m1-4h0m1 0h0m5-1h0m4 4h0m21 2h0m-286 5h0m15-4h0m7 1h0m222 0h0m3 1h0m0 0h0m4-1h0m1 2h0m5 0h0m13-2h0m0 1h0m2 1h0m1-1h0m14 2h0m0-1h0m-290 3h0m9 4h0m7-3h0m224 4h0m8-3h0m2-3h0m5 3h0m3 2h0m1-4h0m1 4h0m2-3h0m6 1h0m1-1h0m0 0h0m12 0h0m-43 9h0m2-4h0m0 1h0m8 0h0m2-1h0m11 1h0m11 1h0m5-2h0m1 1h0m3 0h0m7-2h0" stroke="#C772B7"/>
<path d="M353 51h0m7 0h0m1 6h0m2-3h0m3 0h0m12 2h0m8 0h0m-43 5h0m8-3h0m8 3h0m1-1h0m2-2h0m16 5h0m3 0h0m8-6h0m-58 8h0m1 2h0m6-3h0m2 0h0m1 3h0m6-3h0m2 2h0m11 0h0m2 1h0m19-4h0m7 3h0m-58 4h0m6 2h0m9-2h0m4 0h0m1 1h0m2 2h0m1-4h0m38 9h0m5-2h0m1 0h0m-21 9h0m5-3h0m5 3h0m2 0h0m-10 4h0m14 0h0m3 1h0m-24 8h0m7-5h0m1 4h0m-1 3h0m-7 6h0m0 1h0m10-2h0m-23 11h0m3-2h0m1-1h0m2 2h0m-1 5h0m1-1h0m-223 15h0m18 0h0m-16 7h0m8-3h0m5-3h0m-26 10h0m3 1h0m4-2h0m1-2h0m2 1h0m13 0h0m2 2h0m0 0h0m-27 4h0m4 0h0m4 3h0m4 0h0m12-5h0m0 1h0m14 2h0m1-3h0m-41 11h0m3-5h0m2 1h0m8 3h0m18-3h0m-21 9h0m1-2h0m1 1h0m2-2h0m5 4h0m9-5h0m8 6h0m279-2h0m0-1h0m1 3h0m4 0h0m4-5h0m5 4h0m-330 3h0m15 1h0m8 3h0m6-6h0m8 4h0m4-4h0m275 1h0m1 0h0m6 1h0m16 4h0m2-4h0m4 0h0m13 0h0m-368 5h0m11 1h0m6 0h0m9 1h0m8 0h0m11-1h0m0 1h0m5-2h0m2 4h0m0-2h0m-21 5h0m9 0h0m326 0h0m-29 5h0m24 1h0m0 2h0m4 6h0m-3 7h0m3-4h0m-5 9h0m2 2h0m32 5h0m2 0h0m1 0h0m-6 2h0m1 0h0m1 0h0m3-1h0m-43 12h0m0-5h0m-2 9h0m2 1h0m0 0h0m0-2h0m119 0h0m-117 4h0m5 1h0m107 2h0m5 1h0m-102 4h0m87 3h0m10-3h0m2-2h0m1-1h0m-101 8h0m10 4h0m5-5h0m82 1h0m0 1h0m4-2h0m4 4h0m11 1h0m15-5h0m1 1h0m0 3h0m-130 4h0m6 2h0m4-5h0m3 5h0m4 0h0m86 1h0m6-5h0m5 0h0m5 1h0m3 2h0m-130 8h0m6 0h0m17-5h0m75 5h0m55-4h0m-151 5h0m17 3h0m2-3h0m68 4h0m6 0h0m7-2h0m1 2h0m43 0h0m12 0h0m0 1h0m-70 6h0m5-5h0m4-1h0m40 6h0m15-6h0m2 1h0m1-1h0m-69 11h0m50-4h0m6-1h0m-54 10h0m13 4h0m8 3h0m5 0h0m9 0h0m-39 4h0m25 0h0m1 1h0m1-1h0m-287 9h0m59-2h0m8 0h0m6 0h0m213-3h0m3 5h0m3 0h0m17-2h0m0-1h0m6 1h0m-369 4h0m5-1h0m14 1h0m6 2h0m0 1h0m3-5h0m5 1h0m18 1h0m13-2h0m11 6h0m10-2h0m26-1h0m3-2h0m6 1h0m1 1h0m2 1h0m15 0h0m205-2h0m2 0h0m3 0h0m18 3h0m0-2h0m2 1h0m-358 8h0m12-1h0m4-3h0m0 4h0m3-5h0m1 1h0m2 2h0m8-1h0m0 0h0m7-2h0m0 0h0m19 0h0m12 2h0m4 1h0m2-3h0m14 0h0m10 1h0m20 0h0m1 1h0m4 3h0m0-3h0m3-3h0m10 5h0m7-5h0m185 3h0m10-1h0m1-1h0m2 1h0m0-2h0m1 2h0m-335 7h0m2-1h0m8 0h0m9 4h0m2-6h0m20 4h0m11-1h0m4 1h0m6-1h0m1 0h0m16 1h0m2 1h0m1-1h0m12-2h0m11 1h0m4 1h0m2-1h0m2-3h0m4 5h0m4-2h0m3 1h0m11 2h0m2-5h0m192 0h0m6 0h0m19 1h0m2-1h0m-374 7h0m6 4h0m6-4h0m0 1h0m1 2h0m6 0h0m2-2h0m1-3h0m1 0h0m2 5h0m13-5h0m5 6h0m6-1h0m7 0h0m10-2h0m1 3h0m3-4h0m0 1h0m27 1h0m6-2h0m12 2h0m2 0h0m1-1h0m7-3h0m6 0h0m5 4h0m13-2h0m1 0h0m2-2h0m5 1h0m179 4h0m22 0h0m-363 4h0m2 1h0m0-3h0m15 2h0m12 2h0m2-2h0m5-2h0m11 1h0m3-2h0m11 5h0m4-1h0m2-2h0m1 0h0m9 1h0m2 2h0m1-3h0m13 0h0m5 2h0m19 2h0m20-6h0m8 6h0m2-5h0m3 1h0m190 0h0m20 4h0m-355 2h0m11-1h0m22 3h0m5 1h0m1-4h0m11 0h0m2 4h0m0 1h0m13-5h0m2-1h0m9 5h0m13-3h0m1 4h0m5-2h0m11-2h0m7 1h0m16-2h0m5 0h0m3-1h0m1 3h0m4-1h0m15 3h0m9-3h0m159 1h0m0-1h0m31 0h0m27 4h0m-393 3h0m2 2h0m6 1h0m21-2h0m12-2h0m5 0h0m6 2h0m3 1h0m4-4h0m3 3h0m6 0h0m32-1h0m12 0h0m1-2h0m17 3h0m3 1h0m11-4h0m7 2h0m6 1h0m6-2h0m9-1h0m217 3h0m-388 5h0m4-2h0m12 3h0m9 0h0m9 0h0m23 0h0m45-1h0m8 2h0m5-1h0m6-1h0m14 2h0m4-2h0m2-2h0m4-1h0m10 6h0m3-6h0m-169 11h0m8-3h0m5 2h0m8-3h0m18-1h0m5 3h0m7 1h0m9-3h0m9-1h0m4 2h0m1 3h0m4-5h0m38 6h0m8 0h0m16-2h0m2-3h0m6 0h0m0 2h0m0-3h0m3 0h0m4 5h0m3-2h0m0-1h0m1 3h0m11-1h0m214-3h0m3-1h0m90 6h0m-476 4h0m4-3h0m14 4h0m5-5h0m18 4h0m8-3h0m16 3h0m6-1h0m10 0h0m50-1h0m10 1h0m5 2h0m14 0h0m1-2h0m4-3h0m0 3h0m3-1h0m4-2h0m5 5h0m1-2h0m212 1h0m64-4h0m6 3h0m13-1h0m2 0h0m4 3h0m2-2h0m5 0h0m3-2h0m9 2h0m6 0h0m4-2h0m1 1h0m0-1h0m3 0h0m7 0h0m-613 9h0m13 0h0m84-1h0m4-1h0m1-2h0m2 3h0m14-2h0m43 3h0m5 0h0m66-3h0m1 4h0m3 0h0m24-4h0m227 1h0m84-1h0m6 1h0m1 0h0m3-1h0m-571 8h0m3 2h0m1 0h0m73-5h0m12 0h0m1 3h0m1-2h0m5 1h0m20-1h0m3 0h0m18 1h0m2-1h0m24 0h0m36 2h0m4-2h0m25 4h0m24-4h0m226 1h0m1-1h0m79 2h0m2-3h0m4 1h0m-570 10h0m6-2h0m4 2h0m2-2h0m3 0h0m2-2h0m5 5h0m54-4h0m7-2h0m1 1h0m5 2h0m4 0h0m3 0h0m13 1h0m23-2h0m25 4h0m4-4h0m3 2h0m4-3h0m42 1h0m12-1h0m10 4h0m10-4h0m3 1h0m17 0h0m2 0h0m0 3h0m216-5h0m1 4h0m-481 8h0m13-1h0m1-4h0m2 5h0m12-1h0m35 0h0m10-1h0m4 0h0m6 0h0m0 2h0m16-1h0m5-3h0m19-1h0m15 5h0m3-5h0m10 3h0m3 1h0m2-3h0m0-2h0m5 2h0m63 2h0m0-2h0m11 1h0m25-1h0m10 0h0m1 0h0m2 0h0m-277 7h0m2-2h0m0-1h0m5 4h0m25-1h0m6 0h0m17 2h0m10-3h0m20-2h0m3 3h0m0 3h0m4-2h0m15-2h0m64-2h0m42 2h0m2 2h0m9-1h0m10 1h0m14 1h0m9-3h0m1 4h0m11-4h0m15-1h0m2 5h0m2 0h0m193-6h0m-481 11h0m13-5h0m6 6h0m5 0h0m5-6h0m1 1h0m1 3h0m0 0h0m3-2h0m6 1h0m2 3h0m13 0h0m27-6h0m7 1h0m1 4h0m13-1h0m7-1h0m7 1h0m15-1h0m2 1h0m3-2h0m2 3h0m2-2h0m1-1h0m1-2h0m6 5h0m12-2h0m60-1h0m3 0h0m3 1h0m3-2h0m8 5h0m7-4h0m22 1h0m0 0h0m5-1h0m7 3h0m2 1h0m1-2h0m0-1h0m9-1h0m163 3h0m3-4h0m1 3h0m1 0h0m3-4h0m5 2h0m-476 9h0m27 1h0m0-3h0m7 2h0m9 1h0m2-4h0m1 0h0m16-2h0m1 3h0m22-1h0m2 2h0m14-4h0m13 5h0m1-4h0m3-1h0m12 4h0m6-4h0m5 4h0m31-3h0m3 1h0m1-1h0m67 3h0m12-1h0m5-2h0m6-1h0m7 5h0m1-3h0m2 3h0m0-5h0m2 4h0m9-2h0m0 1h0m11 1h0m4 1h0m-310 4h0m0 1h0m30 0h0m3-3h0m3 4h0m17-3h0m6 0h0m8 3h0m9 0h0m19-4h0m9 1h0m13 3h0m4-2h0m5 0h0m6 1h0m4 0h0m9 0h0m13 0h0m1 0h0m2-1h0m5-2h0m1 2h0m19-2h0m2 3h0m4-3h0m3 5h0m1-3h0m49 0h0m29-2h0m6 4h0m28 0h0m-304 6h0m0-5h0m7 5h0m9 0h0m1-2h0m0-1h0m5 3h0m11 0h0m10-2h0m14 0h0m62-1h0m12-1h0m3 1h0m10-2h0m3 5h0m9 0h0m5-3h0m22 1h0m3-2h0m5 5h0m49-4h0m1-1h0m17 2h0m9 2h0m14-5h0m1 4h0m2 0h0m2-4h0m14 1h0m-311 6h0m2 4h0m5-2h0m4-2h0m7 4h0m4-5h0m3 5h0m10-3h0m0 2h0m1-4h0m4 4h0m12 1h0m2 1h0m8-2h0m6-2h0m7 0h0m0 0h0m2 3h0m9-4h0m21 2h0m7-3h0m22 3h0m2 2h0m10-1h0m13-2h0m1 1h0m10 0h0m6 1h0m11 0h0m10-4h0m49 6h0m6-6h0m1 6h0m6-4h0m4 0h0m8 0h0m2-1h0m3 1h0m11 3h0m1 0h0m5-2h0m4 1h0m15 2h0m2-5h0m-323 6h0m7 2h0m17-2h0m4 1h0m41 0h0m3 4h0m2-1h0m2 0h0m2-4h0m3 1h0m19 2h0m18-4h0m7 5h0m21-4h0m3 0h0m15-1h0m11 1h0m1 3h0m10-3h0m3 5h0m65-3h0m6-2h0m8-1h0m9 3h0m5 0h0m5-3h0m2 2h0m1 4h0m9-5h0m5 4h0m11-4h0m1 0h0m2 2h0m2-2h0m-308 10h0m7-2h0m6-1h0m2 3h0m12-1h0m14 1h0m4-4h0m28 0h0m1 2h0m1-2h0m2 3h0m11-3h0m0 1h0m3-1h0m9 4h0m15 1h0m4-5h0m1 4h0m13-2h0m9 1h0m12-3h0m19 1h0m2 0h0m73 2h0m1-2h0m14 2h0m4 2h0m4-5h0m0 4h0m3 1h0m13-2h0m1 0h0m1 0h0m0-1h0m1 1h0m10-3h0m3 1h0m-302 9h0m38 1h0m20-4h0m8 4h0m8-5h0m6 1h0m20 3h0m0-2h0m6 0h0m1-2h0m5 3h0m7 1h0m9-5h0m113 3h0m3-2h0m2 3h0m2-1h0m1 2h0m3 1h0m2-1h0m13 0h0m2-2h0m2-1h0m15 0h0m4-1h0m1 2h0m-299 4h0m2 5h0m4-5h0m12 0h0m0 0h0m13 2h0m2 2h0m2-2h0m17-1h0m2-2h0m5 3h0m4 3h0m2-2h0m3-3h0m2 4h0m14-1h0m2-3h0m4 1h0m15 3h0m5-1h0m139-2h0m13-2h0m0 2h0m11 1h0m4-1h0m1 1h0m11-3h0m3 1h0m250 3h0m-535 6h0m10 1h0m4-4h0m3 4h0m0 0h0m14-1h0m9-3h0m8 4h0m5-3h0m1 1h0m0 1h0m2 2h0m1-5h0m19 3h0m1-4h0m0 4h0m4-3h0m1-1h0m2 3h0m6 1h0m5-3h0m3 4h0m0-3h0m1 3h0m5-2h0m14-2h0m133 3h0m4-2h0m1-1h0m5 0h0m4 1h0m4-2h0m6 2h0m224 2h0m1 1h0m4 0h0m2-1h0m8-1h0m1 1h0m2-1h0m0 0h0m3-1h0m-512 8h0m1-2h0m8 4h0m6-4h0m3 2h0m2-1h0m9 3h0m2-1h0m3-1h0m1 2h0m6 0h0m7-1h0m2-2h0m1 1h0m3 0h0m4 1h0m2 0h0m20 0h0m12 0h0m1-5h0m4 0h0m4 4h0m6 0h0m368 1h0m4-3h0m2-1h0m2 5h0m1-4h0m1 4h0m4-4h0m1 0h0m2-2h0m1 4h0m0 1h0m19-3h0m13-2h0m-529 6h0m14 4h0m10-3h0m1 2h0m16-1h0m1 3h0m5-5h0m3 5h0m5-3h0m5-1h0m6 3h0m16-1h0m388 0h0m3-2h0m12 3h0m2-3h0m7 4h0m7-4h0m4 2h0m1-3h0m-503 9h0m10-2h0m0 2h0m41-2h0m4-1h0m17 6h0m4-1h0m18-1h0m8 1h0m373 1h0m11-2h0m9 2h0m1-1h0m-493 5h0m11 0h0m13-2h0m2 2h0m4-2h0m13-2h0m9 2h0m12 4h0m5-1h0m1-3h0m2-2h0m1 0h0m5 0h0m0 0h0m11 0h0m-74 8h0m3-1h0m7 4h0m33-5h0m0 2h0m2-1h0m10 2h0m8-2h0m1 4h0m1-1h0m6-1h0m-59 6h0m3 0h0m22-1h0m8 2h0m205 40h0m222 11h0m3 2h0m1 2h0m52-2h0m-233 8h0m1-5h0m9 1h0m6 2h0m1 1h0m0 2h0m1-1h0m157-4h0m7 0h0m44 2h0m-243 6h0m9 1h0m1 0h0m8-2h0m1 2h0m2-3h0m1-1h0m13 1h0m3 0h0m157 5h0m3 0h0m2-1h0m3-2h0m34-1h0m4 4h0m1-2h0m1 1h0m3-3h0m-258 8h0m3 0h0m4 0h0m19-1h0m16-3h0m3 5h0m8 0h0m139-3h0m4 3h0m14-3h0m5 0h0m3 3h0m1 0h0m32-4h0m5 5h0m-258 2h0m5 2h0m11-2h0m0-1h0m0 5h0m1-3h0m28-3h0m3 3h0m1-3h0m169 3h0m8-1h0m6 1h0m1 2h0m23 0h0m9-3h0m-264 5h0m31 4h0m15-4h0m2 2h0m5 0h0m3 1h0m6 0h0m134 1h0m5-2h0m4-2h0m16 1h0m6 2h0m3-2h0m5-1h0m2 4h0m7 1h0m1-3h0m3 2h0m-259 5h0m1 1h0m20 1h0m4-4h0m1 1h0m12-2h0m1 1h0m5-1h0m1 4h0m8 0h0m3-1h0m8-2h0m1-1h0m11 3h0m6-2h0m1 2h0m124-1h0m6-3h0m1 4h0m4 0h0m15 1h0m4-5h0m6 4h0m1-1h0m2-1h0m11 3h0m3-4h0m6 0h0m1 4h0m10 1h0m-286 0h0m2 5h0m4 0h0m5-3h0m1-1h0m6 3h0m0-4h0m18 4h0m1-2h0m3 1h0m1 3h0m0-3h0m8 1h0m3-3h0m14 3h0m1 0h0m0-3h0m5 1h0m1 0h0m3-1h0m1 1h0m141 1h0m10-2h0m3 4h0m2-5h0m14 4h0m2 2h0m3 0h0m2-3h0m6-2h0m5 2h0m15 2h0m-285 4h0m1-1h0m1 4h0m14-5h0m3-1h0m2 2h0m41-1h0m8 2h0m3-2h0m0 3h0m157 2h0m14-3h0m1 0h0m19-1h0m32 1h0m-288 6h0m0-1h0m10-2h0m7 2h0m3 1h0m3 1h0m19-2h0m8 0h0m1-1h0m8-1h0m5 2h0m1-1h0m7-1h0m148 1h0m19 1h0m3-1h0m1 3h0m4-4h0m5 5h0m2-3h0m1 2h0m6 2h0m1 0h0m9-5h0m3 3h0m8-2h0m8 2h0m-275 2h0m4 3h0m3 1h0m6 1h0m24-2h0m5-1h0m180-1h0m3 3h0m3-1h0m8 1h0m11 1h0m2-3h0m0 1h0m11 1h0m1-3h0m7 5h0m14-1h0m-277 7h0m7-1h0m9-3h0m4 1h0m6 3h0m4-3h0m3-2h0m182 1h0m6-1h0m1 3h0m7 2h0m17-5h0m18 1h0m12 1h0m-258 5h0m9-1h0m182 3h0m4 0h0m1-2h0m3 2h0m25-1h0m6-1h0m26 2h0m-274 8h0m3-2h0m10 2h0m2-2h0m7-1h0m2 1h0m5 1h0m9-1h0m174-1h0m9 2h0m10 1h0m0-4h0m9 0h0m13-1h0m2 1h0m12 3h0m8-5h0m5 5h0m4-4h0m-285 9h0m16-1h0m9 2h0m2-5h0m184 3h0m3-1h0m3 2h0m5 0h0m0-3h0m10-1h0m12 0h0m4 2h0m4 1h0m3 0h0m1-1h0m4 3h0m5-3h0m8 0h0m2-1h0m4 3h0m-280 4h0m1 2h0m1-3h0m10 2h0m13 0h0m195 3h0m1-3h0m1 1h0m3-1h0m4 2h0m0-1h0m1 1h0m1-4h0m4 0h0m6 0h0m0 2h0m4 2h0m6-1h0m21-1h0m0-1h0m15 0h0m-289 5h0m3 0h0m234 1h0m0 1h0m7 1h0m21-2h0m2 2h0m17 1h0m-286 1h0m4 1h0m249 0h0m2 0h0m9 0h0m4 0h0m6 1h0m2 3h0" stroke="#7698CF"/>
<path d="M603 600h0m6 2h0m0 0h0m3 0h0m13-2h0m1 3h0m3-2h0m-22 6h0m5-3h0m1 1h0m13-1h0m0 3h0m2-4h0m3 1h0m0 4h0m-19 6h0m1-4h0m0 2h0m5-3h0m-1 8h0m1 1h0m2 2h0m-2 2h0m4 4h0m3-1h0m-6 3h0m4-1h0m0 0h0m4 1h0m1 0h0" stroke="#4DC553"/>
<path d="M680 594h0m2 7h0m4 4h0m-63 15h0m4-2h0m4 0h0m3 0h0m4 0h0m1 1h0m6 1h0m3 1h0m-25 3h0m1 3h0m1-6h0m0 4h0m2 0h0m0-1h0m0 3h0m4-1h0m1-1h0m2 2h0m0-5h0m6 0h0m0 4h0m1-1h0m1-2h0m3 1h0m1-1h0m4 1h0m0-2h0m3 4h0m2-2h0m0 1h0m22-2h0m-54 6h0m2 3h0m1-1h0m3 1h0m1-3h0m1 0h0m1 1h0m1 2h0m5-1h0m0-1h0m1 0h0m3-3h0m0 3h0m0 0h0m1 3h0m1 0h0m0-1h0m1-3h0m1-1h0m1 1h0m1 3h0m1-4h0m0 5h0m1 0h0m1-5h0m0 2h0m0 1h0m5 1h0m1-2h0m2-2h0m1 1h0m0 0h0m0 1h0m0-1h0m14 3h0m-44 1h0m4 1h0m0 4h0m4 0h0m2 1h0m0 0h0m1-2h0m4-1h0m6 0h0m1 1h0m2 1h0m1-1h0m0-2h0m0 2h0m5 1h0m0-4h0m21 1h0m6-2h0m-57 6h0m5 2h0m3 1h0m6-3h0m0 1h0m2 0h0m2 5h0m3-5h0m1 1h0m1-1h0m1 2h0m2 0h0m3-2h0m-19 6h0m4 0h0m8-1h0" stroke="#7698CF"/>
<path d="M670 590h0m1-1h0m1 1h0m2-2h0m1-1h0m-8 9h0m0-4h0m1 2h0m1 1h0m0 0h0m0 0h0m2 1h0m1-3h0m2 0h0m0 2h0m1 1h0m0-1h0m3-1h0m1 1h0m1 2h0m-14 1h0m1 2h0m3 0h0m2-2h0m1 3h0m1 1h0m3-2h0m2 0h0m0 2h0m1-1h0m0-2h0m0-2h0m2 5h0m-14 3h0m1 0h0m0 3h0m0 0h0m2-3h0m0 4h0m1-4h0m1 1h0m0 2h0m1-1h0m0 1h0m2 1h0m1-4h0m2 4h0m0-5h0m1-1h0m0 0h0m0 4h0m0-3h0m1 1h0m0 0h0m1-1h0m0 1h0m0 1h0m1 2h0m0-3h0m1 3h0m2 0h0m-15 7h0m1-4h0m1 0h0m0 0h0m1 2h0m0-4h0m1 0h0m0 5h0m0-2h0m0 2h0m4 1h0m1-5h0m0 3h0m1-2h0m0-1h0m3 5h0m2-4h0m0 0h0m0-2h0m3 5h0m-19 3h0m1-1h0m0 4h0m1-3h0m0 0h0m2-1h0m0-1h0m1 1h0m0 2h0m3 0h0m0-2h0m1 4h0m0-2h0m0 0h0m2-1h0m1-1h0m0 3h0m2-1h0m1-2h0m3-1h0m-17 9h0m2 1h0m1 2h0m1-5h0m1 4h0m0-2h0m1-1h0m0-1h0m0 4h0m2-1h0m3 1h0m0-4h0m0 3h0m1 0h0m1-3h0m0 0h0m0 1h0m0 0h0m2 1h0m1-2h0m0 0h0m0 4h0m2-2h0m0 2h0m0-4h0m-17 9h0m1-2h0m2-1h0m1 3h0m1 0h0m2 1h0m0-2h0m1 2h0m1-2h0m1-2h0m0 4h0m0-4h0m0 0h0m2 4h0m0 0h0m0-5h0m2 3h0m0 3h0m1-4h0m2 0h0m0-1h0m-14 8h0m1-3h0m1 5h0m0-2h0m2 2h0m1-1h0m0-2h0m1 0h0m1 0h0m0 3h0m1-3h0m0 4h0m1-4h0m1 0h0m1 1h0m1-2h0m0 5h0m1-3h0m2-2h0m1 3h0m-12 4h0m10-1h0" stroke="#C772B7"/>
</g>
<g font-size="24.8" fill="#000">
<circle cx="576" cy="18.7" r="8.9" fill="#EA6D69"/>
<text x="606.6" y="27.6">Pool1_TBG</text>
<circle cx="576" cy="50.4" r="8.9" fill="#B2A53C"/>
<text x="606.6" y="59.3">Pool1_VEH</text>
<circle cx="576" cy="82.1" r="8.9" fill="#4DC553"/>
<text x="606.6" y="91.0">Pool2_5MEO</text>
<circle cx="576" cy="113.9" r="8.9" fill="#60D2C6"/>
<text x="606.6" y="122.8">Pool2_TBG</text>
<circle cx="576" cy="145.6" r="8.9" fill="#7698CF"/>
<text x="606.6" y="154.5">Pool3_5MEO</text>
<circle cx="576" cy="177.3" r="8.9" fill="#C772B7"/>
<text x="606.6" y="186.2">Pool3_VEH</text>
</g></g>
<g id="panel-b"><path d="M908.6 33.7V638.6H1467.3" stroke="#000" stroke-width="4.8" fill="none" stroke-linejoin="miter"/>
<path d="M903.8 610.6h3M903.8 448.1h3M903.8 285.6h3M903.8 123.1h3M961.8 640.5v3M1052.0 640.5v3M1142.5 640.5v3M1231.8 640.5v3M1321.2 640.5v3M1411.0 640.5v3" stroke="#000" stroke-width="3.6" fill="none"/>
<path d="M922.4 610.6l0.3-2 0.6-1.9 1-1.9 1.5-2 1.7-2 2-1.9 2.2-1.9 2.4-2 2.5-1.9 2.5-2 2.5-1.9 2.4-2 2.3-2 2.1-1.9 2-1.9 1.8-2 1.6-2 1.5-1.9 1.2-1.9 1.1-2 0.8-2 0.8-1.9 0.6-1.9 0.5-2 0.4-2 0.3-1.9 0.2-1.9 0.2-2 0.1-1.9 0-2 0-1.9-0.1-2-0.1-2-0.1-1.9-0.2-1.9-0.3-2-0.3-2-0.4-1.9-0.5-1.9-0.6-2-0.6-2-0.7-1.9-0.8-1.9-0.9-2-1-2-1-1.9-1.1-1.9-1-2-1.1-1.9-1.1-2-1-1.9-1-2-0.8-2-0.8-1.9-0.6-1.9-0.4-2-0.2-2-0.1-1.9 0.2-1.9 0.3-2 0.5-2 0.6-1.9 0.7-1.9 0.9-2 1-2 1-1.9 1-1.9 1-2 0.9-2 0.9-1.9 0.8-1.9 0.8-2 0.6-2 0.4-1.9 0.4-1.9 0.2-2 0.2-2 0-1.9-0.1-1.9-0.2-2-0.3-2-0.3-1.9-0.4-1.9-0.4-2-0.4-2-0.4-1.9-0.4-1.9-0.3-2-0.2-2-0.2-1.9-0.1-1.9-0.1-2 0-2 0.1-1.9 0.2-1.9 0.2-2 0.3-2 0.3-1.9 0.3-1.9 0.4-2 0.3-2 0.3-1.9 0.3-1.9 0.2-2 0.2-2 0.1-1.9 0.2-1.9 0-2 0.1-2 0-1.9 0-1.9 0-2 0-2-0.1-1.9 0-1.9 0.1-2 0-2 0-1.9 0.1-1.9 0-2 0.1-1.9 0.1-2 0.1-1.9 0.1-2 0.1-2 0.1-1.9 0.1-1.9 0.1-2 0-2 0.1-1.9 0-1.9 0.1-2 0-2 0.1-1.9 0-1.9 0.1-2 0-2 0.1-1.9 0-1.9 0.1-2 0-1.9 0.1-2 0-1.9 0.1-2 0-2 0.1-1.6 0.2-8.1 0.2-8.1 0.2-8.2 0.1-8.1 0.2-8.1 0.2-8.1 0.2-8.2 0.2-8.1 0.1-8.1 0.2-8.1 0.2-8.2 0.1-8.1 0.2-8.1 0.1-8.1 0.2-8.2 0.1-8.1 0.1-8.1 0.2-8.1 0-8.2 0-8.1 0-8.1 0-8.1 0-6.6 0.2 0 0 6.6 0 8.1 0 8.1 0 8.1 0.1 8.2 0.2 8.1 0.1 8.1 0.1 8.1 0.2 8.2 0.1 8.1 0.2 8.1 0.1 8.1 0.2 8.2 0.2 8.1 0.1 8.1 0.2 8.1 0.2 8.2 0.2 8.1 0.2 8.1 0.1 8.1 0.2 8.2 0.2 8.1 0.2 8.1 0.1 1.6 0 2 0.1 2 0 1.9 0.1 2 0 1.9 0.1 2 0 1.9 0.1 1.9 0 2 0.1 2 0 1.9 0.1 1.9 0 2 0.1 2 0 1.9 0.1 1.9 0 2 0.1 2 0.1 1.9 0.1 1.9 0.1 2 0.1 2 0.1 1.9 0.1 2 0.1 1.9 0 2 0.1 1.9 0 1.9 0 2 0.1 2 0 1.9-0.1 1.9 0 2 0 2 0 1.9 0 1.9 0.1 2 0 2 0.2 1.9 0.1 1.9 0.2 2 0.2 2 0.3 1.9 0.3 1.9 0.3 2 0.4 2 0.3 1.9 0.3 1.9 0.3 2 0.2 2 0.2 1.9 0.1 1.9 0 2-0.1 2-0.1 1.9-0.2 1.9-0.2 2-0.3 2-0.4 1.9-0.4 1.9-0.4 2-0.4 2-0.4 1.9-0.3 1.9-0.3 2-0.2 2-0.1 1.9 0 1.9 0.2 2 0.2 2 0.4 1.9 0.4 1.9 0.6 2 0.8 2 0.8 1.9 0.9 1.9 0.9 2 1 2 1 1.9 1 1.9 1 2 0.9 2 0.7 1.9 0.6 1.9 0.5 2 0.3 2 0.2 1.9-0.1 1.9-0.2 2-0.4 2-0.6 1.9-0.8 1.9-0.8 2-1 2-1 1.9-1.1 2-1.1 1.9-1 2-1.1 1.9-1 1.9-1 2-0.9 2-0.8 1.9-0.7 1.9-0.6 2-0.6 2-0.5 1.9-0.4 1.9-0.3 2-0.3 2-0.2 1.9-0.1 1.9-0.1 2-0.1 2 0 1.9 0 2 0.1 1.9 0.2 2 0.2 1.9 0.3 1.9 0.4 2 0.5 2 0.6 1.9 0.8 1.9 0.8 2 1.1 2 1.2 1.9 1.5 1.9 1.6 2 1.8 2 2 1.9 2.1 1.9 2.3 2 2.4 2 2.5 1.9 2.5 2 2.5 1.9 2.4 2 2.2 1.9 2 1.9 1.7 2 1.5 2 1 1.9 0.6 1.9 0.3 2zM1012.7 610.6l0.2-2 0.7-1.9 1-1.9 1.4-2 1.7-2 2-1.9 2.3-1.9 2.4-2 2.4-1.9 2.5-2 2.5-1.9 2.4-2 2.3-2 2.2-1.9 2-1.9 1.8-2 1.6-2 1.4-1.9 1.2-1.9 1.1-2 0.9-2 0.7-1.9 0.6-1.9 0.5-2 0.4-2 0.3-1.9 0.2-1.9 0.2-2 0.1-1.9 0-2 0-1.9-0.1-2-0.1-2-0.2-1.9-0.2-1.9-0.3-2-0.4-2-0.5-1.9-0.5-1.9-0.7-2-0.7-2-0.8-1.9-1-1.9-1-2-1.1-2-1.2-1.9-1.2-1.9-1.2-2-1.3-1.9-1.2-2-1.2-1.9-1.1-2-1-2-0.8-1.9-0.7-1.9-0.5-2-0.3-2 0-1.9 0.1-1.9 0.4-2 0.5-2 0.8-1.9 0.8-1.9 1-2 1.1-2 1.2-1.9 1.1-1.9 1.2-2 1.1-2 1-1.9 0.9-1.9 0.9-2 0.6-2 0.6-1.9 0.4-1.9 0.3-2 0.1-2 0-1.9-0.2-1.9-0.2-2-0.3-2-0.4-1.9-0.5-1.9-0.4-2-0.5-2-0.5-1.9-0.4-1.9-0.3-2-0.3-2-0.3-1.9-0.1-1.9 0-2 0-2 0.1-1.9 0.3-1.9 0.2-2 0.4-2 0.4-1.9 0.4-1.9 0.4-2 0.4-2 0.4-1.9 0.4-1.9 0.3-2 0.3-2 0.2-1.9 0.2-1.9 0.1-2 0.1-2 0.1-1.9 0.1-1.9 0-2 0-2 0-1.9 0-1.9 0.1-2 0-2 0.1-1.9 0-1.9 0.1-2 0.1-1.9 0.1-2 0.1-1.9 0.1-2 0.1-2 0.2-1.9 0-1.9 0.1-2 0.1-2 0.1-1.9 0.1-1.9 0-2 0.1-2 0-1.9 0.1-1.9 0-2 0.1-2 0-1.9 0.1-1.9 0-2 0.1-1.9 0.1-2 0-1.9 0.1-2 0-2 0.1-1.6 0.2-8.1 0.2-8.1 0.2-8.2 0.2-8.1 0.2-8.1 0.2-8.1 0.2-8.2 0.2-8.1 0.2-8.1 0.2-8.1 0.1-8.2 0.2-8.1 0.1-8.1 0.2-8.1 0.1-8.2 0.1-8.1 0-8.1 0-8.1 0-8.2 0-1.3 0.2 0 0 1.3 0 8.2 0 8.1 0 8.1 0.1 8.1 0.1 8.2 0.2 8.1 0.1 8.1 0.2 8.1 0.1 8.2 0.2 8.1 0.2 8.1 0.2 8.1 0.2 8.2 0.2 8.1 0.2 8.1 0.2 8.1 0.2 8.2 0.2 8.1 0.2 8.1 0.1 1.6 0 2 0.1 2 0 1.9 0.1 2 0.1 1.9 0 2 0.1 1.9 0 1.9 0.1 2 0 2 0.1 1.9 0 1.9 0.1 2 0 2 0.1 1.9 0.1 1.9 0.1 2 0.1 2 0 1.9 0.2 1.9 0.1 2 0.1 2 0.1 1.9 0.1 2 0.1 1.9 0.1 2 0 1.9 0.1 1.9 0 2 0.1 2 0 1.9 0 1.9 0 2 0 2 0.1 1.9 0.1 1.9 0.1 2 0.1 2 0.2 1.9 0.2 1.9 0.3 2 0.3 2 0.4 1.9 0.4 1.9 0.4 2 0.4 2 0.4 1.9 0.4 1.9 0.4 2 0.2 2 0.3 1.9 0.1 1.9 0 2 0 2-0.1 1.9-0.3 1.9-0.3 2-0.3 2-0.4 1.9-0.5 1.9-0.5 2-0.4 2-0.5 1.9-0.4 1.9-0.3 2-0.2 2-0.2 1.9 0 1.9 0.1 2 0.3 2 0.4 1.9 0.6 1.9 0.6 2 0.9 2 0.9 1.9 1 1.9 1.1 2 1.2 2 1.1 1.9 1.2 1.9 1.1 2 1 2 0.8 1.9 0.8 1.9 0.5 2 0.4 2 0.1 1.9 0 1.9-0.3 2-0.5 2-0.7 1.9-0.8 1.9-1 2-1.1 2-1.2 1.9-1.2 2-1.3 1.9-1.2 2-1.2 1.9-1.2 1.9-1.1 2-1 2-1 1.9-0.8 1.9-0.7 2-0.7 2-0.5 1.9-0.5 1.9-0.4 2-0.3 2-0.2 1.9-0.2 1.9-0.1 2-0.1 2 0 1.9 0 2 0.1 1.9 0.2 2 0.2 1.9 0.3 1.9 0.4 2 0.5 2 0.6 1.9 0.7 1.9 0.9 2 1.1 2 1.2 1.9 1.4 1.9 1.6 2 1.8 2 2 1.9 2.2 1.9 2.3 2 2.4 2 2.5 1.9 2.5 2 2.4 1.9 2.4 2 2.3 1.9 2 1.9 1.7 2 1.4 2 1 1.9 0.7 1.9 0.2 2zM1103.2 610.6l0.2-2 0.7-1.9 1-1.9 1.4-2 1.7-2 2-1.9 2.3-1.9 2.4-2 2.4-1.9 2.5-2 2.5-1.9 2.4-2 2.3-2 2.2-1.9 2-1.9 1.8-2 1.6-2 1.4-1.9 1.3-1.9 1-2 0.9-2 0.8-1.9 0.6-1.9 0.5-2 0.4-2 0.3-1.9 0.2-1.9 0.2-2 0.1-1.9 0.1-2 0-1.9 0-2-0.1-2 0-1.9-0.2-1.9-0.1-2-0.2-2-0.3-1.9-0.3-1.9-0.4-2-0.5-2-0.5-1.9-0.6-1.9-0.7-2-0.7-2-0.8-1.9-0.9-1.9-0.8-2-0.9-1.9-0.9-2-0.8-1.9-0.8-2-0.7-2-0.6-1.9-0.5-1.9-0.4-2-0.2-2 0-1.9 0.1-1.9 0.3-2 0.4-2 0.5-1.9 0.7-1.9 0.7-2 0.8-2 0.8-1.9 0.8-1.9 0.8-2 0.8-2 0.7-1.9 0.7-1.9 0.5-2 0.5-2 0.4-1.9 0.2-1.9 0.2-2 0-2 0-1.9-0.1-1.9-0.2-2-0.3-2-0.3-1.9-0.3-1.9-0.4-2-0.4-2-0.3-1.9-0.3-1.9-0.3-2-0.2-2-0.2-1.9-0.1-1.9 0-2 0-2 0.1-1.9 0.2-1.9 0.2-2 0.3-2 0.2-1.9 0.3-1.9 0.3-2 0.3-2 0.3-1.9 0.2-1.9 0.2-2 0.2-2 0.1-1.9 0.1-1.9 0.1-2 0-2 0-1.9 0-1.9 0-2-0.1-2 0-1.9 0-1.9 0-2 0-2 0-1.9 0.1-1.9 0-2 0.1-1.9 0.1-2 0-1.9 0.1-2 0.1-2 0-1.9 0.1-1.9 0-2 0.1-2 0-1.9 0-1.9 0-2 0.1-2 0-1.9 0-1.9 0-2 0.1-2 0-1.9 0-1.9 0.1-2 0-1.9 0-2 0.1-1.9 0-2 0.1-2 0-1.6 0.1-8.1 0.2-8.1 0.1-8.2 0.2-8.1 0.1-8.1 0.2-8.1 0.1-8.2 0.1-8.1 0.1-8.1 0.2-8.1 0.1-8.2 0.1-8.1 0.1-8.1 0.1-8.1 0.1-8.2 0.2-8.1 0.1-8.1 0-8.1 0-8.2 0-8.1 0-8.1 0-8.1 0-6.6 0.2 0 0 6.6 0 8.1 0 8.1 0 8.1 0 8.2 0 8.1 0.1 8.1 0.2 8.1 0.1 8.2 0.1 8.1 0.1 8.1 0.1 8.1 0.1 8.2 0.2 8.1 0.1 8.1 0.1 8.1 0.1 8.2 0.2 8.1 0.1 8.1 0.2 8.1 0.1 8.2 0.2 8.1 0.1 8.1 0 1.6 0.1 2 0 2 0.1 1.9 0 2 0 1.9 0.1 2 0 1.9 0 1.9 0.1 2 0 2 0 1.9 0 1.9 0.1 2 0 2 0 1.9 0 1.9 0.1 2 0 2 0.1 1.9 0 1.9 0.1 2 0.1 2 0 1.9 0.1 2 0.1 1.9 0 2 0.1 1.9 0 1.9 0 2 0 2 0 1.9 0 1.9-0.1 2 0 2 0 1.9 0 1.9 0 2 0.1 2 0.1 1.9 0.1 1.9 0.2 2 0.2 2 0.2 1.9 0.3 1.9 0.3 2 0.3 2 0.3 1.9 0.2 1.9 0.3 2 0.2 2 0.2 1.9 0.1 1.9 0 2 0 2-0.1 1.9-0.2 1.9-0.2 2-0.3 2-0.3 1.9-0.3 1.9-0.4 2-0.4 2-0.3 1.9-0.3 1.9-0.3 2-0.2 2-0.1 1.9 0 1.9 0 2 0.2 2 0.2 1.9 0.4 1.9 0.5 2 0.5 2 0.7 1.9 0.7 1.9 0.8 2 0.8 2 0.8 1.9 0.8 1.9 0.8 2 0.7 2 0.7 1.9 0.5 1.9 0.4 2 0.3 2 0.1 1.9 0 1.9-0.2 2-0.4 2-0.5 1.9-0.6 1.9-0.7 2-0.8 2-0.8 1.9-0.9 2-0.9 1.9-0.8 2-0.9 1.9-0.8 1.9-0.7 2-0.7 2-0.6 1.9-0.5 1.9-0.5 2-0.4 2-0.3 1.9-0.3 1.9-0.2 2-0.1 2-0.2 1.9 0 1.9-0.1 2 0 2 0 1.9 0.1 2 0.1 1.9 0.2 2 0.2 1.9 0.3 1.9 0.4 2 0.5 2 0.6 1.9 0.8 1.9 0.9 2 1 2 1.3 1.9 1.4 1.9 1.6 2 1.8 2 2 1.9 2.2 1.9 2.3 2 2.4 2 2.5 1.9 2.5 2 2.4 1.9 2.4 2 2.3 1.9 2 1.9 1.7 2 1.4 2 1 1.9 0.7 1.9 0.2 2zM1192.4 610.6l0.5-2 1.2-1.9 2-1.9 2.6-2 3.1-2 3.3-1.9 3.5-1.9 3.5-2 3.3-1.9 3.1-2 2.7-1.9 2.4-2 2-2 1.6-1.9 1.3-1.9 1-2 0.8-2 0.5-1.9 0.4-1.9 0.3-2 0.1-2 0-1.9 0-1.9 0-2 0-2 0-1.9 0-1.9 0-2 0-1.9 0-2 0-1.9 0-2 0-2 0-1.9 0-1.9 0-2 0-2 0-1.9 0-1.9 0-2 0-2-0.1-1.9-0.3-1.9-0.4-2-0.5-2-0.7-1.9-0.8-1.9-1-2-1.1-1.9-1.3-2-1.3-1.9-1.4-2-1.3-2-1.3-1.9-1-1.9-0.8-2-0.4-2-0.1-1.9 0.2-1.9 0.6-2 0.9-2 1.2-1.9 1.3-1.9 1.4-2 1.3-2 1.3-1.9 1.2-1.9 1.1-2 0.9-2 0.7-1.9 0.6-1.9 0.4-2 0.3-2 0.2-1.9 0.1-1.9 0-2-0.1-2-0.1-1.9-0.3-1.9-0.3-2-0.5-2-0.5-1.9-0.6-1.9-0.7-2-0.7-2-0.7-1.9-0.7-1.9-0.6-2-0.6-2-0.3-1.9-0.2-1.9 0-2 0.1-2 0.4-1.9 0.5-1.9 0.6-2 0.7-2 0.7-1.9 0.7-1.9 0.7-2 0.5-2 0.5-1.9 0.4-1.9 0.3-2 0.2-2 0.1-1.9 0-1.9 0-2-0.1-2-0.2-1.9-0.1-1.9-0.1-2-0.1-2-0.1-1.9 0-1.9 0-2 0-2 0.1-1.9 0.1-1.9 0.1-2 0.1-1.9 0.1-2 0.1-1.9 0.1-2 0-2 0.1-1.9-0.1-1.9 0-2-0.1-2 0-1.9-0.1-1.9 0-2-0.1-2 0-1.9 0-1.9 0-2 0-2 0.1-1.9 0.1-1.9 0-2 0.1-1.9 0-2 0-1.9 0-2 0-2 0-1.6 0-8.1 0-8.1 0.1-8.2 0-8.1 0.1-8.1 0-8.1 0.1-8.2 0-8.1 0-8.1 0.1-8.1 0-8.2 0.1-8.1 0-8.1 0-8.1 0.1-8.2 0-8.1 0-8.1 0-8.1 0-8.2 0-8.1 0-8.1 0-8.1 0-8.2 0-8.1 0-8.1 0-8.1 0-8.2 0-8.1 0-8.1 0-8.1 0-8.2 0-8.1 0-2.8 0.2 0 0 2.8 0 8.1 0 8.2 0 8.1 0 8.1 0 8.1 0 8.2 0 8.1 0 8.1 0 8.1 0 8.2 0 8.1 0 8.1 0 8.1 0 8.2 0.1 8.1 0 8.1 0 8.1 0.1 8.2 0 8.1 0 8.1 0.1 8.1 0 8.2 0.1 8.1 0 8.1 0 8.1 0.1 8.2 0 8.1 0.1 8.1 0 8.1 0.1 8.2 0 8.1 0 8.1 0 1.6 0 2 0 2 0 1.9 0 2 0.1 1.9 0 2 0.1 1.9 0.1 1.9 0 2 0 2 0 1.9 0 1.9-0.1 2 0 2-0.1 1.9 0 1.9-0.1 2 0 2-0.1 1.9 0.1 1.9 0 2 0.1 2 0.1 1.9 0.1 2 0.1 1.9 0.1 2 0.1 1.9 0.1 1.9 0 2 0 2 0 1.9-0.1 1.9-0.1 2-0.1 2-0.1 1.9-0.2 1.9-0.1 2 0 2 0 1.9 0.1 1.9 0.2 2 0.3 2 0.4 1.9 0.5 1.9 0.5 2 0.7 2 0.7 1.9 0.7 1.9 0.7 2 0.6 2 0.5 1.9 0.4 1.9 0.1 2 0 2-0.2 1.9-0.3 1.9-0.6 2-0.6 2-0.7 1.9-0.7 1.9-0.7 2-0.7 2-0.6 1.9-0.5 1.9-0.5 2-0.3 2-0.3 1.9-0.1 1.9-0.1 2 0 2 0.1 1.9 0.2 1.9 0.3 2 0.4 2 0.6 1.9 0.7 1.9 0.9 2 1.1 2 1.2 1.9 1.3 1.9 1.3 2 1.4 2 1.3 1.9 1.2 1.9 0.9 2 0.6 2 0.2 1.9-0.1 1.9-0.4 2-0.8 2-1 1.9-1.3 1.9-1.3 2-1.4 2-1.3 1.9-1.3 2-1.1 1.9-1 2-0.8 1.9-0.7 1.9-0.5 2-0.4 2-0.3 1.9-0.2 1.9 0 2 0 2 0 1.9 0 1.9 0 2 0 2 0 1.9 0 1.9 0 2 0 2 0 1.9 0 2 0 1.9 0 2 0 1.9 0 1.9 0 2 0 2 0 1.9 0 1.9 0.2 2 0.3 2 0.4 1.9 0.5 1.9 0.8 2 1 2 1.3 1.9 1.6 1.9 2 2 2.4 2 2.7 1.9 3.1 2 3.3 1.9 3.5 2 3.5 1.9 3.3 1.9 3.1 2 2.6 2 2 1.9 1.2 1.9 0.4 2zM1281.9 610.6l0.3-2 0.6-1.9 1-1.9 1.5-2 1.7-2 2-1.9 2.2-1.9 2.4-2 2.5-1.9 2.5-2 2.5-1.9 2.4-2 2.3-2 2.1-1.9 2-1.9 1.8-2 1.6-2 1.5-1.9 1.2-1.9 1.1-2 0.8-2 0.8-1.9 0.6-1.9 0.5-2 0.4-2 0.3-1.9 0.2-1.9 0.1-2 0.1-1.9 0-2 0-1.9-0.1-2-0.2-2-0.2-1.9-0.3-1.9-0.4-2-0.4-2-0.5-1.9-0.7-1.9-0.7-2-0.9-2-1-1.9-1.1-1.9-1.2-2-1.3-2-1.3-1.9-1.5-1.9-1.4-2-1.5-1.9-1.4-2-1.4-1.9-1.3-2-1.1-2-1-1.9-0.8-1.9-0.6-2-0.3-2-0.1-1.9 0.2-1.9 0.4-2 0.7-2 0.8-1.9 1-1.9 1.2-2 1.3-2 1.3-1.9 1.4-1.9 1.3-2 1.3-2 1.2-1.9 1.1-1.9 1-2 0.8-2 0.7-1.9 0.4-1.9 0.4-2 0.1-2 0-1.9-0.1-1.9-0.3-2-0.4-2-0.4-1.9-0.5-1.9-0.6-2-0.5-2-0.5-1.9-0.5-1.9-0.4-2-0.4-2-0.2-1.9-0.2-1.9 0-2 0-2 0.2-1.9 0.3-1.9 0.3-2 0.4-2 0.4-1.9 0.5-1.9 0.5-2 0.5-2 0.5-1.9 0.4-1.9 0.4-2 0.3-2 0.3-1.9 0.2-1.9 0.2-2 0.1-2 0.1-1.9 0.1-1.9 0-2 0-2 0-1.9 0.1-1.9 0-2 0-2 0.1-1.9 0.1-1.9 0.1-2 0.1-1.9 0.1-2 0.1-1.9 0.1-2 0.1-2 0.1-1.9 0.1-1.9 0-2 0.1-2 0.1-1.9 0-1.9 0.1-2 0-2 0.1-1.9 0-1.9 0.1-2 0-2 0.1-1.9 0-1.9 0.1-2 0-1.9 0.1-2 0.1-1.9 0-2 0.1-2 0-1.6 0.3-8.1 0.2-8.1 0.2-8.2 0.2-8.1 0.2-8.1 0.2-8.1 0.2-8.2 0.2-8.1 0.2-8.1 0.2-8.1 0.2-8.2 0.2-8.1 0.1-8.1 0.2-8.1 0.2-8.2 0.1-8.1 0.2-8.1 0.1-8.1 0.1-8.2 0.1-8.1 0-8.1 0-8.1 0-6.6 0.2 0 0 6.6 0 8.1 0 8.1 0 8.1 0.1 8.2 0.1 8.1 0.2 8.1 0.1 8.1 0.2 8.2 0.2 8.1 0.1 8.1 0.2 8.1 0.2 8.2 0.2 8.1 0.2 8.1 0.2 8.1 0.2 8.2 0.2 8.1 0.2 8.1 0.2 8.1 0.2 8.2 0.2 8.1 0.3 8.1 0 1.6 0.1 2 0 2 0.1 1.9 0.1 2 0 1.9 0.1 2 0 1.9 0.1 1.9 0 2 0.1 2 0 1.9 0.1 1.9 0 2 0.1 2 0 1.9 0.1 1.9 0.1 2 0 2 0.1 1.9 0.1 1.9 0.1 2 0.1 2 0.1 1.9 0.1 2 0.1 1.9 0.1 2 0.1 1.9 0.1 1.9 0 2 0 2 0.1 1.9 0 1.9 0 2 0 2 0.1 1.9 0.1 1.9 0.1 2 0.2 2 0.2 1.9 0.3 1.9 0.3 2 0.4 2 0.4 1.9 0.5 1.9 0.5 2 0.5 2 0.5 1.9 0.4 1.9 0.4 2 0.3 2 0.3 1.9 0.2 1.9 0 2 0 2-0.2 1.9-0.2 1.9-0.4 2-0.4 2-0.5 1.9-0.5 1.9-0.5 2-0.6 2-0.5 1.9-0.4 1.9-0.4 2-0.3 2-0.1 1.9 0 1.9 0.1 2 0.4 2 0.4 1.9 0.7 1.9 0.8 2 1 2 1.1 1.9 1.2 1.9 1.3 2 1.3 2 1.4 1.9 1.3 1.9 1.3 2 1.2 2 1 1.9 0.8 1.9 0.7 2 0.4 2 0.2 1.9-0.1 1.9-0.3 2-0.6 2-0.8 1.9-1 1.9-1.1 2-1.3 2-1.4 1.9-1.4 2-1.5 1.9-1.4 2-1.5 1.9-1.3 1.9-1.3 2-1.2 2-1.1 1.9-1 1.9-0.9 2-0.7 2-0.7 1.9-0.5 1.9-0.4 2-0.4 2-0.3 1.9-0.2 1.9-0.2 2-0.1 2 0 1.9 0 2 0.1 1.9 0.1 2 0.2 1.9 0.3 1.9 0.4 2 0.5 2 0.6 1.9 0.8 1.9 0.8 2 1.1 2 1.2 1.9 1.5 1.9 1.6 2 1.8 2 2 1.9 2.1 1.9 2.3 2 2.4 2 2.5 1.9 2.5 2 2.5 1.9 2.4 2 2.2 1.9 2 1.9 1.7 2 1.5 2 1 1.9 0.6 1.9 0.3 2zM1371.7 610.6l0.2-2 0.7-1.9 1-1.9 1.4-2 1.7-2 2-1.9 2.3-1.9 2.4-2 2.4-1.9 2.5-2 2.5-1.9 2.4-2 2.3-2 2.2-1.9 2-1.9 1.8-2 1.6-2 1.4-1.9 1.2-1.9 1.1-2 0.9-2 0.7-1.9 0.6-1.9 0.5-2 0.4-2 0.3-1.9 0.2-1.9 0.2-2 0-1.9 0.1-2-0.1-1.9-0.1-2-0.1-2-0.2-1.9-0.3-1.9-0.3-2-0.5-2-0.5-1.9-0.6-1.9-0.7-2-0.8-2-1-1.9-1-1.9-1.2-2-1.2-2-1.3-1.9-1.4-1.9-1.4-2-1.4-1.9-1.4-2-1.3-1.9-1.2-2-1.1-2-1-1.9-0.7-1.9-0.5-2-0.3-2-0.1-1.9 0.1-1.9 0.4-2 0.7-2 0.8-1.9 0.9-1.9 1.1-2 1.2-2 1.3-1.9 1.3-1.9 1.2-2 1.2-2 1.2-1.9 1-1.9 0.8-2 0.7-2 0.6-1.9 0.3-1.9 0.2-2 0.1-2-0.2-1.9-0.2-1.9-0.4-2-0.6-2-0.5-1.9-0.7-1.9-0.7-2-0.6-2-0.7-1.9-0.5-1.9-0.6-2-0.4-2-0.3-1.9-0.2-1.9 0-2 0-2 0.2-1.9 0.3-1.9 0.4-2 0.5-2 0.5-1.9 0.5-1.9 0.6-2 0.6-2 0.5-1.9 0.5-1.9 0.4-2 0.4-2 0.3-1.9 0.2-1.9 0.2-2 0.2-2 0-1.9 0.1-1.9 0-2 0-2 0-1.9 0.1-1.9 0-2 0-2 0.1-1.9 0-1.9 0.1-2 0.1-1.9 0.1-2 0.1-1.9 0.1-2 0.1-2 0.1-1.9 0.1-1.9 0.1-2 0.1-2 0-1.9 0.1-1.9 0-2 0-2 0.1-1.9 0-1.9 0.1-2 0-2 0.1-1.9 0-1.9 0.1-2 0.1-1.9 0-2 0.1-1.9 0.1-2 0-2 0.1-1.6 0.3-8.1 0.2-8.1 0.3-8.2 0.2-8.1 0.3-8.1 0.2-8.1 0.3-8.2 0.2-8.1 0.3-8.1 0.2-8.1 0.2-8.2 0.2-8.1 0.3-8.1 0.2-8.1 0.2-8.2 0.2-8.1 0.2-8.1 0.2-8.1 0.1-8.2 0.2-8.1 0.2-8.1 0.1-8.1 0.1-8.2 0-8.1 0-8.1 0-7.2 0.2 0 0 7.2 0 8.1 0 8.1 0.1 8.2 0.1 8.1 0.2 8.1 0.2 8.1 0.1 8.2 0.2 8.1 0.2 8.1 0.2 8.1 0.2 8.2 0.2 8.1 0.3 8.1 0.2 8.1 0.2 8.2 0.2 8.1 0.3 8.1 0.2 8.1 0.3 8.2 0.2 8.1 0.3 8.1 0.2 8.1 0.3 8.2 0.2 8.1 0.3 8.1 0.1 1.6 0 2 0.1 2 0.1 1.9 0 2 0.1 1.9 0.1 2 0 1.9 0.1 1.9 0 2 0.1 2 0 1.9 0.1 1.9 0 2 0 2 0.1 1.9 0 1.9 0.1 2 0.1 2 0.1 1.9 0.1 1.9 0.1 2 0.1 2 0.1 1.9 0.1 2 0.1 1.9 0.1 2 0 1.9 0.1 1.9 0 2 0 2 0.1 1.9 0 1.9 0 2 0 2 0.1 1.9 0 1.9 0.2 2 0.2 2 0.2 1.9 0.3 1.9 0.4 2 0.4 2 0.5 1.9 0.5 1.9 0.6 2 0.6 2 0.5 1.9 0.5 1.9 0.5 2 0.4 2 0.3 1.9 0.2 1.9 0 2 0 2-0.2 1.9-0.3 1.9-0.4 2-0.6 2-0.5 1.9-0.7 1.9-0.6 2-0.7 2-0.7 1.9-0.5 1.9-0.6 2-0.4 2-0.2 1.9-0.2 1.9 0.1 2 0.2 2 0.3 1.9 0.6 1.9 0.7 2 0.8 2 1 1.9 1.2 1.9 1.2 2 1.2 2 1.3 1.9 1.3 1.9 1.2 2 1.1 2 0.9 1.9 0.8 1.9 0.7 2 0.4 2 0.1 1.9-0.1 1.9-0.3 2-0.5 2-0.7 1.9-1 1.9-1.1 2-1.2 2-1.3 1.9-1.4 2-1.4 1.9-1.4 2-1.4 1.9-1.3 1.9-1.2 2-1.2 2-1 1.9-1 1.9-0.8 2-0.7 2-0.6 1.9-0.5 1.9-0.5 2-0.3 2-0.3 1.9-0.2 1.9-0.1 2-0.1 2-0.1 1.9 0.1 2 0 1.9 0.2 2 0.2 1.9 0.3 1.9 0.4 2 0.5 2 0.6 1.9 0.7 1.9 0.9 2 1.1 2 1.2 1.9 1.4 1.9 1.6 2 1.8 2 2 1.9 2.2 1.9 2.3 2 2.4 2 2.5 1.9 2.5 2 2.4 1.9 2.4 2 2.3 1.9 2 1.9 1.7 2 1.4 2 1 1.9 0.7 1.9 0.2 2z" fill="#fff" stroke="#262626" stroke-width="3.9" stroke-linejoin="round"/>
<path d="M957.5 610.6h8.6M957.5 610.6h8.6M957.5 498.0h8.6M957.5 432.1h8.6M957.5 385.3h8.6M957.5 349.1h8.6M957.5 319.4h8.6M957.5 294.4h8.6M957.5 272.7h8.6M957.5 253.6h8.6M957.5 236.4h8.6M957.5 220.9h8.6M957.5 206.8h8.6M1047.7 610.6h8.6M1047.7 610.6h8.6M1047.7 498.0h8.6M1047.7 432.1h8.6M1047.7 385.3h8.6M1047.7 349.1h8.6M1047.7 319.4h8.6M1047.7 294.4h8.6M1047.7 272.7h8.6M1047.7 253.6h8.6M1138.2 610.6h8.6M1138.2 610.6h8.6M1138.2 498.0h8.6M1138.2 432.1h8.6M1138.2 385.3h8.6M1138.2 349.1h8.6M1138.2 319.4h8.6M1138.2 294.4h8.6M1138.2 272.7h8.6M1227.5 610.6h8.6M1227.5 610.6h8.6M1227.5 498.0h8.6M1227.5 432.1h8.6M1227.5 385.3h8.6M1227.5 349.1h8.6M1227.5 319.4h8.6M1227.5 294.4h8.6M1227.5 272.7h8.6M1227.5 253.6h8.6M1227.5 236.4h8.6M1317.0 610.6h8.6M1317.0 610.6h8.6M1317.0 498.0h8.6M1317.0 432.1h8.6M1317.0 385.3h8.6M1317.0 349.1h8.6M1317.0 319.4h8.6M1317.0 294.4h8.6M1317.0 272.7h8.6M1406.7 610.6h8.6M1406.7 610.6h8.6M1406.7 498.0h8.6M1406.7 432.1h8.6M1406.7 385.3h8.6M1406.7 349.1h8.6M1406.7 319.4h8.6M1406.7 294.4h8.6M1406.7 272.7h8.6M1406.7 253.6h8.6M1406.7 236.4h8.6M1406.7 220.9h8.6" stroke="#000" stroke-width="3.9" stroke-linecap="round" fill="none"/>
<path d="M965.2 193.8h0M958.8 181.8h0M965.2 181.8h0M957.8 170.5h0M960.2 170.5h0M958.8 160.1h0M961.8 160.1h0M964.8 160.1h0M965.2 150.2h0M958.8 140.9h0M1055.0 236.4h0M1052.5 220.9h0M1048.5 206.8h0M1051.0 206.8h0M1052.0 170.5h0M1139.0 253.6h0M1141.5 253.6h0M1138.5 236.4h0M1138.0 220.9h0M1142.5 206.8h0M1146.0 206.8h0M1139.5 193.8h0M1142.5 193.8h0M1145.5 193.8h0M1145.0 140.9h0M1227.8 220.9h0M1228.8 206.8h0M1231.8 206.8h0M1234.8 206.8h0M1227.2 193.8h0M1226.8 181.8h0M1229.2 181.8h0M1230.2 170.5h0M1233.2 140.9h0M1228.8 123.8h0M1231.8 123.8h0M1233.2 123.8h0M1234.8 63.4h0M1321.8 253.6h0M1319.2 253.6h0M1318.2 236.4h0M1321.2 236.4h0M1324.2 236.4h0M1316.8 220.9h0M1317.2 193.8h0M1319.8 193.8h0M1322.2 181.8h0M1324.8 181.8h0M1317.2 170.5h0M1318.8 140.9h0M1408.0 206.8h0M1411.0 206.8h0M1414.0 206.8h0M1407.0 193.8h0M1413.5 181.8h0M1413.0 170.5h0M1412.5 160.1h0M1408.0 132.1h0M1414.0 115.9h0" stroke="#000" stroke-width="3.3" stroke-linecap="round" fill="none"/>
<g font-size="21.5" fill="#000" text-anchor="end">
<text x="902" y="618.3">0</text>
<text x="902" y="455.8">1</text>
<text x="902" y="293.3">2</text>
<text x="902" y="130.8">3</text>
</g>
<text transform="translate(870 327) rotate(-90)" font-size="21.3" text-anchor="middle" fill="#000">Expression Level</text>
<g font-size="22" fill="#000" text-anchor="end">
<text transform="translate(979.6 656.5) rotate(-45)">Pool1_TBG</text>
<text transform="translate(1069.9 656.5) rotate(-45)">Pool1_VEH</text>
<text transform="translate(1174.5 654.1) rotate(-45)">Pool2_5MEO</text>
<text transform="translate(1256.2 655.2) rotate(-45)">Pool2_TBG</text>
<text transform="translate(1343.2 655.0) rotate(-45)">Pool3_5MEO</text>
<text transform="translate(1427.1 661.5) rotate(-45)">Pool3_VEH</text>
</g>
<text x="1196" y="21.4" font-size="29.5" letter-spacing="0.5" font-weight="bold" text-anchor="middle">Actb</text></g>
<g id="panel-c"><path d="M1529.4 52.4H2164.4M1529.4 119.2H2164.4M1529.4 185.9H2164.4M1529.4 252.7H2164.4M1529.4 319.4H2164.4M1529.4 386.2H2164.4M1529.4 453.0H2164.4M1529.4 519.7H2164.4M1529.4 586.5H2164.4M1529.4 653.2H2164.4M1529.4 720.0H2164.4M1529.4 786.8H2164.4M1529.4 853.5H2164.4M1529.4 920.3H2164.4M1529.4 987.0H2164.4M1529.4 1053.8H2164.4M1529.4 1120.6H2164.4M1529.4 1187.3H2164.4M1529.4 1254.1H2164.4M1529.4 1320.8H2164.4M1529.4 1387.6H2164.4" stroke="#e6e6e6" stroke-width="2.4" fill="none"/>
<path d="M1557.8 13.6V1425.8M1703.0 13.6V1425.8M1848.2 13.6V1425.8M1993.4 13.6V1425.8M2138.6 13.6V1425.8" stroke="#e6e6e6" stroke-width="2.4" fill="none"/>
<path d="M1630.4 13.6V1425.8M1775.6 13.6V1425.8M1920.8 13.6V1425.8M2066.0 13.6V1425.8" stroke="#ececec" stroke-width="1.2" fill="none"/>
<path d="M2047.1 22.7H2138.6v59.4H2047.1zM2041.5 89.5H2138.6v59.4H2041.5zM2063.5 156.2H2138.6v59.4H2063.5zM2041.8 223.0H2138.6v59.4H2041.8zM2056.5 289.7H2138.6v59.4H2056.5zM2060.5 356.5H2138.6v59.4H2060.5zM2035.4 423.3H2138.6v59.4H2035.4zM2040.5 490.0H2138.6v59.4H2040.5zM2047.1 556.8H2138.6v59.4H2047.1zM2045.5 623.5H2138.6v59.4H2045.5zM2046.8 690.3H2138.6v59.4H2046.8zM2057.1 757.1H2138.6v59.4H2057.1zM2037.5 823.8H2138.6v59.4H2037.5zM2038.5 890.6H2138.6v59.4H2038.5zM2032.8 957.3H2138.6v59.4H2032.8zM2055.1 1024.1H2138.6v59.4H2055.1zM1987.0 1090.9H2138.6v59.4H1987.0zM1999.4 1157.6H2138.6v59.4H1999.4zM2019.4 1224.4H2138.6v59.4H2019.4zM2035.4 1291.1H2138.6v59.4H2035.4zM2028.8 1357.9H2138.6v59.4H2028.8z" fill="#EA6D69"/>
<path d="M1994.4 22.7H2047.8v59.4H1994.4zM1996.7 89.5H2042.2v59.4H1996.7zM2023.4 156.2H2064.2v59.4H2023.4zM2001.4 223.0H2042.5v59.4H2001.4zM2017.1 289.7H2057.2v59.4H2017.1zM2019.4 356.5H2061.2v59.4H2019.4zM1993.4 423.3H2036.1v59.4H1993.4zM2001.4 490.0H2041.2v59.4H2001.4zM2002.7 556.8H2047.8v59.4H2002.7zM2011.1 623.5H2046.2v59.4H2011.1zM1997.4 690.3H2047.5v59.4H1997.4zM2007.1 757.1H2057.8v59.4H2007.1zM2000.4 823.8H2038.2v59.4H2000.4zM1982.4 890.6H2039.2v59.4H1982.4zM1979.4 957.3H2033.5v59.4H1979.4zM2025.8 1024.1H2055.8v59.4H2025.8zM1939.0 1090.9H1987.7v59.4H1939.0zM1948.7 1157.6H2000.1v59.4H1948.7zM1985.0 1224.4H2020.1v59.4H1985.0zM1990.0 1291.1H2036.1v59.4H1990.0zM1954.7 1357.9H2029.5v59.4H1954.7z" fill="#B2A53C"/>
<path d="M1944.6 22.7H1995.1v59.4H1944.6zM1943.6 89.5H1997.4v59.4H1943.6zM1975.7 156.2H2024.1v59.4H1975.7zM1949.0 223.0H2002.1v59.4H1949.0zM1957.7 289.7H2017.8v59.4H1957.7zM1967.3 356.5H2020.1v59.4H1967.3zM1900.3 423.3H1994.1v59.4H1900.3zM1947.3 490.0H2002.1v59.4H1947.3zM1953.7 556.8H2003.4v59.4H1953.7zM1960.7 623.5H2011.8v59.4H1960.7zM1948.0 690.3H1998.1v59.4H1948.0zM1966.3 757.1H2007.8v59.4H1966.3zM1944.6 823.8H2001.1v59.4H1944.6zM1935.6 890.6H1983.1v59.4H1935.6zM1947.0 957.3H1980.1v59.4H1947.0zM1973.4 1024.1H2026.5v59.4H1973.4zM1859.2 1090.9H1939.7v59.4H1859.2zM1854.5 1157.6H1949.4v59.4H1854.5zM1889.2 1224.4H1985.7v59.4H1889.2zM1891.9 1291.1H1990.7v59.4H1891.9zM1879.6 1357.9H1955.4v59.4H1879.6z" fill="#4DC553"/>
<path d="M1738.0 22.7H1945.3v59.4H1738.0zM1712.0 89.5H1944.3v59.4H1712.0zM1776.7 156.2H1976.4v59.4H1776.7zM1712.3 223.0H1949.7v59.4H1712.3zM1734.7 289.7H1958.4v59.4H1734.7zM1727.3 356.5H1968.0v59.4H1727.3zM1751.7 423.3H1901.0v59.4H1751.7zM1744.4 490.0H1948.0v59.4H1744.4zM1747.0 556.8H1954.4v59.4H1747.0zM1728.0 623.5H1961.4v59.4H1728.0zM1741.4 690.3H1948.7v59.4H1741.4zM1746.0 757.1H1967.0v59.4H1746.0zM1726.3 823.8H1945.3v59.4H1726.3zM1753.4 890.6H1936.3v59.4H1753.4zM1773.4 957.3H1947.7v59.4H1773.4zM1736.3 1024.1H1974.1v59.4H1736.3zM1709.6 1090.9H1859.9v59.4H1709.6zM1712.0 1157.6H1855.2v59.4H1712.0zM1743.0 1224.4H1889.9v59.4H1743.0zM1726.7 1291.1H1892.6v59.4H1726.7zM1725.7 1357.9H1880.3v59.4H1725.7z" fill="#60D2C6"/>
<path d="M1647.2 22.7H1738.7v59.4H1647.2zM1626.5 89.5H1712.7v59.4H1626.5zM1669.9 156.2H1777.4v59.4H1669.9zM1629.5 223.0H1713.0v59.4H1629.5zM1649.2 289.7H1735.4v59.4H1649.2zM1636.5 356.5H1728.0v59.4H1636.5zM1671.6 423.3H1752.4v59.4H1671.6zM1641.5 490.0H1745.1v59.4H1641.5zM1653.2 556.8H1747.7v59.4H1653.2zM1627.2 623.5H1728.7v59.4H1627.2zM1650.6 690.3H1742.1v59.4H1650.6zM1629.5 757.1H1746.7v59.4H1629.5zM1651.2 823.8H1727.0v59.4H1651.2zM1658.6 890.6H1754.1v59.4H1658.6zM1658.2 957.3H1774.1v59.4H1658.2zM1659.6 1024.1H1737.0v59.4H1659.6zM1632.5 1090.9H1710.3v59.4H1632.5zM1657.2 1157.6H1712.7v59.4H1657.2zM1651.2 1224.4H1743.7v59.4H1651.2zM1657.2 1291.1H1727.4v59.4H1657.2zM1653.2 1357.9H1726.4v59.4H1653.2z" fill="#7698CF"/>
<path d="M1557.8 22.7H1647.9v59.4H1557.8zM1557.8 89.5H1627.2v59.4H1557.8zM1557.8 156.2H1670.6v59.4H1557.8zM1557.8 223.0H1630.2v59.4H1557.8zM1557.8 289.7H1649.9v59.4H1557.8zM1557.8 356.5H1637.2v59.4H1557.8zM1557.8 423.3H1672.3v59.4H1557.8zM1557.8 490.0H1642.2v59.4H1557.8zM1557.8 556.8H1653.9v59.4H1557.8zM1557.8 623.5H1627.9v59.4H1557.8zM1557.8 690.3H1651.3v59.4H1557.8zM1557.8 757.1H1630.2v59.4H1557.8zM1557.8 823.8H1651.9v59.4H1557.8zM1557.8 890.6H1659.3v59.4H1557.8zM1557.8 957.3H1658.9v59.4H1557.8zM1557.8 1024.1H1660.3v59.4H1557.8zM1557.8 1090.9H1633.2v59.4H1557.8zM1557.8 1157.6H1657.9v59.4H1557.8zM1557.8 1224.4H1651.9v59.4H1557.8zM1557.8 1291.1H1657.9v59.4H1557.8zM1557.8 1357.9H1653.9v59.4H1557.8z" fill="#C772B7"/>
<g font-size="23.9" fill="#3b4443" text-anchor="middle">
<text x="1838.2" y="61.3">L2/3_IT_Glut_0</text>
<text x="1825.2" y="128.1">L2/3_IT_Glut_5</text>
<text x="1872.2" y="194.8">L4/5_IT_Glut_4</text>
<text x="1825.2" y="261.6">L4/5_IT_Glut_2</text>
<text x="1834.9" y="328.3">L5_IT_Glut_3</text>
<text x="1830.2" y="395.1">L5_ET_Glut_8</text>
<text x="1828.0" y="461.9">L5/6_NP_14</text>
<text x="1834.9" y="528.6">L6_IT_Glut_7</text>
<text x="1829.8" y="595.4">L6_CT_Glut_1</text>
<text x="1823.2" y="662.1">L6_CT_Glut_18</text>
<text x="1848.0" y="728.9">Pvalb_GABA_13</text>
<text x="1852.2" y="795.7">Pvalb_GABA_21</text>
<text x="1839.0" y="862.4">Lamp5_GABA_11</text>
<text x="1843.5" y="929.2">Vip_GABA_19</text>
<text x="1861.4" y="995.9">Oligo_9</text>
<text x="1855.1" y="1062.7">Oligo_15</text>
<text x="1787.6" y="1129.5">Microglia_16</text>
<text x="1800.5" y="1196.2">OPC_17</text>
<text x="1801.3" y="1263.0">Astro_6</text>
<text x="1807.6" y="1329.7">Astro_12</text>
<text x="1807.6" y="1396.5">Astro_20</text>
</g>
<rect x="1529.4" y="13.6" width="635.0" height="1412.2" fill="none" stroke="#222" stroke-width="2.4"/>
<path d="M1521.4 52.4H1529.4M1521.4 119.2H1529.4M1521.4 185.9H1529.4M1521.4 252.7H1529.4M1521.4 319.4H1529.4M1521.4 386.2H1529.4M1521.4 453.0H1529.4M1521.4 519.7H1529.4M1521.4 586.5H1529.4M1521.4 653.2H1529.4M1521.4 720.0H1529.4M1521.4 786.8H1529.4M1521.4 853.5H1529.4M1521.4 920.3H1529.4M1521.4 987.0H1529.4M1521.4 1053.8H1529.4M1521.4 1120.6H1529.4M1521.4 1187.3H1529.4M1521.4 1254.1H1529.4M1521.4 1320.8H1529.4M1521.4 1387.6H1529.4M1557.8 1425.8v8.6M1703.0 1425.8v8.6M1848.2 1425.8v8.6M1993.4 1425.8v8.6M2138.6 1425.8v8.6" stroke="#333" stroke-width="3.8" fill="none"/>
<g font-size="22.6" fill="#404040" text-anchor="middle">
<text x="1557.8" y="1457.6">0</text>
<text x="1703.0" y="1457.6">25</text>
<text x="1848.2" y="1457.6">50</text>
<text x="1993.4" y="1457.6">75</text>
<text x="2138.6" y="1457.6">100</text>
</g>
<text x="1848.2" y="1490.5" font-size="29.9" fill="#111" text-anchor="middle">proportion of cells</text></g>
<g id="panel-d"><path d="M68.6 787.0V1368.2H445.5" stroke="#000" stroke-width="4.8" fill="none" stroke-linejoin="miter"/>
<path d="M63.8 810.0h3M63.8 946.4h3M63.8 1082.9h3M63.8 1219.4h3M63.8 1355.5h3M105.0 1370.1v3M165.4 1370.1v3M225.8 1370.1v3M286.2 1370.1v3M346.8 1370.1v3M407.4 1370.1v3" stroke="#000" stroke-width="3.6" fill="none"/>
<path d="M504.6 787.0V1368.2H880.0" stroke="#000" stroke-width="4.8" fill="none" stroke-linejoin="miter"/>
<path d="M499.8 843.8h3M499.8 979.5h3M499.8 1115.4h3M499.8 1251.2h3M540.8 1370.1v3M601.2 1370.1v3M662.0 1370.1v3M722.0 1370.1v3M782.5 1370.1v3M843.2 1370.1v3" stroke="#000" stroke-width="3.6" fill="none"/>
<path d="M914.2 787.0V1368.2H1290.0" stroke="#000" stroke-width="4.8" fill="none" stroke-linejoin="miter"/>
<path d="M909.4 815.0h3M909.4 920.2h3M909.4 1025.5h3M909.4 1131.6h3M909.4 1237.0h3M909.4 1342.0h3M950.0 1370.1v3M1010.8 1370.1v3M1071.2 1370.1v3M1131.2 1370.1v3M1191.8 1370.1v3M1252.5 1370.1v3" stroke="#000" stroke-width="3.6" fill="none"/>
<path d="M104.9 815l0 4 0 4.1 0 4.1 0 4 0 4 0 4.1 0 4.1-0.1 4 0 4 0 4.1 0 4.1 0 4 0 4 0 4.1 0 4.1 0 4-0.1 4 0 4.1 0 4.1 0 4 0 4 0 4.1 0 4.1 0 4 0 4-0.1 4.1 0 4.1 0 4 0 4 0 4.1 0 4.1-0.1 4 0 4 0 4.1-0.1 4.1-0.1 4 0 4-0.1 4.1-0.1 4.1-0.2 4-0.1 4-0.1 4.1-0.2 4.1-0.2 4-0.2 4-0.2 4.1-0.2 4.1-0.2 4-0.3 4-0.2 4.1-0.3 4.1-0.2 4-0.3 4-0.3 4.1-0.2 4.1-0.3 4-0.3 4-0.3 4.1-0.4 4.1-0.4 4-0.5 4-0.5 4.1-0.5 4.1-0.6 4-0.7 4-0.7 4.1-0.9 4.1-0.8 4-0.9 4-0.8 4.1-0.9 4.1-0.8 4-0.8 4-0.8 4.1-0.8 4.1-0.8 4-0.8 4-0.9 4.1-0.8 4.1-0.9 4-0.8 4-0.8 4.1-0.6 4.1-0.7 4-0.7 4-0.6 4.1-0.6 4.1-0.5 4-0.4 4-0.1 4.1 0.1 4.1 0.3 4 0.5 4 0.5 4.1 0.6 4.1 0.5 4 0.7 4 0.7 4.1 0.7 4.1 0.8 4 0.7 4 0.7 4.1 0.7 4.1 0.8 4 0.7 4 0.6 4.1 0.7 4.1 0.5 4 0.7 4 0.5 4.1 0.4 4.1 0.1 4-0.7 4-1.4 4.1-1.6 4.1-1.6 4-1.4 4-1.5 4.1-1.6 4.1-1.3 4-0.6 4 0.1 4.1 0.6 4.1 1 4 1.2 4 1.4 4.1 2 4.1 2.9 4 3.6 4 3.9 4.1 19 0 3.9-4.1 3.6-4 2.9-4 2-4.1 1.4-4.1 1.2-4 1-4 0.6-4.1 0.1-4.1-0.6-4-1.3-4-1.6-4.1-1.5-4.1-1.4-4-1.6-4-1.6-4.1-1.4-4.1-0.7-4 0.1-4 0.4-4.1 0.5-4.1 0.7-4 0.5-4 0.7-4.1 0.6-4.1 0.7-4 0.8-4 0.7-4.1 0.7-4.1 0.7-4 0.8-4 0.7-4.1 0.7-4.1 0.7-4 0.5-4 0.6-4.1 0.5-4.1 0.5-4 0.3-4 0.1-4.1-0.1-4.1-0.4-4-0.5-4-0.6-4.1-0.6-4.1-0.7-4-0.7-4-0.6-4.1-0.8-4.1-0.8-4-0.9-4-0.8-4.1-0.9-4.1-0.8-4-0.8-4-0.8-4.1-0.8-4.1-0.8-4-0.8-4-0.9-4.1-0.8-4.1-0.9-4-0.8-4-0.9-4.1-0.7-4.1-0.7-4-0.6-4-0.5-4.1-0.5-4.1-0.5-4-0.4-4-0.4-4.1-0.3-4.1-0.3-4-0.3-4-0.2-4.1-0.3-4.1-0.3-4-0.2-4-0.3-4.1-0.2-4.1-0.3-4-0.2-4-0.2-4.1-0.2-4.1-0.2-4-0.2-4-0.2-4.1-0.1-4.1-0.1-4-0.2-4-0.1-4.1-0.1-4.1 0-4-0.1-4-0.1-4.1 0-4.1 0-4-0.1-4 0-4.1 0-4.1 0-4 0-4 0-4.1-0.1-4.1 0-4 0-4 0-4.1 0-4.1 0-4 0-4 0-4.1 0-4.1-0.1-4 0-4 0-4.1 0-4.1 0-4 0-4 0-4.1 0-4.1 0-4-0.1-4 0-4.1 0-4.1 0-4 0-4 0-4.1 0-4.1 0-4zM165.3 822.7l0 4.1 0 4 0 4.1 0 4 0 4.1 0 4 0 4.1 0 4 0 4.1 0 4 0 4.1 0 4 0 4.1 0 4 0 4.1 0 4.1-0.1 4 0 4.1 0 4 0 4.1 0 4 0 4.1 0 4 0 4.1 0 4 0 4.1 0 4-0.1 4.1 0 4 0 4.1 0 4 0 4.1 0 4.1-0.1 4 0 4.1-0.1 4-0.1 4.1 0 4-0.1 4.1-0.1 4-0.2 4.1-0.2 4-0.2 4.1-0.1 4-0.2 4.1-0.1 4-0.2 4.1-0.1 4-0.2 4.1-0.2 4.1-0.3 4-0.2 4.1-0.3 4-0.4 4.1-0.4 4-0.4 4.1-0.4 4-0.6 4.1-0.6 4-0.6 4.1-0.7 4-0.7 4.1-0.7 4-0.7 4.1-0.8 4.1-0.8 4-0.9 4.1-0.9 4-0.9 4.1-1 4-1.1 4.1-1.1 4-1 4.1-1 4-0.9 4.1-0.8 4-0.8 4.1-0.8 4-0.7 4.1-0.6 4.1-0.5 4-0.5 4.1-0.5 4-0.5 4.1-0.4 4-0.4 4.1-0.3 4-0.2 4.1-0.1 4 0.1 4.1 0.2 4 0.4 4.1 0.5 4 0.6 4.1 0.7 4 0.8 4.1 0.9 4.1 1 4 0.8 4.1 0.9 4 0.9 4.1 0.9 4 0.9 4.1 0.8 4 0.6 4.1 0.5 4 0.6 4.1 0.4 4 0.4 4.1 0.1 4-0.2 4.1-0.6 4-0.8 4.1-0.8 4.1-0.9 4-1.1 4.1-1.4 4-1.1 4.1-0.6 4 0.1 4.1 0.5 4 0.7 4.1 1 4 1 4.1 1.6 4 2.2 4.1 2.8 4 3.1 4.1 17 0 3.1-4.1 2.8-4 2.2-4.1 1.6-4 1-4.1 1-4 0.7-4.1 0.5-4 0.1-4.1-0.6-4-1.1-4.1-1.4-4-1.1-4.1-0.9-4-0.8-4.1-0.8-4.1-0.6-4-0.2-4.1 0.1-4 0.4-4.1 0.4-4 0.6-4.1 0.5-4 0.6-4.1 0.8-4 0.9-4.1 0.9-4 0.9-4.1 0.9-4 0.8-4.1 1-4 0.9-4.1 0.8-4.1 0.7-4 0.6-4.1 0.5-4 0.4-4.1 0.2-4 0.1-4.1-0.1-4-0.2-4.1-0.3-4-0.4-4.1-0.4-4-0.5-4.1-0.5-4-0.5-4.1-0.5-4-0.6-4.1-0.7-4.1-0.8-4-0.8-4.1-0.8-4-0.9-4.1-1-4-1-4.1-1.1-4-1.1-4.1-1-4-0.9-4.1-0.9-4-0.9-4.1-0.8-4-0.8-4.1-0.7-4.1-0.7-4-0.7-4.1-0.7-4-0.6-4.1-0.6-4-0.6-4.1-0.4-4-0.4-4.1-0.4-4-0.4-4.1-0.3-4-0.2-4.1-0.3-4-0.2-4.1-0.2-4.1-0.1-4-0.2-4.1-0.1-4-0.2-4.1-0.1-4-0.2-4.1-0.2-4-0.2-4.1-0.1-4-0.1-4.1 0-4-0.1-4.1-0.1-4 0-4.1-0.1-4 0-4.1 0-4.1 0-4 0-4.1 0-4-0.1-4.1 0-4 0-4.1 0-4 0-4.1 0-4 0-4.1 0-4 0-4.1 0-4 0-4.1-0.1-4 0-4.1 0-4.1 0-4 0-4.1 0-4 0-4.1 0-4 0-4.1 0-4 0-4.1 0-4 0-4.1 0-4 0-4.1 0-4 0-4.1zM225.7 832.9l0 4 0 4.1 0 4 0 4 0 4.1 0 4 0 4.1 0 4 0 4 0 4.1 0 4 0 4 0 4.1 0 4 0 4 0 4.1 0 4 0 4.1 0 4 0 4 0 4.1 0 4 0 4 0 4.1 0 4 0 4 0 4.1 0 4 0 4.1 0 4 0 4 0 4.1 0 4 0 4-0.1 4.1 0 4 0 4.1 0 4 0 4 0 4.1 0 4 0 4 0 4.1 0 4 0 4 0 4.1 0 4 0 4.1 0 4 0 4 0 4.1 0 4 0 4 0 4.1-0.1 4 0 4 0 4.1 0 4 0 4.1 0 4 0 4 0 4.1-0.1 4 0 4-0.1 4.1-0.1 4-0.1 4-0.2 4.1-0.2 4-0.4 4.1-0.5 4-0.6 4-0.5 4.1-0.7 4-0.8 4-0.9 4.1-0.9 4-0.9 4-0.8 4.1-0.9 4-0.9 4.1-0.9 4-0.9 4-0.9 4.1-0.9 4-0.9 4-1 4.1-1 4-0.9 4-0.9 4.1-0.8 4-0.9 4.1-0.9 4-0.9 4-0.8 4.1-0.7 4-0.5 4-0.3 4.1 0.1 4 0.3 4.1 0.6 4 0.7 4 0.6 4.1 0.6 4 0.8 4 0.8 4.1 0.7 4 0.6 4 0.4 4.1 0 4-0.1 4.1-0.3 4-1 4-1.8 4.1-1.9 4-1.5 4-1.3 4.1-1.2 4-0.8 4 0.1 4.1 1 4 1.5 4.1 2 4 2.9 4 4.6 4.1 5.6 4 20 0 5.6-4 4.6-4.1 2.9-4 2-4 1.5-4.1 1-4 0.1-4.1-0.8-4-1.2-4-1.3-4.1-1.5-4-1.9-4-1.8-4.1-1-4-0.3-4-0.1-4.1 0-4 0.4-4.1 0.6-4 0.7-4 0.8-4.1 0.8-4 0.6-4 0.6-4.1 0.7-4 0.6-4 0.3-4.1 0.1-4-0.3-4.1-0.5-4-0.7-4-0.8-4.1-0.9-4-0.9-4-0.9-4.1-0.8-4-0.9-4.1-0.9-4-1-4-1-4.1-0.9-4-0.9-4-0.9-4.1-0.9-4-0.9-4-0.9-4.1-0.9-4-0.8-4.1-0.9-4-0.9-4-0.9-4.1-0.8-4-0.7-4-0.5-4.1-0.6-4-0.5-4-0.4-4.1-0.2-4-0.2-4.1-0.1-4-0.1-4-0.1-4.1 0-4-0.1-4 0-4.1 0-4 0-4 0-4.1 0-4 0-4.1 0-4-0.1-4 0-4.1 0-4 0-4 0-4.1 0-4 0-4 0-4.1 0-4 0-4.1 0-4 0-4 0-4.1 0-4 0-4 0-4.1 0-4 0-4 0-4.1 0-4-0.1-4.1 0-4 0-4 0-4.1 0-4 0-4 0-4.1 0-4 0-4.1 0-4 0-4 0-4.1 0-4 0-4 0-4.1 0-4 0-4 0-4.1 0-4 0-4.1 0-4 0-4 0-4.1 0-4 0-4 0-4.1 0-4 0-4 0-4.1 0-4 0-4.1 0-4 0-4 0-4.1 0-4zM286.1 829l0 4 0 4.1 0 4 0 4 0 4.1 0 4 0 4 0 4.1 0 4 0 4.1 0 4 0 4 0 4.1 0 4 0 4 0 4.1 0 4 0 4 0 4.1 0 4 0 4 0 4.1 0 4 0 4.1 0 4 0 4 0 4.1-0.1 4 0 4 0 4.1 0 4 0 4 0 4.1 0 4 0 4 0 4.1 0 4 0 4 0 4.1 0 4 0 4.1 0 4 0 4-0.1 4.1 0 4 0 4 0 4.1 0 4 0 4 0 4.1-0.1 4-0.1 4-0.1 4.1-0.1 4-0.1 4-0.1 4.1-0.1 4-0.1 4.1-0.1 4-0.1 4-0.2 4.1-0.2 4-0.3 4-0.2 4.1-0.3 4-0.4 4-0.3 4.1-0.3 4-0.4 4-0.4 4.1-0.4 4-0.4 4.1-0.5 4-0.5 4-0.5 4.1-0.6 4-0.6 4-0.7 4.1-0.6 4-0.7 4-0.7 4.1-0.8 4-0.8 4-0.8 4.1-0.9 4-1 4-1.1 4.1-1.2 4-1.3 4.1-1.3 4-1.2 4-1.2 4.1-1.1 4-1.3 4-1.2 4.1-1 4-0.7 4-0.3 4.1 0.1 4 0.5 4 0.7 4.1 0.9 4 1 4 0.9 4.1 1 4 1.3 4.1 1.4 4 1.4 4 1.4 4.1 1.3 4 1.1 4 1.1 4.1 1 4 0.6 4-0.2 4.1-0.6 4-0.7 4-1.1 4.1-1.4 4-1.2 4.1-0.5 4 0.4 4 1.1 4.1 1.5 4 1.9 4 3 4.1 3.6 4 12.4 0 3.6-4 3-4.1 1.9-4 1.5-4 1.1-4.1 0.4-4-0.5-4-1.2-4.1-1.4-4-1.1-4.1-0.7-4-0.6-4-0.2-4.1 0.6-4 1-4 1.1-4.1 1.1-4 1.3-4 1.4-4.1 1.4-4 1.4-4 1.3-4.1 1-4 0.9-4.1 1-4 0.9-4 0.7-4.1 0.5-4 0.1-4-0.3-4.1-0.7-4-1-4-1.2-4.1-1.3-4-1.1-4-1.2-4.1-1.2-4-1.3-4-1.3-4.1-1.2-4-1.1-4.1-1-4-0.9-4-0.8-4.1-0.8-4-0.8-4-0.7-4.1-0.7-4-0.6-4-0.7-4.1-0.6-4-0.6-4-0.5-4.1-0.5-4-0.5-4-0.4-4.1-0.4-4-0.4-4.1-0.4-4-0.3-4-0.3-4.1-0.4-4-0.3-4-0.2-4.1-0.3-4-0.2-4-0.2-4.1-0.1-4-0.1-4-0.1-4.1-0.1-4-0.1-4.1-0.1-4-0.1-4-0.1-4.1-0.1-4-0.1-4 0-4.1 0-4 0-4 0-4.1 0-4 0-4-0.1-4.1 0-4 0-4 0-4.1 0-4 0-4.1 0-4 0-4 0-4.1 0-4 0-4 0-4.1 0-4 0-4 0-4.1 0-4-0.1-4 0-4.1 0-4 0-4 0-4.1 0-4 0-4.1 0-4 0-4 0-4.1 0-4 0-4 0-4.1 0-4 0-4 0-4.1 0-4 0-4 0-4.1 0-4 0-4.1 0-4 0-4 0-4.1 0-4 0-4 0-4.1 0-4zM346.7 826l0 4.1 0 4 0 4.1 0 4 0 4.1 0 4.1 0 4 0 4.1 0 4 0 4.1 0 4 0 4.1 0 4.1 0 4 0 4.1 0 4 0 4.1 0 4.1 0 4 0 4.1 0 4 0 4.1 0 4.1 0 4 0 4.1 0 4 0 4.1 0 4.1-0.1 4 0 4.1 0 4 0 4.1 0 4 0 4.1 0 4.1 0 4 0 4.1 0 4 0 4.1 0 4.1 0 4 0 4.1 0 4 0 4.1-0.1 4.1 0 4 0 4.1 0 4 0 4.1 0 4.1 0 4-0.1 4.1-0.1 4-0.1 4.1-0.1 4-0.2 4.1-0.2 4.1-0.3 4-0.3 4.1-0.4 4-0.3 4.1-0.3 4.1-0.3 4-0.3 4.1-0.3 4-0.4 4.1-0.3 4.1-0.4 4-0.4 4.1-0.5 4-0.5 4.1-0.5 4.1-0.5 4-0.6 4.1-0.5 4-0.6 4.1-0.5 4-0.6 4.1-0.7 4.1-0.8 4-1 4.1-1.2 4-1.3 4.1-1.3 4.1-1.3 4-1.3 4.1-1.2 4-1.4 4.1-1.3 4.1-1.3 4-1 4.1-0.7 4-0.4 4.1-0.4 4.1-0.4 4-0.3 4.1-0.2 4-0.1 4.1 0.1 4 0.4 4.1 0.5 4.1 0.7 4 1 4.1 1.2 4 1.3 4.1 1.5 4.1 1.4 4 1.3 4.1 1.6 4 1.6 4.1 1.5 4.1 0.8 4 0 4.1-0.7 4-1 4.1-1.1 4.1-1.1 4-1.2 4.1-1.3 4-0.9 4.1 0 4 0.9 4.1 1.3 4.1 1.7 4 2 4.1 3 4 3.5 4.1 15 0 3.5-4.1 3-4 2-4.1 1.7-4 1.3-4.1 0.9-4.1 0-4-0.9-4.1-1.3-4-1.2-4.1-1.1-4-1.1-4.1-1-4.1-0.7-4 0-4.1 0.8-4 1.5-4.1 1.6-4.1 1.6-4 1.3-4.1 1.4-4 1.5-4.1 1.3-4.1 1.2-4 1-4.1 0.7-4 0.5-4.1 0.4-4.1 0.1-4-0.1-4.1-0.2-4-0.3-4.1-0.4-4-0.4-4.1-0.4-4.1-0.7-4-1-4.1-1.3-4-1.3-4.1-1.4-4.1-1.2-4-1.3-4.1-1.3-4-1.3-4.1-1.3-4.1-1.2-4-1-4.1-0.8-4-0.7-4.1-0.6-4.1-0.5-4-0.6-4.1-0.5-4-0.6-4.1-0.5-4-0.5-4.1-0.5-4.1-0.5-4-0.4-4.1-0.4-4-0.3-4.1-0.4-4.1-0.3-4-0.3-4.1-0.3-4-0.3-4.1-0.3-4.1-0.4-4-0.3-4.1-0.3-4-0.2-4.1-0.2-4.1-0.1-4-0.1-4.1-0.1-4-0.1-4.1 0-4 0-4.1 0-4.1 0-4 0-4.1 0-4-0.1-4.1 0-4.1 0-4 0-4.1 0-4 0-4.1 0-4.1 0-4 0-4.1 0-4 0-4.1 0-4.1 0-4 0-4.1 0-4 0-4.1-0.1-4 0-4.1 0-4.1 0-4 0-4.1 0-4 0-4.1 0-4.1 0-4 0-4.1 0-4 0-4.1 0-4.1 0-4 0-4.1 0-4 0-4.1 0-4.1 0-4 0-4.1 0-4 0-4.1 0-4 0-4.1 0-4.1 0-4 0-4.1 0-4 0-4.1zM407.3 824l0 4 0 4.1 0 4 0 4.1 0 4 0 4.1 0 4 0 4 0 4.1 0 4 0 4.1 0 4 0 4.1 0 4 0 4 0 4.1 0 4 0 4.1 0 4 0 4.1 0 4 0 4 0 4.1 0 4 0 4.1 0 4 0 4.1 0 4 0 4-0.1 4.1 0 4 0 4.1 0 4 0 4.1 0 4 0 4 0 4.1 0 4 0 4.1 0 4 0 4.1 0 4 0 4 0 4.1 0 4 0 4.1-0.1 4 0 4.1 0 4 0 4 0 4.1 0 4 0 4.1-0.1 4-0.1 4.1-0.1 4-0.1 4-0.2 4.1-0.2 4-0.3 4.1-0.3 4-0.3 4.1-0.3 4-0.3 4.1-0.3 4-0.3 4-0.4 4.1-0.3 4-0.4 4.1-0.3 4-0.4 4.1-0.5 4-0.4 4-0.4 4.1-0.4 4-0.5 4.1-0.4 4-0.4 4.1-0.5 4-0.6 4-0.7 4.1-0.8 4-0.9 4.1-1.1 4-1.1 4.1-1.1 4-1.2 4-1.2 4.1-1.3 4-1.3 4.1-1.3 4-1.2 4.1-0.9 4-1 4-0.9 4.1-0.9 4-0.7 4.1-0.6 4-0.2 4.1 0.2 4 0.6 4 0.7 4.1 0.8 4 0.9 4.1 0.9 4 1.1 4.1 1.1 4 1.2 4 1.2 4.1 1.8 4 1.6 4.1 0.9 4-0.3 4.1-1.1 4-1.3 4-1.2 4.1-1 4-1.2 4.1-0.9 4-0.5 4.1 0.2 4 0.6 4 1 4.1 1.4 4 1.5 4.1 2.3 4 3.7 4.1 4.3 4 14 0 4.3-4 3.7-4.1 2.3-4 1.5-4.1 1.4-4 1-4.1 0.6-4 0.2-4-0.5-4.1-0.9-4-1.2-4.1-1-4-1.2-4.1-1.3-4-1.1-4-0.3-4.1 0.9-4 1.6-4.1 1.8-4 1.2-4.1 1.2-4 1.1-4 1.1-4.1 0.9-4 0.9-4.1 0.8-4 0.7-4.1 0.6-4 0.2-4-0.2-4.1-0.6-4-0.7-4.1-0.9-4-0.9-4.1-1-4-0.9-4-1.2-4.1-1.3-4-1.3-4.1-1.3-4-1.2-4.1-1.2-4-1.1-4-1.1-4.1-1.1-4-0.9-4.1-0.8-4-0.7-4.1-0.6-4-0.5-4-0.4-4.1-0.4-4-0.5-4.1-0.4-4-0.4-4.1-0.4-4-0.5-4-0.4-4.1-0.3-4-0.4-4.1-0.3-4-0.4-4.1-0.3-4-0.3-4-0.3-4.1-0.3-4-0.3-4.1-0.3-4-0.3-4.1-0.2-4-0.2-4.1-0.1-4-0.1-4-0.1-4.1-0.1-4 0-4.1 0-4 0-4.1 0-4 0-4 0-4.1-0.1-4 0-4.1 0-4 0-4.1 0-4 0-4 0-4.1 0-4 0-4.1 0-4 0-4.1 0-4 0-4 0-4.1 0-4 0-4.1 0-4-0.1-4.1 0-4 0-4 0-4.1 0-4 0-4.1 0-4 0-4.1 0-4 0-4 0-4.1 0-4 0-4.1 0-4 0-4.1 0-4 0-4 0-4.1 0-4 0-4.1 0-4 0-4.1 0-4 0-4 0-4.1 0-4 0-4.1 0-4 0-4.1 0-4zM540.6 815l0 4 0 4.1 0 4 0 4.1 0 4 0 4.1 0 4 0 4.1 0 4 0 4.1 0 4 0 4.1 0 4 0 4.1 0 4 0 4.1 0 4-0.1 4.1 0 4 0 4.1 0 4 0 4.1 0 4-0.1 4.1 0 4 0 4 0 4.1 0 4-0.1 4.1 0 4 0 4.1-0.1 4 0 4.1 0 4-0.1 4.1 0 4 0 4.1-0.1 4-0.1 4.1-0.3 4-0.4 4.1-0.6 4-0.5 4.1-0.5 4-0.5 4.1-0.6 4-0.6 4.1-0.8 4-0.9 4.1-1.2 4-1.3 4.1-1.5 4-1.5 4-1.5 4.1-1.4 4-1.5 4.1-1.6 4-1.5 4.1-1.5 4-1.2 4.1-0.9 4-0.9 4.1-0.9 4-0.7 4.1-0.6 4-0.5 4.1-0.3 4-0.3 4.1-0.2 4-0.1 4.1-0.1 4 0.1 4.1 0.4 4 0.6 4.1 0.7 4 0.7 4.1 0.9 4 1.2 4.1 1.3 4 1.4 4 1.3 4.1 1.2 4 1.2 4.1 1 4 1.1 4.1 1 4 1 4.1 0.9 4 0.8 4.1 0.8 4 0.8 4.1 0.8 4 0.6 4.1 0.5 4 0.4 4.1 0.3 4 0.2 4.1 0 4-0.5 4.1-0.8 4-1 4.1-1.1 4-1 4.1-0.7 4-0.7 4-0.6 4.1-0.6 4-0.4 4.1 0 4 0.2 4.1 0.4 4 0.5 4.1 0.6 4 0.6 4.1 0.8 4 0.9 4.1 0.9 4 0.9 4.1 0.8 4 0.7 4.1 0.7 4 0.8 4.1 0.7 4 0.6 4.1 0.5 4 0.3 4.1 0.3 4 0.2 4.1 0.3 4 0.3 4 4 0 0.2-4 0.3-4 0.2-4.1 0.3-4 0.3-4.1 0.5-4 0.6-4.1 0.7-4 0.8-4.1 0.7-4 0.7-4.1 0.8-4 0.9-4.1 0.9-4 0.9-4.1 0.8-4 0.6-4.1 0.6-4 0.5-4.1 0.4-4 0.2-4.1 0-4-0.4-4.1-0.6-4-0.6-4.1-0.7-4-0.7-4-1-4.1-1.1-4-1-4.1-0.8-4-0.5-4.1 0-4 0.2-4.1 0.3-4 0.4-4.1 0.5-4 0.6-4.1 0.8-4 0.8-4.1 0.8-4 0.8-4.1 0.9-4 1-4.1 1-4 1.1-4.1 1-4 1.2-4.1 1.2-4 1.3-4.1 1.4-4 1.3-4 1.2-4.1 0.9-4 0.7-4.1 0.7-4 0.6-4.1 0.4-4 0.1-4.1-0.1-4-0.1-4.1-0.2-4-0.3-4.1-0.3-4-0.5-4.1-0.6-4-0.7-4.1-0.9-4-0.9-4.1-0.9-4-1.2-4.1-1.5-4-1.5-4.1-1.6-4-1.5-4.1-1.4-4-1.5-4.1-1.5-4-1.5-4-1.3-4.1-1.2-4-0.9-4.1-0.8-4-0.6-4.1-0.6-4-0.5-4.1-0.5-4-0.5-4.1-0.6-4-0.4-4.1-0.3-4-0.1-4.1-0.1-4 0-4.1 0-4-0.1-4.1 0-4 0-4.1-0.1-4 0-4.1 0-4-0.1-4.1 0-4 0-4.1 0-4 0-4-0.1-4.1 0-4 0-4.1 0-4 0-4.1 0-4-0.1-4.1 0-4 0-4.1 0-4 0-4.1 0-4 0-4.1 0-4 0-4.1 0-4 0-4.1 0-4 0-4.1 0-4 0-4.1 0-4 0-4.1-0.1-4zM601.2 873.8l-0.1 4 0 4 0 4.1 0 4 0 4.1 0 4 0 4.1 0 4 0 4-0.1 4.1 0 4 0 4.1 0 4-0.1 4.1 0 4-0.1 4 0 4.1 0 4-0.1 4.1 0 4-0.1 4.1-0.1 4 0 4.1-0.3 4-0.4 4-0.5 4.1-0.5 4-0.5 4.1-0.4 4-0.4 4.1-0.3 4-0.4 4-0.4 4.1-0.6 4-0.9 4.1-1.2 4-1.4 4.1-1.5 4-1.6 4-1.4 4.1-1.4 4-1.5 4.1-1.6 4-1.5 4.1-1.3 4-1.2 4.1-1 4-1 4-0.9 4.1-0.8 4-0.7 4.1-0.6 4-0.3 4.1-0.4 4-0.3 4-0.2 4.1-0.1 4 0.1 4.1 0.5 4 0.7 4.1 0.8 4 0.8 4 0.8 4.1 1 4 1 4.1 1.2 4 1.1 4.1 1.1 4 1.2 4.1 1.3 4 1.3 4 1.2 4.1 1.2 4 1.1 4.1 0.9 4 1 4.1 0.9 4 0.8 4 0.7 4.1 0.5 4 0.4 4.1 0.4 4 0.3 4.1 0.2 4-0.1 4-0.6 4.1-1 4-1 4.1-0.8 4-0.6 4.1-0.6 4-0.5 4.1-0.5 4-0.3 4-0.2 4.1 0 4 0.2 4.1 0.3 4 0.5 4.1 0.5 4 0.6 4 0.5 4.1 0.6 4 0.7 4.1 0.7 4 0.7 4.1 0.8 4 0.7 4 0.7 4.1 0.8 4 0.8 4.1 0.6 4 0.3 4.1 0.2 4 0.1 4.1 3.4 0 0-4.1 0.2-4 0.3-4.1 0.6-4 0.8-4.1 0.8-4 0.7-4.1 0.7-4 0.8-4 0.7-4.1 0.7-4 0.7-4.1 0.6-4 0.5-4.1 0.6-4 0.5-4 0.5-4.1 0.3-4 0.2-4.1 0-4-0.2-4.1-0.3-4-0.5-4-0.5-4.1-0.6-4-0.6-4.1-0.8-4-1-4.1-1-4-0.6-4.1-0.1-4 0.2-4 0.3-4.1 0.4-4 0.4-4.1 0.5-4 0.7-4.1 0.8-4 0.9-4 1-4.1 0.9-4 1.1-4.1 1.2-4 1.2-4.1 1.3-4 1.3-4 1.2-4.1 1.1-4 1.1-4.1 1.2-4 1-4.1 1-4 0.8-4.1 0.8-4 0.8-4 0.7-4.1 0.5-4 0.1-4.1-0.1-4-0.2-4.1-0.3-4-0.4-4-0.3-4.1-0.6-4-0.7-4.1-0.8-4-0.9-4.1-1-4-1-4-1.2-4.1-1.3-4-1.5-4.1-1.6-4-1.5-4.1-1.4-4-1.4-4.1-1.6-4-1.5-4-1.4-4.1-1.2-4-0.9-4.1-0.6-4-0.4-4.1-0.4-4-0.3-4-0.4-4.1-0.4-4-0.5-4.1-0.5-4-0.5-4.1-0.4-4-0.3-4 0-4.1-0.1-4-0.1-4.1 0-4-0.1-4.1 0-4 0-4.1-0.1-4 0-4-0.1-4.1 0-4 0-4.1 0-4-0.1-4.1 0-4 0-4 0-4.1 0-4 0-4.1 0-4 0-4.1 0-4 0-4zM661.9 835l0 4.1 0 4 0 4.1 0 4 0 4.1 0 4.1 0 4 0 4.1 0 4.1 0 4 0 4.1 0 4.1 0 4 0 4.1 0 4 0 4.1 0 4.1-0.1 4 0 4.1 0 4 0 4.1 0 4.1 0 4 0 4.1 0 4.1 0 4 0 4.1 0 4.1-0.1 4 0 4.1 0 4 0 4.1 0 4.1 0 4 0 4.1-0.1 4 0 4.1 0 4.1 0 4 0 4.1-0.1 4.1 0 4 0 4.1-0.1 4.1-0.1 4-0.2 4.1-0.1 4-0.3 4.1-0.3 4.1-0.5 4-0.7 4.1-0.9 4-1 4.1-1.3 4.1-1.4 4-1.6 4.1-1.5 4.1-1.6 4-1.4 4.1-1.5 4.1-1.6 4-1.5 4.1-1.4 4-1.3 4.1-1.1 4.1-1.1 4-1.1 4.1-1 4-0.9 4.1-0.6 4.1-0.5 4-0.3 4.1-0.3 4.1-0.3 4-0.2 4.1 0 4.1 0 4 0.5 4.1 0.7 4 0.8 4.1 0.8 4.1 0.8 4 1 4.1 1 4 1.1 4.1 1.1 4.1 1 4 1 4.1 0.9 4.1 0.9 4 0.9 4.1 0.8 4.1 0.6 4 0.5 4.1 0.5 4 0.4 4.1 0.1 4.1-0.1 4-0.6 4.1-0.9 4-1 4.1-1.1 4.1-0.9 4-0.9 4.1-0.9 4.1-0.8 4-0.6 4.1-0.1 4.1 0.3 4 0.8 4.1 0.9 4 0.9 4.1 1.2 4.1 1.5 4 1.7 4.1 1.7 4 1.6 4.1 1.5 4.1 1.6 4 1.4 4.1 1.3 4.1 1.1 4 0.9 4.1 0.8 4.1 3 0 0.8-4.1 0.9-4.1 1.1-4 1.3-4.1 1.4-4.1 1.6-4 1.5-4.1 1.6-4.1 1.7-4 1.7-4.1 1.5-4 1.2-4.1 0.9-4.1 0.9-4 0.8-4.1 0.3-4-0.1-4.1-0.6-4.1-0.8-4-0.9-4.1-0.9-4.1-0.9-4-1.1-4.1-1-4.1-0.9-4-0.6-4.1-0.1-4 0.1-4.1 0.4-4.1 0.5-4 0.5-4.1 0.6-4 0.8-4.1 0.9-4.1 0.9-4 0.9-4.1 1-4.1 1-4 1.1-4.1 1.1-4.1 1-4 1-4.1 0.8-4 0.8-4.1 0.8-4.1 0.7-4 0.5-4.1 0-4 0-4.1-0.2-4.1-0.3-4-0.3-4.1-0.3-4.1-0.5-4-0.6-4.1-0.9-4.1-1-4-1.1-4.1-1.1-4-1.1-4.1-1.3-4.1-1.4-4-1.5-4.1-1.6-4-1.5-4.1-1.4-4.1-1.6-4-1.5-4.1-1.6-4.1-1.4-4-1.3-4.1-1-4.1-0.9-4-0.7-4.1-0.5-4-0.3-4.1-0.3-4.1-0.1-4-0.2-4.1-0.1-4-0.1-4.1 0-4.1 0-4-0.1-4.1 0-4.1 0-4 0-4.1 0-4.1-0.1-4 0-4.1 0-4 0-4.1 0-4.1 0-4 0-4.1-0.1-4 0-4.1 0-4.1 0-4 0-4.1 0-4.1 0-4 0-4.1 0-4.1 0-4 0-4.1-0.1-4 0-4.1 0-4.1 0-4 0-4.1 0-4 0-4.1 0-4.1 0-4 0-4.1 0-4.1 0-4 0-4.1 0-4.1 0-4 0-4.1 0-4 0-4.1zM721.9 832l0 4 0 4.1 0 4 0 4.1 0 4 0 4.1 0 4 0 4.1 0 4 0 4.1 0 4 0 4.1 0 4 0 4 0 4.1 0 4-0.1 4.1 0 4 0 4.1 0 4 0 4.1 0 4 0 4.1 0 4 0 4.1 0 4-0.1 4.1 0 4 0 4 0 4.1 0 4 0 4.1-0.1 4 0 4.1 0 4 0 4.1-0.1 4 0 4.1 0 4-0.1 4.1-0.1 4-0.2 4-0.3 4.1-0.3 4-0.4 4.1-0.5 4-0.6 4.1-0.6 4-0.8 4.1-0.7 4-0.8 4.1-0.9 4-1 4.1-1.1 4-1.1 4.1-1.1 4-1.2 4-1.2 4.1-1.3 4-1.3 4.1-1.2 4-1.2 4.1-1 4-0.9 4.1-0.9 4-0.8 4.1-0.8 4-0.7 4.1-0.6 4-0.6 4-0.6 4.1-0.7 4-0.5 4.1-0.5 4-0.4 4.1-0.2 4 0 4.1 0.3 4 0.5 4.1 0.8 4 0.9 4.1 0.9 4 1 4 1.1 4.1 1.3 4 1.3 4.1 1.3 4 1.3 4.1 1.1 4 1.1 4.1 1 4 1.1 4.1 0.9 4 1 4.1 0.9 4 0.8 4.1 0.9 4 0.8 4 0.6 4.1 0.5 4 0.3 4.1 0.3 4 0.3 4.1 0.1 4 0 4.1-0.4 4-0.7 4.1-0.8 4-0.7 4.1-0.5 4-0.1 4 0.2 4.1 0.3 4 0.5 4.1 0.5 4 0.5 4.1 0.8 4 0.8 4.1 0.7 4 0.7 4.1 0.6 4 0.5 4.1 0.5 4 0.4 4.1 3 0 0.4-4.1 0.5-4 0.5-4.1 0.6-4 0.7-4.1 0.7-4 0.8-4.1 0.8-4 0.5-4.1 0.5-4 0.5-4.1 0.3-4 0.2-4.1-0.1-4-0.5-4-0.7-4.1-0.8-4-0.7-4.1-0.4-4 0-4.1 0.1-4 0.3-4.1 0.3-4 0.3-4.1 0.5-4 0.6-4.1 0.8-4 0.9-4 0.8-4.1 0.9-4 1-4.1 0.9-4 1.1-4.1 1-4 1.1-4.1 1.1-4 1.3-4.1 1.3-4 1.3-4.1 1.3-4 1.1-4.1 1-4 0.9-4 0.9-4.1 0.8-4 0.5-4.1 0.3-4 0-4.1-0.2-4-0.4-4.1-0.5-4-0.5-4.1-0.7-4-0.6-4.1-0.6-4-0.6-4-0.7-4.1-0.8-4-0.8-4.1-0.9-4-0.9-4.1-1-4-1.2-4.1-1.2-4-1.3-4.1-1.3-4-1.2-4.1-1.2-4-1.1-4-1.1-4.1-1.1-4-1-4.1-0.9-4-0.8-4.1-0.7-4-0.8-4.1-0.6-4-0.6-4.1-0.5-4-0.4-4.1-0.3-4-0.3-4.1-0.2-4-0.1-4-0.1-4.1 0-4 0-4.1-0.1-4 0-4.1 0-4 0-4.1-0.1-4 0-4.1 0-4 0-4.1 0-4 0-4-0.1-4.1 0-4 0-4.1 0-4 0-4.1 0-4 0-4.1 0-4 0-4.1 0-4-0.1-4.1 0-4 0-4.1 0-4 0-4 0-4.1 0-4 0-4.1 0-4 0-4.1 0-4 0-4.1 0-4 0-4.1 0-4 0-4.1 0-4zM782.4 839.5l0 4 0 4.1 0 4 0 4.1 0 4 0 4 0 4.1 0 4 0 4 0 4.1 0 4 0 4.1 0 4 0 4 0 4.1 0 4 0 4.1 0 4 0 4 0 4.1-0.1 4 0 4 0 4.1 0 4 0 4.1 0 4 0 4 0 4.1 0 4 0 4.1 0 4 0 4-0.1 4.1-0.2 4-0.2 4.1-0.3 4-0.4 4-0.4 4.1-0.5 4-0.6 4-0.7 4.1-0.7 4-0.9 4.1-1.1 4-1.2 4-1.3 4.1-1.4 4-1.3 4.1-1.2 4-1.3 4-1.3 4.1-1.2 4-1.2 4-1.2 4.1-1 4-1 4.1-1 4-1 4-0.9 4.1-0.7 4-0.6 4.1-0.5 4-0.5 4-0.5 4.1-0.3 4-0.4 4-0.2 4.1-0.2 4-0.2 4.1-0.2 4-0.1 4 0 4.1 0.2 4 0.6 4.1 0.7 4 0.9 4 0.9 4.1 1 4 1.2 4.1 1.3 4 1.3 4 1.3 4.1 1.2 4 1.3 4 1.3 4.1 1.3 4 1.2 4.1 1.1 4 1 4 1.1 4.1 1 4 1 4.1 0.9 4 0.5 4 0.1 4.1-0.2 4-0.6 4-0.7 4.1-0.8 4-0.8 4.1-0.6 4-0.5 4-0.6 4.1-0.6 4-0.5 4.1-0.2 4-0.1 4 0.4 4.1 0.6 4 0.8 4 0.8 4.1 0.7 4 0.9 4.1 1 4 1 4 0.9 4.1 0.8 4 0.9 4.1 0.8 4 0.6 4 0.3 4.1 0.1 4 0.1 4 2.6 0 0.1-4 0.1-4 0.3-4.1 0.6-4 0.8-4 0.9-4.1 0.8-4 0.9-4.1 1-4 1-4 0.9-4.1 0.7-4 0.8-4.1 0.8-4 0.6-4 0.4-4.1-0.1-4-0.2-4-0.5-4.1-0.6-4-0.6-4.1-0.5-4-0.6-4-0.8-4.1-0.8-4-0.7-4.1-0.6-4-0.2-4 0.1-4.1 0.5-4 0.9-4 1-4.1 1-4 1.1-4.1 1-4 1.1-4 1.2-4.1 1.3-4 1.3-4.1 1.3-4 1.2-4 1.3-4.1 1.3-4 1.3-4 1.2-4.1 1-4 0.9-4.1 0.9-4 0.7-4 0.6-4.1 0.2-4 0-4.1-0.1-4-0.2-4-0.2-4.1-0.2-4-0.2-4.1-0.4-4-0.3-4-0.5-4.1-0.5-4-0.5-4-0.6-4.1-0.7-4-0.9-4.1-1-4-1-4-1-4.1-1-4-1.2-4.1-1.2-4-1.2-4-1.3-4.1-1.3-4-1.2-4-1.3-4.1-1.4-4-1.3-4.1-1.2-4-1.1-4-0.9-4.1-0.7-4-0.7-4.1-0.6-4-0.5-4-0.4-4.1-0.4-4-0.3-4-0.2-4.1-0.2-4-0.1-4.1 0-4 0-4 0-4.1 0-4 0-4.1 0-4 0-4 0-4.1 0-4 0-4.1 0-4-0.1-4 0-4.1 0-4 0-4 0-4.1 0-4 0-4.1 0-4 0-4 0-4.1 0-4 0-4.1 0-4 0-4 0-4.1 0-4 0-4 0-4.1 0-4 0-4.1 0-4zM843.2 825.8l-0.1 4 0 4 0 4.1 0 4 0 4 0 4.1 0 4 0 4 0 4.1 0 4 0 4.1 0 4 0 4 0 4.1 0 4 0 4 0 4.1 0 4-0.1 4.1 0 4 0 4 0 4.1 0 4 0 4-0.1 4.1 0 4 0 4.1 0 4-0.1 4 0 4.1 0 4 0 4-0.1 4.1 0 4 0 4-0.1 4.1 0 4 0 4.1-0.1 4-0.1 4-0.3 4.1-0.5 4-0.6 4-0.8 4.1-0.8 4-0.7 4.1-1 4-1.1 4-1.3 4.1-1.2 4-1.3 4-1.3 4.1-1.2 4-1.2 4.1-1.3 4-1.2 4-1.2 4.1-1.1 4-1.1 4-1 4.1-1 4-1 4.1-0.8 4-0.8 4-0.6 4.1-0.6 4-0.6 4-0.5 4.1-0.4 4-0.3 4-0.2 4.1-0.1 4-0.1 4.1-0.1 4-0.1 4 0 4.1 0 4 0.4 4 0.6 4.1 0.7 4 0.8 4.1 0.9 4 1 4 1.2 4.1 1.3 4 1.4 4 1.3 4.1 1.2 4 1.3 4.1 1.3 4 1.3 4 1.1 4.1 1 4 0.7 4 0.6 4.1 0.5 4 0.4 4 0.2 4.1 0 4-0.3 4.1-0.5 4-0.5 4-0.5 4.1-0.5 4-0.3 4-0.4 4.1-0.4 4-0.2 4.1-0.1 4 0.2 4 0.5 4.1 0.6 4 0.7 4 0.7 4.1 0.7 4 0.8 4.1 0.8 4 0.9 4 0.8 4.1 0.8 4 0.9 4 1 4.1 0.9 4 0.7 4.1 0.3 4 0.1 4 0 4.1 0.1 4 2.6 0 0-4 0-4.1 0.1-4 0.3-4 0.7-4.1 0.9-4 1-4.1 0.9-4 0.8-4 0.8-4.1 0.9-4 0.8-4 0.8-4.1 0.7-4 0.7-4.1 0.7-4 0.6-4 0.5-4.1 0.2-4-0.1-4-0.2-4.1-0.4-4-0.4-4.1-0.3-4-0.5-4-0.5-4.1-0.5-4-0.5-4-0.3-4.1 0-4 0.2-4.1 0.4-4 0.5-4 0.6-4.1 0.7-4 1-4 1.1-4.1 1.3-4 1.3-4 1.3-4.1 1.2-4 1.3-4.1 1.4-4 1.3-4 1.2-4.1 1-4 0.9-4 0.8-4.1 0.7-4 0.6-4.1 0.4-4 0-4 0-4.1-0.1-4-0.1-4-0.1-4.1-0.1-4-0.2-4.1-0.3-4-0.4-4-0.5-4.1-0.6-4-0.6-4-0.6-4.1-0.8-4-0.8-4-1-4.1-1-4-1-4.1-1.1-4-1.1-4-1.2-4.1-1.2-4-1.3-4-1.2-4.1-1.2-4-1.3-4.1-1.3-4-1.2-4-1.3-4.1-1.1-4-1-4-0.7-4.1-0.8-4-0.8-4.1-0.6-4-0.5-4-0.3-4.1-0.1-4-0.1-4 0-4.1 0-4-0.1-4.1 0-4 0-4-0.1-4.1 0-4 0-4 0-4.1-0.1-4 0-4 0-4.1 0-4-0.1-4.1 0-4 0-4 0-4.1 0-4 0-4-0.1-4.1 0-4 0-4.1 0-4 0-4 0-4.1 0-4 0-4 0-4.1 0-4 0-4.1 0-4 0-4 0-4.1 0-4 0-4 0-4.1 0-4 0-4zM949.9 830l0 470-0.2 20-0.2 8-0.5 4-0.7 2.5-0.8 1.5-1 1-2 1-3.5 1-5.7 0.8-5.8 0.7-3.7 0.5-2.8 0.5-1.6 0.8 57.2 0-1.6-0.8-2.8-0.5-3.7-0.5-5.8-0.7-5.7-0.8-3.5-1-2-1-1-1-0.8-1.5-0.7-2.5-0.5-4-0.2-8-0.2-20 0-470zM1010.7 861.2l-0.1 438.8-0.1 20-0.2 8-0.4 4-0.5 2.5-0.8 1.5-0.8 1-1.6 1-3 1-4.9 0.8-5.7 0.7-4.3 0.5-3.7 0.5-2.4 0.8 57.2 0-2.6-0.8-3.6-0.5-4.4-0.5-5.6-0.7-5-0.8-2.9-1-1.7-1-0.7-1-0.8-1.5-0.5-2.5-0.4-4-0.2-8-0.2-20 0-438.8zM1071.2 864.2l0 435.8-0.2 20-0.2 8-0.6 4-0.6 2.5-0.9 1.5-0.9 1-2 1-3.6 1-5.6 0.8-5.8 0.7-3.8 0.5-2.8 0.5-1.6 0.8 57.2 0-1.6-0.8-2.7-0.5-3.7-0.5-5.9-0.7-5.7-0.8-3.5-1-1.9-1-1-1-0.9-1.5-0.6-2.5-0.5-4-0.3-8-0.1-20-0.1-435.8zM1131.2 815l0 485-0.2 20-0.1 8-0.4 4-0.4 2.5-0.5 1.5-0.6 1-1.3 1-2.5 1-4.2 0.8-5.4 0.7-5.1 0.5-4.5 0.5-3.4 0.8 57.2 0-3.4-0.8-4.4-0.5-5-0.5-5.5-0.7-4.3-0.8-2.4-1-1.2-1-0.7-1-0.5-1.5-0.4-2.5-0.4-4-0.1-8-0.1-20-0.1-485zM1191.7 838.8l-0.1 461.2-0.1 20-0.1 8-0.4 4-0.5 2.5-0.6 1.5-0.7 1-1.4 1-2.6 1-4.5 0.8-5.5 0.7-4.7 0.5-4.3 0.5-3 0.8 57.2 0-3.2-0.8-4.2-0.5-4.8-0.5-5.4-0.7-4.6-0.8-2.5-1-1.5-1-0.6-1-0.6-1.5-0.5-2.5-0.3-4-0.2-8-0.2-20 0-461.2zM1252.4 820.5l0 479.5-0.2 20-0.2 8-0.5 4-0.6 2.5-0.8 1.5-0.9 1-1.9 1-3.3 1-5.4 0.8-5.8 0.7-4 0.5-3 0.5-1.9 0.8 57.2 0-1.9-0.8-3-0.5-4-0.5-5.8-0.7-5.4-0.8-3.3-1-1.9-1-0.9-1-0.8-1.5-0.6-2.5-0.5-4-0.2-8-0.2-20 0-479.5z" fill="#fff" stroke="#262626" stroke-width="3.9" stroke-linejoin="round"/>
<g font-size="21.7" fill="#000" text-anchor="end">
<text x="60.9" y="820.9" letter-spacing="0.95">40000</text>
<text x="60.9" y="957.3" letter-spacing="0.95">30000</text>
<text x="60.9" y="1093.8" letter-spacing="0.95">20000</text>
<text x="60.9" y="1230.3" letter-spacing="0.95">10000</text>
<text x="60.9" y="1366.4" letter-spacing="0.95">0</text>
<text x="496.9" y="854.5" letter-spacing="1.33">8000</text>
<text x="496.9" y="990.2" letter-spacing="1.33">6000</text>
<text x="496.9" y="1126.1" letter-spacing="1.33">4000</text>
<text x="496.9" y="1261.9" letter-spacing="1.33">2000</text>
<text x="904.6" y="820.4">5</text>
<text x="904.6" y="925.6">4</text>
<text x="904.6" y="1030.9">3</text>
<text x="904.6" y="1137.0">2</text>
<text x="904.6" y="1242.4">1</text>
<text x="904.6" y="1347.4">0</text>
</g>
<g font-size="22" fill="#000" text-anchor="end">
<text transform="translate(108.1 1386.7) rotate(-45)">Pool1_TBG</text>
<text transform="translate(168.5 1386.7) rotate(-45)">Pool1_VEH</text>
<text transform="translate(249.3 1386.6) rotate(-45)" letter-spacing="-0.2">Pool2_5MEO</text>
<text transform="translate(301.7 1388.7) rotate(-45)" letter-spacing="1.0">Pool2_TBG</text>
<text transform="translate(369.3 1385.9) rotate(-45)" letter-spacing="-0.2">Pool3_5MEO</text>
<text transform="translate(429.5 1388.0) rotate(-45)" letter-spacing="1.0">Pool3_VEH</text>
</g>
<g font-size="22" fill="#000" text-anchor="end">
<text transform="translate(544.1 1386.7) rotate(-45)">Pool1_TBG</text>
<text transform="translate(604.9 1386.7) rotate(-45)">Pool1_VEH</text>
<text transform="translate(685.5 1386.6) rotate(-45)" letter-spacing="-0.2">Pool2_5MEO</text>
<text transform="translate(737.0 1388.7) rotate(-45)" letter-spacing="1.0">Pool2_TBG</text>
<text transform="translate(804.7 1385.9) rotate(-45)" letter-spacing="-0.2">Pool3_5MEO</text>
<text transform="translate(865.0 1388.0) rotate(-45)" letter-spacing="1.0">Pool3_VEH</text>
</g>
<g font-size="22" fill="#000" text-anchor="end">
<text transform="translate(949.6 1386.7) rotate(-45)">Pool1_TBG</text>
<text transform="translate(1010.4 1386.7) rotate(-45)">Pool1_VEH</text>
<text transform="translate(1093.2 1386.6) rotate(-45)" letter-spacing="-0.2">Pool2_5MEO</text>
<text transform="translate(1143.5 1388.7) rotate(-45)" letter-spacing="1.0">Pool2_TBG</text>
<text transform="translate(1211.0 1385.9) rotate(-45)" letter-spacing="-0.2">Pool3_5MEO</text>
<text transform="translate(1269.9 1388.0) rotate(-45)" letter-spacing="1.0">Pool3_VEH</text>
</g>
<g font-weight="bold" fill="#000" text-anchor="middle">
<text x="273.8" y="780.6" font-size="28.9" letter-spacing="1">nCount_RNA</text>
<text x="700.8" y="780.6" font-size="28.9" letter-spacing="3.6">nFeature_RNA</text>
<text x="1126.9" y="776.3" font-size="28.9" letter-spacing="0.8">percent.mt</text>
</g>
<g font-size="23.6" fill="#000">
<rect x="1290.5" y="939.5" width="43" height="42.6" fill="#EA6D69"/>
<text x="1351" y="969.5">Pool1_TBG</text>
<rect x="1290.5" y="986.5" width="43" height="42.6" fill="#B2A53C"/>
<text x="1351" y="1016.5">Pool1_VEH</text>
<rect x="1290.5" y="1033.5" width="43" height="42.6" fill="#4DC553"/>
<text x="1351" y="1063.5">Pool2_5MEO</text>
<rect x="1290.5" y="1080.5" width="43" height="42.6" fill="#60D2C6"/>
<text x="1351" y="1110.5">Pool2_TBG</text>
<rect x="1290.5" y="1127.5" width="43" height="42.6" fill="#7698CF"/>
<text x="1351" y="1157.5">Pool3_5MEO</text>
<rect x="1290.5" y="1174.5" width="43" height="42.6" fill="#C772B7"/>
<text x="1351" y="1204.5">Pool3_VEH</text>
</g></g>
<g font-size="35" font-weight="bold" fill="#000"><text x="2.5" y="34.8">a</text><text x="834.5" y="33.8">b</text><text x="1454" y="35.2" font-size="33">c</text><text x="2.5" y="762">d</text></g>
</svg></body></html>
